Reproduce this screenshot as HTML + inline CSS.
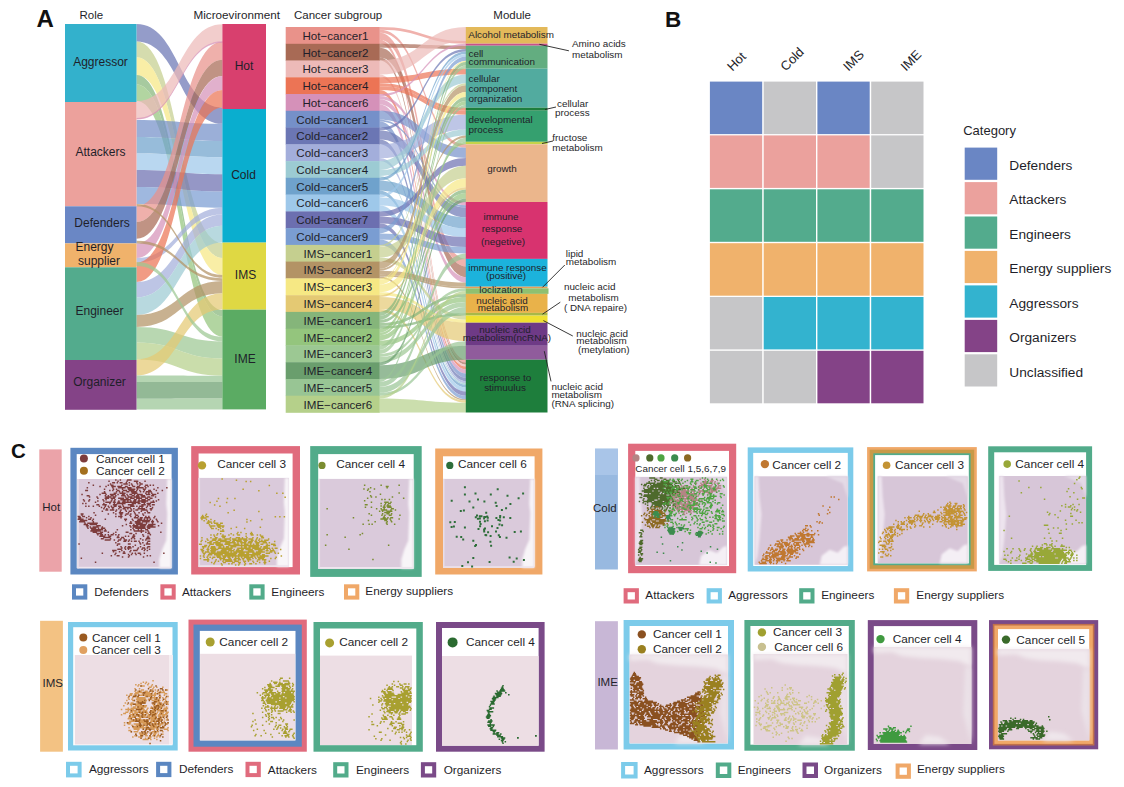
<!DOCTYPE html>
<html><head><meta charset="utf-8"><style>
html,body{margin:0;padding:0;background:#fff;}
svg{display:block;font-family:"Liberation Sans",sans-serif;}
</style></head><body>
<svg width="1124" height="787" viewBox="0 0 1124 787">
<defs><filter id="bl1" x="-50%" y="-50%" width="200%" height="200%"><feGaussianBlur stdDeviation="1"/></filter><filter id="bl2" x="-50%" y="-50%" width="200%" height="200%"><feGaussianBlur stdDeviation="2"/></filter></defs>
<rect width="1124" height="787" fill="#fff"/>
<text x="36.5" y="27.2" font-size="24" font-weight="bold" fill="#111">A</text>
<text x="79.5" y="18.9" font-size="11.5" fill="#1f1f2a">Role</text>
<text x="193.5" y="18.9" font-size="11.7" fill="#1f1f2a">Microevironment</text>
<text x="294" y="18.9" font-size="11.5" fill="#1f1f2a">Cancer subgroup</text>
<text x="493.3" y="18.9" font-size="11.5" fill="#1f1f2a">Module</text>
<path d="M136.5 24C179.5 24 179.5 107.6 222.5 107.6L222.5 123.8C179.5 123.8 179.5 41.4 136.5 41.4Z" fill="#6b76b4" fill-opacity="0.72"/>
<path d="M136.5 41.4C179.5 41.4 179.5 243 222.5 243L222.5 257.9C179.5 257.9 179.5 57.3 136.5 57.3Z" fill="#c5cf8f" fill-opacity="0.72"/>
<path d="M136.5 57.3C179.5 57.3 179.5 257.9 222.5 257.9L222.5 275C179.5 275 179.5 75.1 136.5 75.1Z" fill="#f6e884" fill-opacity="0.72"/>
<path d="M136.5 75.1C179.5 75.1 179.5 310 222.5 310L222.5 316.2C179.5 316.2 179.5 84.6 136.5 84.6Z" fill="#85b57a" fill-opacity="0.72"/>
<path d="M136.5 84.6C179.5 84.6 179.5 316.2 222.5 316.2L222.5 336.8C179.5 336.8 179.5 101.1 136.5 101.1Z" fill="#94c57d" fill-opacity="0.72"/>
<path d="M136.5 101.1C179.5 101.1 179.5 24.2 222.5 24.2L222.5 41.7C179.5 41.7 179.5 118.9 136.5 118.9Z" fill="#edbab8" fill-opacity="0.72"/>
<path d="M136.5 119.9C179.5 119.9 179.5 123.8 222.5 123.8L222.5 141C179.5 141 179.5 137 136.5 137Z" fill="#7590c9" fill-opacity="0.72"/>
<path d="M136.5 137C179.5 137 179.5 141 222.5 141L222.5 157.2C179.5 157.2 179.5 153.5 136.5 153.5Z" fill="#6fa2cc" fill-opacity="0.72"/>
<path d="M136.5 153.5C179.5 153.5 179.5 157.2 222.5 157.2L222.5 174.3C179.5 174.3 179.5 170 136.5 170Z" fill="#9ec8ea" fill-opacity="0.72"/>
<path d="M136.5 170C179.5 170 179.5 174.3 222.5 174.3L222.5 191.5C179.5 191.5 179.5 187 136.5 187Z" fill="#6c6fb0" fill-opacity="0.72"/>
<path d="M136.5 187C179.5 187 179.5 191.5 222.5 191.5L222.5 207.7C179.5 207.7 179.5 204 136.5 204Z" fill="#7a9dd2" fill-opacity="0.72"/>
<path d="M136.5 206C179.5 206 179.5 41.7 222.5 41.7L222.5 59.8C179.5 59.8 179.5 222 136.5 222Z" fill="#e9928a" fill-opacity="0.72"/>
<path d="M136.5 222C179.5 222 179.5 59.8 222.5 59.8L222.5 75.9C179.5 75.9 179.5 238.7 136.5 238.7Z" fill="#a86a55" fill-opacity="0.72"/>
<path d="M136.5 243.6C179.5 243.6 179.5 75.9 222.5 75.9L222.5 89.9C179.5 89.9 179.5 258 136.5 258Z" fill="#d591b9" fill-opacity="0.72"/>
<path d="M136.5 258C179.5 258 179.5 207.7 222.5 207.7L222.5 214.4C179.5 214.4 179.5 262.5 136.5 262.5Z" fill="#a3aedb" fill-opacity="0.72"/>
<path d="M136.5 262.5C179.5 262.5 179.5 89.9 222.5 89.9L222.5 107.4C179.5 107.4 179.5 282 136.5 282Z" fill="#ec7455" fill-opacity="0.72"/>
<path d="M136.5 282C179.5 282 179.5 214.4 222.5 214.4L222.5 225.8C179.5 225.8 179.5 297.4 136.5 297.4Z" fill="#a3aedb" fill-opacity="0.72"/>
<path d="M136.5 297.4C179.5 297.4 179.5 225.8 222.5 225.8L222.5 242.5C179.5 242.5 179.5 315 136.5 315Z" fill="#9ccbd3" fill-opacity="0.72"/>
<path d="M136.5 315C179.5 315 179.5 281 222.5 281L222.5 293.3C179.5 293.3 179.5 327 136.5 327Z" fill="#b39365" fill-opacity="0.72"/>
<path d="M136.5 327C179.5 327 179.5 341.4 222.5 341.4L222.5 358.5C179.5 358.5 179.5 342.6 136.5 342.6Z" fill="#9cc893" fill-opacity="0.72"/>
<path d="M136.5 342.6C179.5 342.6 179.5 358.5 222.5 358.5L222.5 375.7C179.5 375.7 179.5 359.4 136.5 359.4Z" fill="#b5d08a" fill-opacity="0.72"/>
<path d="M136.5 359.4C179.5 359.4 179.5 293.3 222.5 293.3L222.5 309.6C179.5 309.6 179.5 375.5 136.5 375.5Z" fill="#e4c973" fill-opacity="0.72"/>
<path d="M136.5 375.5C179.5 375.5 179.5 375.7 222.5 375.7L222.5 382C179.5 382 179.5 382 136.5 382Z" fill="#98c594" fill-opacity="0.72"/>
<path d="M136.5 382C179.5 382 179.5 382 222.5 382L222.5 398.5C179.5 398.5 179.5 398.7 136.5 398.7Z" fill="#6a9e6d" fill-opacity="0.72"/>
<path d="M136.5 398.7C179.5 398.7 179.5 398.5 222.5 398.5L222.5 409.5C179.5 409.5 179.5 409.5 136.5 409.5Z" fill="#98c594" fill-opacity="0.72"/>
<path d="M136.5 262C179.5 262 179.5 336.8 222.5 336.8L222.5 341.4C179.5 341.4 179.5 266 136.5 266Z" fill="#9cc893" fill-opacity="0.72"/>
<path d="M136.5 118C179.5 118 179.5 41.2 222.5 41.2L222.5 42.8C179.5 42.8 179.5 119.6 136.5 119.6Z" fill="#d591b9" fill-opacity="0.72"/>
<path d="M136.5 204C179.5 204 179.5 275 222.5 275L222.5 277.8C179.5 277.8 179.5 206.3 136.5 206.3Z" fill="#b39365" fill-opacity="0.72"/>
<path d="M136.5 240.8C179.5 240.8 179.5 278.2 222.5 278.2L222.5 281C179.5 281 179.5 243.4 136.5 243.4Z" fill="#b39365" fill-opacity="0.72"/>
<path d="M379.8 27C422.9 27 422.9 41 466 41L466 43.7C422.9 43.7 422.9 29.7 379.8 29.7Z" fill="#e9928a" fill-opacity="0.7"/>
<path d="M379.8 29.7C422.9 29.7 422.9 144.3 466 144.3L466 147.7C422.9 147.7 422.9 32.7 379.8 32.7Z" fill="#e9928a" fill-opacity="0.7"/>
<path d="M379.8 32.7C422.9 32.7 422.9 258.9 466 258.9L466 266.4C422.9 266.4 422.9 39.7 379.8 39.7Z" fill="#e9928a" fill-opacity="0.7"/>
<path d="M379.8 39.7C422.9 39.7 422.9 359.7 466 359.7L466 362.5C422.9 362.5 422.9 43.8 379.8 43.8Z" fill="#e9928a" fill-opacity="0.7"/>
<path d="M379.8 43.8C422.9 43.8 422.9 45.7 466 45.7L466 49C422.9 49 422.9 47.7 379.8 47.7Z" fill="#a86a55" fill-opacity="0.7"/>
<path d="M379.8 47.7C422.9 47.7 422.9 266.4 466 266.4L466 277.2C422.9 277.2 422.9 57.6 379.8 57.6Z" fill="#a86a55" fill-opacity="0.7"/>
<path d="M379.8 57.6C422.9 57.6 422.9 362.5 466 362.5L466 364.6C422.9 364.6 422.9 60.5 379.8 60.5Z" fill="#a86a55" fill-opacity="0.7"/>
<path d="M379.8 60.5C422.9 60.5 422.9 27 466 27L466 41C422.9 41 422.9 74.6 379.8 74.6Z" fill="#edbab8" fill-opacity="0.7"/>
<path d="M379.8 74.6C422.9 74.6 422.9 364.6 466 364.6L466 366.5C422.9 366.5 422.9 77.3 379.8 77.3Z" fill="#edbab8" fill-opacity="0.7"/>
<path d="M379.8 77.3C422.9 77.3 422.9 68.7 466 68.7L466 74.5C422.9 74.5 422.9 83.2 379.8 83.2Z" fill="#ec7455" fill-opacity="0.7"/>
<path d="M379.8 83.2C422.9 83.2 422.9 107.7 466 107.7L466 110.7C422.9 110.7 422.9 86.2 379.8 86.2Z" fill="#ec7455" fill-opacity="0.7"/>
<path d="M379.8 86.2C422.9 86.2 422.9 110.7 466 110.7L466 114.8C422.9 114.8 422.9 90.1 379.8 90.1Z" fill="#ec7455" fill-opacity="0.7"/>
<path d="M379.8 90.1C422.9 90.1 422.9 366.5 466 366.5L466 369.3C422.9 369.3 422.9 94 379.8 94Z" fill="#ec7455" fill-opacity="0.7"/>
<path d="M379.8 94C422.9 94 422.9 43.7 466 43.7L466 45.7C422.9 45.7 422.9 96.1 379.8 96.1Z" fill="#d591b9" fill-opacity="0.7"/>
<path d="M379.8 96.1C422.9 96.1 422.9 202 466 202L466 205.3C422.9 205.3 422.9 99.3 379.8 99.3Z" fill="#d591b9" fill-opacity="0.7"/>
<path d="M379.8 99.3C422.9 99.3 422.9 277.2 466 277.2L466 282.6C422.9 282.6 422.9 104.5 379.8 104.5Z" fill="#d591b9" fill-opacity="0.7"/>
<path d="M379.8 104.5C422.9 104.5 422.9 369.3 466 369.3L466 373.4C422.9 373.4 422.9 110.8 379.8 110.8Z" fill="#d591b9" fill-opacity="0.7"/>
<path d="M379.8 110.8C422.9 110.8 422.9 147.7 466 147.7L466 157.9C422.9 157.9 422.9 119.7 379.8 119.7Z" fill="#7590c9" fill-opacity="0.7"/>
<path d="M379.8 119.7C422.9 119.7 422.9 205.3 466 205.3L466 207.5C422.9 207.5 422.9 121.6 379.8 121.6Z" fill="#7590c9" fill-opacity="0.7"/>
<path d="M379.8 121.6C422.9 121.6 422.9 373.4 466 373.4L466 377.6C422.9 377.6 422.9 127.6 379.8 127.6Z" fill="#7590c9" fill-opacity="0.7"/>
<path d="M379.8 127.6C422.9 127.6 422.9 49 466 49L466 51.6C422.9 51.6 422.9 130.5 379.8 130.5Z" fill="#6b76b4" fill-opacity="0.7"/>
<path d="M379.8 130.5C422.9 130.5 422.9 207.5 466 207.5L466 217.3C422.9 217.3 422.9 139.4 379.8 139.4Z" fill="#6b76b4" fill-opacity="0.7"/>
<path d="M379.8 139.4C422.9 139.4 422.9 377.6 466 377.6L466 381.1C422.9 381.1 422.9 144.3 379.8 144.3Z" fill="#6b76b4" fill-opacity="0.7"/>
<path d="M379.8 144.3C422.9 144.3 422.9 114.8 466 114.8L466 129.4C422.9 129.4 422.9 158.1 379.8 158.1Z" fill="#a3aedb" fill-opacity="0.7"/>
<path d="M379.8 158.1C422.9 158.1 422.9 381.1 466 381.1L466 383.2C422.9 383.2 422.9 161.1 379.8 161.1Z" fill="#a3aedb" fill-opacity="0.7"/>
<path d="M379.8 161.1C422.9 161.1 422.9 74.5 466 74.5L466 83.3C422.9 83.3 422.9 170 379.8 170Z" fill="#9ccbd3" fill-opacity="0.7"/>
<path d="M379.8 170C422.9 170 422.9 129.4 466 129.4L466 135.6C422.9 135.6 422.9 175.9 379.8 175.9Z" fill="#9ccbd3" fill-opacity="0.7"/>
<path d="M379.8 175.9C422.9 175.9 422.9 383.2 466 383.2L466 384.6C422.9 384.6 422.9 177.8 379.8 177.8Z" fill="#9ccbd3" fill-opacity="0.7"/>
<path d="M379.8 177.8C422.9 177.8 422.9 51.6 466 51.6L466 54.1C422.9 54.1 422.9 180.8 379.8 180.8Z" fill="#6fa2cc" fill-opacity="0.7"/>
<path d="M379.8 180.8C422.9 180.8 422.9 217.3 466 217.3L466 228.3C422.9 228.3 422.9 190.7 379.8 190.7Z" fill="#6fa2cc" fill-opacity="0.7"/>
<path d="M379.8 190.7C422.9 190.7 422.9 384.6 466 384.6L466 387.4C422.9 387.4 422.9 194.6 379.8 194.6Z" fill="#6fa2cc" fill-opacity="0.7"/>
<path d="M379.8 194.6C422.9 194.6 422.9 54.1 466 54.1L466 56.6C422.9 56.6 422.9 197.6 379.8 197.6Z" fill="#9ec8ea" fill-opacity="0.7"/>
<path d="M379.8 197.6C422.9 197.6 422.9 228.3 466 228.3L466 237C422.9 237 422.9 205.4 379.8 205.4Z" fill="#9ec8ea" fill-opacity="0.7"/>
<path d="M379.8 205.4C422.9 205.4 422.9 387.4 466 387.4L466 391.6C422.9 391.6 422.9 211.4 379.8 211.4Z" fill="#9ec8ea" fill-opacity="0.7"/>
<path d="M379.8 211.4C422.9 211.4 422.9 157.9 466 157.9L466 165.8C422.9 165.8 422.9 216.7 379.8 216.7Z" fill="#6c6fb0" fill-opacity="0.7"/>
<path d="M379.8 216.7C422.9 216.7 422.9 237 466 237L466 246.9C422.9 246.9 422.9 223.5 379.8 223.5Z" fill="#6c6fb0" fill-opacity="0.7"/>
<path d="M379.8 223.5C422.9 223.5 422.9 391.6 466 391.6L466 395.8C422.9 395.8 422.9 228.1 379.8 228.1Z" fill="#6c6fb0" fill-opacity="0.7"/>
<path d="M379.8 228.1C422.9 228.1 422.9 56.6 466 56.6L466 60.8C422.9 60.8 422.9 233.4 379.8 233.4Z" fill="#7a9dd2" fill-opacity="0.7"/>
<path d="M379.8 233.4C422.9 233.4 422.9 246.9 466 246.9L466 253.4C422.9 253.4 422.9 239.6 379.8 239.6Z" fill="#7a9dd2" fill-opacity="0.7"/>
<path d="M379.8 239.6C422.9 239.6 422.9 395.8 466 395.8L466 399.2C422.9 399.2 422.9 244.9 379.8 244.9Z" fill="#7a9dd2" fill-opacity="0.7"/>
<path d="M379.8 244.9C422.9 244.9 422.9 83.3 466 83.3L466 85.3C422.9 85.3 422.9 246.8 379.8 246.8Z" fill="#c5cf8f" fill-opacity="0.7"/>
<path d="M379.8 246.8C422.9 246.8 422.9 165.8 466 165.8L466 178.2C422.9 178.2 422.9 257.6 379.8 257.6Z" fill="#c5cf8f" fill-opacity="0.7"/>
<path d="M379.8 257.6C422.9 257.6 422.9 315.6 466 315.6L466 319.7C422.9 319.7 422.9 261.6 379.8 261.6Z" fill="#c5cf8f" fill-opacity="0.7"/>
<path d="M379.8 261.6C422.9 261.6 422.9 85.3 466 85.3L466 92.1C422.9 92.1 422.9 268.8 379.8 268.8Z" fill="#b39365" fill-opacity="0.7"/>
<path d="M379.8 268.8C422.9 268.8 422.9 135.6 466 135.6L466 137.7C422.9 137.7 422.9 270.8 379.8 270.8Z" fill="#b39365" fill-opacity="0.7"/>
<path d="M379.8 270.8C422.9 270.8 422.9 282.6 466 282.6L466 286.7C422.9 286.7 422.9 274.7 379.8 274.7Z" fill="#b39365" fill-opacity="0.7"/>
<path d="M379.8 274.7C422.9 274.7 422.9 286.7 466 286.7L466 288.3C422.9 288.3 422.9 276.4 379.8 276.4Z" fill="#b39365" fill-opacity="0.7"/>
<path d="M379.8 276.4C422.9 276.4 422.9 399.2 466 399.2L466 400.6C422.9 400.6 422.9 278.4 379.8 278.4Z" fill="#b39365" fill-opacity="0.7"/>
<path d="M379.8 278.4C422.9 278.4 422.9 60.8 466 60.8L466 62C422.9 62 422.9 279.8 379.8 279.8Z" fill="#f6e884" fill-opacity="0.7"/>
<path d="M379.8 279.8C422.9 279.8 422.9 92.1 466 92.1L466 97C422.9 97 422.9 284.6 379.8 284.6Z" fill="#f6e884" fill-opacity="0.7"/>
<path d="M379.8 284.6C422.9 284.6 422.9 178.2 466 178.2L466 187.3C422.9 187.3 422.9 292.3 379.8 292.3Z" fill="#f6e884" fill-opacity="0.7"/>
<path d="M379.8 292.3C422.9 292.3 422.9 319.7 466 319.7L466 322.7C422.9 322.7 422.9 295.2 379.8 295.2Z" fill="#f6e884" fill-opacity="0.7"/>
<path d="M379.8 295.2C422.9 295.2 422.9 187.3 466 187.3L466 189.6C422.9 189.6 422.9 297.1 379.8 297.1Z" fill="#e4c973" fill-opacity="0.7"/>
<path d="M379.8 297.1C422.9 297.1 422.9 322.7 466 322.7L466 341.2C422.9 341.2 422.9 309 379.8 309Z" fill="#e4c973" fill-opacity="0.7"/>
<path d="M379.8 309C422.9 309 422.9 400.6 466 400.6L466 402.7C422.9 402.7 422.9 311.9 379.8 311.9Z" fill="#e4c973" fill-opacity="0.7"/>
<path d="M379.8 311.9C422.9 311.9 422.9 62 466 62L466 65.4C422.9 65.4 422.9 315.9 379.8 315.9Z" fill="#85b57a" fill-opacity="0.7"/>
<path d="M379.8 315.9C422.9 315.9 422.9 97 466 97L466 100.9C422.9 100.9 422.9 319.9 379.8 319.9Z" fill="#85b57a" fill-opacity="0.7"/>
<path d="M379.8 319.9C422.9 319.9 422.9 189.6 466 189.6L466 192.9C422.9 192.9 422.9 323 379.8 323Z" fill="#85b57a" fill-opacity="0.7"/>
<path d="M379.8 323C422.9 323 422.9 293.9 466 293.9L466 296.9C422.9 296.9 422.9 326 379.8 326Z" fill="#85b57a" fill-opacity="0.7"/>
<path d="M379.8 326C422.9 326 422.9 312.9 466 312.9L466 315.6C422.9 315.6 422.9 328.7 379.8 328.7Z" fill="#85b57a" fill-opacity="0.7"/>
<path d="M379.8 328.7C422.9 328.7 422.9 100.9 466 100.9L466 104.8C422.9 104.8 422.9 332.7 379.8 332.7Z" fill="#94c57d" fill-opacity="0.7"/>
<path d="M379.8 332.7C422.9 332.7 422.9 141.8 466 141.8L466 144.3C422.9 144.3 422.9 335.3 379.8 335.3Z" fill="#94c57d" fill-opacity="0.7"/>
<path d="M379.8 335.3C422.9 335.3 422.9 192.9 466 192.9L466 198.6C422.9 198.6 422.9 340.4 379.8 340.4Z" fill="#94c57d" fill-opacity="0.7"/>
<path d="M379.8 340.4C422.9 340.4 422.9 296.9 466 296.9L466 301.9C422.9 301.9 422.9 345.4 379.8 345.4Z" fill="#94c57d" fill-opacity="0.7"/>
<path d="M379.8 345.4C422.9 345.4 422.9 65.4 466 65.4L466 68.7C422.9 68.7 422.9 349.7 379.8 349.7Z" fill="#9cc893" fill-opacity="0.7"/>
<path d="M379.8 349.7C422.9 349.7 422.9 137.7 466 137.7L466 141.8C422.9 141.8 422.9 353.9 379.8 353.9Z" fill="#9cc893" fill-opacity="0.7"/>
<path d="M379.8 353.9C422.9 353.9 422.9 288.3 466 288.3L466 291.1C422.9 291.1 422.9 356.9 379.8 356.9Z" fill="#9cc893" fill-opacity="0.7"/>
<path d="M379.8 356.9C422.9 356.9 422.9 301.9 466 301.9L466 306.9C422.9 306.9 422.9 362.2 379.8 362.2Z" fill="#9cc893" fill-opacity="0.7"/>
<path d="M379.8 362.2C422.9 362.2 422.9 198.6 466 198.6L466 202C422.9 202 422.9 365.2 379.8 365.2Z" fill="#6a9e6d" fill-opacity="0.7"/>
<path d="M379.8 365.2C422.9 365.2 422.9 345.8 466 345.8L466 359.7C422.9 359.7 422.9 379 379.8 379Z" fill="#6a9e6d" fill-opacity="0.7"/>
<path d="M379.8 379C422.9 379 422.9 104.8 466 104.8L466 107.7C422.9 107.7 422.9 381.9 379.8 381.9Z" fill="#98c594" fill-opacity="0.7"/>
<path d="M379.8 381.9C422.9 381.9 422.9 253.4 466 253.4L466 258.9C422.9 258.9 422.9 386.8 379.8 386.8Z" fill="#98c594" fill-opacity="0.7"/>
<path d="M379.8 386.8C422.9 386.8 422.9 306.9 466 306.9L466 312.9C422.9 312.9 422.9 392.8 379.8 392.8Z" fill="#98c594" fill-opacity="0.7"/>
<path d="M379.8 392.8C422.9 392.8 422.9 341.2 466 341.2L466 345.8C422.9 345.8 422.9 395.7 379.8 395.7Z" fill="#98c594" fill-opacity="0.7"/>
<path d="M379.8 395.7C422.9 395.7 422.9 291.1 466 291.1L466 293.9C422.9 293.9 422.9 398.5 379.8 398.5Z" fill="#b5d08a" fill-opacity="0.7"/>
<path d="M379.8 398.5C422.9 398.5 422.9 402.7 466 402.7L466 412.5C422.9 412.5 422.9 412.5 379.8 412.5Z" fill="#b5d08a" fill-opacity="0.7"/>
<rect x="65" y="24" width="71.5" height="78" fill="#33b1cc"/>
<rect x="65" y="102" width="71.5" height="104.3" fill="#eca19c"/>
<rect x="65" y="206.3" width="71.5" height="37.1" fill="#6a87c5"/>
<rect x="65" y="243.4" width="71.5" height="23.9" fill="#f0b26b"/>
<rect x="65" y="267.3" width="71.5" height="92.7" fill="#53ab8d"/>
<rect x="65" y="360" width="71.5" height="49.8" fill="#844387"/>
<text x="100.5" y="65.5" font-size="12" text-anchor="middle" fill="#1f1f2a">Aggressor</text>
<text x="100.5" y="156" font-size="12" text-anchor="middle" fill="#1f1f2a">Attackers</text>
<text x="102" y="226.8" font-size="12" text-anchor="middle" fill="#1f1f2a">Defenders</text>
<text x="94.5" y="251" font-size="12" text-anchor="middle" fill="#1f1f2a">Energy</text>
<text x="99" y="265" font-size="12" text-anchor="middle" fill="#1f1f2a">supplier</text>
<text x="99.5" y="315" font-size="12" text-anchor="middle" fill="#1f1f2a">Engineer</text>
<text x="99.5" y="385.9" font-size="12" text-anchor="middle" fill="#1f1f2a">Organizer</text>
<rect x="222.4" y="24" width="43.6" height="85" fill="#d8406e"/>
<text x="244" y="69.5" font-size="12" text-anchor="middle" fill="#1f1f2a">Hot</text>
<rect x="222.4" y="109" width="43.6" height="133.6" fill="#0aaecf"/>
<text x="243.5" y="178.6" font-size="12" text-anchor="middle" fill="#1f1f2a">Cold</text>
<rect x="222.4" y="242.6" width="43.6" height="67.1" fill="#dfd843"/>
<text x="245.5" y="278.8" font-size="12" text-anchor="middle" fill="#1f1f2a">IMS</text>
<rect x="222.4" y="309.7" width="43.6" height="99.7" fill="#5bab63"/>
<text x="245" y="362.9" font-size="12" text-anchor="middle" fill="#1f1f2a">IME</text>
<rect x="285.7" y="27" width="94.1" height="17.1" fill="#e9928a"/>
<text x="302.4" y="39.8" font-size="11.6" fill="#1f1f2a">Hot−cancer1</text>
<rect x="285.7" y="43.8" width="94.1" height="17.1" fill="#a86a55"/>
<text x="302.4" y="56.6" font-size="11.6" fill="#1f1f2a">Hot−cancer2</text>
<rect x="285.7" y="60.5" width="94.1" height="17.1" fill="#edbab8"/>
<text x="302.4" y="73.3" font-size="11.6" fill="#1f1f2a">Hot−cancer3</text>
<rect x="285.7" y="77.3" width="94.1" height="17.1" fill="#ec7455"/>
<text x="302.4" y="90.1" font-size="11.6" fill="#1f1f2a">Hot−cancer4</text>
<rect x="285.7" y="94" width="94.1" height="17.1" fill="#d591b9"/>
<text x="302.4" y="106.8" font-size="11.6" fill="#1f1f2a">Hot−cancer6</text>
<rect x="285.7" y="110.8" width="94.1" height="17.1" fill="#7590c9"/>
<text x="296.3" y="123.6" font-size="11.6" fill="#1f1f2a">Cold−cancer1</text>
<rect x="285.7" y="127.6" width="94.1" height="17.1" fill="#6b76b4"/>
<text x="296.3" y="140.4" font-size="11.6" fill="#1f1f2a">Cold−cancer2</text>
<rect x="285.7" y="144.3" width="94.1" height="17.1" fill="#a3aedb"/>
<text x="296.3" y="157.1" font-size="11.6" fill="#1f1f2a">Cold−cancer3</text>
<rect x="285.7" y="161.1" width="94.1" height="17.1" fill="#9ccbd3"/>
<text x="296.3" y="173.9" font-size="11.6" fill="#1f1f2a">Cold−cancer4</text>
<rect x="285.7" y="177.8" width="94.1" height="17.1" fill="#6fa2cc"/>
<text x="296.3" y="190.6" font-size="11.6" fill="#1f1f2a">Cold−cancer5</text>
<rect x="285.7" y="194.6" width="94.1" height="17.1" fill="#9ec8ea"/>
<text x="296.3" y="207.4" font-size="11.6" fill="#1f1f2a">Cold−cancer6</text>
<rect x="285.7" y="211.4" width="94.1" height="17.1" fill="#6c6fb0"/>
<text x="296.3" y="224.2" font-size="11.6" fill="#1f1f2a">Cold−cancer7</text>
<rect x="285.7" y="228.1" width="94.1" height="17.1" fill="#7a9dd2"/>
<text x="296.3" y="240.9" font-size="11.6" fill="#1f1f2a">Cold−cancer9</text>
<rect x="285.7" y="244.9" width="94.1" height="17.1" fill="#c5cf8f"/>
<text x="303.5" y="257.7" font-size="11.6" fill="#1f1f2a">IMS−cancer1</text>
<rect x="285.7" y="261.6" width="94.1" height="17.1" fill="#b39365"/>
<text x="303.5" y="274.4" font-size="11.6" fill="#1f1f2a">IMS−cancer2</text>
<rect x="285.7" y="278.4" width="94.1" height="17.1" fill="#f6e884"/>
<text x="303.5" y="291.2" font-size="11.6" fill="#1f1f2a">IMS−cancer3</text>
<rect x="285.7" y="295.2" width="94.1" height="17.1" fill="#e4c973"/>
<text x="303.5" y="308" font-size="11.6" fill="#1f1f2a">IMS−cancer4</text>
<rect x="285.7" y="311.9" width="94.1" height="17.1" fill="#85b57a"/>
<text x="303.5" y="324.7" font-size="11.6" fill="#1f1f2a">IME−cancer1</text>
<rect x="285.7" y="328.7" width="94.1" height="17.1" fill="#94c57d"/>
<text x="303.5" y="341.5" font-size="11.6" fill="#1f1f2a">IME−cancer2</text>
<rect x="285.7" y="345.4" width="94.1" height="17.1" fill="#9cc893"/>
<text x="303.5" y="358.2" font-size="11.6" fill="#1f1f2a">IME−cancer3</text>
<rect x="285.7" y="362.2" width="94.1" height="17.1" fill="#6a9e6d"/>
<text x="303.5" y="375" font-size="11.6" fill="#1f1f2a">IME−cancer4</text>
<rect x="285.7" y="379" width="94.1" height="17.1" fill="#98c594"/>
<text x="303.5" y="391.8" font-size="11.6" fill="#1f1f2a">IME−cancer5</text>
<rect x="285.7" y="395.7" width="94.1" height="17.1" fill="#b5d08a"/>
<text x="303.5" y="408.5" font-size="11.6" fill="#1f1f2a">IME−cancer6</text>
<rect x="465.8" y="27" width="81.7" height="16.7" fill="#e3b95a"/>
<rect x="465.8" y="43.7" width="81.7" height="2" fill="#c8508c"/>
<rect x="465.8" y="45.7" width="81.7" height="23" fill="#63ad80"/>
<rect x="465.8" y="68.7" width="81.7" height="39" fill="#52ab9f"/>
<rect x="465.8" y="107.7" width="81.7" height="3" fill="#1e7d3c"/>
<rect x="465.8" y="110.7" width="81.7" height="31.1" fill="#35a06f"/>
<rect x="465.8" y="141.8" width="81.7" height="2.5" fill="#c4d44a"/>
<rect x="465.8" y="144.3" width="81.7" height="57.7" fill="#ebb68c"/>
<rect x="465.8" y="202" width="81.7" height="56.9" fill="#d8336f"/>
<rect x="465.8" y="258.9" width="81.7" height="27.8" fill="#1cb3dc"/>
<rect x="465.8" y="286.7" width="81.7" height="1.6" fill="#e8a058"/>
<rect x="465.8" y="288.3" width="82.7" height="5.6" fill="#8fc070"/>
<rect x="465.8" y="293.9" width="81.7" height="19" fill="#e9b24a"/>
<rect x="465.8" y="312.9" width="81.7" height="2.7" fill="#a8b848"/>
<rect x="465.8" y="315.6" width="81.7" height="7.1" fill="#f0e030"/>
<rect x="465.8" y="322.7" width="81.7" height="23.1" fill="#6e3a86"/>
<rect x="465.8" y="345.8" width="81.7" height="13.9" fill="#905c9c"/>
<rect x="465.8" y="359.7" width="81.7" height="52.8" fill="#1e7e3c"/>
<text x="468.3" y="37.6" font-size="9.9" fill="#1f1f2a">Alcohol metabolism</text>
<text x="468.5" y="57" font-size="9.9" fill="#1f1f2a">cell</text>
<text x="468.5" y="64.5" font-size="9.9" fill="#1f1f2a">communication</text>
<text x="468.5" y="81.5" font-size="9.9" fill="#1f1f2a">cellular</text>
<text x="468.5" y="91.5" font-size="9.9" fill="#1f1f2a">component</text>
<text x="468.5" y="101.5" font-size="9.9" fill="#1f1f2a">organization</text>
<text x="468.5" y="122.5" font-size="9.9" fill="#1f1f2a">developmental</text>
<text x="468.5" y="132.5" font-size="9.9" fill="#1f1f2a">process</text>
<text x="502" y="172" font-size="9.9" text-anchor="middle" fill="#1f1f2a">growth</text>
<text x="501" y="219.7" font-size="9.9" text-anchor="middle" fill="#1f1f2a">immune</text>
<text x="502" y="231.8" font-size="9.9" text-anchor="middle" fill="#1f1f2a">response</text>
<text x="503" y="244.6" font-size="9.9" text-anchor="middle" fill="#1f1f2a">(negetive)</text>
<text x="507.5" y="270.5" font-size="9.9" text-anchor="middle" fill="#1f1f2a">immune response</text>
<text x="506" y="278.8" font-size="9.9" text-anchor="middle" fill="#1f1f2a">(positive)</text>
<text x="501" y="293.2" font-size="9.9" text-anchor="middle" fill="#1f1f2a">loclization</text>
<text x="502" y="303.7" font-size="9.9" text-anchor="middle" fill="#1f1f2a">nucleic acid</text>
<text x="503" y="311.1" font-size="9.9" text-anchor="middle" fill="#1f1f2a">metabolism</text>
<text x="505" y="333.4" font-size="9.9" text-anchor="middle" fill="#1f1f2a">nucleic acid</text>
<text x="507" y="341" font-size="9.9" text-anchor="middle" fill="#1f1f2a">metabolism(ncRNA)</text>
<text x="505.5" y="380.5" font-size="9.9" text-anchor="middle" fill="#1f1f2a">response to</text>
<text x="505" y="391.2" font-size="9.9" text-anchor="middle" fill="#1f1f2a">stimuulus</text>
<text x="572" y="46.7" font-size="9.9" fill="#1f1f2a">Amino acids</text>
<text x="572" y="57.5" font-size="9.9" fill="#1f1f2a">metabolism</text>
<text x="557" y="106.7" font-size="9.9" fill="#1f1f2a">cellular</text>
<text x="555" y="116.4" font-size="9.9" fill="#1f1f2a">process</text>
<text x="552.2" y="140.8" font-size="9.9" fill="#1f1f2a">fructose</text>
<text x="552.2" y="151.4" font-size="9.9" fill="#1f1f2a">metabolism</text>
<text x="565.8" y="256.8" font-size="9.9" fill="#1f1f2a">lipid</text>
<text x="565.8" y="265.4" font-size="9.9" fill="#1f1f2a">metabolism</text>
<text x="563.9" y="289.8" font-size="9.9" fill="#1f1f2a">nucleic acid</text>
<text x="568.3" y="300.5" font-size="9.9" fill="#1f1f2a">metabolism</text>
<text x="563.9" y="310.6" font-size="9.9" fill="#1f1f2a">( DNA repaire)</text>
<text x="576.3" y="336.6" font-size="9.9" fill="#1f1f2a">nucleic acid</text>
<text x="576.3" y="344.4" font-size="9.9" fill="#1f1f2a">metabolism</text>
<text x="578" y="353.3" font-size="9.9" fill="#1f1f2a">(metylation)</text>
<text x="551.4" y="390.3" font-size="9.9" fill="#1f1f2a">nucleic acid</text>
<text x="551.4" y="398.3" font-size="9.9" fill="#1f1f2a">metabolism</text>
<text x="551.4" y="406.7" font-size="9.9" fill="#1f1f2a">(RNA splicing)</text>
<line x1="539.4" y1="44.3" x2="568.9" y2="50.8" stroke="#222" stroke-width="0.9"/>
<line x1="545" y1="109.5" x2="556" y2="107" stroke="#222" stroke-width="0.9"/>
<line x1="542" y1="143.5" x2="553" y2="141" stroke="#222" stroke-width="0.9"/>
<line x1="542.5" y1="287.3" x2="564.8" y2="265" stroke="#222" stroke-width="0.9"/>
<line x1="542.5" y1="314.2" x2="560.3" y2="302.2" stroke="#222" stroke-width="0.9"/>
<line x1="543.4" y1="320.6" x2="572.8" y2="336" stroke="#222" stroke-width="0.9"/>
<line x1="544.3" y1="351.2" x2="551" y2="381.4" stroke="#222" stroke-width="0.9"/>
<text x="665" y="26.5" font-size="22.5" font-weight="bold" fill="#111">B</text>
<rect x="709.9" y="81.6" width="52.3" height="52.5" fill="#6a86c4"/>
<rect x="763.7" y="81.6" width="52.3" height="52.5" fill="#c6c6c8"/>
<rect x="817.4" y="81.6" width="52.3" height="52.5" fill="#6a86c4"/>
<rect x="871.2" y="81.6" width="52.3" height="52.5" fill="#c6c6c8"/>
<rect x="709.9" y="135.4" width="52.3" height="52.5" fill="#eba19d"/>
<rect x="763.7" y="135.4" width="52.3" height="52.5" fill="#eba19d"/>
<rect x="817.4" y="135.4" width="52.3" height="52.5" fill="#eba19d"/>
<rect x="871.2" y="135.4" width="52.3" height="52.5" fill="#c6c6c8"/>
<rect x="709.9" y="189.3" width="52.3" height="52.5" fill="#53ab8d"/>
<rect x="763.7" y="189.3" width="52.3" height="52.5" fill="#53ab8d"/>
<rect x="817.4" y="189.3" width="52.3" height="52.5" fill="#53ab8d"/>
<rect x="871.2" y="189.3" width="52.3" height="52.5" fill="#53ab8d"/>
<rect x="709.9" y="243.2" width="52.3" height="52.5" fill="#f0b26c"/>
<rect x="763.7" y="243.2" width="52.3" height="52.5" fill="#f0b26c"/>
<rect x="817.4" y="243.2" width="52.3" height="52.5" fill="#f0b26c"/>
<rect x="871.2" y="243.2" width="52.3" height="52.5" fill="#f0b26c"/>
<rect x="709.9" y="297" width="52.3" height="52.4" fill="#c6c6c8"/>
<rect x="763.7" y="297" width="52.3" height="52.4" fill="#33b3cf"/>
<rect x="817.4" y="297" width="52.3" height="52.4" fill="#33b3cf"/>
<rect x="871.2" y="297" width="52.3" height="52.4" fill="#33b3cf"/>
<rect x="709.9" y="350.8" width="52.3" height="52.5" fill="#c6c6c8"/>
<rect x="763.7" y="350.8" width="52.3" height="52.5" fill="#c6c6c8"/>
<rect x="817.4" y="350.8" width="52.3" height="52.5" fill="#844387"/>
<rect x="871.2" y="350.8" width="52.3" height="52.5" fill="#844387"/>
<text x="732.4" y="71.7" font-size="13" fill="#1f1f2a" transform="rotate(-45 732.4 71.7)">Hot</text>
<text x="785.8" y="71.7" font-size="13" fill="#1f1f2a" transform="rotate(-45 785.8 71.7)">Cold</text>
<text x="848.5" y="71.7" font-size="13" fill="#1f1f2a" transform="rotate(-45 848.5 71.7)">IMS</text>
<text x="905.9" y="71.7" font-size="13" fill="#1f1f2a" transform="rotate(-45 905.9 71.7)">IME</text>
<text x="963.2" y="135" font-size="13" fill="#1f1f2a">Category</text>
<rect x="964.7" y="147.6" width="32.5" height="32.2" fill="#6a86c4"/>
<text x="1009.3" y="169.8" font-size="13.7" fill="#1f1f2a">Defenders</text>
<rect x="964.7" y="182.1" width="32.5" height="32.2" fill="#eba19d"/>
<text x="1009.3" y="204.2" font-size="13.7" fill="#1f1f2a">Attackers</text>
<rect x="964.7" y="216.5" width="32.5" height="32.2" fill="#53ab8d"/>
<text x="1009.3" y="238.7" font-size="13.7" fill="#1f1f2a">Engineers</text>
<rect x="964.7" y="250.9" width="32.5" height="32.2" fill="#f0b26c"/>
<text x="1009.3" y="273.1" font-size="13.7" fill="#1f1f2a">Energy suppliers</text>
<rect x="964.7" y="285.4" width="32.5" height="32.2" fill="#33b3cf"/>
<text x="1009.3" y="307.6" font-size="13.7" fill="#1f1f2a">Aggressors</text>
<rect x="964.7" y="319.9" width="32.5" height="32.2" fill="#844387"/>
<text x="1009.3" y="342.1" font-size="13.7" fill="#1f1f2a">Organizers</text>
<rect x="964.7" y="354.3" width="32.5" height="32.2" fill="#c6c6c8"/>
<text x="1009.3" y="376.5" font-size="13.7" fill="#1f1f2a">Unclassified</text>
<text x="11" y="457.5" font-size="20.5" font-weight="bold" fill="#111">C</text>
<rect x="39.3" y="449.4" width="22.4" height="122.3" fill="#eba3a9"/>
<text x="42.3" y="511.2" font-size="11.5" fill="#1f1f2a">Hot</text>
<rect x="70.4" y="447.8" width="107.5" height="126.7" fill="#5b87c1"/>
<rect x="76.7" y="454.1" width="94.9" height="114.1" fill="#fff"/>
<rect x="77.3" y="479" width="94" height="89.3" fill="#dacadb"/>
<polygon points="167.3,479 171.3,479 171.3,568.3 159.3,568.3 159.3,559.3 162.3,549.3 166.3,540.3 167.3,513.3 166.3,504" fill="#f8f5f8" filter="url(#bl1)"/>
<rect x="77.3" y="566.8" width="94" height="1.5" fill="#eee6ee"/>
<rect x="77.3" y="479" width="1.5" height="89.3" fill="#e8dee8"/>
<path d="M115.1 479.3h1.5v1.5h-1.5zM119.6 479.3h1.5v1.5h-1.5zM127.1 479.3h1.5v1.5h-1.5zM128.6 479.3h1.5v1.5h-1.5zM130.1 479.3h1.5v1.5h-1.5zM108.3 480.6h1.5v1.5h-1.5zM117.3 480.6h1.5v1.5h-1.5zM126.3 480.6h1.5v1.5h-1.5zM133.8 480.6h1.5v1.5h-1.5zM135.3 480.6h1.5v1.5h-1.5zM136.8 480.6h1.5v1.5h-1.5zM144.3 480.6h1.5v1.5h-1.5zM88.1 481.9h1.5v1.5h-1.5zM112.1 481.9h1.5v1.5h-1.5zM113.6 481.9h1.5v1.5h-1.5zM116.6 481.9h1.5v1.5h-1.5zM119.6 481.9h1.5v1.5h-1.5zM121.1 481.9h1.5v1.5h-1.5zM125.6 481.9h1.5v1.5h-1.5zM128.6 481.9h1.5v1.5h-1.5zM136.1 481.9h1.5v1.5h-1.5zM139.1 481.9h1.5v1.5h-1.5zM109.8 483.2h1.5v1.5h-1.5zM123.3 483.2h1.5v1.5h-1.5zM124.8 483.2h1.5v1.5h-1.5zM126.3 483.2h1.5v1.5h-1.5zM130.8 483.2h1.5v1.5h-1.5zM136.8 483.2h1.5v1.5h-1.5zM139.8 483.2h1.5v1.5h-1.5zM141.3 483.2h1.5v1.5h-1.5zM92.6 484.5h1.5v1.5h-1.5zM107.6 484.5h1.5v1.5h-1.5zM110.6 484.5h1.5v1.5h-1.5zM112.1 484.5h1.5v1.5h-1.5zM121.1 484.5h1.5v1.5h-1.5zM128.6 484.5h1.5v1.5h-1.5zM131.6 484.5h1.5v1.5h-1.5zM139.1 484.5h1.5v1.5h-1.5zM145.1 484.5h1.5v1.5h-1.5zM146.6 484.5h1.5v1.5h-1.5zM149.6 484.5h1.5v1.5h-1.5zM152.6 484.5h1.5v1.5h-1.5zM99.3 485.8h1.5v1.5h-1.5zM105.3 485.8h1.5v1.5h-1.5zM111.3 485.8h1.5v1.5h-1.5zM112.8 485.8h1.5v1.5h-1.5zM114.3 485.8h1.5v1.5h-1.5zM117.3 485.8h1.5v1.5h-1.5zM118.8 485.8h1.5v1.5h-1.5zM120.3 485.8h1.5v1.5h-1.5zM124.8 485.8h1.5v1.5h-1.5zM126.3 485.8h1.5v1.5h-1.5zM132.3 485.8h1.5v1.5h-1.5zM133.8 485.8h1.5v1.5h-1.5zM136.8 485.8h1.5v1.5h-1.5zM138.3 485.8h1.5v1.5h-1.5zM144.3 485.8h1.5v1.5h-1.5zM147.3 485.8h1.5v1.5h-1.5zM86.6 487.1h1.5v1.5h-1.5zM112.1 487.1h1.5v1.5h-1.5zM118.1 487.1h1.5v1.5h-1.5zM119.6 487.1h1.5v1.5h-1.5zM121.1 487.1h1.5v1.5h-1.5zM122.6 487.1h1.5v1.5h-1.5zM124.1 487.1h1.5v1.5h-1.5zM127.1 487.1h1.5v1.5h-1.5zM128.6 487.1h1.5v1.5h-1.5zM130.1 487.1h1.5v1.5h-1.5zM136.1 487.1h1.5v1.5h-1.5zM137.6 487.1h1.5v1.5h-1.5zM139.1 487.1h1.5v1.5h-1.5zM140.6 487.1h1.5v1.5h-1.5zM142.1 487.1h1.5v1.5h-1.5zM145.1 487.1h1.5v1.5h-1.5zM157.1 487.1h1.5v1.5h-1.5zM166.1 487.1h1.5v1.5h-1.5zM103.8 488.4h1.5v1.5h-1.5zM112.8 488.4h1.5v1.5h-1.5zM115.8 488.4h1.5v1.5h-1.5zM121.8 488.4h1.5v1.5h-1.5zM127.8 488.4h1.5v1.5h-1.5zM129.3 488.4h1.5v1.5h-1.5zM130.8 488.4h1.5v1.5h-1.5zM132.3 488.4h1.5v1.5h-1.5zM133.8 488.4h1.5v1.5h-1.5zM136.8 488.4h1.5v1.5h-1.5zM142.8 488.4h1.5v1.5h-1.5zM144.3 488.4h1.5v1.5h-1.5zM153.3 488.4h1.5v1.5h-1.5zM85.1 489.7h1.5v1.5h-1.5zM86.6 489.7h1.5v1.5h-1.5zM109.1 489.7h1.5v1.5h-1.5zM112.1 489.7h1.5v1.5h-1.5zM116.6 489.7h1.5v1.5h-1.5zM118.1 489.7h1.5v1.5h-1.5zM122.6 489.7h1.5v1.5h-1.5zM124.1 489.7h1.5v1.5h-1.5zM125.6 489.7h1.5v1.5h-1.5zM128.6 489.7h1.5v1.5h-1.5zM130.1 489.7h1.5v1.5h-1.5zM131.6 489.7h1.5v1.5h-1.5zM133.1 489.7h1.5v1.5h-1.5zM136.1 489.7h1.5v1.5h-1.5zM139.1 489.7h1.5v1.5h-1.5zM143.6 489.7h1.5v1.5h-1.5zM148.1 489.7h1.5v1.5h-1.5zM149.6 489.7h1.5v1.5h-1.5zM155.6 489.7h1.5v1.5h-1.5zM161.6 489.7h1.5v1.5h-1.5zM103.8 491h1.5v1.5h-1.5zM115.8 491h1.5v1.5h-1.5zM118.8 491h1.5v1.5h-1.5zM121.8 491h1.5v1.5h-1.5zM126.3 491h1.5v1.5h-1.5zM127.8 491h1.5v1.5h-1.5zM130.8 491h1.5v1.5h-1.5zM132.3 491h1.5v1.5h-1.5zM133.8 491h1.5v1.5h-1.5zM135.3 491h1.5v1.5h-1.5zM139.8 491h1.5v1.5h-1.5zM142.8 491h1.5v1.5h-1.5zM145.8 491h1.5v1.5h-1.5zM147.3 491h1.5v1.5h-1.5zM148.8 491h1.5v1.5h-1.5zM150.3 491h1.5v1.5h-1.5zM101.6 492.4h1.5v1.5h-1.5zM103.1 492.4h1.5v1.5h-1.5zM104.6 492.4h1.5v1.5h-1.5zM113.6 492.4h1.5v1.5h-1.5zM115.1 492.4h1.5v1.5h-1.5zM119.6 492.4h1.5v1.5h-1.5zM121.1 492.4h1.5v1.5h-1.5zM122.6 492.4h1.5v1.5h-1.5zM124.1 492.4h1.5v1.5h-1.5zM131.6 492.4h1.5v1.5h-1.5zM133.1 492.4h1.5v1.5h-1.5zM134.6 492.4h1.5v1.5h-1.5zM136.1 492.4h1.5v1.5h-1.5zM145.1 492.4h1.5v1.5h-1.5zM148.1 492.4h1.5v1.5h-1.5zM151.1 492.4h1.5v1.5h-1.5zM157.1 492.4h1.5v1.5h-1.5zM81.3 493.7h1.5v1.5h-1.5zM99.3 493.7h1.5v1.5h-1.5zM105.3 493.7h1.5v1.5h-1.5zM109.8 493.7h1.5v1.5h-1.5zM111.3 493.7h1.5v1.5h-1.5zM112.8 493.7h1.5v1.5h-1.5zM114.3 493.7h1.5v1.5h-1.5zM117.3 493.7h1.5v1.5h-1.5zM121.8 493.7h1.5v1.5h-1.5zM123.3 493.7h1.5v1.5h-1.5zM126.3 493.7h1.5v1.5h-1.5zM129.3 493.7h1.5v1.5h-1.5zM130.8 493.7h1.5v1.5h-1.5zM133.8 493.7h1.5v1.5h-1.5zM136.8 493.7h1.5v1.5h-1.5zM138.3 493.7h1.5v1.5h-1.5zM139.8 493.7h1.5v1.5h-1.5zM141.3 493.7h1.5v1.5h-1.5zM145.8 493.7h1.5v1.5h-1.5zM147.3 493.7h1.5v1.5h-1.5zM148.8 493.7h1.5v1.5h-1.5zM151.8 493.7h1.5v1.5h-1.5zM153.3 493.7h1.5v1.5h-1.5zM154.8 493.7h1.5v1.5h-1.5zM86.6 495h1.5v1.5h-1.5zM88.1 495h1.5v1.5h-1.5zM104.6 495h1.5v1.5h-1.5zM107.6 495h1.5v1.5h-1.5zM110.6 495h1.5v1.5h-1.5zM112.1 495h1.5v1.5h-1.5zM115.1 495h1.5v1.5h-1.5zM121.1 495h1.5v1.5h-1.5zM122.6 495h1.5v1.5h-1.5zM124.1 495h1.5v1.5h-1.5zM127.1 495h1.5v1.5h-1.5zM131.6 495h1.5v1.5h-1.5zM133.1 495h1.5v1.5h-1.5zM136.1 495h1.5v1.5h-1.5zM137.6 495h1.5v1.5h-1.5zM140.6 495h1.5v1.5h-1.5zM142.1 495h1.5v1.5h-1.5zM143.6 495h1.5v1.5h-1.5zM151.1 495h1.5v1.5h-1.5zM152.6 495h1.5v1.5h-1.5zM88.8 496.3h1.5v1.5h-1.5zM96.3 496.3h1.5v1.5h-1.5zM105.3 496.3h1.5v1.5h-1.5zM106.8 496.3h1.5v1.5h-1.5zM108.3 496.3h1.5v1.5h-1.5zM109.8 496.3h1.5v1.5h-1.5zM112.8 496.3h1.5v1.5h-1.5zM114.3 496.3h1.5v1.5h-1.5zM124.8 496.3h1.5v1.5h-1.5zM127.8 496.3h1.5v1.5h-1.5zM129.3 496.3h1.5v1.5h-1.5zM130.8 496.3h1.5v1.5h-1.5zM133.8 496.3h1.5v1.5h-1.5zM135.3 496.3h1.5v1.5h-1.5zM136.8 496.3h1.5v1.5h-1.5zM138.3 496.3h1.5v1.5h-1.5zM141.3 496.3h1.5v1.5h-1.5zM142.8 496.3h1.5v1.5h-1.5zM144.3 496.3h1.5v1.5h-1.5zM147.3 496.3h1.5v1.5h-1.5zM148.8 496.3h1.5v1.5h-1.5zM154.8 496.3h1.5v1.5h-1.5zM97.1 497.6h1.5v1.5h-1.5zM104.6 497.6h1.5v1.5h-1.5zM106.1 497.6h1.5v1.5h-1.5zM107.6 497.6h1.5v1.5h-1.5zM110.6 497.6h1.5v1.5h-1.5zM112.1 497.6h1.5v1.5h-1.5zM113.6 497.6h1.5v1.5h-1.5zM118.1 497.6h1.5v1.5h-1.5zM119.6 497.6h1.5v1.5h-1.5zM121.1 497.6h1.5v1.5h-1.5zM122.6 497.6h1.5v1.5h-1.5zM125.6 497.6h1.5v1.5h-1.5zM127.1 497.6h1.5v1.5h-1.5zM130.1 497.6h1.5v1.5h-1.5zM131.6 497.6h1.5v1.5h-1.5zM133.1 497.6h1.5v1.5h-1.5zM136.1 497.6h1.5v1.5h-1.5zM137.6 497.6h1.5v1.5h-1.5zM139.1 497.6h1.5v1.5h-1.5zM140.6 497.6h1.5v1.5h-1.5zM145.1 497.6h1.5v1.5h-1.5zM146.6 497.6h1.5v1.5h-1.5zM149.6 497.6h1.5v1.5h-1.5zM151.1 497.6h1.5v1.5h-1.5zM82.8 498.9h1.5v1.5h-1.5zM88.8 498.9h1.5v1.5h-1.5zM102.3 498.9h1.5v1.5h-1.5zM105.3 498.9h1.5v1.5h-1.5zM111.3 498.9h1.5v1.5h-1.5zM114.3 498.9h1.5v1.5h-1.5zM120.3 498.9h1.5v1.5h-1.5zM121.8 498.9h1.5v1.5h-1.5zM123.3 498.9h1.5v1.5h-1.5zM124.8 498.9h1.5v1.5h-1.5zM126.3 498.9h1.5v1.5h-1.5zM127.8 498.9h1.5v1.5h-1.5zM129.3 498.9h1.5v1.5h-1.5zM133.8 498.9h1.5v1.5h-1.5zM135.3 498.9h1.5v1.5h-1.5zM138.3 498.9h1.5v1.5h-1.5zM141.3 498.9h1.5v1.5h-1.5zM142.8 498.9h1.5v1.5h-1.5zM144.3 498.9h1.5v1.5h-1.5zM147.3 498.9h1.5v1.5h-1.5zM148.8 498.9h1.5v1.5h-1.5zM157.8 498.9h1.5v1.5h-1.5zM83.6 500.2h1.5v1.5h-1.5zM88.1 500.2h1.5v1.5h-1.5zM97.1 500.2h1.5v1.5h-1.5zM103.1 500.2h1.5v1.5h-1.5zM110.6 500.2h1.5v1.5h-1.5zM113.6 500.2h1.5v1.5h-1.5zM118.1 500.2h1.5v1.5h-1.5zM122.6 500.2h1.5v1.5h-1.5zM124.1 500.2h1.5v1.5h-1.5zM127.1 500.2h1.5v1.5h-1.5zM130.1 500.2h1.5v1.5h-1.5zM133.1 500.2h1.5v1.5h-1.5zM134.6 500.2h1.5v1.5h-1.5zM137.6 500.2h1.5v1.5h-1.5zM139.1 500.2h1.5v1.5h-1.5zM140.6 500.2h1.5v1.5h-1.5zM142.1 500.2h1.5v1.5h-1.5zM143.6 500.2h1.5v1.5h-1.5zM145.1 500.2h1.5v1.5h-1.5zM146.6 500.2h1.5v1.5h-1.5zM152.6 500.2h1.5v1.5h-1.5zM155.6 500.2h1.5v1.5h-1.5zM94.8 501.5h1.5v1.5h-1.5zM105.3 501.5h1.5v1.5h-1.5zM106.8 501.5h1.5v1.5h-1.5zM108.3 501.5h1.5v1.5h-1.5zM109.8 501.5h1.5v1.5h-1.5zM112.8 501.5h1.5v1.5h-1.5zM114.3 501.5h1.5v1.5h-1.5zM117.3 501.5h1.5v1.5h-1.5zM118.8 501.5h1.5v1.5h-1.5zM121.8 501.5h1.5v1.5h-1.5zM123.3 501.5h1.5v1.5h-1.5zM124.8 501.5h1.5v1.5h-1.5zM126.3 501.5h1.5v1.5h-1.5zM127.8 501.5h1.5v1.5h-1.5zM129.3 501.5h1.5v1.5h-1.5zM130.8 501.5h1.5v1.5h-1.5zM132.3 501.5h1.5v1.5h-1.5zM133.8 501.5h1.5v1.5h-1.5zM135.3 501.5h1.5v1.5h-1.5zM136.8 501.5h1.5v1.5h-1.5zM138.3 501.5h1.5v1.5h-1.5zM141.3 501.5h1.5v1.5h-1.5zM142.8 501.5h1.5v1.5h-1.5zM144.3 501.5h1.5v1.5h-1.5zM150.3 501.5h1.5v1.5h-1.5zM151.8 501.5h1.5v1.5h-1.5zM153.3 501.5h1.5v1.5h-1.5zM82.1 502.8h1.5v1.5h-1.5zM85.1 502.8h1.5v1.5h-1.5zM103.1 502.8h1.5v1.5h-1.5zM109.1 502.8h1.5v1.5h-1.5zM113.6 502.8h1.5v1.5h-1.5zM116.6 502.8h1.5v1.5h-1.5zM118.1 502.8h1.5v1.5h-1.5zM119.6 502.8h1.5v1.5h-1.5zM121.1 502.8h1.5v1.5h-1.5zM122.6 502.8h1.5v1.5h-1.5zM124.1 502.8h1.5v1.5h-1.5zM131.6 502.8h1.5v1.5h-1.5zM133.1 502.8h1.5v1.5h-1.5zM134.6 502.8h1.5v1.5h-1.5zM137.6 502.8h1.5v1.5h-1.5zM139.1 502.8h1.5v1.5h-1.5zM143.6 502.8h1.5v1.5h-1.5zM146.6 502.8h1.5v1.5h-1.5zM148.1 502.8h1.5v1.5h-1.5zM149.6 502.8h1.5v1.5h-1.5zM96.3 504.1h1.5v1.5h-1.5zM97.8 504.1h1.5v1.5h-1.5zM102.3 504.1h1.5v1.5h-1.5zM103.8 504.1h1.5v1.5h-1.5zM105.3 504.1h1.5v1.5h-1.5zM112.8 504.1h1.5v1.5h-1.5zM114.3 504.1h1.5v1.5h-1.5zM115.8 504.1h1.5v1.5h-1.5zM121.8 504.1h1.5v1.5h-1.5zM127.8 504.1h1.5v1.5h-1.5zM129.3 504.1h1.5v1.5h-1.5zM130.8 504.1h1.5v1.5h-1.5zM132.3 504.1h1.5v1.5h-1.5zM141.3 504.1h1.5v1.5h-1.5zM142.8 504.1h1.5v1.5h-1.5zM144.3 504.1h1.5v1.5h-1.5zM147.3 504.1h1.5v1.5h-1.5zM148.8 504.1h1.5v1.5h-1.5zM151.8 504.1h1.5v1.5h-1.5zM153.3 504.1h1.5v1.5h-1.5zM85.1 505.4h1.5v1.5h-1.5zM88.1 505.4h1.5v1.5h-1.5zM92.6 505.4h1.5v1.5h-1.5zM98.6 505.4h1.5v1.5h-1.5zM104.6 505.4h1.5v1.5h-1.5zM107.6 505.4h1.5v1.5h-1.5zM110.6 505.4h1.5v1.5h-1.5zM113.6 505.4h1.5v1.5h-1.5zM115.1 505.4h1.5v1.5h-1.5zM118.1 505.4h1.5v1.5h-1.5zM119.6 505.4h1.5v1.5h-1.5zM122.6 505.4h1.5v1.5h-1.5zM130.1 505.4h1.5v1.5h-1.5zM131.6 505.4h1.5v1.5h-1.5zM133.1 505.4h1.5v1.5h-1.5zM136.1 505.4h1.5v1.5h-1.5zM139.1 505.4h1.5v1.5h-1.5zM140.6 505.4h1.5v1.5h-1.5zM142.1 505.4h1.5v1.5h-1.5zM146.6 505.4h1.5v1.5h-1.5zM149.6 505.4h1.5v1.5h-1.5zM100.8 506.7h1.5v1.5h-1.5zM103.8 506.7h1.5v1.5h-1.5zM108.3 506.7h1.5v1.5h-1.5zM111.3 506.7h1.5v1.5h-1.5zM112.8 506.7h1.5v1.5h-1.5zM118.8 506.7h1.5v1.5h-1.5zM120.3 506.7h1.5v1.5h-1.5zM123.3 506.7h1.5v1.5h-1.5zM124.8 506.7h1.5v1.5h-1.5zM126.3 506.7h1.5v1.5h-1.5zM127.8 506.7h1.5v1.5h-1.5zM129.3 506.7h1.5v1.5h-1.5zM138.3 506.7h1.5v1.5h-1.5zM141.3 506.7h1.5v1.5h-1.5zM145.8 506.7h1.5v1.5h-1.5zM151.8 506.7h1.5v1.5h-1.5zM103.1 508h1.5v1.5h-1.5zM106.1 508h1.5v1.5h-1.5zM112.1 508h1.5v1.5h-1.5zM118.1 508h1.5v1.5h-1.5zM122.6 508h1.5v1.5h-1.5zM124.1 508h1.5v1.5h-1.5zM127.1 508h1.5v1.5h-1.5zM130.1 508h1.5v1.5h-1.5zM133.1 508h1.5v1.5h-1.5zM137.6 508h1.5v1.5h-1.5zM139.1 508h1.5v1.5h-1.5zM140.6 508h1.5v1.5h-1.5zM142.1 508h1.5v1.5h-1.5zM143.6 508h1.5v1.5h-1.5zM149.6 508h1.5v1.5h-1.5zM151.1 508h1.5v1.5h-1.5zM105.3 509.3h1.5v1.5h-1.5zM106.8 509.3h1.5v1.5h-1.5zM109.8 509.3h1.5v1.5h-1.5zM111.3 509.3h1.5v1.5h-1.5zM112.8 509.3h1.5v1.5h-1.5zM115.8 509.3h1.5v1.5h-1.5zM120.3 509.3h1.5v1.5h-1.5zM124.8 509.3h1.5v1.5h-1.5zM130.8 509.3h1.5v1.5h-1.5zM135.3 509.3h1.5v1.5h-1.5zM136.8 509.3h1.5v1.5h-1.5zM141.3 509.3h1.5v1.5h-1.5zM142.8 509.3h1.5v1.5h-1.5zM144.3 509.3h1.5v1.5h-1.5zM145.8 509.3h1.5v1.5h-1.5zM150.3 509.3h1.5v1.5h-1.5zM101.6 510.6h1.5v1.5h-1.5zM115.1 510.6h1.5v1.5h-1.5zM119.6 510.6h1.5v1.5h-1.5zM125.6 510.6h1.5v1.5h-1.5zM128.6 510.6h1.5v1.5h-1.5zM130.1 510.6h1.5v1.5h-1.5zM133.1 510.6h1.5v1.5h-1.5zM140.6 510.6h1.5v1.5h-1.5zM146.6 510.6h1.5v1.5h-1.5zM93.3 511.9h1.5v1.5h-1.5zM112.8 511.9h1.5v1.5h-1.5zM118.8 511.9h1.5v1.5h-1.5zM120.3 511.9h1.5v1.5h-1.5zM121.8 511.9h1.5v1.5h-1.5zM127.8 511.9h1.5v1.5h-1.5zM133.8 511.9h1.5v1.5h-1.5zM138.3 511.9h1.5v1.5h-1.5zM144.3 511.9h1.5v1.5h-1.5zM147.3 511.9h1.5v1.5h-1.5zM148.8 511.9h1.5v1.5h-1.5zM80.6 513.2h1.5v1.5h-1.5zM82.1 513.2h1.5v1.5h-1.5zM107.6 513.2h1.5v1.5h-1.5zM115.1 513.2h1.5v1.5h-1.5zM119.6 513.2h1.5v1.5h-1.5zM121.1 513.2h1.5v1.5h-1.5zM125.6 513.2h1.5v1.5h-1.5zM127.1 513.2h1.5v1.5h-1.5zM130.1 513.2h1.5v1.5h-1.5zM134.6 513.2h1.5v1.5h-1.5zM142.1 513.2h1.5v1.5h-1.5zM81.3 514.5h1.5v1.5h-1.5zM94.8 514.5h1.5v1.5h-1.5zM120.3 514.5h1.5v1.5h-1.5zM124.8 514.5h1.5v1.5h-1.5zM129.3 514.5h1.5v1.5h-1.5zM135.3 514.5h1.5v1.5h-1.5zM136.8 514.5h1.5v1.5h-1.5zM142.8 514.5h1.5v1.5h-1.5zM77.6 515.8h1.5v1.5h-1.5zM79.1 515.8h1.5v1.5h-1.5zM82.1 515.8h1.5v1.5h-1.5zM83.6 515.8h1.5v1.5h-1.5zM88.1 515.8h1.5v1.5h-1.5zM115.1 515.8h1.5v1.5h-1.5zM118.1 515.8h1.5v1.5h-1.5zM119.6 515.8h1.5v1.5h-1.5zM121.1 515.8h1.5v1.5h-1.5zM130.1 515.8h1.5v1.5h-1.5zM134.6 515.8h1.5v1.5h-1.5zM137.6 515.8h1.5v1.5h-1.5zM145.1 515.8h1.5v1.5h-1.5zM148.1 515.8h1.5v1.5h-1.5zM154.1 515.8h1.5v1.5h-1.5zM78.3 517.1h1.5v1.5h-1.5zM79.8 517.1h1.5v1.5h-1.5zM85.8 517.1h1.5v1.5h-1.5zM90.3 517.1h1.5v1.5h-1.5zM120.3 517.1h1.5v1.5h-1.5zM133.8 517.1h1.5v1.5h-1.5zM135.3 517.1h1.5v1.5h-1.5zM136.8 517.1h1.5v1.5h-1.5zM139.8 517.1h1.5v1.5h-1.5zM141.3 517.1h1.5v1.5h-1.5zM144.3 517.1h1.5v1.5h-1.5zM145.8 517.1h1.5v1.5h-1.5zM147.3 517.1h1.5v1.5h-1.5zM148.8 517.1h1.5v1.5h-1.5zM153.3 517.1h1.5v1.5h-1.5zM77.6 518.4h1.5v1.5h-1.5zM79.1 518.4h1.5v1.5h-1.5zM80.6 518.4h1.5v1.5h-1.5zM82.1 518.4h1.5v1.5h-1.5zM88.1 518.4h1.5v1.5h-1.5zM89.6 518.4h1.5v1.5h-1.5zM92.6 518.4h1.5v1.5h-1.5zM104.6 518.4h1.5v1.5h-1.5zM124.1 518.4h1.5v1.5h-1.5zM125.6 518.4h1.5v1.5h-1.5zM131.6 518.4h1.5v1.5h-1.5zM137.6 518.4h1.5v1.5h-1.5zM139.1 518.4h1.5v1.5h-1.5zM140.6 518.4h1.5v1.5h-1.5zM143.6 518.4h1.5v1.5h-1.5zM146.6 518.4h1.5v1.5h-1.5zM149.6 518.4h1.5v1.5h-1.5zM155.6 518.4h1.5v1.5h-1.5zM79.8 519.8h1.5v1.5h-1.5zM81.3 519.8h1.5v1.5h-1.5zM82.8 519.8h1.5v1.5h-1.5zM84.3 519.8h1.5v1.5h-1.5zM85.8 519.8h1.5v1.5h-1.5zM91.8 519.8h1.5v1.5h-1.5zM124.8 519.8h1.5v1.5h-1.5zM132.3 519.8h1.5v1.5h-1.5zM136.8 519.8h1.5v1.5h-1.5zM138.3 519.8h1.5v1.5h-1.5zM139.8 519.8h1.5v1.5h-1.5zM141.3 519.8h1.5v1.5h-1.5zM142.8 519.8h1.5v1.5h-1.5zM144.3 519.8h1.5v1.5h-1.5zM145.8 519.8h1.5v1.5h-1.5zM147.3 519.8h1.5v1.5h-1.5zM148.8 519.8h1.5v1.5h-1.5zM151.8 519.8h1.5v1.5h-1.5zM156.3 519.8h1.5v1.5h-1.5zM79.1 521.1h1.5v1.5h-1.5zM80.6 521.1h1.5v1.5h-1.5zM82.1 521.1h1.5v1.5h-1.5zM83.6 521.1h1.5v1.5h-1.5zM92.6 521.1h1.5v1.5h-1.5zM130.1 521.1h1.5v1.5h-1.5zM134.6 521.1h1.5v1.5h-1.5zM136.1 521.1h1.5v1.5h-1.5zM137.6 521.1h1.5v1.5h-1.5zM139.1 521.1h1.5v1.5h-1.5zM142.1 521.1h1.5v1.5h-1.5zM143.6 521.1h1.5v1.5h-1.5zM145.1 521.1h1.5v1.5h-1.5zM146.6 521.1h1.5v1.5h-1.5zM148.1 521.1h1.5v1.5h-1.5zM151.1 521.1h1.5v1.5h-1.5zM152.6 521.1h1.5v1.5h-1.5zM157.1 521.1h1.5v1.5h-1.5zM84.3 522.4h1.5v1.5h-1.5zM87.3 522.4h1.5v1.5h-1.5zM88.8 522.4h1.5v1.5h-1.5zM90.3 522.4h1.5v1.5h-1.5zM91.8 522.4h1.5v1.5h-1.5zM93.3 522.4h1.5v1.5h-1.5zM94.8 522.4h1.5v1.5h-1.5zM96.3 522.4h1.5v1.5h-1.5zM129.3 522.4h1.5v1.5h-1.5zM130.8 522.4h1.5v1.5h-1.5zM135.3 522.4h1.5v1.5h-1.5zM136.8 522.4h1.5v1.5h-1.5zM138.3 522.4h1.5v1.5h-1.5zM139.8 522.4h1.5v1.5h-1.5zM141.3 522.4h1.5v1.5h-1.5zM145.8 522.4h1.5v1.5h-1.5zM151.8 522.4h1.5v1.5h-1.5zM160.8 522.4h1.5v1.5h-1.5zM83.6 523.7h1.5v1.5h-1.5zM85.1 523.7h1.5v1.5h-1.5zM86.6 523.7h1.5v1.5h-1.5zM89.6 523.7h1.5v1.5h-1.5zM91.1 523.7h1.5v1.5h-1.5zM92.6 523.7h1.5v1.5h-1.5zM94.1 523.7h1.5v1.5h-1.5zM95.6 523.7h1.5v1.5h-1.5zM125.6 523.7h1.5v1.5h-1.5zM133.1 523.7h1.5v1.5h-1.5zM136.1 523.7h1.5v1.5h-1.5zM137.6 523.7h1.5v1.5h-1.5zM139.1 523.7h1.5v1.5h-1.5zM140.6 523.7h1.5v1.5h-1.5zM142.1 523.7h1.5v1.5h-1.5zM143.6 523.7h1.5v1.5h-1.5zM145.1 523.7h1.5v1.5h-1.5zM148.1 523.7h1.5v1.5h-1.5zM149.6 523.7h1.5v1.5h-1.5zM151.1 523.7h1.5v1.5h-1.5zM152.6 523.7h1.5v1.5h-1.5zM154.1 523.7h1.5v1.5h-1.5zM85.8 525h1.5v1.5h-1.5zM87.3 525h1.5v1.5h-1.5zM96.3 525h1.5v1.5h-1.5zM97.8 525h1.5v1.5h-1.5zM99.3 525h1.5v1.5h-1.5zM121.8 525h1.5v1.5h-1.5zM129.3 525h1.5v1.5h-1.5zM132.3 525h1.5v1.5h-1.5zM133.8 525h1.5v1.5h-1.5zM135.3 525h1.5v1.5h-1.5zM136.8 525h1.5v1.5h-1.5zM139.8 525h1.5v1.5h-1.5zM141.3 525h1.5v1.5h-1.5zM142.8 525h1.5v1.5h-1.5zM144.3 525h1.5v1.5h-1.5zM147.3 525h1.5v1.5h-1.5zM148.8 525h1.5v1.5h-1.5zM150.3 525h1.5v1.5h-1.5zM151.8 525h1.5v1.5h-1.5zM157.8 525h1.5v1.5h-1.5zM86.6 526.3h1.5v1.5h-1.5zM89.6 526.3h1.5v1.5h-1.5zM92.6 526.3h1.5v1.5h-1.5zM94.1 526.3h1.5v1.5h-1.5zM95.6 526.3h1.5v1.5h-1.5zM97.1 526.3h1.5v1.5h-1.5zM101.6 526.3h1.5v1.5h-1.5zM130.1 526.3h1.5v1.5h-1.5zM133.1 526.3h1.5v1.5h-1.5zM134.6 526.3h1.5v1.5h-1.5zM136.1 526.3h1.5v1.5h-1.5zM137.6 526.3h1.5v1.5h-1.5zM139.1 526.3h1.5v1.5h-1.5zM140.6 526.3h1.5v1.5h-1.5zM142.1 526.3h1.5v1.5h-1.5zM143.6 526.3h1.5v1.5h-1.5zM146.6 526.3h1.5v1.5h-1.5zM148.1 526.3h1.5v1.5h-1.5zM149.6 526.3h1.5v1.5h-1.5zM151.1 526.3h1.5v1.5h-1.5zM152.6 526.3h1.5v1.5h-1.5zM154.1 526.3h1.5v1.5h-1.5zM87.3 527.6h1.5v1.5h-1.5zM90.3 527.6h1.5v1.5h-1.5zM91.8 527.6h1.5v1.5h-1.5zM93.3 527.6h1.5v1.5h-1.5zM94.8 527.6h1.5v1.5h-1.5zM97.8 527.6h1.5v1.5h-1.5zM100.8 527.6h1.5v1.5h-1.5zM102.3 527.6h1.5v1.5h-1.5zM103.8 527.6h1.5v1.5h-1.5zM132.3 527.6h1.5v1.5h-1.5zM135.3 527.6h1.5v1.5h-1.5zM136.8 527.6h1.5v1.5h-1.5zM138.3 527.6h1.5v1.5h-1.5zM139.8 527.6h1.5v1.5h-1.5zM141.3 527.6h1.5v1.5h-1.5zM142.8 527.6h1.5v1.5h-1.5zM144.3 527.6h1.5v1.5h-1.5zM147.3 527.6h1.5v1.5h-1.5zM148.8 527.6h1.5v1.5h-1.5zM91.1 528.9h1.5v1.5h-1.5zM92.6 528.9h1.5v1.5h-1.5zM94.1 528.9h1.5v1.5h-1.5zM95.6 528.9h1.5v1.5h-1.5zM97.1 528.9h1.5v1.5h-1.5zM98.6 528.9h1.5v1.5h-1.5zM100.1 528.9h1.5v1.5h-1.5zM101.6 528.9h1.5v1.5h-1.5zM104.6 528.9h1.5v1.5h-1.5zM116.6 528.9h1.5v1.5h-1.5zM130.1 528.9h1.5v1.5h-1.5zM133.1 528.9h1.5v1.5h-1.5zM137.6 528.9h1.5v1.5h-1.5zM140.6 528.9h1.5v1.5h-1.5zM145.1 528.9h1.5v1.5h-1.5zM146.6 528.9h1.5v1.5h-1.5zM90.3 530.2h1.5v1.5h-1.5zM91.8 530.2h1.5v1.5h-1.5zM93.3 530.2h1.5v1.5h-1.5zM94.8 530.2h1.5v1.5h-1.5zM96.3 530.2h1.5v1.5h-1.5zM97.8 530.2h1.5v1.5h-1.5zM99.3 530.2h1.5v1.5h-1.5zM103.8 530.2h1.5v1.5h-1.5zM105.3 530.2h1.5v1.5h-1.5zM133.8 530.2h1.5v1.5h-1.5zM135.3 530.2h1.5v1.5h-1.5zM136.8 530.2h1.5v1.5h-1.5zM138.3 530.2h1.5v1.5h-1.5zM139.8 530.2h1.5v1.5h-1.5zM141.3 530.2h1.5v1.5h-1.5zM142.8 530.2h1.5v1.5h-1.5zM147.3 530.2h1.5v1.5h-1.5zM92.6 531.5h1.5v1.5h-1.5zM94.1 531.5h1.5v1.5h-1.5zM95.6 531.5h1.5v1.5h-1.5zM100.1 531.5h1.5v1.5h-1.5zM101.6 531.5h1.5v1.5h-1.5zM107.6 531.5h1.5v1.5h-1.5zM115.1 531.5h1.5v1.5h-1.5zM125.6 531.5h1.5v1.5h-1.5zM127.1 531.5h1.5v1.5h-1.5zM140.6 531.5h1.5v1.5h-1.5zM145.1 531.5h1.5v1.5h-1.5zM148.1 531.5h1.5v1.5h-1.5zM160.1 531.5h1.5v1.5h-1.5zM96.3 532.8h1.5v1.5h-1.5zM97.8 532.8h1.5v1.5h-1.5zM99.3 532.8h1.5v1.5h-1.5zM100.8 532.8h1.5v1.5h-1.5zM112.8 532.8h1.5v1.5h-1.5zM129.3 532.8h1.5v1.5h-1.5zM130.8 532.8h1.5v1.5h-1.5zM135.3 532.8h1.5v1.5h-1.5zM147.3 532.8h1.5v1.5h-1.5zM148.8 532.8h1.5v1.5h-1.5zM97.1 534.1h1.5v1.5h-1.5zM100.1 534.1h1.5v1.5h-1.5zM101.6 534.1h1.5v1.5h-1.5zM104.6 534.1h1.5v1.5h-1.5zM107.6 534.1h1.5v1.5h-1.5zM110.6 534.1h1.5v1.5h-1.5zM112.1 534.1h1.5v1.5h-1.5zM115.1 534.1h1.5v1.5h-1.5zM118.1 534.1h1.5v1.5h-1.5zM133.1 534.1h1.5v1.5h-1.5zM142.1 534.1h1.5v1.5h-1.5zM149.6 534.1h1.5v1.5h-1.5zM99.3 535.4h1.5v1.5h-1.5zM100.8 535.4h1.5v1.5h-1.5zM102.3 535.4h1.5v1.5h-1.5zM103.8 535.4h1.5v1.5h-1.5zM108.3 535.4h1.5v1.5h-1.5zM109.8 535.4h1.5v1.5h-1.5zM117.3 535.4h1.5v1.5h-1.5zM124.8 535.4h1.5v1.5h-1.5zM127.8 535.4h1.5v1.5h-1.5zM132.3 535.4h1.5v1.5h-1.5zM133.8 535.4h1.5v1.5h-1.5zM142.8 535.4h1.5v1.5h-1.5zM147.3 535.4h1.5v1.5h-1.5zM103.1 536.7h1.5v1.5h-1.5zM104.6 536.7h1.5v1.5h-1.5zM106.1 536.7h1.5v1.5h-1.5zM107.6 536.7h1.5v1.5h-1.5zM109.1 536.7h1.5v1.5h-1.5zM116.6 536.7h1.5v1.5h-1.5zM118.1 536.7h1.5v1.5h-1.5zM121.1 536.7h1.5v1.5h-1.5zM122.6 536.7h1.5v1.5h-1.5zM131.6 536.7h1.5v1.5h-1.5zM133.1 536.7h1.5v1.5h-1.5zM146.6 536.7h1.5v1.5h-1.5zM148.1 536.7h1.5v1.5h-1.5zM100.8 538h1.5v1.5h-1.5zM102.3 538h1.5v1.5h-1.5zM109.8 538h1.5v1.5h-1.5zM120.3 538h1.5v1.5h-1.5zM123.3 538h1.5v1.5h-1.5zM130.8 538h1.5v1.5h-1.5zM133.8 538h1.5v1.5h-1.5zM139.8 538h1.5v1.5h-1.5zM145.8 538h1.5v1.5h-1.5zM147.3 538h1.5v1.5h-1.5zM148.8 538h1.5v1.5h-1.5zM104.6 539.3h1.5v1.5h-1.5zM106.1 539.3h1.5v1.5h-1.5zM107.6 539.3h1.5v1.5h-1.5zM109.1 539.3h1.5v1.5h-1.5zM113.6 539.3h1.5v1.5h-1.5zM118.1 539.3h1.5v1.5h-1.5zM119.6 539.3h1.5v1.5h-1.5zM124.1 539.3h1.5v1.5h-1.5zM125.6 539.3h1.5v1.5h-1.5zM128.6 539.3h1.5v1.5h-1.5zM142.1 539.3h1.5v1.5h-1.5zM145.1 539.3h1.5v1.5h-1.5zM117.3 540.6h1.5v1.5h-1.5zM123.3 540.6h1.5v1.5h-1.5zM124.8 540.6h1.5v1.5h-1.5zM127.8 540.6h1.5v1.5h-1.5zM130.8 540.6h1.5v1.5h-1.5zM133.8 540.6h1.5v1.5h-1.5zM135.3 540.6h1.5v1.5h-1.5zM138.3 540.6h1.5v1.5h-1.5zM147.3 540.6h1.5v1.5h-1.5zM148.8 540.6h1.5v1.5h-1.5zM115.1 541.9h1.5v1.5h-1.5zM139.1 541.9h1.5v1.5h-1.5zM142.1 541.9h1.5v1.5h-1.5zM146.6 541.9h1.5v1.5h-1.5zM78.3 543.2h1.5v1.5h-1.5zM117.3 543.2h1.5v1.5h-1.5zM118.8 543.2h1.5v1.5h-1.5zM127.8 543.2h1.5v1.5h-1.5zM129.3 543.2h1.5v1.5h-1.5zM139.8 543.2h1.5v1.5h-1.5zM145.8 543.2h1.5v1.5h-1.5zM147.3 543.2h1.5v1.5h-1.5zM148.8 543.2h1.5v1.5h-1.5zM116.6 544.5h1.5v1.5h-1.5zM134.6 544.5h1.5v1.5h-1.5zM143.6 544.5h1.5v1.5h-1.5zM120.3 545.9h1.5v1.5h-1.5zM124.8 545.9h1.5v1.5h-1.5zM127.8 545.9h1.5v1.5h-1.5zM129.3 545.9h1.5v1.5h-1.5zM132.3 545.9h1.5v1.5h-1.5zM139.8 545.9h1.5v1.5h-1.5zM147.3 545.9h1.5v1.5h-1.5zM148.8 545.9h1.5v1.5h-1.5zM121.1 547.2h1.5v1.5h-1.5zM124.1 547.2h1.5v1.5h-1.5zM127.1 547.2h1.5v1.5h-1.5zM128.6 547.2h1.5v1.5h-1.5zM130.1 547.2h1.5v1.5h-1.5zM137.6 547.2h1.5v1.5h-1.5zM142.1 547.2h1.5v1.5h-1.5zM143.6 547.2h1.5v1.5h-1.5zM146.6 547.2h1.5v1.5h-1.5zM117.3 548.5h1.5v1.5h-1.5zM118.8 548.5h1.5v1.5h-1.5zM120.3 548.5h1.5v1.5h-1.5zM124.8 548.5h1.5v1.5h-1.5zM127.8 548.5h1.5v1.5h-1.5zM136.8 548.5h1.5v1.5h-1.5zM141.3 548.5h1.5v1.5h-1.5zM144.3 548.5h1.5v1.5h-1.5zM148.8 548.5h1.5v1.5h-1.5zM112.1 549.8h1.5v1.5h-1.5zM113.6 549.8h1.5v1.5h-1.5zM115.1 549.8h1.5v1.5h-1.5zM121.1 549.8h1.5v1.5h-1.5zM130.1 549.8h1.5v1.5h-1.5zM133.1 549.8h1.5v1.5h-1.5zM134.6 549.8h1.5v1.5h-1.5zM136.1 549.8h1.5v1.5h-1.5zM143.6 549.8h1.5v1.5h-1.5zM146.6 549.8h1.5v1.5h-1.5zM112.8 551.1h1.5v1.5h-1.5zM118.8 551.1h1.5v1.5h-1.5zM123.3 551.1h1.5v1.5h-1.5zM129.3 551.1h1.5v1.5h-1.5zM101.6 552.4h1.5v1.5h-1.5zM115.1 552.4h1.5v1.5h-1.5zM122.6 552.4h1.5v1.5h-1.5zM124.1 552.4h1.5v1.5h-1.5zM131.6 552.4h1.5v1.5h-1.5zM134.6 552.4h1.5v1.5h-1.5zM137.6 552.4h1.5v1.5h-1.5zM139.1 552.4h1.5v1.5h-1.5zM143.6 552.4h1.5v1.5h-1.5zM163.1 552.4h1.5v1.5h-1.5zM114.3 553.7h1.5v1.5h-1.5zM127.8 553.7h1.5v1.5h-1.5zM130.8 553.7h1.5v1.5h-1.5zM135.3 553.7h1.5v1.5h-1.5zM139.8 553.7h1.5v1.5h-1.5zM110.6 555h1.5v1.5h-1.5zM116.6 555h1.5v1.5h-1.5zM118.1 555h1.5v1.5h-1.5zM128.6 555h1.5v1.5h-1.5zM146.6 555h1.5v1.5h-1.5zM149.6 555h1.5v1.5h-1.5zM121.8 556.3h1.5v1.5h-1.5zM127.8 556.3h1.5v1.5h-1.5zM142.8 556.3h1.5v1.5h-1.5zM80.6 557.6h1.5v1.5h-1.5zM94.8 561.5h1.5v1.5h-1.5zM153.3 561.5h1.5v1.5h-1.5z" fill="#7d3c3c"/>
<circle cx="83.9" cy="458.6" r="4" fill="#7d3c3c"/>
<circle cx="83.9" cy="470.7" r="4" fill="#a3701f"/>
<text x="96" y="462.5" font-size="11.8" fill="#1f1f2a">Cancer cell 1</text>
<text x="96" y="474.6" font-size="11.8" fill="#1f1f2a">Cancer cell 2</text>
<rect x="191.2" y="446.1" width="108.8" height="128.4" fill="#e06b7d"/>
<rect x="198.6" y="453.5" width="94" height="113.6" fill="#fff"/>
<rect x="198.6" y="477.9" width="90.3" height="88.9" fill="#dacadb"/>
<polygon points="284.9,477.9 288.9,477.9 288.9,566.8 276.9,566.8 276.9,557.8 279.9,547.8 283.9,538.8 284.9,511.8 283.9,502.9" fill="#f8f5f8" filter="url(#bl1)"/>
<rect x="198.6" y="565.3" width="90.3" height="1.5" fill="#eee6ee"/>
<rect x="198.6" y="477.9" width="1.5" height="88.9" fill="#e8dee8"/>
<path d="M221.4 478.2h1.5v1.5h-1.5zM235.7 479.5h1.5v1.5h-1.5zM245.4 480.8h1.5v1.5h-1.5zM249.9 480.8h1.5v1.5h-1.5zM268.6 484.7h1.5v1.5h-1.5zM242.4 488.6h1.5v1.5h-1.5zM258.1 489.9h1.5v1.5h-1.5zM276.1 492.6h1.5v1.5h-1.5zM282.1 492.6h1.5v1.5h-1.5zM284.4 496.5h1.5v1.5h-1.5zM217.7 497.8h1.5v1.5h-1.5zM226.7 497.8h1.5v1.5h-1.5zM234.2 497.8h1.5v1.5h-1.5zM216.2 500.4h1.5v1.5h-1.5zM209.4 501.7h1.5v1.5h-1.5zM225.9 501.7h1.5v1.5h-1.5zM213.9 504.3h1.5v1.5h-1.5zM219.2 505.6h1.5v1.5h-1.5zM233.4 509.5h1.5v1.5h-1.5zM258.1 510.8h1.5v1.5h-1.5zM227.4 512.1h1.5v1.5h-1.5zM205.7 513.4h1.5v1.5h-1.5zM201.9 514.7h1.5v1.5h-1.5zM204.9 514.7h1.5v1.5h-1.5zM201.2 516h1.5v1.5h-1.5zM202.7 516h1.5v1.5h-1.5zM205.7 516h1.5v1.5h-1.5zM207.2 516h1.5v1.5h-1.5zM274.6 516h1.5v1.5h-1.5zM279.1 516h1.5v1.5h-1.5zM283.6 516h1.5v1.5h-1.5zM200.4 517.3h1.5v1.5h-1.5zM201.9 517.3h1.5v1.5h-1.5zM203.4 517.3h1.5v1.5h-1.5zM204.9 517.3h1.5v1.5h-1.5zM201.2 518.7h1.5v1.5h-1.5zM205.7 518.7h1.5v1.5h-1.5zM210.2 518.7h1.5v1.5h-1.5zM246.2 518.7h1.5v1.5h-1.5zM261.1 518.7h1.5v1.5h-1.5zM203.4 520h1.5v1.5h-1.5zM207.9 520h1.5v1.5h-1.5zM213.9 520h1.5v1.5h-1.5zM249.9 520h1.5v1.5h-1.5zM207.2 521.3h1.5v1.5h-1.5zM208.7 521.3h1.5v1.5h-1.5zM210.2 521.3h1.5v1.5h-1.5zM213.2 521.3h1.5v1.5h-1.5zM246.2 521.3h1.5v1.5h-1.5zM206.4 522.6h1.5v1.5h-1.5zM207.9 522.6h1.5v1.5h-1.5zM210.9 522.6h1.5v1.5h-1.5zM213.9 522.6h1.5v1.5h-1.5zM215.4 522.6h1.5v1.5h-1.5zM216.9 522.6h1.5v1.5h-1.5zM219.9 522.6h1.5v1.5h-1.5zM221.4 522.6h1.5v1.5h-1.5zM208.7 523.9h1.5v1.5h-1.5zM216.2 523.9h1.5v1.5h-1.5zM217.7 523.9h1.5v1.5h-1.5zM219.2 523.9h1.5v1.5h-1.5zM209.4 525.2h1.5v1.5h-1.5zM210.9 525.2h1.5v1.5h-1.5zM212.4 525.2h1.5v1.5h-1.5zM213.9 525.2h1.5v1.5h-1.5zM216.9 525.2h1.5v1.5h-1.5zM218.4 525.2h1.5v1.5h-1.5zM219.9 525.2h1.5v1.5h-1.5zM221.4 525.2h1.5v1.5h-1.5zM222.9 525.2h1.5v1.5h-1.5zM210.2 526.5h1.5v1.5h-1.5zM217.7 526.5h1.5v1.5h-1.5zM219.2 526.5h1.5v1.5h-1.5zM222.2 526.5h1.5v1.5h-1.5zM235.7 526.5h1.5v1.5h-1.5zM259.6 526.5h1.5v1.5h-1.5zM210.9 527.8h1.5v1.5h-1.5zM212.4 527.8h1.5v1.5h-1.5zM215.4 527.8h1.5v1.5h-1.5zM219.9 527.8h1.5v1.5h-1.5zM230.4 527.8h1.5v1.5h-1.5zM243.9 527.8h1.5v1.5h-1.5zM217.7 529.1h1.5v1.5h-1.5zM222.2 529.1h1.5v1.5h-1.5zM219.9 530.4h1.5v1.5h-1.5zM221.4 530.4h1.5v1.5h-1.5zM222.9 530.4h1.5v1.5h-1.5zM237.2 531.7h1.5v1.5h-1.5zM240.2 531.7h1.5v1.5h-1.5zM250.7 531.7h1.5v1.5h-1.5zM216.9 533h1.5v1.5h-1.5zM219.9 533h1.5v1.5h-1.5zM230.4 533h1.5v1.5h-1.5zM236.4 533h1.5v1.5h-1.5zM245.4 533h1.5v1.5h-1.5zM249.9 533h1.5v1.5h-1.5zM251.4 533h1.5v1.5h-1.5zM210.2 534.3h1.5v1.5h-1.5zM213.2 534.3h1.5v1.5h-1.5zM216.2 534.3h1.5v1.5h-1.5zM222.2 534.3h1.5v1.5h-1.5zM228.2 534.3h1.5v1.5h-1.5zM232.7 534.3h1.5v1.5h-1.5zM237.2 534.3h1.5v1.5h-1.5zM238.7 534.3h1.5v1.5h-1.5zM250.7 534.3h1.5v1.5h-1.5zM252.2 534.3h1.5v1.5h-1.5zM256.6 534.3h1.5v1.5h-1.5zM259.6 534.3h1.5v1.5h-1.5zM213.9 535.6h1.5v1.5h-1.5zM221.4 535.6h1.5v1.5h-1.5zM222.9 535.6h1.5v1.5h-1.5zM224.4 535.6h1.5v1.5h-1.5zM245.4 535.6h1.5v1.5h-1.5zM260.4 535.6h1.5v1.5h-1.5zM261.9 535.6h1.5v1.5h-1.5zM201.2 536.9h1.5v1.5h-1.5zM210.2 536.9h1.5v1.5h-1.5zM214.7 536.9h1.5v1.5h-1.5zM216.2 536.9h1.5v1.5h-1.5zM222.2 536.9h1.5v1.5h-1.5zM223.7 536.9h1.5v1.5h-1.5zM229.7 536.9h1.5v1.5h-1.5zM235.7 536.9h1.5v1.5h-1.5zM237.2 536.9h1.5v1.5h-1.5zM238.7 536.9h1.5v1.5h-1.5zM241.7 536.9h1.5v1.5h-1.5zM246.2 536.9h1.5v1.5h-1.5zM252.2 536.9h1.5v1.5h-1.5zM256.6 536.9h1.5v1.5h-1.5zM261.1 536.9h1.5v1.5h-1.5zM262.6 536.9h1.5v1.5h-1.5zM206.4 538.2h1.5v1.5h-1.5zM212.4 538.2h1.5v1.5h-1.5zM213.9 538.2h1.5v1.5h-1.5zM215.4 538.2h1.5v1.5h-1.5zM218.4 538.2h1.5v1.5h-1.5zM219.9 538.2h1.5v1.5h-1.5zM224.4 538.2h1.5v1.5h-1.5zM225.9 538.2h1.5v1.5h-1.5zM227.4 538.2h1.5v1.5h-1.5zM228.9 538.2h1.5v1.5h-1.5zM231.9 538.2h1.5v1.5h-1.5zM233.4 538.2h1.5v1.5h-1.5zM234.9 538.2h1.5v1.5h-1.5zM237.9 538.2h1.5v1.5h-1.5zM239.4 538.2h1.5v1.5h-1.5zM240.9 538.2h1.5v1.5h-1.5zM242.4 538.2h1.5v1.5h-1.5zM243.9 538.2h1.5v1.5h-1.5zM245.4 538.2h1.5v1.5h-1.5zM248.4 538.2h1.5v1.5h-1.5zM249.9 538.2h1.5v1.5h-1.5zM251.4 538.2h1.5v1.5h-1.5zM255.9 538.2h1.5v1.5h-1.5zM258.9 538.2h1.5v1.5h-1.5zM267.9 538.2h1.5v1.5h-1.5zM201.2 539.5h1.5v1.5h-1.5zM207.2 539.5h1.5v1.5h-1.5zM211.7 539.5h1.5v1.5h-1.5zM213.2 539.5h1.5v1.5h-1.5zM214.7 539.5h1.5v1.5h-1.5zM217.7 539.5h1.5v1.5h-1.5zM219.2 539.5h1.5v1.5h-1.5zM220.7 539.5h1.5v1.5h-1.5zM222.2 539.5h1.5v1.5h-1.5zM223.7 539.5h1.5v1.5h-1.5zM225.2 539.5h1.5v1.5h-1.5zM229.7 539.5h1.5v1.5h-1.5zM232.7 539.5h1.5v1.5h-1.5zM234.2 539.5h1.5v1.5h-1.5zM235.7 539.5h1.5v1.5h-1.5zM237.2 539.5h1.5v1.5h-1.5zM238.7 539.5h1.5v1.5h-1.5zM240.2 539.5h1.5v1.5h-1.5zM243.2 539.5h1.5v1.5h-1.5zM244.7 539.5h1.5v1.5h-1.5zM246.2 539.5h1.5v1.5h-1.5zM250.7 539.5h1.5v1.5h-1.5zM252.2 539.5h1.5v1.5h-1.5zM255.2 539.5h1.5v1.5h-1.5zM258.1 539.5h1.5v1.5h-1.5zM261.1 539.5h1.5v1.5h-1.5zM264.1 539.5h1.5v1.5h-1.5zM265.6 539.5h1.5v1.5h-1.5zM267.1 539.5h1.5v1.5h-1.5zM200.4 540.8h1.5v1.5h-1.5zM204.9 540.8h1.5v1.5h-1.5zM209.4 540.8h1.5v1.5h-1.5zM210.9 540.8h1.5v1.5h-1.5zM215.4 540.8h1.5v1.5h-1.5zM216.9 540.8h1.5v1.5h-1.5zM219.9 540.8h1.5v1.5h-1.5zM221.4 540.8h1.5v1.5h-1.5zM222.9 540.8h1.5v1.5h-1.5zM224.4 540.8h1.5v1.5h-1.5zM225.9 540.8h1.5v1.5h-1.5zM227.4 540.8h1.5v1.5h-1.5zM228.9 540.8h1.5v1.5h-1.5zM231.9 540.8h1.5v1.5h-1.5zM233.4 540.8h1.5v1.5h-1.5zM236.4 540.8h1.5v1.5h-1.5zM237.9 540.8h1.5v1.5h-1.5zM239.4 540.8h1.5v1.5h-1.5zM240.9 540.8h1.5v1.5h-1.5zM243.9 540.8h1.5v1.5h-1.5zM245.4 540.8h1.5v1.5h-1.5zM248.4 540.8h1.5v1.5h-1.5zM249.9 540.8h1.5v1.5h-1.5zM251.4 540.8h1.5v1.5h-1.5zM254.4 540.8h1.5v1.5h-1.5zM255.9 540.8h1.5v1.5h-1.5zM258.9 540.8h1.5v1.5h-1.5zM260.4 540.8h1.5v1.5h-1.5zM261.9 540.8h1.5v1.5h-1.5zM263.4 540.8h1.5v1.5h-1.5zM264.9 540.8h1.5v1.5h-1.5zM273.9 540.8h1.5v1.5h-1.5zM207.2 542.1h1.5v1.5h-1.5zM208.7 542.1h1.5v1.5h-1.5zM210.2 542.1h1.5v1.5h-1.5zM213.2 542.1h1.5v1.5h-1.5zM214.7 542.1h1.5v1.5h-1.5zM216.2 542.1h1.5v1.5h-1.5zM217.7 542.1h1.5v1.5h-1.5zM219.2 542.1h1.5v1.5h-1.5zM225.2 542.1h1.5v1.5h-1.5zM226.7 542.1h1.5v1.5h-1.5zM228.2 542.1h1.5v1.5h-1.5zM229.7 542.1h1.5v1.5h-1.5zM231.2 542.1h1.5v1.5h-1.5zM232.7 542.1h1.5v1.5h-1.5zM234.2 542.1h1.5v1.5h-1.5zM237.2 542.1h1.5v1.5h-1.5zM240.2 542.1h1.5v1.5h-1.5zM241.7 542.1h1.5v1.5h-1.5zM243.2 542.1h1.5v1.5h-1.5zM244.7 542.1h1.5v1.5h-1.5zM247.7 542.1h1.5v1.5h-1.5zM249.2 542.1h1.5v1.5h-1.5zM250.7 542.1h1.5v1.5h-1.5zM255.2 542.1h1.5v1.5h-1.5zM256.6 542.1h1.5v1.5h-1.5zM258.1 542.1h1.5v1.5h-1.5zM262.6 542.1h1.5v1.5h-1.5zM264.1 542.1h1.5v1.5h-1.5zM265.6 542.1h1.5v1.5h-1.5zM268.6 542.1h1.5v1.5h-1.5zM198.9 543.4h1.5v1.5h-1.5zM200.4 543.4h1.5v1.5h-1.5zM209.4 543.4h1.5v1.5h-1.5zM210.9 543.4h1.5v1.5h-1.5zM212.4 543.4h1.5v1.5h-1.5zM215.4 543.4h1.5v1.5h-1.5zM216.9 543.4h1.5v1.5h-1.5zM218.4 543.4h1.5v1.5h-1.5zM219.9 543.4h1.5v1.5h-1.5zM221.4 543.4h1.5v1.5h-1.5zM224.4 543.4h1.5v1.5h-1.5zM225.9 543.4h1.5v1.5h-1.5zM227.4 543.4h1.5v1.5h-1.5zM228.9 543.4h1.5v1.5h-1.5zM233.4 543.4h1.5v1.5h-1.5zM234.9 543.4h1.5v1.5h-1.5zM236.4 543.4h1.5v1.5h-1.5zM237.9 543.4h1.5v1.5h-1.5zM240.9 543.4h1.5v1.5h-1.5zM243.9 543.4h1.5v1.5h-1.5zM245.4 543.4h1.5v1.5h-1.5zM246.9 543.4h1.5v1.5h-1.5zM249.9 543.4h1.5v1.5h-1.5zM252.9 543.4h1.5v1.5h-1.5zM255.9 543.4h1.5v1.5h-1.5zM257.4 543.4h1.5v1.5h-1.5zM260.4 543.4h1.5v1.5h-1.5zM261.9 543.4h1.5v1.5h-1.5zM266.4 543.4h1.5v1.5h-1.5zM270.9 543.4h1.5v1.5h-1.5zM272.4 543.4h1.5v1.5h-1.5zM273.9 543.4h1.5v1.5h-1.5zM204.2 544.8h1.5v1.5h-1.5zM205.7 544.8h1.5v1.5h-1.5zM208.7 544.8h1.5v1.5h-1.5zM216.2 544.8h1.5v1.5h-1.5zM217.7 544.8h1.5v1.5h-1.5zM219.2 544.8h1.5v1.5h-1.5zM220.7 544.8h1.5v1.5h-1.5zM222.2 544.8h1.5v1.5h-1.5zM228.2 544.8h1.5v1.5h-1.5zM229.7 544.8h1.5v1.5h-1.5zM231.2 544.8h1.5v1.5h-1.5zM232.7 544.8h1.5v1.5h-1.5zM234.2 544.8h1.5v1.5h-1.5zM235.7 544.8h1.5v1.5h-1.5zM237.2 544.8h1.5v1.5h-1.5zM238.7 544.8h1.5v1.5h-1.5zM240.2 544.8h1.5v1.5h-1.5zM241.7 544.8h1.5v1.5h-1.5zM243.2 544.8h1.5v1.5h-1.5zM244.7 544.8h1.5v1.5h-1.5zM246.2 544.8h1.5v1.5h-1.5zM247.7 544.8h1.5v1.5h-1.5zM249.2 544.8h1.5v1.5h-1.5zM250.7 544.8h1.5v1.5h-1.5zM252.2 544.8h1.5v1.5h-1.5zM253.7 544.8h1.5v1.5h-1.5zM255.2 544.8h1.5v1.5h-1.5zM256.6 544.8h1.5v1.5h-1.5zM258.1 544.8h1.5v1.5h-1.5zM265.6 544.8h1.5v1.5h-1.5zM267.1 544.8h1.5v1.5h-1.5zM268.6 544.8h1.5v1.5h-1.5zM273.1 544.8h1.5v1.5h-1.5zM274.6 544.8h1.5v1.5h-1.5zM201.9 546.1h1.5v1.5h-1.5zM203.4 546.1h1.5v1.5h-1.5zM204.9 546.1h1.5v1.5h-1.5zM207.9 546.1h1.5v1.5h-1.5zM210.9 546.1h1.5v1.5h-1.5zM212.4 546.1h1.5v1.5h-1.5zM213.9 546.1h1.5v1.5h-1.5zM218.4 546.1h1.5v1.5h-1.5zM219.9 546.1h1.5v1.5h-1.5zM222.9 546.1h1.5v1.5h-1.5zM225.9 546.1h1.5v1.5h-1.5zM227.4 546.1h1.5v1.5h-1.5zM230.4 546.1h1.5v1.5h-1.5zM231.9 546.1h1.5v1.5h-1.5zM233.4 546.1h1.5v1.5h-1.5zM234.9 546.1h1.5v1.5h-1.5zM240.9 546.1h1.5v1.5h-1.5zM243.9 546.1h1.5v1.5h-1.5zM245.4 546.1h1.5v1.5h-1.5zM248.4 546.1h1.5v1.5h-1.5zM249.9 546.1h1.5v1.5h-1.5zM251.4 546.1h1.5v1.5h-1.5zM252.9 546.1h1.5v1.5h-1.5zM254.4 546.1h1.5v1.5h-1.5zM255.9 546.1h1.5v1.5h-1.5zM257.4 546.1h1.5v1.5h-1.5zM260.4 546.1h1.5v1.5h-1.5zM263.4 546.1h1.5v1.5h-1.5zM264.9 546.1h1.5v1.5h-1.5zM266.4 546.1h1.5v1.5h-1.5zM202.7 547.4h1.5v1.5h-1.5zM207.2 547.4h1.5v1.5h-1.5zM210.2 547.4h1.5v1.5h-1.5zM211.7 547.4h1.5v1.5h-1.5zM213.2 547.4h1.5v1.5h-1.5zM214.7 547.4h1.5v1.5h-1.5zM217.7 547.4h1.5v1.5h-1.5zM219.2 547.4h1.5v1.5h-1.5zM220.7 547.4h1.5v1.5h-1.5zM222.2 547.4h1.5v1.5h-1.5zM223.7 547.4h1.5v1.5h-1.5zM225.2 547.4h1.5v1.5h-1.5zM226.7 547.4h1.5v1.5h-1.5zM228.2 547.4h1.5v1.5h-1.5zM229.7 547.4h1.5v1.5h-1.5zM231.2 547.4h1.5v1.5h-1.5zM237.2 547.4h1.5v1.5h-1.5zM238.7 547.4h1.5v1.5h-1.5zM240.2 547.4h1.5v1.5h-1.5zM241.7 547.4h1.5v1.5h-1.5zM243.2 547.4h1.5v1.5h-1.5zM244.7 547.4h1.5v1.5h-1.5zM246.2 547.4h1.5v1.5h-1.5zM247.7 547.4h1.5v1.5h-1.5zM249.2 547.4h1.5v1.5h-1.5zM252.2 547.4h1.5v1.5h-1.5zM253.7 547.4h1.5v1.5h-1.5zM255.2 547.4h1.5v1.5h-1.5zM256.6 547.4h1.5v1.5h-1.5zM258.1 547.4h1.5v1.5h-1.5zM259.6 547.4h1.5v1.5h-1.5zM262.6 547.4h1.5v1.5h-1.5zM264.1 547.4h1.5v1.5h-1.5zM265.6 547.4h1.5v1.5h-1.5zM267.1 547.4h1.5v1.5h-1.5zM268.6 547.4h1.5v1.5h-1.5zM271.6 547.4h1.5v1.5h-1.5zM274.6 547.4h1.5v1.5h-1.5zM276.1 547.4h1.5v1.5h-1.5zM200.4 548.7h1.5v1.5h-1.5zM201.9 548.7h1.5v1.5h-1.5zM206.4 548.7h1.5v1.5h-1.5zM207.9 548.7h1.5v1.5h-1.5zM210.9 548.7h1.5v1.5h-1.5zM212.4 548.7h1.5v1.5h-1.5zM213.9 548.7h1.5v1.5h-1.5zM215.4 548.7h1.5v1.5h-1.5zM216.9 548.7h1.5v1.5h-1.5zM221.4 548.7h1.5v1.5h-1.5zM222.9 548.7h1.5v1.5h-1.5zM224.4 548.7h1.5v1.5h-1.5zM225.9 548.7h1.5v1.5h-1.5zM227.4 548.7h1.5v1.5h-1.5zM228.9 548.7h1.5v1.5h-1.5zM230.4 548.7h1.5v1.5h-1.5zM233.4 548.7h1.5v1.5h-1.5zM236.4 548.7h1.5v1.5h-1.5zM237.9 548.7h1.5v1.5h-1.5zM240.9 548.7h1.5v1.5h-1.5zM242.4 548.7h1.5v1.5h-1.5zM245.4 548.7h1.5v1.5h-1.5zM246.9 548.7h1.5v1.5h-1.5zM248.4 548.7h1.5v1.5h-1.5zM249.9 548.7h1.5v1.5h-1.5zM251.4 548.7h1.5v1.5h-1.5zM254.4 548.7h1.5v1.5h-1.5zM255.9 548.7h1.5v1.5h-1.5zM257.4 548.7h1.5v1.5h-1.5zM258.9 548.7h1.5v1.5h-1.5zM260.4 548.7h1.5v1.5h-1.5zM261.9 548.7h1.5v1.5h-1.5zM263.4 548.7h1.5v1.5h-1.5zM266.4 548.7h1.5v1.5h-1.5zM269.4 548.7h1.5v1.5h-1.5zM272.4 548.7h1.5v1.5h-1.5zM279.9 548.7h1.5v1.5h-1.5zM201.2 550h1.5v1.5h-1.5zM202.7 550h1.5v1.5h-1.5zM207.2 550h1.5v1.5h-1.5zM210.2 550h1.5v1.5h-1.5zM211.7 550h1.5v1.5h-1.5zM213.2 550h1.5v1.5h-1.5zM214.7 550h1.5v1.5h-1.5zM220.7 550h1.5v1.5h-1.5zM222.2 550h1.5v1.5h-1.5zM223.7 550h1.5v1.5h-1.5zM225.2 550h1.5v1.5h-1.5zM228.2 550h1.5v1.5h-1.5zM229.7 550h1.5v1.5h-1.5zM231.2 550h1.5v1.5h-1.5zM232.7 550h1.5v1.5h-1.5zM235.7 550h1.5v1.5h-1.5zM237.2 550h1.5v1.5h-1.5zM238.7 550h1.5v1.5h-1.5zM240.2 550h1.5v1.5h-1.5zM241.7 550h1.5v1.5h-1.5zM247.7 550h1.5v1.5h-1.5zM249.2 550h1.5v1.5h-1.5zM250.7 550h1.5v1.5h-1.5zM252.2 550h1.5v1.5h-1.5zM258.1 550h1.5v1.5h-1.5zM259.6 550h1.5v1.5h-1.5zM261.1 550h1.5v1.5h-1.5zM265.6 550h1.5v1.5h-1.5zM267.1 550h1.5v1.5h-1.5zM270.1 550h1.5v1.5h-1.5zM271.6 550h1.5v1.5h-1.5zM273.1 550h1.5v1.5h-1.5zM201.9 551.3h1.5v1.5h-1.5zM204.9 551.3h1.5v1.5h-1.5zM206.4 551.3h1.5v1.5h-1.5zM207.9 551.3h1.5v1.5h-1.5zM210.9 551.3h1.5v1.5h-1.5zM212.4 551.3h1.5v1.5h-1.5zM213.9 551.3h1.5v1.5h-1.5zM216.9 551.3h1.5v1.5h-1.5zM218.4 551.3h1.5v1.5h-1.5zM219.9 551.3h1.5v1.5h-1.5zM221.4 551.3h1.5v1.5h-1.5zM222.9 551.3h1.5v1.5h-1.5zM224.4 551.3h1.5v1.5h-1.5zM225.9 551.3h1.5v1.5h-1.5zM227.4 551.3h1.5v1.5h-1.5zM230.4 551.3h1.5v1.5h-1.5zM233.4 551.3h1.5v1.5h-1.5zM234.9 551.3h1.5v1.5h-1.5zM236.4 551.3h1.5v1.5h-1.5zM237.9 551.3h1.5v1.5h-1.5zM239.4 551.3h1.5v1.5h-1.5zM240.9 551.3h1.5v1.5h-1.5zM242.4 551.3h1.5v1.5h-1.5zM243.9 551.3h1.5v1.5h-1.5zM245.4 551.3h1.5v1.5h-1.5zM246.9 551.3h1.5v1.5h-1.5zM248.4 551.3h1.5v1.5h-1.5zM249.9 551.3h1.5v1.5h-1.5zM251.4 551.3h1.5v1.5h-1.5zM252.9 551.3h1.5v1.5h-1.5zM255.9 551.3h1.5v1.5h-1.5zM257.4 551.3h1.5v1.5h-1.5zM258.9 551.3h1.5v1.5h-1.5zM260.4 551.3h1.5v1.5h-1.5zM261.9 551.3h1.5v1.5h-1.5zM263.4 551.3h1.5v1.5h-1.5zM269.4 551.3h1.5v1.5h-1.5zM270.9 551.3h1.5v1.5h-1.5zM273.9 551.3h1.5v1.5h-1.5zM202.7 552.6h1.5v1.5h-1.5zM204.2 552.6h1.5v1.5h-1.5zM208.7 552.6h1.5v1.5h-1.5zM210.2 552.6h1.5v1.5h-1.5zM211.7 552.6h1.5v1.5h-1.5zM213.2 552.6h1.5v1.5h-1.5zM214.7 552.6h1.5v1.5h-1.5zM216.2 552.6h1.5v1.5h-1.5zM217.7 552.6h1.5v1.5h-1.5zM219.2 552.6h1.5v1.5h-1.5zM220.7 552.6h1.5v1.5h-1.5zM222.2 552.6h1.5v1.5h-1.5zM223.7 552.6h1.5v1.5h-1.5zM225.2 552.6h1.5v1.5h-1.5zM226.7 552.6h1.5v1.5h-1.5zM228.2 552.6h1.5v1.5h-1.5zM229.7 552.6h1.5v1.5h-1.5zM231.2 552.6h1.5v1.5h-1.5zM232.7 552.6h1.5v1.5h-1.5zM234.2 552.6h1.5v1.5h-1.5zM235.7 552.6h1.5v1.5h-1.5zM238.7 552.6h1.5v1.5h-1.5zM240.2 552.6h1.5v1.5h-1.5zM241.7 552.6h1.5v1.5h-1.5zM243.2 552.6h1.5v1.5h-1.5zM246.2 552.6h1.5v1.5h-1.5zM247.7 552.6h1.5v1.5h-1.5zM252.2 552.6h1.5v1.5h-1.5zM253.7 552.6h1.5v1.5h-1.5zM255.2 552.6h1.5v1.5h-1.5zM256.6 552.6h1.5v1.5h-1.5zM258.1 552.6h1.5v1.5h-1.5zM259.6 552.6h1.5v1.5h-1.5zM265.6 552.6h1.5v1.5h-1.5zM267.1 552.6h1.5v1.5h-1.5zM268.6 552.6h1.5v1.5h-1.5zM274.6 552.6h1.5v1.5h-1.5zM277.6 552.6h1.5v1.5h-1.5zM203.4 553.9h1.5v1.5h-1.5zM207.9 553.9h1.5v1.5h-1.5zM209.4 553.9h1.5v1.5h-1.5zM210.9 553.9h1.5v1.5h-1.5zM213.9 553.9h1.5v1.5h-1.5zM215.4 553.9h1.5v1.5h-1.5zM216.9 553.9h1.5v1.5h-1.5zM218.4 553.9h1.5v1.5h-1.5zM219.9 553.9h1.5v1.5h-1.5zM221.4 553.9h1.5v1.5h-1.5zM224.4 553.9h1.5v1.5h-1.5zM225.9 553.9h1.5v1.5h-1.5zM227.4 553.9h1.5v1.5h-1.5zM228.9 553.9h1.5v1.5h-1.5zM230.4 553.9h1.5v1.5h-1.5zM231.9 553.9h1.5v1.5h-1.5zM233.4 553.9h1.5v1.5h-1.5zM234.9 553.9h1.5v1.5h-1.5zM237.9 553.9h1.5v1.5h-1.5zM239.4 553.9h1.5v1.5h-1.5zM240.9 553.9h1.5v1.5h-1.5zM242.4 553.9h1.5v1.5h-1.5zM243.9 553.9h1.5v1.5h-1.5zM245.4 553.9h1.5v1.5h-1.5zM246.9 553.9h1.5v1.5h-1.5zM248.4 553.9h1.5v1.5h-1.5zM249.9 553.9h1.5v1.5h-1.5zM251.4 553.9h1.5v1.5h-1.5zM252.9 553.9h1.5v1.5h-1.5zM254.4 553.9h1.5v1.5h-1.5zM255.9 553.9h1.5v1.5h-1.5zM257.4 553.9h1.5v1.5h-1.5zM258.9 553.9h1.5v1.5h-1.5zM261.9 553.9h1.5v1.5h-1.5zM263.4 553.9h1.5v1.5h-1.5zM199.7 555.2h1.5v1.5h-1.5zM202.7 555.2h1.5v1.5h-1.5zM207.2 555.2h1.5v1.5h-1.5zM216.2 555.2h1.5v1.5h-1.5zM217.7 555.2h1.5v1.5h-1.5zM219.2 555.2h1.5v1.5h-1.5zM222.2 555.2h1.5v1.5h-1.5zM223.7 555.2h1.5v1.5h-1.5zM225.2 555.2h1.5v1.5h-1.5zM226.7 555.2h1.5v1.5h-1.5zM228.2 555.2h1.5v1.5h-1.5zM229.7 555.2h1.5v1.5h-1.5zM231.2 555.2h1.5v1.5h-1.5zM232.7 555.2h1.5v1.5h-1.5zM234.2 555.2h1.5v1.5h-1.5zM235.7 555.2h1.5v1.5h-1.5zM237.2 555.2h1.5v1.5h-1.5zM238.7 555.2h1.5v1.5h-1.5zM240.2 555.2h1.5v1.5h-1.5zM241.7 555.2h1.5v1.5h-1.5zM243.2 555.2h1.5v1.5h-1.5zM244.7 555.2h1.5v1.5h-1.5zM246.2 555.2h1.5v1.5h-1.5zM247.7 555.2h1.5v1.5h-1.5zM250.7 555.2h1.5v1.5h-1.5zM252.2 555.2h1.5v1.5h-1.5zM253.7 555.2h1.5v1.5h-1.5zM256.6 555.2h1.5v1.5h-1.5zM259.6 555.2h1.5v1.5h-1.5zM261.1 555.2h1.5v1.5h-1.5zM262.6 555.2h1.5v1.5h-1.5zM264.1 555.2h1.5v1.5h-1.5zM265.6 555.2h1.5v1.5h-1.5zM267.1 555.2h1.5v1.5h-1.5zM280.6 555.2h1.5v1.5h-1.5zM203.4 556.5h1.5v1.5h-1.5zM206.4 556.5h1.5v1.5h-1.5zM209.4 556.5h1.5v1.5h-1.5zM212.4 556.5h1.5v1.5h-1.5zM213.9 556.5h1.5v1.5h-1.5zM216.9 556.5h1.5v1.5h-1.5zM218.4 556.5h1.5v1.5h-1.5zM219.9 556.5h1.5v1.5h-1.5zM222.9 556.5h1.5v1.5h-1.5zM224.4 556.5h1.5v1.5h-1.5zM227.4 556.5h1.5v1.5h-1.5zM228.9 556.5h1.5v1.5h-1.5zM231.9 556.5h1.5v1.5h-1.5zM234.9 556.5h1.5v1.5h-1.5zM237.9 556.5h1.5v1.5h-1.5zM240.9 556.5h1.5v1.5h-1.5zM243.9 556.5h1.5v1.5h-1.5zM245.4 556.5h1.5v1.5h-1.5zM246.9 556.5h1.5v1.5h-1.5zM248.4 556.5h1.5v1.5h-1.5zM249.9 556.5h1.5v1.5h-1.5zM251.4 556.5h1.5v1.5h-1.5zM254.4 556.5h1.5v1.5h-1.5zM257.4 556.5h1.5v1.5h-1.5zM258.9 556.5h1.5v1.5h-1.5zM260.4 556.5h1.5v1.5h-1.5zM261.9 556.5h1.5v1.5h-1.5zM263.4 556.5h1.5v1.5h-1.5zM275.4 556.5h1.5v1.5h-1.5zM199.7 557.8h1.5v1.5h-1.5zM207.2 557.8h1.5v1.5h-1.5zM211.7 557.8h1.5v1.5h-1.5zM219.2 557.8h1.5v1.5h-1.5zM220.7 557.8h1.5v1.5h-1.5zM222.2 557.8h1.5v1.5h-1.5zM223.7 557.8h1.5v1.5h-1.5zM228.2 557.8h1.5v1.5h-1.5zM229.7 557.8h1.5v1.5h-1.5zM234.2 557.8h1.5v1.5h-1.5zM235.7 557.8h1.5v1.5h-1.5zM237.2 557.8h1.5v1.5h-1.5zM238.7 557.8h1.5v1.5h-1.5zM241.7 557.8h1.5v1.5h-1.5zM243.2 557.8h1.5v1.5h-1.5zM246.2 557.8h1.5v1.5h-1.5zM247.7 557.8h1.5v1.5h-1.5zM249.2 557.8h1.5v1.5h-1.5zM252.2 557.8h1.5v1.5h-1.5zM255.2 557.8h1.5v1.5h-1.5zM258.1 557.8h1.5v1.5h-1.5zM259.6 557.8h1.5v1.5h-1.5zM261.1 557.8h1.5v1.5h-1.5zM262.6 557.8h1.5v1.5h-1.5zM270.1 557.8h1.5v1.5h-1.5zM274.6 557.8h1.5v1.5h-1.5zM203.4 559.1h1.5v1.5h-1.5zM204.9 559.1h1.5v1.5h-1.5zM206.4 559.1h1.5v1.5h-1.5zM207.9 559.1h1.5v1.5h-1.5zM215.4 559.1h1.5v1.5h-1.5zM219.9 559.1h1.5v1.5h-1.5zM222.9 559.1h1.5v1.5h-1.5zM224.4 559.1h1.5v1.5h-1.5zM225.9 559.1h1.5v1.5h-1.5zM227.4 559.1h1.5v1.5h-1.5zM228.9 559.1h1.5v1.5h-1.5zM230.4 559.1h1.5v1.5h-1.5zM233.4 559.1h1.5v1.5h-1.5zM234.9 559.1h1.5v1.5h-1.5zM237.9 559.1h1.5v1.5h-1.5zM239.4 559.1h1.5v1.5h-1.5zM242.4 559.1h1.5v1.5h-1.5zM246.9 559.1h1.5v1.5h-1.5zM248.4 559.1h1.5v1.5h-1.5zM249.9 559.1h1.5v1.5h-1.5zM257.4 559.1h1.5v1.5h-1.5zM258.9 559.1h1.5v1.5h-1.5zM261.9 559.1h1.5v1.5h-1.5zM263.4 559.1h1.5v1.5h-1.5zM264.9 559.1h1.5v1.5h-1.5zM207.2 560.4h1.5v1.5h-1.5zM214.7 560.4h1.5v1.5h-1.5zM217.7 560.4h1.5v1.5h-1.5zM222.2 560.4h1.5v1.5h-1.5zM225.2 560.4h1.5v1.5h-1.5zM226.7 560.4h1.5v1.5h-1.5zM228.2 560.4h1.5v1.5h-1.5zM229.7 560.4h1.5v1.5h-1.5zM231.2 560.4h1.5v1.5h-1.5zM234.2 560.4h1.5v1.5h-1.5zM235.7 560.4h1.5v1.5h-1.5zM237.2 560.4h1.5v1.5h-1.5zM243.2 560.4h1.5v1.5h-1.5zM244.7 560.4h1.5v1.5h-1.5zM247.7 560.4h1.5v1.5h-1.5zM252.2 560.4h1.5v1.5h-1.5zM256.6 560.4h1.5v1.5h-1.5zM264.1 560.4h1.5v1.5h-1.5zM268.6 560.4h1.5v1.5h-1.5zM210.9 561.7h1.5v1.5h-1.5zM213.9 561.7h1.5v1.5h-1.5zM222.9 561.7h1.5v1.5h-1.5zM224.4 561.7h1.5v1.5h-1.5zM231.9 561.7h1.5v1.5h-1.5zM233.4 561.7h1.5v1.5h-1.5zM237.9 561.7h1.5v1.5h-1.5zM239.4 561.7h1.5v1.5h-1.5zM243.9 561.7h1.5v1.5h-1.5zM252.9 561.7h1.5v1.5h-1.5zM258.9 561.7h1.5v1.5h-1.5zM263.4 561.7h1.5v1.5h-1.5zM264.9 561.7h1.5v1.5h-1.5zM213.2 563h1.5v1.5h-1.5zM220.7 563h1.5v1.5h-1.5zM228.2 563h1.5v1.5h-1.5zM231.2 563h1.5v1.5h-1.5zM238.7 563h1.5v1.5h-1.5zM244.7 563h1.5v1.5h-1.5zM249.2 563h1.5v1.5h-1.5zM250.7 563h1.5v1.5h-1.5zM255.2 563h1.5v1.5h-1.5zM264.1 563h1.5v1.5h-1.5zM221.4 564.3h1.5v1.5h-1.5zM234.9 564.3h1.5v1.5h-1.5zM237.9 564.3h1.5v1.5h-1.5zM243.9 564.3h1.5v1.5h-1.5z" fill="#b8a030"/>
<circle cx="202" cy="465.4" r="4.2" fill="#b8a030"/>
<text x="217.2" y="467.7" font-size="11.8" fill="#1f1f2a">Cancer cell 3</text>
<rect x="310.2" y="446.1" width="111.5" height="130.8" fill="#52ab8a"/>
<rect x="318.2" y="454.1" width="95.5" height="114.8" fill="#fff"/>
<rect x="318.6" y="478.9" width="94.7" height="89.6" fill="#dacadb"/>
<polygon points="409.3,478.9 413.3,478.9 413.3,568.5 401.3,568.5 401.3,559.5 404.3,549.5 408.3,540.5 409.3,513.5 408.3,503.9" fill="#f8f5f8" filter="url(#bl1)"/>
<rect x="318.6" y="567" width="94.7" height="1.5" fill="#eee6ee"/>
<rect x="318.6" y="478.9" width="1.5" height="89.6" fill="#e8dee8"/>
<path d="M363.9 484.4h1.5v1.5h-1.5zM380.4 484.4h1.5v1.5h-1.5zM398.4 484.4h1.5v1.5h-1.5zM385.7 485.7h1.5v1.5h-1.5zM387.2 485.7h1.5v1.5h-1.5zM369.9 487h1.5v1.5h-1.5zM386.4 487h1.5v1.5h-1.5zM363.2 488.3h1.5v1.5h-1.5zM367.7 488.3h1.5v1.5h-1.5zM373.7 488.3h1.5v1.5h-1.5zM366.9 489.6h1.5v1.5h-1.5zM369.2 490.9h1.5v1.5h-1.5zM398.4 492.3h1.5v1.5h-1.5zM379.7 493.6h1.5v1.5h-1.5zM369.9 494.9h1.5v1.5h-1.5zM370.7 496.2h1.5v1.5h-1.5zM375.2 496.2h1.5v1.5h-1.5zM391.7 496.2h1.5v1.5h-1.5zM366.9 497.5h1.5v1.5h-1.5zM402.9 497.5h1.5v1.5h-1.5zM381.2 498.8h1.5v1.5h-1.5zM384.2 498.8h1.5v1.5h-1.5zM388.7 498.8h1.5v1.5h-1.5zM363.9 500.1h1.5v1.5h-1.5zM370.7 501.4h1.5v1.5h-1.5zM384.2 501.4h1.5v1.5h-1.5zM385.7 501.4h1.5v1.5h-1.5zM387.2 501.4h1.5v1.5h-1.5zM390.2 501.4h1.5v1.5h-1.5zM380.4 502.7h1.5v1.5h-1.5zM384.9 502.7h1.5v1.5h-1.5zM387.9 502.7h1.5v1.5h-1.5zM389.4 502.7h1.5v1.5h-1.5zM364.7 504h1.5v1.5h-1.5zM366.2 504h1.5v1.5h-1.5zM384.2 504h1.5v1.5h-1.5zM387.2 504h1.5v1.5h-1.5zM380.4 505.3h1.5v1.5h-1.5zM383.4 505.3h1.5v1.5h-1.5zM386.4 505.3h1.5v1.5h-1.5zM387.9 505.3h1.5v1.5h-1.5zM389.4 505.3h1.5v1.5h-1.5zM364.7 506.6h1.5v1.5h-1.5zM370.7 506.6h1.5v1.5h-1.5zM382.7 506.6h1.5v1.5h-1.5zM384.2 506.6h1.5v1.5h-1.5zM387.2 506.6h1.5v1.5h-1.5zM388.7 506.6h1.5v1.5h-1.5zM390.2 506.6h1.5v1.5h-1.5zM326.4 507.9h1.5v1.5h-1.5zM375.9 507.9h1.5v1.5h-1.5zM380.4 507.9h1.5v1.5h-1.5zM383.4 507.9h1.5v1.5h-1.5zM390.9 507.9h1.5v1.5h-1.5zM392.4 507.9h1.5v1.5h-1.5zM381.2 509.2h1.5v1.5h-1.5zM382.7 509.2h1.5v1.5h-1.5zM384.2 509.2h1.5v1.5h-1.5zM385.7 509.2h1.5v1.5h-1.5zM390.2 509.2h1.5v1.5h-1.5zM394.7 509.2h1.5v1.5h-1.5zM378.9 510.5h1.5v1.5h-1.5zM381.9 510.5h1.5v1.5h-1.5zM386.4 510.5h1.5v1.5h-1.5zM387.9 510.5h1.5v1.5h-1.5zM389.4 510.5h1.5v1.5h-1.5zM390.9 510.5h1.5v1.5h-1.5zM384.2 511.8h1.5v1.5h-1.5zM385.7 511.8h1.5v1.5h-1.5zM387.2 511.8h1.5v1.5h-1.5zM388.7 511.8h1.5v1.5h-1.5zM368.4 513.1h1.5v1.5h-1.5zM381.9 513.1h1.5v1.5h-1.5zM386.4 513.1h1.5v1.5h-1.5zM387.9 513.1h1.5v1.5h-1.5zM390.9 513.1h1.5v1.5h-1.5zM370.7 514.4h1.5v1.5h-1.5zM381.2 514.4h1.5v1.5h-1.5zM384.2 514.4h1.5v1.5h-1.5zM388.7 514.4h1.5v1.5h-1.5zM390.2 514.4h1.5v1.5h-1.5zM399.2 514.4h1.5v1.5h-1.5zM383.4 515.7h1.5v1.5h-1.5zM352.7 517h1.5v1.5h-1.5zM382.7 517h1.5v1.5h-1.5zM384.2 517h1.5v1.5h-1.5zM387.2 517h1.5v1.5h-1.5zM390.2 517h1.5v1.5h-1.5zM391.7 517h1.5v1.5h-1.5zM380.4 518.3h1.5v1.5h-1.5zM381.9 518.3h1.5v1.5h-1.5zM383.4 518.3h1.5v1.5h-1.5zM384.9 518.3h1.5v1.5h-1.5zM386.4 518.3h1.5v1.5h-1.5zM389.4 518.3h1.5v1.5h-1.5zM398.4 518.3h1.5v1.5h-1.5zM367.7 519.7h1.5v1.5h-1.5zM384.2 519.7h1.5v1.5h-1.5zM385.7 519.7h1.5v1.5h-1.5zM390.2 519.7h1.5v1.5h-1.5zM374.4 521h1.5v1.5h-1.5zM386.4 521h1.5v1.5h-1.5zM390.9 521h1.5v1.5h-1.5zM385.7 522.3h1.5v1.5h-1.5zM362.4 523.6h1.5v1.5h-1.5zM368.4 523.6h1.5v1.5h-1.5zM371.4 523.6h1.5v1.5h-1.5zM386.4 523.6h1.5v1.5h-1.5zM393.9 523.6h1.5v1.5h-1.5zM361.7 532.7h1.5v1.5h-1.5zM326.4 534h1.5v1.5h-1.5zM359.4 534h1.5v1.5h-1.5zM344.4 536.6h1.5v1.5h-1.5zM324.9 544.4h1.5v1.5h-1.5zM387.9 544.4h1.5v1.5h-1.5zM348.2 548.4h1.5v1.5h-1.5zM372.2 558.8h1.5v1.5h-1.5z" fill="#7a8c30"/>
<circle cx="322" cy="465.4" r="3.6" fill="#7a8c30"/>
<text x="336.2" y="467.7" font-size="11.8" fill="#1f1f2a">Cancer cell 4</text>
<rect x="435.2" y="448.5" width="107.2" height="126" fill="#f0a868"/>
<rect x="443" y="456.3" width="91.6" height="110.4" fill="#fff"/>
<rect x="443" y="478.9" width="91.3" height="88.9" fill="#dacadb"/>
<polygon points="530.3,478.9 534.3,478.9 534.3,567.8 522.3,567.8 522.3,558.8 525.3,548.8 529.3,539.8 530.3,512.8 529.3,503.9" fill="#f8f5f8" filter="url(#bl1)"/>
<rect x="443" y="566.3" width="91.3" height="1.5" fill="#eee6ee"/>
<rect x="443" y="478.9" width="1.5" height="88.9" fill="#e8dee8"/>
<path d="M467 561.3h2v2h-2zM483.2 530.4h2v2h-2zM497.8 534.3h2v2h-2zM515.7 557.6h2v2h-2zM472.3 557h2v2h-2zM472.3 539.8h2v2h-2zM460.2 535.9h2v2h-2zM471.1 565.5h2v2h-2zM499.2 515.1h2v2h-2zM522.1 492.6h2v2h-2zM505.5 536.8h2v2h-2zM449.3 521.2h2v2h-2zM455.7 535.7h2v2h-2zM489.8 493.4h2v2h-2zM519.9 530.6h2v2h-2zM495.6 504.9h2v2h-2zM459.8 510h2v2h-2zM450.7 499.7h2v2h-2zM486.2 515.4h2v2h-2zM506.5 494.8h2v2h-2zM463.9 526.4h2v2h-2zM500.9 509.1h2v2h-2zM463.9 493.4h2v2h-2zM476 514.5h2v2h-2zM509.4 502.9h2v2h-2zM474.2 544.9h2v2h-2zM463.9 486.2h2v2h-2zM522.9 558.9h2v2h-2zM472.3 506.5h2v2h-2zM483.4 500.5h2v2h-2zM508.6 556.5h2v2h-2zM502.8 516.2h2v2h-2zM512.7 560.7h2v2h-2zM462.2 538.5h2v2h-2zM461.3 564.9h2v2h-2zM509.3 517h2v2h-2zM505.1 507.3h2v2h-2zM452.9 525.6h2v2h-2zM453.8 520.9h2v2h-2zM513.7 530.9h2v2h-2zM468.5 500.6h2v2h-2zM491 525.3h2v2h-2zM517.6 497.2h2v2h-2zM483.9 520.2h2v2h-2zM477 498.5h2v2h-2zM477.5 528.1h2v2h-2zM462.9 509.6h2v2h-2zM488.6 561h2v2h-2zM485.2 511.7h2v2h-2zM450.6 526h2v2h-2zM474.5 492.6h2v2h-2zM484.5 534.1h2v2h-2zM475 544h2v2h-2zM496.7 488.2h2v2h-2zM496.5 527h2v2h-2zM476.9 517.7h2v2h-2zM487.1 531.3h2v2h-2zM484.2 516.1h2v2h-2zM479.6 523h2v2h-2zM478.9 517.4h2v2h-2zM501.1 524.2h2v2h-2zM494.7 501.7h2v2h-2zM499.1 519.6h2v2h-2zM479.1 525.3h2v2h-2zM483.3 516h2v2h-2zM484 527.6h2v2h-2zM474.8 516.2h2v2h-2zM486.6 519.4h2v2h-2zM489.6 534.9h2v2h-2zM498.9 536.1h2v2h-2zM497.4 519h2v2h-2zM485.2 534.3h2v2h-2zM486.8 516.7h2v2h-2zM478.8 515.2h2v2h-2zM499.1 516.5h2v2h-2zM480.5 515.2h2v2h-2zM495.4 517.1h2v2h-2zM483.1 517.6h2v2h-2zM495 530.4h2v2h-2zM490.1 544.8h2v2h-2zM489.4 540.7h2v2h-2zM483.1 528.5h2v2h-2zM479 520.7h2v2h-2zM498.5 523.6h2v2h-2z" fill="#2e6e3a"/>
<circle cx="449.8" cy="465.4" r="3.6" fill="#2e6e3a"/>
<text x="457.9" y="467.7" font-size="11.8" fill="#1f1f2a">Cancer cell 6</text>
<rect x="72" y="584.3" width="15.3" height="15.3" fill="#5b87c1"/>
<rect x="76" y="588.3" width="7.3" height="7.3" fill="#fff"/>
<text x="94.2" y="595.8" font-size="11.8" fill="#1f1f2a">Defenders</text>
<rect x="160.4" y="584.3" width="15.3" height="15.3" fill="#e06b7d"/>
<rect x="164.4" y="588.3" width="7.3" height="7.3" fill="#fff"/>
<text x="181.9" y="595.8" font-size="11.8" fill="#1f1f2a">Attackers</text>
<rect x="249.3" y="584.3" width="15.3" height="15.3" fill="#52ab8a"/>
<rect x="253.3" y="588.3" width="7.3" height="7.3" fill="#fff"/>
<text x="271.3" y="595.8" font-size="11.8" fill="#1f1f2a">Engineers</text>
<rect x="344" y="584.3" width="15.3" height="15.3" fill="#f0a868"/>
<rect x="348" y="588.3" width="7.3" height="7.3" fill="#fff"/>
<text x="365.3" y="594.5" font-size="11.8" fill="#1f1f2a">Energy suppliers</text>
<rect x="40.1" y="620.8" width="22.8" height="130.9" fill="#f3c283"/>
<text x="42.5" y="686.9" font-size="11.5" fill="#1f1f2a">IMS</text>
<rect x="68" y="622" width="109.7" height="128.5" fill="#7ccbea"/>
<rect x="73.2" y="627.2" width="99.3" height="118.1" fill="#fff"/>
<rect x="74.8" y="655" width="94.7" height="89.5" fill="#eddee4"/>
<rect x="169.5" y="655" width="3.4" height="89.5" fill="#f6eef2"/>
<path d="M152.3 680.1h1.5v1.5h-1.5zM142.6 681.4h1.5v1.5h-1.5zM145.6 681.4h1.5v1.5h-1.5zM140.3 682.7h1.5v1.5h-1.5zM144.8 682.7h1.5v1.5h-1.5zM147.8 682.7h1.5v1.5h-1.5zM135.1 684h1.5v1.5h-1.5zM138.1 684h1.5v1.5h-1.5zM147.1 684h1.5v1.5h-1.5zM151.6 684h1.5v1.5h-1.5zM137.3 685.3h1.5v1.5h-1.5zM140.3 685.3h1.5v1.5h-1.5zM141.8 685.3h1.5v1.5h-1.5zM143.3 685.3h1.5v1.5h-1.5zM150.8 685.3h1.5v1.5h-1.5zM148.6 686.6h1.5v1.5h-1.5zM150.1 686.6h1.5v1.5h-1.5zM153.1 686.6h1.5v1.5h-1.5zM156.1 686.6h1.5v1.5h-1.5zM162.1 686.6h1.5v1.5h-1.5zM134.3 687.9h1.5v1.5h-1.5zM138.8 687.9h1.5v1.5h-1.5zM152.3 687.9h1.5v1.5h-1.5zM141.1 689.2h1.5v1.5h-1.5zM142.6 689.2h1.5v1.5h-1.5zM151.6 689.2h1.5v1.5h-1.5zM154.6 689.2h1.5v1.5h-1.5zM165.1 689.2h1.5v1.5h-1.5zM166.6 689.2h1.5v1.5h-1.5zM134.3 690.5h1.5v1.5h-1.5zM137.3 690.5h1.5v1.5h-1.5zM138.8 690.5h1.5v1.5h-1.5zM140.3 690.5h1.5v1.5h-1.5zM144.8 690.5h1.5v1.5h-1.5zM146.3 690.5h1.5v1.5h-1.5zM150.8 690.5h1.5v1.5h-1.5zM156.8 690.5h1.5v1.5h-1.5zM159.8 690.5h1.5v1.5h-1.5zM162.8 690.5h1.5v1.5h-1.5zM135.1 691.8h1.5v1.5h-1.5zM136.6 691.8h1.5v1.5h-1.5zM138.1 691.8h1.5v1.5h-1.5zM139.6 691.8h1.5v1.5h-1.5zM141.1 691.8h1.5v1.5h-1.5zM144.1 691.8h1.5v1.5h-1.5zM145.6 691.8h1.5v1.5h-1.5zM147.1 691.8h1.5v1.5h-1.5zM148.6 691.8h1.5v1.5h-1.5zM151.6 691.8h1.5v1.5h-1.5zM154.6 691.8h1.5v1.5h-1.5zM157.6 691.8h1.5v1.5h-1.5zM159.1 691.8h1.5v1.5h-1.5zM160.6 691.8h1.5v1.5h-1.5zM162.1 691.8h1.5v1.5h-1.5zM163.6 691.8h1.5v1.5h-1.5zM129.8 693.1h1.5v1.5h-1.5zM131.3 693.1h1.5v1.5h-1.5zM134.3 693.1h1.5v1.5h-1.5zM135.8 693.1h1.5v1.5h-1.5zM137.3 693.1h1.5v1.5h-1.5zM141.8 693.1h1.5v1.5h-1.5zM144.8 693.1h1.5v1.5h-1.5zM146.3 693.1h1.5v1.5h-1.5zM147.8 693.1h1.5v1.5h-1.5zM149.3 693.1h1.5v1.5h-1.5zM150.8 693.1h1.5v1.5h-1.5zM153.8 693.1h1.5v1.5h-1.5zM155.3 693.1h1.5v1.5h-1.5zM158.3 693.1h1.5v1.5h-1.5zM164.3 693.1h1.5v1.5h-1.5zM165.8 693.1h1.5v1.5h-1.5zM126.1 694.4h1.5v1.5h-1.5zM129.1 694.4h1.5v1.5h-1.5zM130.6 694.4h1.5v1.5h-1.5zM133.6 694.4h1.5v1.5h-1.5zM138.1 694.4h1.5v1.5h-1.5zM139.6 694.4h1.5v1.5h-1.5zM141.1 694.4h1.5v1.5h-1.5zM144.1 694.4h1.5v1.5h-1.5zM145.6 694.4h1.5v1.5h-1.5zM147.1 694.4h1.5v1.5h-1.5zM148.6 694.4h1.5v1.5h-1.5zM150.1 694.4h1.5v1.5h-1.5zM151.6 694.4h1.5v1.5h-1.5zM153.1 694.4h1.5v1.5h-1.5zM154.6 694.4h1.5v1.5h-1.5zM163.6 694.4h1.5v1.5h-1.5zM132.8 695.8h1.5v1.5h-1.5zM134.3 695.8h1.5v1.5h-1.5zM135.8 695.8h1.5v1.5h-1.5zM137.3 695.8h1.5v1.5h-1.5zM144.8 695.8h1.5v1.5h-1.5zM146.3 695.8h1.5v1.5h-1.5zM147.8 695.8h1.5v1.5h-1.5zM149.3 695.8h1.5v1.5h-1.5zM153.8 695.8h1.5v1.5h-1.5zM158.3 695.8h1.5v1.5h-1.5zM159.8 695.8h1.5v1.5h-1.5zM167.3 695.8h1.5v1.5h-1.5zM127.6 697.1h1.5v1.5h-1.5zM132.1 697.1h1.5v1.5h-1.5zM136.6 697.1h1.5v1.5h-1.5zM138.1 697.1h1.5v1.5h-1.5zM139.6 697.1h1.5v1.5h-1.5zM141.1 697.1h1.5v1.5h-1.5zM142.6 697.1h1.5v1.5h-1.5zM144.1 697.1h1.5v1.5h-1.5zM150.1 697.1h1.5v1.5h-1.5zM151.6 697.1h1.5v1.5h-1.5zM153.1 697.1h1.5v1.5h-1.5zM154.6 697.1h1.5v1.5h-1.5zM156.1 697.1h1.5v1.5h-1.5zM159.1 697.1h1.5v1.5h-1.5zM162.1 697.1h1.5v1.5h-1.5zM165.1 697.1h1.5v1.5h-1.5zM128.3 698.4h1.5v1.5h-1.5zM131.3 698.4h1.5v1.5h-1.5zM135.8 698.4h1.5v1.5h-1.5zM137.3 698.4h1.5v1.5h-1.5zM138.8 698.4h1.5v1.5h-1.5zM140.3 698.4h1.5v1.5h-1.5zM141.8 698.4h1.5v1.5h-1.5zM143.3 698.4h1.5v1.5h-1.5zM144.8 698.4h1.5v1.5h-1.5zM147.8 698.4h1.5v1.5h-1.5zM150.8 698.4h1.5v1.5h-1.5zM153.8 698.4h1.5v1.5h-1.5zM156.8 698.4h1.5v1.5h-1.5zM158.3 698.4h1.5v1.5h-1.5zM164.3 698.4h1.5v1.5h-1.5zM126.1 699.7h1.5v1.5h-1.5zM132.1 699.7h1.5v1.5h-1.5zM133.6 699.7h1.5v1.5h-1.5zM136.6 699.7h1.5v1.5h-1.5zM138.1 699.7h1.5v1.5h-1.5zM139.6 699.7h1.5v1.5h-1.5zM141.1 699.7h1.5v1.5h-1.5zM142.6 699.7h1.5v1.5h-1.5zM145.6 699.7h1.5v1.5h-1.5zM151.6 699.7h1.5v1.5h-1.5zM153.1 699.7h1.5v1.5h-1.5zM154.6 699.7h1.5v1.5h-1.5zM156.1 699.7h1.5v1.5h-1.5zM159.1 699.7h1.5v1.5h-1.5zM162.1 699.7h1.5v1.5h-1.5zM165.1 699.7h1.5v1.5h-1.5zM135.8 701h1.5v1.5h-1.5zM138.8 701h1.5v1.5h-1.5zM140.3 701h1.5v1.5h-1.5zM141.8 701h1.5v1.5h-1.5zM143.3 701h1.5v1.5h-1.5zM144.8 701h1.5v1.5h-1.5zM153.8 701h1.5v1.5h-1.5zM155.3 701h1.5v1.5h-1.5zM156.8 701h1.5v1.5h-1.5zM158.3 701h1.5v1.5h-1.5zM164.3 701h1.5v1.5h-1.5zM167.3 701h1.5v1.5h-1.5zM124.6 702.3h1.5v1.5h-1.5zM130.6 702.3h1.5v1.5h-1.5zM132.1 702.3h1.5v1.5h-1.5zM136.6 702.3h1.5v1.5h-1.5zM139.6 702.3h1.5v1.5h-1.5zM141.1 702.3h1.5v1.5h-1.5zM142.6 702.3h1.5v1.5h-1.5zM144.1 702.3h1.5v1.5h-1.5zM153.1 702.3h1.5v1.5h-1.5zM154.6 702.3h1.5v1.5h-1.5zM157.6 702.3h1.5v1.5h-1.5zM160.6 702.3h1.5v1.5h-1.5zM163.6 702.3h1.5v1.5h-1.5zM165.1 702.3h1.5v1.5h-1.5zM166.6 702.3h1.5v1.5h-1.5zM126.8 703.6h1.5v1.5h-1.5zM129.8 703.6h1.5v1.5h-1.5zM131.3 703.6h1.5v1.5h-1.5zM134.3 703.6h1.5v1.5h-1.5zM135.8 703.6h1.5v1.5h-1.5zM137.3 703.6h1.5v1.5h-1.5zM138.8 703.6h1.5v1.5h-1.5zM140.3 703.6h1.5v1.5h-1.5zM152.3 703.6h1.5v1.5h-1.5zM156.8 703.6h1.5v1.5h-1.5zM158.3 703.6h1.5v1.5h-1.5zM159.8 703.6h1.5v1.5h-1.5zM161.3 703.6h1.5v1.5h-1.5zM167.3 703.6h1.5v1.5h-1.5zM123.1 704.9h1.5v1.5h-1.5zM130.6 704.9h1.5v1.5h-1.5zM135.1 704.9h1.5v1.5h-1.5zM136.6 704.9h1.5v1.5h-1.5zM138.1 704.9h1.5v1.5h-1.5zM139.6 704.9h1.5v1.5h-1.5zM141.1 704.9h1.5v1.5h-1.5zM142.6 704.9h1.5v1.5h-1.5zM144.1 704.9h1.5v1.5h-1.5zM145.6 704.9h1.5v1.5h-1.5zM153.1 704.9h1.5v1.5h-1.5zM154.6 704.9h1.5v1.5h-1.5zM156.1 704.9h1.5v1.5h-1.5zM157.6 704.9h1.5v1.5h-1.5zM159.1 704.9h1.5v1.5h-1.5zM160.6 704.9h1.5v1.5h-1.5zM163.6 704.9h1.5v1.5h-1.5zM132.8 706.2h1.5v1.5h-1.5zM134.3 706.2h1.5v1.5h-1.5zM137.3 706.2h1.5v1.5h-1.5zM138.8 706.2h1.5v1.5h-1.5zM140.3 706.2h1.5v1.5h-1.5zM141.8 706.2h1.5v1.5h-1.5zM143.3 706.2h1.5v1.5h-1.5zM144.8 706.2h1.5v1.5h-1.5zM150.8 706.2h1.5v1.5h-1.5zM153.8 706.2h1.5v1.5h-1.5zM156.8 706.2h1.5v1.5h-1.5zM159.8 706.2h1.5v1.5h-1.5zM161.3 706.2h1.5v1.5h-1.5zM165.8 706.2h1.5v1.5h-1.5zM127.6 707.5h1.5v1.5h-1.5zM130.6 707.5h1.5v1.5h-1.5zM132.1 707.5h1.5v1.5h-1.5zM133.6 707.5h1.5v1.5h-1.5zM135.1 707.5h1.5v1.5h-1.5zM136.6 707.5h1.5v1.5h-1.5zM138.1 707.5h1.5v1.5h-1.5zM139.6 707.5h1.5v1.5h-1.5zM141.1 707.5h1.5v1.5h-1.5zM142.6 707.5h1.5v1.5h-1.5zM147.1 707.5h1.5v1.5h-1.5zM150.1 707.5h1.5v1.5h-1.5zM151.6 707.5h1.5v1.5h-1.5zM153.1 707.5h1.5v1.5h-1.5zM154.6 707.5h1.5v1.5h-1.5zM156.1 707.5h1.5v1.5h-1.5zM157.6 707.5h1.5v1.5h-1.5zM160.6 707.5h1.5v1.5h-1.5zM163.6 707.5h1.5v1.5h-1.5zM165.1 707.5h1.5v1.5h-1.5zM166.6 707.5h1.5v1.5h-1.5zM120.8 708.8h1.5v1.5h-1.5zM125.3 708.8h1.5v1.5h-1.5zM126.8 708.8h1.5v1.5h-1.5zM128.3 708.8h1.5v1.5h-1.5zM129.8 708.8h1.5v1.5h-1.5zM131.3 708.8h1.5v1.5h-1.5zM132.8 708.8h1.5v1.5h-1.5zM135.8 708.8h1.5v1.5h-1.5zM137.3 708.8h1.5v1.5h-1.5zM138.8 708.8h1.5v1.5h-1.5zM140.3 708.8h1.5v1.5h-1.5zM141.8 708.8h1.5v1.5h-1.5zM143.3 708.8h1.5v1.5h-1.5zM146.3 708.8h1.5v1.5h-1.5zM152.3 708.8h1.5v1.5h-1.5zM153.8 708.8h1.5v1.5h-1.5zM155.3 708.8h1.5v1.5h-1.5zM156.8 708.8h1.5v1.5h-1.5zM158.3 708.8h1.5v1.5h-1.5zM159.8 708.8h1.5v1.5h-1.5zM162.8 708.8h1.5v1.5h-1.5zM164.3 708.8h1.5v1.5h-1.5zM165.8 708.8h1.5v1.5h-1.5zM127.6 710.1h1.5v1.5h-1.5zM130.6 710.1h1.5v1.5h-1.5zM132.1 710.1h1.5v1.5h-1.5zM133.6 710.1h1.5v1.5h-1.5zM135.1 710.1h1.5v1.5h-1.5zM138.1 710.1h1.5v1.5h-1.5zM139.6 710.1h1.5v1.5h-1.5zM142.6 710.1h1.5v1.5h-1.5zM144.1 710.1h1.5v1.5h-1.5zM145.6 710.1h1.5v1.5h-1.5zM150.1 710.1h1.5v1.5h-1.5zM151.6 710.1h1.5v1.5h-1.5zM153.1 710.1h1.5v1.5h-1.5zM154.6 710.1h1.5v1.5h-1.5zM157.6 710.1h1.5v1.5h-1.5zM159.1 710.1h1.5v1.5h-1.5zM160.6 710.1h1.5v1.5h-1.5zM162.1 710.1h1.5v1.5h-1.5zM163.6 710.1h1.5v1.5h-1.5zM165.1 710.1h1.5v1.5h-1.5zM125.3 711.4h1.5v1.5h-1.5zM126.8 711.4h1.5v1.5h-1.5zM129.8 711.4h1.5v1.5h-1.5zM131.3 711.4h1.5v1.5h-1.5zM134.3 711.4h1.5v1.5h-1.5zM135.8 711.4h1.5v1.5h-1.5zM137.3 711.4h1.5v1.5h-1.5zM138.8 711.4h1.5v1.5h-1.5zM140.3 711.4h1.5v1.5h-1.5zM141.8 711.4h1.5v1.5h-1.5zM143.3 711.4h1.5v1.5h-1.5zM144.8 711.4h1.5v1.5h-1.5zM146.3 711.4h1.5v1.5h-1.5zM149.3 711.4h1.5v1.5h-1.5zM150.8 711.4h1.5v1.5h-1.5zM152.3 711.4h1.5v1.5h-1.5zM153.8 711.4h1.5v1.5h-1.5zM156.8 711.4h1.5v1.5h-1.5zM159.8 711.4h1.5v1.5h-1.5zM161.3 711.4h1.5v1.5h-1.5zM162.8 711.4h1.5v1.5h-1.5zM165.8 711.4h1.5v1.5h-1.5zM167.3 711.4h1.5v1.5h-1.5zM123.1 712.7h1.5v1.5h-1.5zM124.6 712.7h1.5v1.5h-1.5zM129.1 712.7h1.5v1.5h-1.5zM132.1 712.7h1.5v1.5h-1.5zM133.6 712.7h1.5v1.5h-1.5zM135.1 712.7h1.5v1.5h-1.5zM136.6 712.7h1.5v1.5h-1.5zM139.6 712.7h1.5v1.5h-1.5zM141.1 712.7h1.5v1.5h-1.5zM142.6 712.7h1.5v1.5h-1.5zM145.6 712.7h1.5v1.5h-1.5zM147.1 712.7h1.5v1.5h-1.5zM151.6 712.7h1.5v1.5h-1.5zM153.1 712.7h1.5v1.5h-1.5zM154.6 712.7h1.5v1.5h-1.5zM156.1 712.7h1.5v1.5h-1.5zM159.1 712.7h1.5v1.5h-1.5zM162.1 712.7h1.5v1.5h-1.5zM165.1 712.7h1.5v1.5h-1.5zM166.6 712.7h1.5v1.5h-1.5zM120.8 714h1.5v1.5h-1.5zM129.8 714h1.5v1.5h-1.5zM131.3 714h1.5v1.5h-1.5zM132.8 714h1.5v1.5h-1.5zM137.3 714h1.5v1.5h-1.5zM138.8 714h1.5v1.5h-1.5zM141.8 714h1.5v1.5h-1.5zM143.3 714h1.5v1.5h-1.5zM144.8 714h1.5v1.5h-1.5zM147.8 714h1.5v1.5h-1.5zM149.3 714h1.5v1.5h-1.5zM150.8 714h1.5v1.5h-1.5zM152.3 714h1.5v1.5h-1.5zM153.8 714h1.5v1.5h-1.5zM155.3 714h1.5v1.5h-1.5zM158.3 714h1.5v1.5h-1.5zM159.8 714h1.5v1.5h-1.5zM161.3 714h1.5v1.5h-1.5zM162.8 714h1.5v1.5h-1.5zM164.3 714h1.5v1.5h-1.5zM165.8 714h1.5v1.5h-1.5zM129.1 715.3h1.5v1.5h-1.5zM132.1 715.3h1.5v1.5h-1.5zM133.6 715.3h1.5v1.5h-1.5zM135.1 715.3h1.5v1.5h-1.5zM136.6 715.3h1.5v1.5h-1.5zM138.1 715.3h1.5v1.5h-1.5zM139.6 715.3h1.5v1.5h-1.5zM142.6 715.3h1.5v1.5h-1.5zM144.1 715.3h1.5v1.5h-1.5zM147.1 715.3h1.5v1.5h-1.5zM148.6 715.3h1.5v1.5h-1.5zM151.6 715.3h1.5v1.5h-1.5zM153.1 715.3h1.5v1.5h-1.5zM154.6 715.3h1.5v1.5h-1.5zM157.6 715.3h1.5v1.5h-1.5zM159.1 715.3h1.5v1.5h-1.5zM162.1 715.3h1.5v1.5h-1.5zM163.6 715.3h1.5v1.5h-1.5zM128.3 716.6h1.5v1.5h-1.5zM129.8 716.6h1.5v1.5h-1.5zM131.3 716.6h1.5v1.5h-1.5zM132.8 716.6h1.5v1.5h-1.5zM134.3 716.6h1.5v1.5h-1.5zM138.8 716.6h1.5v1.5h-1.5zM140.3 716.6h1.5v1.5h-1.5zM141.8 716.6h1.5v1.5h-1.5zM143.3 716.6h1.5v1.5h-1.5zM144.8 716.6h1.5v1.5h-1.5zM147.8 716.6h1.5v1.5h-1.5zM149.3 716.6h1.5v1.5h-1.5zM150.8 716.6h1.5v1.5h-1.5zM152.3 716.6h1.5v1.5h-1.5zM153.8 716.6h1.5v1.5h-1.5zM155.3 716.6h1.5v1.5h-1.5zM158.3 716.6h1.5v1.5h-1.5zM159.8 716.6h1.5v1.5h-1.5zM161.3 716.6h1.5v1.5h-1.5zM165.8 716.6h1.5v1.5h-1.5zM127.6 717.9h1.5v1.5h-1.5zM129.1 717.9h1.5v1.5h-1.5zM130.6 717.9h1.5v1.5h-1.5zM135.1 717.9h1.5v1.5h-1.5zM136.6 717.9h1.5v1.5h-1.5zM138.1 717.9h1.5v1.5h-1.5zM139.6 717.9h1.5v1.5h-1.5zM150.1 717.9h1.5v1.5h-1.5zM151.6 717.9h1.5v1.5h-1.5zM153.1 717.9h1.5v1.5h-1.5zM154.6 717.9h1.5v1.5h-1.5zM156.1 717.9h1.5v1.5h-1.5zM160.6 717.9h1.5v1.5h-1.5zM163.6 717.9h1.5v1.5h-1.5zM166.6 717.9h1.5v1.5h-1.5zM131.3 719.2h1.5v1.5h-1.5zM132.8 719.2h1.5v1.5h-1.5zM134.3 719.2h1.5v1.5h-1.5zM137.3 719.2h1.5v1.5h-1.5zM138.8 719.2h1.5v1.5h-1.5zM140.3 719.2h1.5v1.5h-1.5zM141.8 719.2h1.5v1.5h-1.5zM143.3 719.2h1.5v1.5h-1.5zM144.8 719.2h1.5v1.5h-1.5zM146.3 719.2h1.5v1.5h-1.5zM147.8 719.2h1.5v1.5h-1.5zM150.8 719.2h1.5v1.5h-1.5zM152.3 719.2h1.5v1.5h-1.5zM153.8 719.2h1.5v1.5h-1.5zM156.8 719.2h1.5v1.5h-1.5zM158.3 719.2h1.5v1.5h-1.5zM159.8 719.2h1.5v1.5h-1.5zM161.3 719.2h1.5v1.5h-1.5zM165.8 719.2h1.5v1.5h-1.5zM129.1 720.5h1.5v1.5h-1.5zM130.6 720.5h1.5v1.5h-1.5zM132.1 720.5h1.5v1.5h-1.5zM133.6 720.5h1.5v1.5h-1.5zM135.1 720.5h1.5v1.5h-1.5zM136.6 720.5h1.5v1.5h-1.5zM138.1 720.5h1.5v1.5h-1.5zM139.6 720.5h1.5v1.5h-1.5zM141.1 720.5h1.5v1.5h-1.5zM142.6 720.5h1.5v1.5h-1.5zM144.1 720.5h1.5v1.5h-1.5zM147.1 720.5h1.5v1.5h-1.5zM150.1 720.5h1.5v1.5h-1.5zM151.6 720.5h1.5v1.5h-1.5zM153.1 720.5h1.5v1.5h-1.5zM154.6 720.5h1.5v1.5h-1.5zM156.1 720.5h1.5v1.5h-1.5zM157.6 720.5h1.5v1.5h-1.5zM159.1 720.5h1.5v1.5h-1.5zM163.6 720.5h1.5v1.5h-1.5zM123.8 721.9h1.5v1.5h-1.5zM126.8 721.9h1.5v1.5h-1.5zM128.3 721.9h1.5v1.5h-1.5zM129.8 721.9h1.5v1.5h-1.5zM138.8 721.9h1.5v1.5h-1.5zM140.3 721.9h1.5v1.5h-1.5zM141.8 721.9h1.5v1.5h-1.5zM143.3 721.9h1.5v1.5h-1.5zM144.8 721.9h1.5v1.5h-1.5zM146.3 721.9h1.5v1.5h-1.5zM147.8 721.9h1.5v1.5h-1.5zM149.3 721.9h1.5v1.5h-1.5zM150.8 721.9h1.5v1.5h-1.5zM153.8 721.9h1.5v1.5h-1.5zM155.3 721.9h1.5v1.5h-1.5zM158.3 721.9h1.5v1.5h-1.5zM161.3 721.9h1.5v1.5h-1.5zM162.8 721.9h1.5v1.5h-1.5zM167.3 721.9h1.5v1.5h-1.5zM127.6 723.2h1.5v1.5h-1.5zM129.1 723.2h1.5v1.5h-1.5zM133.6 723.2h1.5v1.5h-1.5zM135.1 723.2h1.5v1.5h-1.5zM136.6 723.2h1.5v1.5h-1.5zM138.1 723.2h1.5v1.5h-1.5zM139.6 723.2h1.5v1.5h-1.5zM142.6 723.2h1.5v1.5h-1.5zM144.1 723.2h1.5v1.5h-1.5zM145.6 723.2h1.5v1.5h-1.5zM147.1 723.2h1.5v1.5h-1.5zM148.6 723.2h1.5v1.5h-1.5zM151.6 723.2h1.5v1.5h-1.5zM153.1 723.2h1.5v1.5h-1.5zM154.6 723.2h1.5v1.5h-1.5zM156.1 723.2h1.5v1.5h-1.5zM157.6 723.2h1.5v1.5h-1.5zM159.1 723.2h1.5v1.5h-1.5zM160.6 723.2h1.5v1.5h-1.5zM162.1 723.2h1.5v1.5h-1.5zM165.1 723.2h1.5v1.5h-1.5zM166.6 723.2h1.5v1.5h-1.5zM123.8 724.5h1.5v1.5h-1.5zM131.3 724.5h1.5v1.5h-1.5zM135.8 724.5h1.5v1.5h-1.5zM137.3 724.5h1.5v1.5h-1.5zM138.8 724.5h1.5v1.5h-1.5zM140.3 724.5h1.5v1.5h-1.5zM141.8 724.5h1.5v1.5h-1.5zM144.8 724.5h1.5v1.5h-1.5zM149.3 724.5h1.5v1.5h-1.5zM150.8 724.5h1.5v1.5h-1.5zM152.3 724.5h1.5v1.5h-1.5zM153.8 724.5h1.5v1.5h-1.5zM155.3 724.5h1.5v1.5h-1.5zM158.3 724.5h1.5v1.5h-1.5zM159.8 724.5h1.5v1.5h-1.5zM132.1 725.8h1.5v1.5h-1.5zM133.6 725.8h1.5v1.5h-1.5zM135.1 725.8h1.5v1.5h-1.5zM138.1 725.8h1.5v1.5h-1.5zM139.6 725.8h1.5v1.5h-1.5zM141.1 725.8h1.5v1.5h-1.5zM142.6 725.8h1.5v1.5h-1.5zM145.6 725.8h1.5v1.5h-1.5zM147.1 725.8h1.5v1.5h-1.5zM150.1 725.8h1.5v1.5h-1.5zM151.6 725.8h1.5v1.5h-1.5zM153.1 725.8h1.5v1.5h-1.5zM154.6 725.8h1.5v1.5h-1.5zM156.1 725.8h1.5v1.5h-1.5zM157.6 725.8h1.5v1.5h-1.5zM159.1 725.8h1.5v1.5h-1.5zM162.1 725.8h1.5v1.5h-1.5zM163.6 725.8h1.5v1.5h-1.5zM128.3 727.1h1.5v1.5h-1.5zM132.8 727.1h1.5v1.5h-1.5zM134.3 727.1h1.5v1.5h-1.5zM135.8 727.1h1.5v1.5h-1.5zM137.3 727.1h1.5v1.5h-1.5zM138.8 727.1h1.5v1.5h-1.5zM140.3 727.1h1.5v1.5h-1.5zM141.8 727.1h1.5v1.5h-1.5zM143.3 727.1h1.5v1.5h-1.5zM144.8 727.1h1.5v1.5h-1.5zM146.3 727.1h1.5v1.5h-1.5zM149.3 727.1h1.5v1.5h-1.5zM150.8 727.1h1.5v1.5h-1.5zM152.3 727.1h1.5v1.5h-1.5zM153.8 727.1h1.5v1.5h-1.5zM155.3 727.1h1.5v1.5h-1.5zM156.8 727.1h1.5v1.5h-1.5zM159.8 727.1h1.5v1.5h-1.5zM161.3 727.1h1.5v1.5h-1.5zM167.3 727.1h1.5v1.5h-1.5zM133.6 728.4h1.5v1.5h-1.5zM135.1 728.4h1.5v1.5h-1.5zM136.6 728.4h1.5v1.5h-1.5zM138.1 728.4h1.5v1.5h-1.5zM142.6 728.4h1.5v1.5h-1.5zM145.6 728.4h1.5v1.5h-1.5zM147.1 728.4h1.5v1.5h-1.5zM148.6 728.4h1.5v1.5h-1.5zM151.6 728.4h1.5v1.5h-1.5zM153.1 728.4h1.5v1.5h-1.5zM156.1 728.4h1.5v1.5h-1.5zM157.6 728.4h1.5v1.5h-1.5zM163.6 728.4h1.5v1.5h-1.5zM165.1 728.4h1.5v1.5h-1.5zM166.6 728.4h1.5v1.5h-1.5zM128.3 729.7h1.5v1.5h-1.5zM129.8 729.7h1.5v1.5h-1.5zM137.3 729.7h1.5v1.5h-1.5zM144.8 729.7h1.5v1.5h-1.5zM153.8 729.7h1.5v1.5h-1.5zM159.8 729.7h1.5v1.5h-1.5zM167.3 729.7h1.5v1.5h-1.5zM130.6 731h1.5v1.5h-1.5zM133.6 731h1.5v1.5h-1.5zM135.1 731h1.5v1.5h-1.5zM136.6 731h1.5v1.5h-1.5zM142.6 731h1.5v1.5h-1.5zM144.1 731h1.5v1.5h-1.5zM151.6 731h1.5v1.5h-1.5zM153.1 731h1.5v1.5h-1.5zM154.6 731h1.5v1.5h-1.5zM156.1 731h1.5v1.5h-1.5zM157.6 731h1.5v1.5h-1.5zM162.1 731h1.5v1.5h-1.5zM138.8 732.3h1.5v1.5h-1.5zM140.3 732.3h1.5v1.5h-1.5zM143.3 732.3h1.5v1.5h-1.5zM146.3 732.3h1.5v1.5h-1.5zM149.3 732.3h1.5v1.5h-1.5zM150.8 732.3h1.5v1.5h-1.5zM153.8 732.3h1.5v1.5h-1.5zM155.3 732.3h1.5v1.5h-1.5zM135.1 733.6h1.5v1.5h-1.5zM139.6 733.6h1.5v1.5h-1.5zM141.1 733.6h1.5v1.5h-1.5zM142.6 733.6h1.5v1.5h-1.5zM145.6 733.6h1.5v1.5h-1.5zM153.1 733.6h1.5v1.5h-1.5zM154.6 733.6h1.5v1.5h-1.5zM157.6 733.6h1.5v1.5h-1.5zM162.1 733.6h1.5v1.5h-1.5zM134.3 734.9h1.5v1.5h-1.5zM140.3 734.9h1.5v1.5h-1.5zM144.8 734.9h1.5v1.5h-1.5zM146.3 734.9h1.5v1.5h-1.5zM149.3 734.9h1.5v1.5h-1.5zM152.3 734.9h1.5v1.5h-1.5zM153.8 734.9h1.5v1.5h-1.5zM156.8 734.9h1.5v1.5h-1.5zM158.3 734.9h1.5v1.5h-1.5zM132.1 736.2h1.5v1.5h-1.5zM138.1 736.2h1.5v1.5h-1.5zM139.6 736.2h1.5v1.5h-1.5zM141.1 736.2h1.5v1.5h-1.5zM148.6 736.2h1.5v1.5h-1.5zM150.1 736.2h1.5v1.5h-1.5zM156.1 736.2h1.5v1.5h-1.5zM159.1 736.2h1.5v1.5h-1.5zM144.8 737.5h1.5v1.5h-1.5zM147.8 737.5h1.5v1.5h-1.5zM149.3 737.5h1.5v1.5h-1.5zM153.8 737.5h1.5v1.5h-1.5zM142.6 738.8h1.5v1.5h-1.5zM144.1 738.8h1.5v1.5h-1.5zM145.6 738.8h1.5v1.5h-1.5zM147.1 738.8h1.5v1.5h-1.5zM150.1 738.8h1.5v1.5h-1.5zM156.1 738.8h1.5v1.5h-1.5z" fill="#d69a58"/>
<path d="M140.3 685.3h1.5v1.5h-1.5zM155.3 685.3h1.5v1.5h-1.5zM147.8 687.9h1.5v1.5h-1.5zM159.8 687.9h1.5v1.5h-1.5zM161.3 687.9h1.5v1.5h-1.5zM135.1 689.2h1.5v1.5h-1.5zM150.1 689.2h1.5v1.5h-1.5zM157.6 689.2h1.5v1.5h-1.5zM162.1 689.2h1.5v1.5h-1.5zM165.1 689.2h1.5v1.5h-1.5zM138.8 690.5h1.5v1.5h-1.5zM149.3 690.5h1.5v1.5h-1.5zM152.3 690.5h1.5v1.5h-1.5zM142.6 691.8h1.5v1.5h-1.5zM144.1 691.8h1.5v1.5h-1.5zM159.1 691.8h1.5v1.5h-1.5zM143.3 693.1h1.5v1.5h-1.5zM150.8 693.1h1.5v1.5h-1.5zM156.8 693.1h1.5v1.5h-1.5zM135.1 694.4h1.5v1.5h-1.5zM138.1 694.4h1.5v1.5h-1.5zM142.6 694.4h1.5v1.5h-1.5zM159.1 694.4h1.5v1.5h-1.5zM128.3 695.8h1.5v1.5h-1.5zM132.8 695.8h1.5v1.5h-1.5zM134.3 695.8h1.5v1.5h-1.5zM137.3 695.8h1.5v1.5h-1.5zM146.3 695.8h1.5v1.5h-1.5zM150.8 695.8h1.5v1.5h-1.5zM165.8 695.8h1.5v1.5h-1.5zM150.1 697.1h1.5v1.5h-1.5zM156.1 697.1h1.5v1.5h-1.5zM159.1 697.1h1.5v1.5h-1.5zM149.3 698.4h1.5v1.5h-1.5zM155.3 698.4h1.5v1.5h-1.5zM162.8 698.4h1.5v1.5h-1.5zM133.6 699.7h1.5v1.5h-1.5zM144.1 699.7h1.5v1.5h-1.5zM148.6 699.7h1.5v1.5h-1.5zM157.6 699.7h1.5v1.5h-1.5zM137.3 701h1.5v1.5h-1.5zM141.8 701h1.5v1.5h-1.5zM153.8 701h1.5v1.5h-1.5zM155.3 701h1.5v1.5h-1.5zM165.8 701h1.5v1.5h-1.5zM127.6 702.3h1.5v1.5h-1.5zM138.1 702.3h1.5v1.5h-1.5zM139.6 702.3h1.5v1.5h-1.5zM141.1 702.3h1.5v1.5h-1.5zM142.6 702.3h1.5v1.5h-1.5zM144.1 702.3h1.5v1.5h-1.5zM151.6 702.3h1.5v1.5h-1.5zM153.1 702.3h1.5v1.5h-1.5zM159.1 702.3h1.5v1.5h-1.5zM132.8 703.6h1.5v1.5h-1.5zM134.3 703.6h1.5v1.5h-1.5zM140.3 703.6h1.5v1.5h-1.5zM153.8 703.6h1.5v1.5h-1.5zM159.8 703.6h1.5v1.5h-1.5zM162.8 703.6h1.5v1.5h-1.5zM165.8 703.6h1.5v1.5h-1.5zM142.6 704.9h1.5v1.5h-1.5zM156.1 704.9h1.5v1.5h-1.5zM157.6 704.9h1.5v1.5h-1.5zM162.1 704.9h1.5v1.5h-1.5zM137.3 706.2h1.5v1.5h-1.5zM153.8 706.2h1.5v1.5h-1.5zM155.3 706.2h1.5v1.5h-1.5zM158.3 706.2h1.5v1.5h-1.5zM141.1 707.5h1.5v1.5h-1.5zM151.6 707.5h1.5v1.5h-1.5zM154.6 707.5h1.5v1.5h-1.5zM157.6 707.5h1.5v1.5h-1.5zM160.6 707.5h1.5v1.5h-1.5zM135.8 708.8h1.5v1.5h-1.5zM137.3 708.8h1.5v1.5h-1.5zM138.8 708.8h1.5v1.5h-1.5zM140.3 708.8h1.5v1.5h-1.5zM153.8 708.8h1.5v1.5h-1.5zM156.8 708.8h1.5v1.5h-1.5zM130.6 710.1h1.5v1.5h-1.5zM150.1 710.1h1.5v1.5h-1.5zM154.6 710.1h1.5v1.5h-1.5zM160.6 710.1h1.5v1.5h-1.5zM162.1 710.1h1.5v1.5h-1.5zM165.1 710.1h1.5v1.5h-1.5zM138.8 711.4h1.5v1.5h-1.5zM141.8 711.4h1.5v1.5h-1.5zM144.8 711.4h1.5v1.5h-1.5zM149.3 711.4h1.5v1.5h-1.5zM152.3 711.4h1.5v1.5h-1.5zM141.1 712.7h1.5v1.5h-1.5zM150.1 712.7h1.5v1.5h-1.5zM154.6 712.7h1.5v1.5h-1.5zM160.6 712.7h1.5v1.5h-1.5zM132.8 714h1.5v1.5h-1.5zM135.8 714h1.5v1.5h-1.5zM137.3 714h1.5v1.5h-1.5zM141.8 714h1.5v1.5h-1.5zM144.8 714h1.5v1.5h-1.5zM149.3 714h1.5v1.5h-1.5zM152.3 714h1.5v1.5h-1.5zM153.8 714h1.5v1.5h-1.5zM129.1 715.3h1.5v1.5h-1.5zM138.1 715.3h1.5v1.5h-1.5zM141.1 715.3h1.5v1.5h-1.5zM151.6 715.3h1.5v1.5h-1.5zM166.6 715.3h1.5v1.5h-1.5zM134.3 716.6h1.5v1.5h-1.5zM141.8 716.6h1.5v1.5h-1.5zM146.3 716.6h1.5v1.5h-1.5zM155.3 716.6h1.5v1.5h-1.5zM159.8 716.6h1.5v1.5h-1.5zM162.8 716.6h1.5v1.5h-1.5zM165.8 716.6h1.5v1.5h-1.5zM130.6 717.9h1.5v1.5h-1.5zM135.1 717.9h1.5v1.5h-1.5zM148.6 717.9h1.5v1.5h-1.5zM154.6 717.9h1.5v1.5h-1.5zM157.6 717.9h1.5v1.5h-1.5zM159.1 717.9h1.5v1.5h-1.5zM132.8 719.2h1.5v1.5h-1.5zM135.8 719.2h1.5v1.5h-1.5zM138.8 719.2h1.5v1.5h-1.5zM143.3 719.2h1.5v1.5h-1.5zM146.3 719.2h1.5v1.5h-1.5zM158.3 719.2h1.5v1.5h-1.5zM161.3 719.2h1.5v1.5h-1.5zM167.3 719.2h1.5v1.5h-1.5zM135.1 720.5h1.5v1.5h-1.5zM136.6 720.5h1.5v1.5h-1.5zM138.1 720.5h1.5v1.5h-1.5zM144.1 720.5h1.5v1.5h-1.5zM145.6 720.5h1.5v1.5h-1.5zM147.1 720.5h1.5v1.5h-1.5zM153.1 720.5h1.5v1.5h-1.5zM156.1 720.5h1.5v1.5h-1.5zM157.6 720.5h1.5v1.5h-1.5zM160.6 720.5h1.5v1.5h-1.5zM126.8 721.9h1.5v1.5h-1.5zM138.8 721.9h1.5v1.5h-1.5zM146.3 721.9h1.5v1.5h-1.5zM149.3 721.9h1.5v1.5h-1.5zM158.3 721.9h1.5v1.5h-1.5zM161.3 721.9h1.5v1.5h-1.5zM164.3 721.9h1.5v1.5h-1.5zM167.3 721.9h1.5v1.5h-1.5zM139.6 723.2h1.5v1.5h-1.5zM147.1 723.2h1.5v1.5h-1.5zM148.6 723.2h1.5v1.5h-1.5zM151.6 723.2h1.5v1.5h-1.5zM154.6 723.2h1.5v1.5h-1.5zM157.6 723.2h1.5v1.5h-1.5zM165.1 723.2h1.5v1.5h-1.5zM138.8 724.5h1.5v1.5h-1.5zM140.3 724.5h1.5v1.5h-1.5zM143.3 724.5h1.5v1.5h-1.5zM146.3 724.5h1.5v1.5h-1.5zM149.3 724.5h1.5v1.5h-1.5zM152.3 724.5h1.5v1.5h-1.5zM164.3 724.5h1.5v1.5h-1.5zM132.1 725.8h1.5v1.5h-1.5zM136.6 725.8h1.5v1.5h-1.5zM139.6 725.8h1.5v1.5h-1.5zM153.1 725.8h1.5v1.5h-1.5zM157.6 725.8h1.5v1.5h-1.5zM162.1 725.8h1.5v1.5h-1.5zM146.3 727.1h1.5v1.5h-1.5zM147.8 727.1h1.5v1.5h-1.5zM156.8 727.1h1.5v1.5h-1.5zM159.8 727.1h1.5v1.5h-1.5zM161.3 727.1h1.5v1.5h-1.5zM162.8 727.1h1.5v1.5h-1.5zM142.6 728.4h1.5v1.5h-1.5zM145.6 728.4h1.5v1.5h-1.5zM148.6 728.4h1.5v1.5h-1.5zM150.1 728.4h1.5v1.5h-1.5zM144.8 729.7h1.5v1.5h-1.5zM149.3 729.7h1.5v1.5h-1.5zM156.8 729.7h1.5v1.5h-1.5zM159.8 729.7h1.5v1.5h-1.5zM161.3 729.7h1.5v1.5h-1.5zM130.6 731h1.5v1.5h-1.5zM141.1 731h1.5v1.5h-1.5zM144.1 731h1.5v1.5h-1.5zM147.1 731h1.5v1.5h-1.5zM154.6 731h1.5v1.5h-1.5zM141.8 732.3h1.5v1.5h-1.5zM144.8 732.3h1.5v1.5h-1.5zM150.8 732.3h1.5v1.5h-1.5zM135.1 733.6h1.5v1.5h-1.5zM144.1 733.6h1.5v1.5h-1.5zM150.1 733.6h1.5v1.5h-1.5zM160.6 733.6h1.5v1.5h-1.5zM135.8 734.9h1.5v1.5h-1.5zM140.3 734.9h1.5v1.5h-1.5zM141.8 734.9h1.5v1.5h-1.5zM149.3 734.9h1.5v1.5h-1.5zM153.8 734.9h1.5v1.5h-1.5zM159.8 734.9h1.5v1.5h-1.5zM162.1 736.2h1.5v1.5h-1.5zM140.3 737.5h1.5v1.5h-1.5zM147.8 737.5h1.5v1.5h-1.5zM159.8 740.1h1.5v1.5h-1.5zM149.3 742.7h1.5v1.5h-1.5z" fill="#9a5a20"/>
<circle cx="83.3" cy="637.6" r="4" fill="#9a5a20"/>
<circle cx="83.3" cy="650.1" r="4" fill="#e0a060"/>
<text x="92" y="642" font-size="11.8" fill="#1f1f2a">Cancer cell 1</text>
<text x="92" y="654" font-size="11.8" fill="#1f1f2a">Cancer cell 3</text>
<rect x="188.5" y="619.6" width="118.3" height="132.1" fill="#e06b7d"/>
<rect x="193.5" y="624.6" width="108.3" height="122.1" fill="#5b87c1"/>
<rect x="199.8" y="630.9" width="95.7" height="109.5" fill="#fff"/>
<rect x="200.1" y="653.8" width="95.1" height="86.6" fill="#eddee4"/>
<path d="M279.9 677.6h1.5v1.5h-1.5zM281.4 677.6h1.5v1.5h-1.5zM288.9 677.6h1.5v1.5h-1.5zM279.1 678.9h1.5v1.5h-1.5zM270.9 680.2h1.5v1.5h-1.5zM282.9 680.2h1.5v1.5h-1.5zM284.4 680.2h1.5v1.5h-1.5zM285.9 680.2h1.5v1.5h-1.5zM287.4 680.2h1.5v1.5h-1.5zM273.1 681.5h1.5v1.5h-1.5zM274.6 681.5h1.5v1.5h-1.5zM276.1 681.5h1.5v1.5h-1.5zM279.1 681.5h1.5v1.5h-1.5zM288.1 681.5h1.5v1.5h-1.5zM269.4 682.8h1.5v1.5h-1.5zM273.9 682.8h1.5v1.5h-1.5zM275.4 682.8h1.5v1.5h-1.5zM278.4 682.8h1.5v1.5h-1.5zM279.9 682.8h1.5v1.5h-1.5zM281.4 682.8h1.5v1.5h-1.5zM284.4 682.8h1.5v1.5h-1.5zM285.9 682.8h1.5v1.5h-1.5zM287.4 682.8h1.5v1.5h-1.5zM288.9 682.8h1.5v1.5h-1.5zM291.9 682.8h1.5v1.5h-1.5zM267.1 684.1h1.5v1.5h-1.5zM268.6 684.1h1.5v1.5h-1.5zM270.1 684.1h1.5v1.5h-1.5zM277.6 684.1h1.5v1.5h-1.5zM279.1 684.1h1.5v1.5h-1.5zM280.6 684.1h1.5v1.5h-1.5zM282.1 684.1h1.5v1.5h-1.5zM283.6 684.1h1.5v1.5h-1.5zM285.1 684.1h1.5v1.5h-1.5zM286.6 684.1h1.5v1.5h-1.5zM288.1 684.1h1.5v1.5h-1.5zM292.6 684.1h1.5v1.5h-1.5zM267.9 685.4h1.5v1.5h-1.5zM269.4 685.4h1.5v1.5h-1.5zM270.9 685.4h1.5v1.5h-1.5zM275.4 685.4h1.5v1.5h-1.5zM276.9 685.4h1.5v1.5h-1.5zM278.4 685.4h1.5v1.5h-1.5zM281.4 685.4h1.5v1.5h-1.5zM282.9 685.4h1.5v1.5h-1.5zM284.4 685.4h1.5v1.5h-1.5zM288.9 685.4h1.5v1.5h-1.5zM291.9 685.4h1.5v1.5h-1.5zM264.1 686.7h1.5v1.5h-1.5zM268.6 686.7h1.5v1.5h-1.5zM270.1 686.7h1.5v1.5h-1.5zM271.6 686.7h1.5v1.5h-1.5zM273.1 686.7h1.5v1.5h-1.5zM282.1 686.7h1.5v1.5h-1.5zM283.6 686.7h1.5v1.5h-1.5zM285.1 686.7h1.5v1.5h-1.5zM286.6 686.7h1.5v1.5h-1.5zM289.6 686.7h1.5v1.5h-1.5zM261.9 688h1.5v1.5h-1.5zM267.9 688h1.5v1.5h-1.5zM269.4 688h1.5v1.5h-1.5zM275.4 688h1.5v1.5h-1.5zM281.4 688h1.5v1.5h-1.5zM282.9 688h1.5v1.5h-1.5zM284.4 688h1.5v1.5h-1.5zM285.9 688h1.5v1.5h-1.5zM287.4 688h1.5v1.5h-1.5zM288.9 688h1.5v1.5h-1.5zM291.9 688h1.5v1.5h-1.5zM264.1 689.3h1.5v1.5h-1.5zM265.6 689.3h1.5v1.5h-1.5zM267.1 689.3h1.5v1.5h-1.5zM268.6 689.3h1.5v1.5h-1.5zM270.1 689.3h1.5v1.5h-1.5zM271.6 689.3h1.5v1.5h-1.5zM282.1 689.3h1.5v1.5h-1.5zM283.6 689.3h1.5v1.5h-1.5zM286.6 689.3h1.5v1.5h-1.5zM288.1 689.3h1.5v1.5h-1.5zM291.1 689.3h1.5v1.5h-1.5zM264.9 690.6h1.5v1.5h-1.5zM266.4 690.6h1.5v1.5h-1.5zM269.4 690.6h1.5v1.5h-1.5zM270.9 690.6h1.5v1.5h-1.5zM276.9 690.6h1.5v1.5h-1.5zM281.4 690.6h1.5v1.5h-1.5zM282.9 690.6h1.5v1.5h-1.5zM284.4 690.6h1.5v1.5h-1.5zM285.9 690.6h1.5v1.5h-1.5zM287.4 690.6h1.5v1.5h-1.5zM288.9 690.6h1.5v1.5h-1.5zM290.4 690.6h1.5v1.5h-1.5zM291.9 690.6h1.5v1.5h-1.5zM293.4 690.6h1.5v1.5h-1.5zM256.6 691.9h1.5v1.5h-1.5zM262.6 691.9h1.5v1.5h-1.5zM264.1 691.9h1.5v1.5h-1.5zM265.6 691.9h1.5v1.5h-1.5zM268.6 691.9h1.5v1.5h-1.5zM270.1 691.9h1.5v1.5h-1.5zM271.6 691.9h1.5v1.5h-1.5zM273.1 691.9h1.5v1.5h-1.5zM274.6 691.9h1.5v1.5h-1.5zM277.6 691.9h1.5v1.5h-1.5zM279.1 691.9h1.5v1.5h-1.5zM282.1 691.9h1.5v1.5h-1.5zM285.1 691.9h1.5v1.5h-1.5zM286.6 691.9h1.5v1.5h-1.5zM288.1 691.9h1.5v1.5h-1.5zM289.6 691.9h1.5v1.5h-1.5zM292.6 691.9h1.5v1.5h-1.5zM261.9 693.2h1.5v1.5h-1.5zM266.4 693.2h1.5v1.5h-1.5zM267.9 693.2h1.5v1.5h-1.5zM270.9 693.2h1.5v1.5h-1.5zM272.4 693.2h1.5v1.5h-1.5zM275.4 693.2h1.5v1.5h-1.5zM276.9 693.2h1.5v1.5h-1.5zM278.4 693.2h1.5v1.5h-1.5zM281.4 693.2h1.5v1.5h-1.5zM282.9 693.2h1.5v1.5h-1.5zM284.4 693.2h1.5v1.5h-1.5zM285.9 693.2h1.5v1.5h-1.5zM287.4 693.2h1.5v1.5h-1.5zM288.9 693.2h1.5v1.5h-1.5zM290.4 693.2h1.5v1.5h-1.5zM291.9 693.2h1.5v1.5h-1.5zM259.6 694.6h1.5v1.5h-1.5zM264.1 694.6h1.5v1.5h-1.5zM265.6 694.6h1.5v1.5h-1.5zM267.1 694.6h1.5v1.5h-1.5zM268.6 694.6h1.5v1.5h-1.5zM271.6 694.6h1.5v1.5h-1.5zM273.1 694.6h1.5v1.5h-1.5zM274.6 694.6h1.5v1.5h-1.5zM276.1 694.6h1.5v1.5h-1.5zM277.6 694.6h1.5v1.5h-1.5zM279.1 694.6h1.5v1.5h-1.5zM280.6 694.6h1.5v1.5h-1.5zM282.1 694.6h1.5v1.5h-1.5zM283.6 694.6h1.5v1.5h-1.5zM285.1 694.6h1.5v1.5h-1.5zM286.6 694.6h1.5v1.5h-1.5zM288.1 694.6h1.5v1.5h-1.5zM289.6 694.6h1.5v1.5h-1.5zM291.1 694.6h1.5v1.5h-1.5zM292.6 694.6h1.5v1.5h-1.5zM261.9 695.9h1.5v1.5h-1.5zM264.9 695.9h1.5v1.5h-1.5zM267.9 695.9h1.5v1.5h-1.5zM270.9 695.9h1.5v1.5h-1.5zM272.4 695.9h1.5v1.5h-1.5zM273.9 695.9h1.5v1.5h-1.5zM275.4 695.9h1.5v1.5h-1.5zM276.9 695.9h1.5v1.5h-1.5zM278.4 695.9h1.5v1.5h-1.5zM279.9 695.9h1.5v1.5h-1.5zM281.4 695.9h1.5v1.5h-1.5zM284.4 695.9h1.5v1.5h-1.5zM285.9 695.9h1.5v1.5h-1.5zM287.4 695.9h1.5v1.5h-1.5zM288.9 695.9h1.5v1.5h-1.5zM290.4 695.9h1.5v1.5h-1.5zM291.9 695.9h1.5v1.5h-1.5zM293.4 695.9h1.5v1.5h-1.5zM261.1 697.2h1.5v1.5h-1.5zM262.6 697.2h1.5v1.5h-1.5zM264.1 697.2h1.5v1.5h-1.5zM267.1 697.2h1.5v1.5h-1.5zM268.6 697.2h1.5v1.5h-1.5zM270.1 697.2h1.5v1.5h-1.5zM273.1 697.2h1.5v1.5h-1.5zM274.6 697.2h1.5v1.5h-1.5zM276.1 697.2h1.5v1.5h-1.5zM277.6 697.2h1.5v1.5h-1.5zM280.6 697.2h1.5v1.5h-1.5zM282.1 697.2h1.5v1.5h-1.5zM283.6 697.2h1.5v1.5h-1.5zM286.6 697.2h1.5v1.5h-1.5zM288.1 697.2h1.5v1.5h-1.5zM289.6 697.2h1.5v1.5h-1.5zM291.1 697.2h1.5v1.5h-1.5zM292.6 697.2h1.5v1.5h-1.5zM261.9 698.5h1.5v1.5h-1.5zM266.4 698.5h1.5v1.5h-1.5zM267.9 698.5h1.5v1.5h-1.5zM269.4 698.5h1.5v1.5h-1.5zM270.9 698.5h1.5v1.5h-1.5zM272.4 698.5h1.5v1.5h-1.5zM273.9 698.5h1.5v1.5h-1.5zM275.4 698.5h1.5v1.5h-1.5zM276.9 698.5h1.5v1.5h-1.5zM278.4 698.5h1.5v1.5h-1.5zM279.9 698.5h1.5v1.5h-1.5zM281.4 698.5h1.5v1.5h-1.5zM282.9 698.5h1.5v1.5h-1.5zM284.4 698.5h1.5v1.5h-1.5zM285.9 698.5h1.5v1.5h-1.5zM287.4 698.5h1.5v1.5h-1.5zM288.9 698.5h1.5v1.5h-1.5zM290.4 698.5h1.5v1.5h-1.5zM291.9 698.5h1.5v1.5h-1.5zM293.4 698.5h1.5v1.5h-1.5zM261.1 699.8h1.5v1.5h-1.5zM262.6 699.8h1.5v1.5h-1.5zM265.6 699.8h1.5v1.5h-1.5zM267.1 699.8h1.5v1.5h-1.5zM268.6 699.8h1.5v1.5h-1.5zM270.1 699.8h1.5v1.5h-1.5zM271.6 699.8h1.5v1.5h-1.5zM273.1 699.8h1.5v1.5h-1.5zM274.6 699.8h1.5v1.5h-1.5zM276.1 699.8h1.5v1.5h-1.5zM277.6 699.8h1.5v1.5h-1.5zM280.6 699.8h1.5v1.5h-1.5zM282.1 699.8h1.5v1.5h-1.5zM283.6 699.8h1.5v1.5h-1.5zM285.1 699.8h1.5v1.5h-1.5zM286.6 699.8h1.5v1.5h-1.5zM288.1 699.8h1.5v1.5h-1.5zM289.6 699.8h1.5v1.5h-1.5zM291.1 699.8h1.5v1.5h-1.5zM292.6 699.8h1.5v1.5h-1.5zM263.4 701.1h1.5v1.5h-1.5zM266.4 701.1h1.5v1.5h-1.5zM267.9 701.1h1.5v1.5h-1.5zM269.4 701.1h1.5v1.5h-1.5zM270.9 701.1h1.5v1.5h-1.5zM272.4 701.1h1.5v1.5h-1.5zM273.9 701.1h1.5v1.5h-1.5zM276.9 701.1h1.5v1.5h-1.5zM278.4 701.1h1.5v1.5h-1.5zM279.9 701.1h1.5v1.5h-1.5zM281.4 701.1h1.5v1.5h-1.5zM282.9 701.1h1.5v1.5h-1.5zM284.4 701.1h1.5v1.5h-1.5zM285.9 701.1h1.5v1.5h-1.5zM287.4 701.1h1.5v1.5h-1.5zM288.9 701.1h1.5v1.5h-1.5zM290.4 701.1h1.5v1.5h-1.5zM293.4 701.1h1.5v1.5h-1.5zM262.6 702.4h1.5v1.5h-1.5zM264.1 702.4h1.5v1.5h-1.5zM267.1 702.4h1.5v1.5h-1.5zM268.6 702.4h1.5v1.5h-1.5zM270.1 702.4h1.5v1.5h-1.5zM271.6 702.4h1.5v1.5h-1.5zM273.1 702.4h1.5v1.5h-1.5zM274.6 702.4h1.5v1.5h-1.5zM276.1 702.4h1.5v1.5h-1.5zM277.6 702.4h1.5v1.5h-1.5zM279.1 702.4h1.5v1.5h-1.5zM280.6 702.4h1.5v1.5h-1.5zM282.1 702.4h1.5v1.5h-1.5zM283.6 702.4h1.5v1.5h-1.5zM286.6 702.4h1.5v1.5h-1.5zM288.1 702.4h1.5v1.5h-1.5zM289.6 702.4h1.5v1.5h-1.5zM264.9 703.7h1.5v1.5h-1.5zM270.9 703.7h1.5v1.5h-1.5zM272.4 703.7h1.5v1.5h-1.5zM273.9 703.7h1.5v1.5h-1.5zM275.4 703.7h1.5v1.5h-1.5zM276.9 703.7h1.5v1.5h-1.5zM278.4 703.7h1.5v1.5h-1.5zM279.9 703.7h1.5v1.5h-1.5zM281.4 703.7h1.5v1.5h-1.5zM282.9 703.7h1.5v1.5h-1.5zM284.4 703.7h1.5v1.5h-1.5zM285.9 703.7h1.5v1.5h-1.5zM287.4 703.7h1.5v1.5h-1.5zM288.9 703.7h1.5v1.5h-1.5zM291.9 703.7h1.5v1.5h-1.5zM262.6 705h1.5v1.5h-1.5zM267.1 705h1.5v1.5h-1.5zM274.6 705h1.5v1.5h-1.5zM279.1 705h1.5v1.5h-1.5zM280.6 705h1.5v1.5h-1.5zM282.1 705h1.5v1.5h-1.5zM283.6 705h1.5v1.5h-1.5zM285.1 705h1.5v1.5h-1.5zM286.6 705h1.5v1.5h-1.5zM288.1 705h1.5v1.5h-1.5zM291.1 705h1.5v1.5h-1.5zM264.9 706.3h1.5v1.5h-1.5zM266.4 706.3h1.5v1.5h-1.5zM267.9 706.3h1.5v1.5h-1.5zM270.9 706.3h1.5v1.5h-1.5zM273.9 706.3h1.5v1.5h-1.5zM276.9 706.3h1.5v1.5h-1.5zM279.9 706.3h1.5v1.5h-1.5zM281.4 706.3h1.5v1.5h-1.5zM282.9 706.3h1.5v1.5h-1.5zM284.4 706.3h1.5v1.5h-1.5zM287.4 706.3h1.5v1.5h-1.5zM288.9 706.3h1.5v1.5h-1.5zM290.4 706.3h1.5v1.5h-1.5zM291.9 706.3h1.5v1.5h-1.5zM261.1 707.6h1.5v1.5h-1.5zM264.1 707.6h1.5v1.5h-1.5zM270.1 707.6h1.5v1.5h-1.5zM271.6 707.6h1.5v1.5h-1.5zM273.1 707.6h1.5v1.5h-1.5zM274.6 707.6h1.5v1.5h-1.5zM276.1 707.6h1.5v1.5h-1.5zM279.1 707.6h1.5v1.5h-1.5zM280.6 707.6h1.5v1.5h-1.5zM282.1 707.6h1.5v1.5h-1.5zM283.6 707.6h1.5v1.5h-1.5zM286.6 707.6h1.5v1.5h-1.5zM289.6 707.6h1.5v1.5h-1.5zM264.9 708.9h1.5v1.5h-1.5zM267.9 708.9h1.5v1.5h-1.5zM270.9 708.9h1.5v1.5h-1.5zM273.9 708.9h1.5v1.5h-1.5zM282.9 708.9h1.5v1.5h-1.5zM284.4 708.9h1.5v1.5h-1.5zM285.9 708.9h1.5v1.5h-1.5zM288.9 708.9h1.5v1.5h-1.5zM290.4 708.9h1.5v1.5h-1.5zM265.6 710.2h1.5v1.5h-1.5zM271.6 710.2h1.5v1.5h-1.5zM274.6 710.2h1.5v1.5h-1.5zM277.6 710.2h1.5v1.5h-1.5zM279.1 710.2h1.5v1.5h-1.5zM280.6 710.2h1.5v1.5h-1.5zM282.1 710.2h1.5v1.5h-1.5zM288.1 710.2h1.5v1.5h-1.5zM289.6 710.2h1.5v1.5h-1.5zM292.6 710.2h1.5v1.5h-1.5zM261.9 711.5h1.5v1.5h-1.5zM270.9 711.5h1.5v1.5h-1.5zM285.9 711.5h1.5v1.5h-1.5zM290.4 711.5h1.5v1.5h-1.5zM293.4 711.5h1.5v1.5h-1.5zM252.2 712.8h1.5v1.5h-1.5zM267.1 712.8h1.5v1.5h-1.5zM268.6 712.8h1.5v1.5h-1.5zM277.6 712.8h1.5v1.5h-1.5zM279.1 712.8h1.5v1.5h-1.5zM264.9 714.1h1.5v1.5h-1.5zM267.9 714.1h1.5v1.5h-1.5zM270.9 714.1h1.5v1.5h-1.5zM265.6 715.4h1.5v1.5h-1.5zM268.6 715.4h1.5v1.5h-1.5zM261.9 716.7h1.5v1.5h-1.5zM267.9 716.7h1.5v1.5h-1.5zM270.9 716.7h1.5v1.5h-1.5zM272.4 716.7h1.5v1.5h-1.5zM275.4 716.7h1.5v1.5h-1.5zM279.9 716.7h1.5v1.5h-1.5zM268.6 718h1.5v1.5h-1.5zM273.1 718h1.5v1.5h-1.5zM280.6 718h1.5v1.5h-1.5zM254.4 719.3h1.5v1.5h-1.5zM267.9 719.3h1.5v1.5h-1.5zM278.4 719.3h1.5v1.5h-1.5zM282.9 719.3h1.5v1.5h-1.5zM293.4 719.3h1.5v1.5h-1.5zM252.2 720.7h1.5v1.5h-1.5zM265.6 720.7h1.5v1.5h-1.5zM270.1 720.7h1.5v1.5h-1.5zM271.6 720.7h1.5v1.5h-1.5zM282.1 720.7h1.5v1.5h-1.5zM275.4 722h1.5v1.5h-1.5zM255.2 723.3h1.5v1.5h-1.5zM268.6 723.3h1.5v1.5h-1.5zM285.1 723.3h1.5v1.5h-1.5zM286.6 723.3h1.5v1.5h-1.5zM251.4 724.6h1.5v1.5h-1.5zM261.9 724.6h1.5v1.5h-1.5zM275.4 724.6h1.5v1.5h-1.5zM278.4 724.6h1.5v1.5h-1.5zM279.9 724.6h1.5v1.5h-1.5zM285.9 724.6h1.5v1.5h-1.5zM250.7 725.9h1.5v1.5h-1.5zM274.6 725.9h1.5v1.5h-1.5zM277.6 725.9h1.5v1.5h-1.5zM283.6 725.9h1.5v1.5h-1.5zM286.6 725.9h1.5v1.5h-1.5zM276.9 727.2h1.5v1.5h-1.5zM279.9 727.2h1.5v1.5h-1.5zM284.4 727.2h1.5v1.5h-1.5zM285.9 727.2h1.5v1.5h-1.5zM256.6 728.5h1.5v1.5h-1.5zM273.1 728.5h1.5v1.5h-1.5zM276.1 728.5h1.5v1.5h-1.5zM282.1 728.5h1.5v1.5h-1.5zM285.1 728.5h1.5v1.5h-1.5zM286.6 728.5h1.5v1.5h-1.5zM289.6 728.5h1.5v1.5h-1.5zM291.1 728.5h1.5v1.5h-1.5zM252.9 729.8h1.5v1.5h-1.5zM263.4 729.8h1.5v1.5h-1.5zM281.4 729.8h1.5v1.5h-1.5zM284.4 729.8h1.5v1.5h-1.5zM288.9 729.8h1.5v1.5h-1.5zM283.6 731.1h1.5v1.5h-1.5zM285.1 731.1h1.5v1.5h-1.5zM288.1 731.1h1.5v1.5h-1.5zM264.9 732.4h1.5v1.5h-1.5zM278.4 732.4h1.5v1.5h-1.5zM282.9 732.4h1.5v1.5h-1.5zM284.4 732.4h1.5v1.5h-1.5zM285.9 732.4h1.5v1.5h-1.5zM293.4 732.4h1.5v1.5h-1.5zM255.2 733.7h1.5v1.5h-1.5zM270.1 733.7h1.5v1.5h-1.5zM286.6 733.7h1.5v1.5h-1.5zM288.1 733.7h1.5v1.5h-1.5zM292.6 733.7h1.5v1.5h-1.5zM254.4 735h1.5v1.5h-1.5zM260.4 735h1.5v1.5h-1.5zM281.4 735h1.5v1.5h-1.5zM284.4 735h1.5v1.5h-1.5zM285.9 735h1.5v1.5h-1.5zM287.4 735h1.5v1.5h-1.5zM291.9 735h1.5v1.5h-1.5zM271.6 736.3h1.5v1.5h-1.5zM285.1 736.3h1.5v1.5h-1.5zM288.1 736.3h1.5v1.5h-1.5zM292.6 736.3h1.5v1.5h-1.5zM293.4 737.6h1.5v1.5h-1.5z" fill="#a8a030"/>
<circle cx="210.2" cy="642" r="4.5" fill="#a8a030"/>
<text x="219.3" y="645.5" font-size="11.8" fill="#1f1f2a">Cancer cell 2</text>
<rect x="313.5" y="622" width="109.3" height="129.7" fill="#52ab8a"/>
<rect x="320" y="628.5" width="96.3" height="116.7" fill="#fff"/>
<rect x="320" y="655.6" width="92" height="89.4" fill="#eddee4"/>
<path d="M393.1 680.7h1.5v1.5h-1.5zM397.6 680.7h1.5v1.5h-1.5zM391.6 683.3h1.5v1.5h-1.5zM399.1 683.3h1.5v1.5h-1.5zM403.6 683.3h1.5v1.5h-1.5zM405.1 683.3h1.5v1.5h-1.5zM408.1 683.3h1.5v1.5h-1.5zM386.3 684.6h1.5v1.5h-1.5zM393.8 684.6h1.5v1.5h-1.5zM399.8 684.6h1.5v1.5h-1.5zM401.3 684.6h1.5v1.5h-1.5zM388.6 685.9h1.5v1.5h-1.5zM391.6 685.9h1.5v1.5h-1.5zM396.1 685.9h1.5v1.5h-1.5zM397.6 685.9h1.5v1.5h-1.5zM402.1 685.9h1.5v1.5h-1.5zM405.1 685.9h1.5v1.5h-1.5zM406.6 685.9h1.5v1.5h-1.5zM408.1 685.9h1.5v1.5h-1.5zM387.8 687.2h1.5v1.5h-1.5zM389.3 687.2h1.5v1.5h-1.5zM390.8 687.2h1.5v1.5h-1.5zM399.8 687.2h1.5v1.5h-1.5zM401.3 687.2h1.5v1.5h-1.5zM404.3 687.2h1.5v1.5h-1.5zM407.3 687.2h1.5v1.5h-1.5zM410.3 687.2h1.5v1.5h-1.5zM384.1 688.5h1.5v1.5h-1.5zM387.1 688.5h1.5v1.5h-1.5zM388.6 688.5h1.5v1.5h-1.5zM390.1 688.5h1.5v1.5h-1.5zM391.6 688.5h1.5v1.5h-1.5zM402.1 688.5h1.5v1.5h-1.5zM403.6 688.5h1.5v1.5h-1.5zM408.1 688.5h1.5v1.5h-1.5zM409.6 688.5h1.5v1.5h-1.5zM381.8 689.8h1.5v1.5h-1.5zM386.3 689.8h1.5v1.5h-1.5zM392.3 689.8h1.5v1.5h-1.5zM402.8 689.8h1.5v1.5h-1.5zM404.3 689.8h1.5v1.5h-1.5zM405.8 689.8h1.5v1.5h-1.5zM407.3 689.8h1.5v1.5h-1.5zM408.8 689.8h1.5v1.5h-1.5zM381.1 691.1h1.5v1.5h-1.5zM382.6 691.1h1.5v1.5h-1.5zM384.1 691.1h1.5v1.5h-1.5zM387.1 691.1h1.5v1.5h-1.5zM388.6 691.1h1.5v1.5h-1.5zM390.1 691.1h1.5v1.5h-1.5zM400.6 691.1h1.5v1.5h-1.5zM403.6 691.1h1.5v1.5h-1.5zM405.1 691.1h1.5v1.5h-1.5zM406.6 691.1h1.5v1.5h-1.5zM409.6 691.1h1.5v1.5h-1.5zM383.3 692.4h1.5v1.5h-1.5zM384.8 692.4h1.5v1.5h-1.5zM387.8 692.4h1.5v1.5h-1.5zM389.3 692.4h1.5v1.5h-1.5zM390.8 692.4h1.5v1.5h-1.5zM392.3 692.4h1.5v1.5h-1.5zM401.3 692.4h1.5v1.5h-1.5zM402.8 692.4h1.5v1.5h-1.5zM404.3 692.4h1.5v1.5h-1.5zM405.8 692.4h1.5v1.5h-1.5zM407.3 692.4h1.5v1.5h-1.5zM408.8 692.4h1.5v1.5h-1.5zM410.3 692.4h1.5v1.5h-1.5zM384.1 693.7h1.5v1.5h-1.5zM385.6 693.7h1.5v1.5h-1.5zM387.1 693.7h1.5v1.5h-1.5zM388.6 693.7h1.5v1.5h-1.5zM390.1 693.7h1.5v1.5h-1.5zM391.6 693.7h1.5v1.5h-1.5zM393.1 693.7h1.5v1.5h-1.5zM397.6 693.7h1.5v1.5h-1.5zM399.1 693.7h1.5v1.5h-1.5zM400.6 693.7h1.5v1.5h-1.5zM402.1 693.7h1.5v1.5h-1.5zM403.6 693.7h1.5v1.5h-1.5zM405.1 693.7h1.5v1.5h-1.5zM406.6 693.7h1.5v1.5h-1.5zM408.1 693.7h1.5v1.5h-1.5zM381.8 695h1.5v1.5h-1.5zM384.8 695h1.5v1.5h-1.5zM386.3 695h1.5v1.5h-1.5zM387.8 695h1.5v1.5h-1.5zM389.3 695h1.5v1.5h-1.5zM390.8 695h1.5v1.5h-1.5zM392.3 695h1.5v1.5h-1.5zM393.8 695h1.5v1.5h-1.5zM395.3 695h1.5v1.5h-1.5zM396.8 695h1.5v1.5h-1.5zM398.3 695h1.5v1.5h-1.5zM399.8 695h1.5v1.5h-1.5zM401.3 695h1.5v1.5h-1.5zM402.8 695h1.5v1.5h-1.5zM404.3 695h1.5v1.5h-1.5zM407.3 695h1.5v1.5h-1.5zM408.8 695h1.5v1.5h-1.5zM410.3 695h1.5v1.5h-1.5zM378.1 696.4h1.5v1.5h-1.5zM382.6 696.4h1.5v1.5h-1.5zM384.1 696.4h1.5v1.5h-1.5zM385.6 696.4h1.5v1.5h-1.5zM387.1 696.4h1.5v1.5h-1.5zM388.6 696.4h1.5v1.5h-1.5zM390.1 696.4h1.5v1.5h-1.5zM396.1 696.4h1.5v1.5h-1.5zM397.6 696.4h1.5v1.5h-1.5zM399.1 696.4h1.5v1.5h-1.5zM402.1 696.4h1.5v1.5h-1.5zM403.6 696.4h1.5v1.5h-1.5zM405.1 696.4h1.5v1.5h-1.5zM406.6 696.4h1.5v1.5h-1.5zM409.6 696.4h1.5v1.5h-1.5zM369.8 697.7h1.5v1.5h-1.5zM380.3 697.7h1.5v1.5h-1.5zM383.3 697.7h1.5v1.5h-1.5zM386.3 697.7h1.5v1.5h-1.5zM387.8 697.7h1.5v1.5h-1.5zM390.8 697.7h1.5v1.5h-1.5zM392.3 697.7h1.5v1.5h-1.5zM393.8 697.7h1.5v1.5h-1.5zM395.3 697.7h1.5v1.5h-1.5zM396.8 697.7h1.5v1.5h-1.5zM399.8 697.7h1.5v1.5h-1.5zM401.3 697.7h1.5v1.5h-1.5zM402.8 697.7h1.5v1.5h-1.5zM404.3 697.7h1.5v1.5h-1.5zM405.8 697.7h1.5v1.5h-1.5zM407.3 697.7h1.5v1.5h-1.5zM408.8 697.7h1.5v1.5h-1.5zM410.3 697.7h1.5v1.5h-1.5zM378.1 699h1.5v1.5h-1.5zM381.1 699h1.5v1.5h-1.5zM384.1 699h1.5v1.5h-1.5zM385.6 699h1.5v1.5h-1.5zM387.1 699h1.5v1.5h-1.5zM388.6 699h1.5v1.5h-1.5zM390.1 699h1.5v1.5h-1.5zM393.1 699h1.5v1.5h-1.5zM394.6 699h1.5v1.5h-1.5zM396.1 699h1.5v1.5h-1.5zM397.6 699h1.5v1.5h-1.5zM399.1 699h1.5v1.5h-1.5zM400.6 699h1.5v1.5h-1.5zM402.1 699h1.5v1.5h-1.5zM403.6 699h1.5v1.5h-1.5zM405.1 699h1.5v1.5h-1.5zM406.6 699h1.5v1.5h-1.5zM408.1 699h1.5v1.5h-1.5zM409.6 699h1.5v1.5h-1.5zM378.8 700.3h1.5v1.5h-1.5zM380.3 700.3h1.5v1.5h-1.5zM383.3 700.3h1.5v1.5h-1.5zM384.8 700.3h1.5v1.5h-1.5zM386.3 700.3h1.5v1.5h-1.5zM387.8 700.3h1.5v1.5h-1.5zM389.3 700.3h1.5v1.5h-1.5zM390.8 700.3h1.5v1.5h-1.5zM392.3 700.3h1.5v1.5h-1.5zM393.8 700.3h1.5v1.5h-1.5zM395.3 700.3h1.5v1.5h-1.5zM396.8 700.3h1.5v1.5h-1.5zM398.3 700.3h1.5v1.5h-1.5zM399.8 700.3h1.5v1.5h-1.5zM401.3 700.3h1.5v1.5h-1.5zM402.8 700.3h1.5v1.5h-1.5zM404.3 700.3h1.5v1.5h-1.5zM405.8 700.3h1.5v1.5h-1.5zM407.3 700.3h1.5v1.5h-1.5zM408.8 700.3h1.5v1.5h-1.5zM410.3 700.3h1.5v1.5h-1.5zM378.1 701.6h1.5v1.5h-1.5zM385.6 701.6h1.5v1.5h-1.5zM387.1 701.6h1.5v1.5h-1.5zM388.6 701.6h1.5v1.5h-1.5zM390.1 701.6h1.5v1.5h-1.5zM391.6 701.6h1.5v1.5h-1.5zM393.1 701.6h1.5v1.5h-1.5zM394.6 701.6h1.5v1.5h-1.5zM396.1 701.6h1.5v1.5h-1.5zM397.6 701.6h1.5v1.5h-1.5zM399.1 701.6h1.5v1.5h-1.5zM402.1 701.6h1.5v1.5h-1.5zM403.6 701.6h1.5v1.5h-1.5zM405.1 701.6h1.5v1.5h-1.5zM408.1 701.6h1.5v1.5h-1.5zM409.6 701.6h1.5v1.5h-1.5zM381.8 702.9h1.5v1.5h-1.5zM384.8 702.9h1.5v1.5h-1.5zM386.3 702.9h1.5v1.5h-1.5zM387.8 702.9h1.5v1.5h-1.5zM390.8 702.9h1.5v1.5h-1.5zM392.3 702.9h1.5v1.5h-1.5zM395.3 702.9h1.5v1.5h-1.5zM396.8 702.9h1.5v1.5h-1.5zM398.3 702.9h1.5v1.5h-1.5zM399.8 702.9h1.5v1.5h-1.5zM401.3 702.9h1.5v1.5h-1.5zM402.8 702.9h1.5v1.5h-1.5zM404.3 702.9h1.5v1.5h-1.5zM405.8 702.9h1.5v1.5h-1.5zM407.3 702.9h1.5v1.5h-1.5zM372.1 704.2h1.5v1.5h-1.5zM381.1 704.2h1.5v1.5h-1.5zM385.6 704.2h1.5v1.5h-1.5zM387.1 704.2h1.5v1.5h-1.5zM388.6 704.2h1.5v1.5h-1.5zM390.1 704.2h1.5v1.5h-1.5zM391.6 704.2h1.5v1.5h-1.5zM393.1 704.2h1.5v1.5h-1.5zM394.6 704.2h1.5v1.5h-1.5zM396.1 704.2h1.5v1.5h-1.5zM397.6 704.2h1.5v1.5h-1.5zM399.1 704.2h1.5v1.5h-1.5zM400.6 704.2h1.5v1.5h-1.5zM403.6 704.2h1.5v1.5h-1.5zM405.1 704.2h1.5v1.5h-1.5zM406.6 704.2h1.5v1.5h-1.5zM386.3 705.5h1.5v1.5h-1.5zM390.8 705.5h1.5v1.5h-1.5zM392.3 705.5h1.5v1.5h-1.5zM393.8 705.5h1.5v1.5h-1.5zM395.3 705.5h1.5v1.5h-1.5zM396.8 705.5h1.5v1.5h-1.5zM398.3 705.5h1.5v1.5h-1.5zM399.8 705.5h1.5v1.5h-1.5zM401.3 705.5h1.5v1.5h-1.5zM402.8 705.5h1.5v1.5h-1.5zM404.3 705.5h1.5v1.5h-1.5zM405.8 705.5h1.5v1.5h-1.5zM407.3 705.5h1.5v1.5h-1.5zM408.8 705.5h1.5v1.5h-1.5zM381.1 706.8h1.5v1.5h-1.5zM384.1 706.8h1.5v1.5h-1.5zM385.6 706.8h1.5v1.5h-1.5zM388.6 706.8h1.5v1.5h-1.5zM390.1 706.8h1.5v1.5h-1.5zM391.6 706.8h1.5v1.5h-1.5zM393.1 706.8h1.5v1.5h-1.5zM394.6 706.8h1.5v1.5h-1.5zM396.1 706.8h1.5v1.5h-1.5zM397.6 706.8h1.5v1.5h-1.5zM399.1 706.8h1.5v1.5h-1.5zM400.6 706.8h1.5v1.5h-1.5zM402.1 706.8h1.5v1.5h-1.5zM403.6 706.8h1.5v1.5h-1.5zM405.1 706.8h1.5v1.5h-1.5zM406.6 706.8h1.5v1.5h-1.5zM408.1 706.8h1.5v1.5h-1.5zM409.6 706.8h1.5v1.5h-1.5zM381.8 708.1h1.5v1.5h-1.5zM383.3 708.1h1.5v1.5h-1.5zM386.3 708.1h1.5v1.5h-1.5zM389.3 708.1h1.5v1.5h-1.5zM390.8 708.1h1.5v1.5h-1.5zM392.3 708.1h1.5v1.5h-1.5zM393.8 708.1h1.5v1.5h-1.5zM395.3 708.1h1.5v1.5h-1.5zM396.8 708.1h1.5v1.5h-1.5zM398.3 708.1h1.5v1.5h-1.5zM399.8 708.1h1.5v1.5h-1.5zM401.3 708.1h1.5v1.5h-1.5zM402.8 708.1h1.5v1.5h-1.5zM404.3 708.1h1.5v1.5h-1.5zM405.8 708.1h1.5v1.5h-1.5zM407.3 708.1h1.5v1.5h-1.5zM410.3 708.1h1.5v1.5h-1.5zM379.6 709.4h1.5v1.5h-1.5zM387.1 709.4h1.5v1.5h-1.5zM388.6 709.4h1.5v1.5h-1.5zM390.1 709.4h1.5v1.5h-1.5zM391.6 709.4h1.5v1.5h-1.5zM393.1 709.4h1.5v1.5h-1.5zM396.1 709.4h1.5v1.5h-1.5zM397.6 709.4h1.5v1.5h-1.5zM400.6 709.4h1.5v1.5h-1.5zM402.1 709.4h1.5v1.5h-1.5zM403.6 709.4h1.5v1.5h-1.5zM405.1 709.4h1.5v1.5h-1.5zM406.6 709.4h1.5v1.5h-1.5zM409.6 709.4h1.5v1.5h-1.5zM383.3 710.7h1.5v1.5h-1.5zM386.3 710.7h1.5v1.5h-1.5zM387.8 710.7h1.5v1.5h-1.5zM389.3 710.7h1.5v1.5h-1.5zM393.8 710.7h1.5v1.5h-1.5zM395.3 710.7h1.5v1.5h-1.5zM396.8 710.7h1.5v1.5h-1.5zM399.8 710.7h1.5v1.5h-1.5zM402.8 710.7h1.5v1.5h-1.5zM404.3 710.7h1.5v1.5h-1.5zM384.1 712h1.5v1.5h-1.5zM388.6 712h1.5v1.5h-1.5zM390.1 712h1.5v1.5h-1.5zM391.6 712h1.5v1.5h-1.5zM394.6 712h1.5v1.5h-1.5zM396.1 712h1.5v1.5h-1.5zM399.1 712h1.5v1.5h-1.5zM405.1 712h1.5v1.5h-1.5zM406.6 712h1.5v1.5h-1.5zM371.3 713.3h1.5v1.5h-1.5zM390.8 713.3h1.5v1.5h-1.5zM398.3 713.3h1.5v1.5h-1.5zM401.3 713.3h1.5v1.5h-1.5zM402.8 713.3h1.5v1.5h-1.5zM404.3 713.3h1.5v1.5h-1.5zM382.6 714.6h1.5v1.5h-1.5zM387.1 714.6h1.5v1.5h-1.5zM393.1 714.6h1.5v1.5h-1.5zM399.1 714.6h1.5v1.5h-1.5zM368.3 715.9h1.5v1.5h-1.5zM383.3 715.9h1.5v1.5h-1.5zM384.8 715.9h1.5v1.5h-1.5zM389.3 715.9h1.5v1.5h-1.5zM390.8 715.9h1.5v1.5h-1.5zM398.3 715.9h1.5v1.5h-1.5zM381.1 717.2h1.5v1.5h-1.5zM384.1 717.2h1.5v1.5h-1.5zM385.6 717.2h1.5v1.5h-1.5zM391.6 717.2h1.5v1.5h-1.5zM397.6 717.2h1.5v1.5h-1.5zM399.1 717.2h1.5v1.5h-1.5zM381.8 718.5h1.5v1.5h-1.5zM383.3 718.5h1.5v1.5h-1.5zM384.8 718.5h1.5v1.5h-1.5zM386.3 718.5h1.5v1.5h-1.5zM392.3 718.5h1.5v1.5h-1.5zM396.8 718.5h1.5v1.5h-1.5zM398.3 718.5h1.5v1.5h-1.5zM399.8 718.5h1.5v1.5h-1.5zM371.3 721.1h1.5v1.5h-1.5zM380.3 721.1h1.5v1.5h-1.5zM383.3 721.1h1.5v1.5h-1.5zM390.8 721.1h1.5v1.5h-1.5zM395.3 721.1h1.5v1.5h-1.5zM402.8 721.1h1.5v1.5h-1.5zM379.6 722.5h1.5v1.5h-1.5zM390.1 722.5h1.5v1.5h-1.5zM391.6 722.5h1.5v1.5h-1.5zM393.1 722.5h1.5v1.5h-1.5zM397.6 722.5h1.5v1.5h-1.5zM399.1 722.5h1.5v1.5h-1.5zM400.6 722.5h1.5v1.5h-1.5zM371.3 723.8h1.5v1.5h-1.5zM372.8 723.8h1.5v1.5h-1.5zM389.3 723.8h1.5v1.5h-1.5zM390.8 723.8h1.5v1.5h-1.5zM401.3 723.8h1.5v1.5h-1.5zM402.8 723.8h1.5v1.5h-1.5zM376.6 725.1h1.5v1.5h-1.5zM391.6 725.1h1.5v1.5h-1.5zM399.1 725.1h1.5v1.5h-1.5zM402.1 725.1h1.5v1.5h-1.5zM393.8 726.4h1.5v1.5h-1.5zM395.3 726.4h1.5v1.5h-1.5zM401.3 726.4h1.5v1.5h-1.5zM402.8 726.4h1.5v1.5h-1.5zM387.1 727.7h1.5v1.5h-1.5zM393.1 727.7h1.5v1.5h-1.5zM394.6 727.7h1.5v1.5h-1.5zM399.1 727.7h1.5v1.5h-1.5zM400.6 727.7h1.5v1.5h-1.5zM402.1 727.7h1.5v1.5h-1.5zM368.3 729h1.5v1.5h-1.5zM396.8 729h1.5v1.5h-1.5zM398.3 729h1.5v1.5h-1.5zM401.3 729h1.5v1.5h-1.5zM404.3 729h1.5v1.5h-1.5zM408.8 729h1.5v1.5h-1.5zM391.6 730.3h1.5v1.5h-1.5zM403.6 730.3h1.5v1.5h-1.5zM378.8 731.6h1.5v1.5h-1.5zM380.3 731.6h1.5v1.5h-1.5zM395.3 731.6h1.5v1.5h-1.5zM398.3 731.6h1.5v1.5h-1.5zM401.3 731.6h1.5v1.5h-1.5zM405.8 731.6h1.5v1.5h-1.5zM410.3 731.6h1.5v1.5h-1.5zM394.6 732.9h1.5v1.5h-1.5zM409.6 732.9h1.5v1.5h-1.5zM384.8 734.2h1.5v1.5h-1.5zM405.8 734.2h1.5v1.5h-1.5zM408.8 734.2h1.5v1.5h-1.5zM373.6 735.5h1.5v1.5h-1.5zM406.6 735.5h1.5v1.5h-1.5zM408.1 735.5h1.5v1.5h-1.5zM409.6 735.5h1.5v1.5h-1.5zM399.8 736.8h1.5v1.5h-1.5zM402.8 736.8h1.5v1.5h-1.5zM405.8 736.8h1.5v1.5h-1.5zM410.3 736.8h1.5v1.5h-1.5zM375.1 738.1h1.5v1.5h-1.5zM381.1 738.1h1.5v1.5h-1.5zM403.6 738.1h1.5v1.5h-1.5zM409.6 738.1h1.5v1.5h-1.5zM380.3 739.4h1.5v1.5h-1.5zM389.3 739.4h1.5v1.5h-1.5zM407.3 739.4h1.5v1.5h-1.5zM410.3 739.4h1.5v1.5h-1.5zM400.6 740.7h1.5v1.5h-1.5zM406.6 740.7h1.5v1.5h-1.5zM399.8 742h1.5v1.5h-1.5zM400.6 743.3h1.5v1.5h-1.5zM405.1 743.3h1.5v1.5h-1.5z" fill="#a8a030"/>
<circle cx="329.6" cy="642.9" r="4.5" fill="#a8a030"/>
<text x="339.2" y="646" font-size="11.8" fill="#1f1f2a">Cancer cell 2</text>
<rect x="436" y="622" width="108.6" height="129.7" fill="#7a4a88"/>
<rect x="442" y="628" width="96.6" height="117.7" fill="#fff"/>
<rect x="442" y="656" width="96.6" height="89.7" fill="#eddee4"/>
<path d="M502.3 685h1.5v1.5h-1.5zM501.6 686.3h1.5v1.5h-1.5zM500.8 687.6h1.5v1.5h-1.5zM502.3 687.6h1.5v1.5h-1.5zM500.1 688.9h1.5v1.5h-1.5zM501.6 688.9h1.5v1.5h-1.5zM503.1 688.9h1.5v1.5h-1.5zM496.3 690.2h1.5v1.5h-1.5zM499.3 690.2h1.5v1.5h-1.5zM500.8 690.2h1.5v1.5h-1.5zM502.3 690.2h1.5v1.5h-1.5zM503.8 690.2h1.5v1.5h-1.5zM497.1 691.5h1.5v1.5h-1.5zM498.6 691.5h1.5v1.5h-1.5zM500.1 691.5h1.5v1.5h-1.5zM494.8 692.8h1.5v1.5h-1.5zM496.3 692.8h1.5v1.5h-1.5zM497.8 692.8h1.5v1.5h-1.5zM499.3 692.8h1.5v1.5h-1.5zM500.8 692.8h1.5v1.5h-1.5zM495.6 694.1h1.5v1.5h-1.5zM497.1 694.1h1.5v1.5h-1.5zM498.6 694.1h1.5v1.5h-1.5zM500.1 694.1h1.5v1.5h-1.5zM493.3 695.4h1.5v1.5h-1.5zM496.3 695.4h1.5v1.5h-1.5zM497.8 695.4h1.5v1.5h-1.5zM499.3 695.4h1.5v1.5h-1.5zM492.6 696.8h1.5v1.5h-1.5zM494.1 696.8h1.5v1.5h-1.5zM495.6 696.8h1.5v1.5h-1.5zM497.1 696.8h1.5v1.5h-1.5zM491.8 698.1h1.5v1.5h-1.5zM493.3 698.1h1.5v1.5h-1.5zM494.8 698.1h1.5v1.5h-1.5zM492.6 699.4h1.5v1.5h-1.5zM494.1 699.4h1.5v1.5h-1.5zM490.3 700.7h1.5v1.5h-1.5zM491.8 700.7h1.5v1.5h-1.5zM493.3 700.7h1.5v1.5h-1.5zM491.1 702h1.5v1.5h-1.5zM492.6 702h1.5v1.5h-1.5zM490.3 703.3h1.5v1.5h-1.5zM491.8 703.3h1.5v1.5h-1.5zM493.3 703.3h1.5v1.5h-1.5zM489.6 704.6h1.5v1.5h-1.5zM488.8 705.9h1.5v1.5h-1.5zM489.6 707.2h1.5v1.5h-1.5zM491.1 707.2h1.5v1.5h-1.5zM492.6 707.2h1.5v1.5h-1.5zM488.8 708.5h1.5v1.5h-1.5zM490.3 708.5h1.5v1.5h-1.5zM486.6 709.8h1.5v1.5h-1.5zM488.1 709.8h1.5v1.5h-1.5zM487.3 711.1h1.5v1.5h-1.5zM488.8 711.1h1.5v1.5h-1.5zM490.3 711.1h1.5v1.5h-1.5zM491.8 711.1h1.5v1.5h-1.5zM488.1 712.4h1.5v1.5h-1.5zM487.3 713.7h1.5v1.5h-1.5zM488.8 713.7h1.5v1.5h-1.5zM486.6 715h1.5v1.5h-1.5zM488.1 715h1.5v1.5h-1.5zM489.6 715h1.5v1.5h-1.5zM485.8 716.3h1.5v1.5h-1.5zM487.3 716.3h1.5v1.5h-1.5zM488.8 716.3h1.5v1.5h-1.5zM486.6 717.6h1.5v1.5h-1.5zM488.1 717.6h1.5v1.5h-1.5zM490.3 718.9h1.5v1.5h-1.5zM488.1 720.2h1.5v1.5h-1.5zM489.6 720.2h1.5v1.5h-1.5zM491.1 720.2h1.5v1.5h-1.5zM487.3 721.5h1.5v1.5h-1.5zM488.8 721.5h1.5v1.5h-1.5zM490.3 721.5h1.5v1.5h-1.5zM489.6 722.9h1.5v1.5h-1.5zM487.3 724.2h1.5v1.5h-1.5zM488.8 724.2h1.5v1.5h-1.5zM490.3 724.2h1.5v1.5h-1.5zM491.8 724.2h1.5v1.5h-1.5zM493.3 724.2h1.5v1.5h-1.5zM488.1 725.5h1.5v1.5h-1.5zM489.6 725.5h1.5v1.5h-1.5zM492.6 725.5h1.5v1.5h-1.5zM490.3 726.8h1.5v1.5h-1.5zM491.8 726.8h1.5v1.5h-1.5zM489.6 728.1h1.5v1.5h-1.5zM491.1 728.1h1.5v1.5h-1.5zM490.3 729.4h1.5v1.5h-1.5zM491.8 729.4h1.5v1.5h-1.5zM493.3 729.4h1.5v1.5h-1.5zM494.8 729.4h1.5v1.5h-1.5zM492.6 730.7h1.5v1.5h-1.5zM494.1 730.7h1.5v1.5h-1.5zM493.3 732h1.5v1.5h-1.5zM496.3 732h1.5v1.5h-1.5zM497.8 732h1.5v1.5h-1.5zM492.6 733.3h1.5v1.5h-1.5zM494.1 733.3h1.5v1.5h-1.5zM495.6 733.3h1.5v1.5h-1.5zM497.1 733.3h1.5v1.5h-1.5zM500.1 733.3h1.5v1.5h-1.5zM496.3 734.6h1.5v1.5h-1.5zM497.8 734.6h1.5v1.5h-1.5zM499.3 734.6h1.5v1.5h-1.5zM497.1 735.9h1.5v1.5h-1.5zM498.6 735.9h1.5v1.5h-1.5zM500.1 735.9h1.5v1.5h-1.5zM501.6 735.9h1.5v1.5h-1.5zM500.8 737.2h1.5v1.5h-1.5zM502.3 737.2h1.5v1.5h-1.5zM503.8 737.2h1.5v1.5h-1.5zM498.6 738.5h1.5v1.5h-1.5zM501.6 738.5h1.5v1.5h-1.5zM503.1 738.5h1.5v1.5h-1.5zM500.8 739.8h1.5v1.5h-1.5zM502.3 739.8h1.5v1.5h-1.5zM501.6 741.1h1.5v1.5h-1.5zM504.6 741.1h1.5v1.5h-1.5zM502.3 742.4h1.5v1.5h-1.5z" fill="#2a6a30"/>
<path d="M517 737h1.8v1.8h-1.8zM535 735h1.8v1.8h-1.8z" fill="#2a6a30"/>
<path d="M505 692h1.6v1.6h-1.6zM508 694h1.6v1.6h-1.6z" fill="#2a6a30"/>
<circle cx="452.6" cy="642.4" r="5" fill="#2a6a30"/>
<text x="466" y="646" font-size="11.8" fill="#1f1f2a">Cancer cell 4</text>
<rect x="66" y="761.8" width="15.6" height="15.6" fill="#7ccbea"/>
<rect x="70" y="765.8" width="7.6" height="7.6" fill="#fff"/>
<text x="88.9" y="773.3" font-size="11.8" fill="#1f1f2a">Aggressors</text>
<rect x="156.1" y="761.8" width="15.3" height="15.3" fill="#5b87c1"/>
<rect x="160.1" y="765.8" width="7.3" height="7.3" fill="#fff"/>
<text x="179" y="773.3" font-size="11.8" fill="#1f1f2a">Defenders</text>
<rect x="245.5" y="761.8" width="15.3" height="15.3" fill="#e06b7d"/>
<rect x="249.5" y="765.8" width="7.3" height="7.3" fill="#fff"/>
<text x="267.8" y="774" font-size="11.8" fill="#1f1f2a">Attackers</text>
<rect x="333.2" y="762.2" width="15.3" height="15.3" fill="#52ab8a"/>
<rect x="337.2" y="766.2" width="7.3" height="7.3" fill="#fff"/>
<text x="356" y="773.8" font-size="11.8" fill="#1f1f2a">Engineers</text>
<rect x="420.9" y="762.2" width="15.3" height="15.3" fill="#7a4a88"/>
<rect x="424.9" y="766.2" width="7.3" height="7.3" fill="#fff"/>
<text x="443.7" y="773.8" font-size="11.8" fill="#1f1f2a">Organizers</text>
<rect x="595" y="448.7" width="22.9" height="120.8" fill="#98b9e0"/>
<rect x="595" y="448.7" width="22.9" height="26.3" fill="#a9c5e8"/>
<text x="593" y="512.2" font-size="11.5" fill="#1f1f2a">Cold</text>
<rect x="628.1" y="443.7" width="108.1" height="129.5" fill="#e06b7d"/>
<rect x="635.3" y="450.9" width="93.7" height="115.1" fill="#fff"/>
<rect x="635.4" y="476.9" width="91.6" height="88" fill="#d7c6d8"/>
<polygon points="635.4,476.9 639.4,476.9 640.4,496.9 642.4,514.9 640.4,539.9 638.4,556.9 635.4,564.9" fill="#ede4ee" filter="url(#bl1)"/>
<polygon points="699,564.9 701,555.9 709,549.9 717,552.9 723,546.9 727,545.9 727,564.9" fill="#f4eff5" filter="url(#bl1)"/>
<polygon points="705,476.9 727,476.9 727,498.9 722,483.9" fill="#e4dae6" filter="url(#bl1)"/>
<path d="M649.2 477.2h1.5v1.5h-1.5zM650.7 477.2h1.5v1.5h-1.5zM652.2 477.2h1.5v1.5h-1.5zM653.7 477.2h1.5v1.5h-1.5zM659.7 477.2h1.5v1.5h-1.5zM661.2 477.2h1.5v1.5h-1.5zM654.4 478.5h1.5v1.5h-1.5zM655.9 478.5h1.5v1.5h-1.5zM663.4 478.5h1.5v1.5h-1.5zM664.9 478.5h1.5v1.5h-1.5zM650.7 479.8h1.5v1.5h-1.5zM653.7 479.8h1.5v1.5h-1.5zM656.7 479.8h1.5v1.5h-1.5zM658.2 479.8h1.5v1.5h-1.5zM661.2 479.8h1.5v1.5h-1.5zM665.7 479.8h1.5v1.5h-1.5zM667.2 479.8h1.5v1.5h-1.5zM668.7 479.8h1.5v1.5h-1.5zM673.2 479.8h1.5v1.5h-1.5zM677.7 479.8h1.5v1.5h-1.5zM648.4 481.1h1.5v1.5h-1.5zM654.4 481.1h1.5v1.5h-1.5zM660.4 481.1h1.5v1.5h-1.5zM661.9 481.1h1.5v1.5h-1.5zM663.4 481.1h1.5v1.5h-1.5zM664.9 481.1h1.5v1.5h-1.5zM666.4 481.1h1.5v1.5h-1.5zM667.9 481.1h1.5v1.5h-1.5zM672.4 481.1h1.5v1.5h-1.5zM673.9 481.1h1.5v1.5h-1.5zM678.4 481.1h1.5v1.5h-1.5zM646.2 482.4h1.5v1.5h-1.5zM647.7 482.4h1.5v1.5h-1.5zM649.2 482.4h1.5v1.5h-1.5zM650.7 482.4h1.5v1.5h-1.5zM652.2 482.4h1.5v1.5h-1.5zM653.7 482.4h1.5v1.5h-1.5zM656.7 482.4h1.5v1.5h-1.5zM658.2 482.4h1.5v1.5h-1.5zM659.7 482.4h1.5v1.5h-1.5zM661.2 482.4h1.5v1.5h-1.5zM662.7 482.4h1.5v1.5h-1.5zM664.2 482.4h1.5v1.5h-1.5zM665.7 482.4h1.5v1.5h-1.5zM667.2 482.4h1.5v1.5h-1.5zM668.7 482.4h1.5v1.5h-1.5zM670.2 482.4h1.5v1.5h-1.5zM674.7 482.4h1.5v1.5h-1.5zM676.2 482.4h1.5v1.5h-1.5zM679.2 482.4h1.5v1.5h-1.5zM640.9 483.7h1.5v1.5h-1.5zM643.9 483.7h1.5v1.5h-1.5zM645.4 483.7h1.5v1.5h-1.5zM649.9 483.7h1.5v1.5h-1.5zM652.9 483.7h1.5v1.5h-1.5zM654.4 483.7h1.5v1.5h-1.5zM655.9 483.7h1.5v1.5h-1.5zM657.4 483.7h1.5v1.5h-1.5zM658.9 483.7h1.5v1.5h-1.5zM660.4 483.7h1.5v1.5h-1.5zM661.9 483.7h1.5v1.5h-1.5zM663.4 483.7h1.5v1.5h-1.5zM666.4 483.7h1.5v1.5h-1.5zM667.9 483.7h1.5v1.5h-1.5zM669.4 483.7h1.5v1.5h-1.5zM670.9 483.7h1.5v1.5h-1.5zM643.2 485h1.5v1.5h-1.5zM644.7 485h1.5v1.5h-1.5zM647.7 485h1.5v1.5h-1.5zM650.7 485h1.5v1.5h-1.5zM652.2 485h1.5v1.5h-1.5zM653.7 485h1.5v1.5h-1.5zM655.2 485h1.5v1.5h-1.5zM656.7 485h1.5v1.5h-1.5zM658.2 485h1.5v1.5h-1.5zM659.7 485h1.5v1.5h-1.5zM661.2 485h1.5v1.5h-1.5zM662.7 485h1.5v1.5h-1.5zM664.2 485h1.5v1.5h-1.5zM667.2 485h1.5v1.5h-1.5zM668.7 485h1.5v1.5h-1.5zM671.7 485h1.5v1.5h-1.5zM674.7 485h1.5v1.5h-1.5zM676.2 485h1.5v1.5h-1.5zM677.7 485h1.5v1.5h-1.5zM646.9 486.3h1.5v1.5h-1.5zM649.9 486.3h1.5v1.5h-1.5zM651.4 486.3h1.5v1.5h-1.5zM652.9 486.3h1.5v1.5h-1.5zM654.4 486.3h1.5v1.5h-1.5zM655.9 486.3h1.5v1.5h-1.5zM657.4 486.3h1.5v1.5h-1.5zM658.9 486.3h1.5v1.5h-1.5zM660.4 486.3h1.5v1.5h-1.5zM661.9 486.3h1.5v1.5h-1.5zM663.4 486.3h1.5v1.5h-1.5zM664.9 486.3h1.5v1.5h-1.5zM666.4 486.3h1.5v1.5h-1.5zM667.9 486.3h1.5v1.5h-1.5zM669.4 486.3h1.5v1.5h-1.5zM670.9 486.3h1.5v1.5h-1.5zM672.4 486.3h1.5v1.5h-1.5zM673.9 486.3h1.5v1.5h-1.5zM675.4 486.3h1.5v1.5h-1.5zM678.4 486.3h1.5v1.5h-1.5zM643.2 487.6h1.5v1.5h-1.5zM647.7 487.6h1.5v1.5h-1.5zM649.2 487.6h1.5v1.5h-1.5zM650.7 487.6h1.5v1.5h-1.5zM652.2 487.6h1.5v1.5h-1.5zM655.2 487.6h1.5v1.5h-1.5zM658.2 487.6h1.5v1.5h-1.5zM659.7 487.6h1.5v1.5h-1.5zM661.2 487.6h1.5v1.5h-1.5zM662.7 487.6h1.5v1.5h-1.5zM665.7 487.6h1.5v1.5h-1.5zM667.2 487.6h1.5v1.5h-1.5zM668.7 487.6h1.5v1.5h-1.5zM670.2 487.6h1.5v1.5h-1.5zM676.2 487.6h1.5v1.5h-1.5zM677.7 487.6h1.5v1.5h-1.5zM679.2 487.6h1.5v1.5h-1.5zM682.2 487.6h1.5v1.5h-1.5zM683.7 487.6h1.5v1.5h-1.5zM643.9 488.9h1.5v1.5h-1.5zM645.4 488.9h1.5v1.5h-1.5zM646.9 488.9h1.5v1.5h-1.5zM648.4 488.9h1.5v1.5h-1.5zM649.9 488.9h1.5v1.5h-1.5zM651.4 488.9h1.5v1.5h-1.5zM652.9 488.9h1.5v1.5h-1.5zM654.4 488.9h1.5v1.5h-1.5zM655.9 488.9h1.5v1.5h-1.5zM657.4 488.9h1.5v1.5h-1.5zM658.9 488.9h1.5v1.5h-1.5zM660.4 488.9h1.5v1.5h-1.5zM661.9 488.9h1.5v1.5h-1.5zM663.4 488.9h1.5v1.5h-1.5zM664.9 488.9h1.5v1.5h-1.5zM666.4 488.9h1.5v1.5h-1.5zM667.9 488.9h1.5v1.5h-1.5zM669.4 488.9h1.5v1.5h-1.5zM670.9 488.9h1.5v1.5h-1.5zM672.4 488.9h1.5v1.5h-1.5zM673.9 488.9h1.5v1.5h-1.5zM675.4 488.9h1.5v1.5h-1.5zM676.9 488.9h1.5v1.5h-1.5zM678.4 488.9h1.5v1.5h-1.5zM679.9 488.9h1.5v1.5h-1.5zM641.7 490.3h1.5v1.5h-1.5zM643.2 490.3h1.5v1.5h-1.5zM644.7 490.3h1.5v1.5h-1.5zM646.2 490.3h1.5v1.5h-1.5zM647.7 490.3h1.5v1.5h-1.5zM649.2 490.3h1.5v1.5h-1.5zM650.7 490.3h1.5v1.5h-1.5zM653.7 490.3h1.5v1.5h-1.5zM655.2 490.3h1.5v1.5h-1.5zM656.7 490.3h1.5v1.5h-1.5zM659.7 490.3h1.5v1.5h-1.5zM661.2 490.3h1.5v1.5h-1.5zM662.7 490.3h1.5v1.5h-1.5zM664.2 490.3h1.5v1.5h-1.5zM665.7 490.3h1.5v1.5h-1.5zM667.2 490.3h1.5v1.5h-1.5zM668.7 490.3h1.5v1.5h-1.5zM670.2 490.3h1.5v1.5h-1.5zM671.7 490.3h1.5v1.5h-1.5zM673.2 490.3h1.5v1.5h-1.5zM676.2 490.3h1.5v1.5h-1.5zM677.7 490.3h1.5v1.5h-1.5zM683.7 490.3h1.5v1.5h-1.5zM643.9 491.6h1.5v1.5h-1.5zM645.4 491.6h1.5v1.5h-1.5zM646.9 491.6h1.5v1.5h-1.5zM648.4 491.6h1.5v1.5h-1.5zM649.9 491.6h1.5v1.5h-1.5zM651.4 491.6h1.5v1.5h-1.5zM652.9 491.6h1.5v1.5h-1.5zM654.4 491.6h1.5v1.5h-1.5zM655.9 491.6h1.5v1.5h-1.5zM657.4 491.6h1.5v1.5h-1.5zM658.9 491.6h1.5v1.5h-1.5zM661.9 491.6h1.5v1.5h-1.5zM663.4 491.6h1.5v1.5h-1.5zM664.9 491.6h1.5v1.5h-1.5zM666.4 491.6h1.5v1.5h-1.5zM667.9 491.6h1.5v1.5h-1.5zM669.4 491.6h1.5v1.5h-1.5zM670.9 491.6h1.5v1.5h-1.5zM672.4 491.6h1.5v1.5h-1.5zM673.9 491.6h1.5v1.5h-1.5zM675.4 491.6h1.5v1.5h-1.5zM676.9 491.6h1.5v1.5h-1.5zM678.4 491.6h1.5v1.5h-1.5zM638.7 492.9h1.5v1.5h-1.5zM640.2 492.9h1.5v1.5h-1.5zM647.7 492.9h1.5v1.5h-1.5zM650.7 492.9h1.5v1.5h-1.5zM652.2 492.9h1.5v1.5h-1.5zM653.7 492.9h1.5v1.5h-1.5zM655.2 492.9h1.5v1.5h-1.5zM656.7 492.9h1.5v1.5h-1.5zM658.2 492.9h1.5v1.5h-1.5zM661.2 492.9h1.5v1.5h-1.5zM664.2 492.9h1.5v1.5h-1.5zM665.7 492.9h1.5v1.5h-1.5zM667.2 492.9h1.5v1.5h-1.5zM668.7 492.9h1.5v1.5h-1.5zM670.2 492.9h1.5v1.5h-1.5zM671.7 492.9h1.5v1.5h-1.5zM673.2 492.9h1.5v1.5h-1.5zM674.7 492.9h1.5v1.5h-1.5zM676.2 492.9h1.5v1.5h-1.5zM677.7 492.9h1.5v1.5h-1.5zM679.2 492.9h1.5v1.5h-1.5zM682.2 492.9h1.5v1.5h-1.5zM683.7 492.9h1.5v1.5h-1.5zM640.9 494.2h1.5v1.5h-1.5zM643.9 494.2h1.5v1.5h-1.5zM645.4 494.2h1.5v1.5h-1.5zM646.9 494.2h1.5v1.5h-1.5zM648.4 494.2h1.5v1.5h-1.5zM649.9 494.2h1.5v1.5h-1.5zM651.4 494.2h1.5v1.5h-1.5zM652.9 494.2h1.5v1.5h-1.5zM654.4 494.2h1.5v1.5h-1.5zM655.9 494.2h1.5v1.5h-1.5zM657.4 494.2h1.5v1.5h-1.5zM658.9 494.2h1.5v1.5h-1.5zM660.4 494.2h1.5v1.5h-1.5zM661.9 494.2h1.5v1.5h-1.5zM663.4 494.2h1.5v1.5h-1.5zM664.9 494.2h1.5v1.5h-1.5zM669.4 494.2h1.5v1.5h-1.5zM672.4 494.2h1.5v1.5h-1.5zM673.9 494.2h1.5v1.5h-1.5zM675.4 494.2h1.5v1.5h-1.5zM678.4 494.2h1.5v1.5h-1.5zM681.4 494.2h1.5v1.5h-1.5zM643.2 495.5h1.5v1.5h-1.5zM644.7 495.5h1.5v1.5h-1.5zM646.2 495.5h1.5v1.5h-1.5zM647.7 495.5h1.5v1.5h-1.5zM649.2 495.5h1.5v1.5h-1.5zM650.7 495.5h1.5v1.5h-1.5zM652.2 495.5h1.5v1.5h-1.5zM653.7 495.5h1.5v1.5h-1.5zM655.2 495.5h1.5v1.5h-1.5zM656.7 495.5h1.5v1.5h-1.5zM659.7 495.5h1.5v1.5h-1.5zM661.2 495.5h1.5v1.5h-1.5zM662.7 495.5h1.5v1.5h-1.5zM664.2 495.5h1.5v1.5h-1.5zM665.7 495.5h1.5v1.5h-1.5zM667.2 495.5h1.5v1.5h-1.5zM668.7 495.5h1.5v1.5h-1.5zM670.2 495.5h1.5v1.5h-1.5zM671.7 495.5h1.5v1.5h-1.5zM674.7 495.5h1.5v1.5h-1.5zM676.2 495.5h1.5v1.5h-1.5zM680.7 495.5h1.5v1.5h-1.5zM639.4 496.8h1.5v1.5h-1.5zM640.9 496.8h1.5v1.5h-1.5zM646.9 496.8h1.5v1.5h-1.5zM648.4 496.8h1.5v1.5h-1.5zM649.9 496.8h1.5v1.5h-1.5zM651.4 496.8h1.5v1.5h-1.5zM652.9 496.8h1.5v1.5h-1.5zM654.4 496.8h1.5v1.5h-1.5zM655.9 496.8h1.5v1.5h-1.5zM657.4 496.8h1.5v1.5h-1.5zM658.9 496.8h1.5v1.5h-1.5zM660.4 496.8h1.5v1.5h-1.5zM661.9 496.8h1.5v1.5h-1.5zM663.4 496.8h1.5v1.5h-1.5zM664.9 496.8h1.5v1.5h-1.5zM666.4 496.8h1.5v1.5h-1.5zM667.9 496.8h1.5v1.5h-1.5zM669.4 496.8h1.5v1.5h-1.5zM670.9 496.8h1.5v1.5h-1.5zM672.4 496.8h1.5v1.5h-1.5zM673.9 496.8h1.5v1.5h-1.5zM678.4 496.8h1.5v1.5h-1.5zM643.2 498.1h1.5v1.5h-1.5zM647.7 498.1h1.5v1.5h-1.5zM649.2 498.1h1.5v1.5h-1.5zM650.7 498.1h1.5v1.5h-1.5zM652.2 498.1h1.5v1.5h-1.5zM653.7 498.1h1.5v1.5h-1.5zM655.2 498.1h1.5v1.5h-1.5zM656.7 498.1h1.5v1.5h-1.5zM659.7 498.1h1.5v1.5h-1.5zM661.2 498.1h1.5v1.5h-1.5zM662.7 498.1h1.5v1.5h-1.5zM664.2 498.1h1.5v1.5h-1.5zM665.7 498.1h1.5v1.5h-1.5zM667.2 498.1h1.5v1.5h-1.5zM668.7 498.1h1.5v1.5h-1.5zM670.2 498.1h1.5v1.5h-1.5zM671.7 498.1h1.5v1.5h-1.5zM680.7 498.1h1.5v1.5h-1.5zM642.4 499.4h1.5v1.5h-1.5zM646.9 499.4h1.5v1.5h-1.5zM648.4 499.4h1.5v1.5h-1.5zM649.9 499.4h1.5v1.5h-1.5zM651.4 499.4h1.5v1.5h-1.5zM652.9 499.4h1.5v1.5h-1.5zM657.4 499.4h1.5v1.5h-1.5zM658.9 499.4h1.5v1.5h-1.5zM660.4 499.4h1.5v1.5h-1.5zM661.9 499.4h1.5v1.5h-1.5zM663.4 499.4h1.5v1.5h-1.5zM664.9 499.4h1.5v1.5h-1.5zM666.4 499.4h1.5v1.5h-1.5zM667.9 499.4h1.5v1.5h-1.5zM669.4 499.4h1.5v1.5h-1.5zM670.9 499.4h1.5v1.5h-1.5zM672.4 499.4h1.5v1.5h-1.5zM673.9 499.4h1.5v1.5h-1.5zM676.9 499.4h1.5v1.5h-1.5zM679.9 499.4h1.5v1.5h-1.5zM638.7 500.7h1.5v1.5h-1.5zM643.2 500.7h1.5v1.5h-1.5zM644.7 500.7h1.5v1.5h-1.5zM646.2 500.7h1.5v1.5h-1.5zM647.7 500.7h1.5v1.5h-1.5zM649.2 500.7h1.5v1.5h-1.5zM650.7 500.7h1.5v1.5h-1.5zM653.7 500.7h1.5v1.5h-1.5zM655.2 500.7h1.5v1.5h-1.5zM656.7 500.7h1.5v1.5h-1.5zM658.2 500.7h1.5v1.5h-1.5zM659.7 500.7h1.5v1.5h-1.5zM661.2 500.7h1.5v1.5h-1.5zM664.2 500.7h1.5v1.5h-1.5zM665.7 500.7h1.5v1.5h-1.5zM667.2 500.7h1.5v1.5h-1.5zM668.7 500.7h1.5v1.5h-1.5zM671.7 500.7h1.5v1.5h-1.5zM673.2 500.7h1.5v1.5h-1.5zM676.2 500.7h1.5v1.5h-1.5zM642.4 502h1.5v1.5h-1.5zM646.9 502h1.5v1.5h-1.5zM651.4 502h1.5v1.5h-1.5zM652.9 502h1.5v1.5h-1.5zM654.4 502h1.5v1.5h-1.5zM655.9 502h1.5v1.5h-1.5zM657.4 502h1.5v1.5h-1.5zM658.9 502h1.5v1.5h-1.5zM660.4 502h1.5v1.5h-1.5zM661.9 502h1.5v1.5h-1.5zM663.4 502h1.5v1.5h-1.5zM664.9 502h1.5v1.5h-1.5zM666.4 502h1.5v1.5h-1.5zM667.9 502h1.5v1.5h-1.5zM676.9 502h1.5v1.5h-1.5zM679.9 502h1.5v1.5h-1.5zM644.7 503.3h1.5v1.5h-1.5zM652.2 503.3h1.5v1.5h-1.5zM653.7 503.3h1.5v1.5h-1.5zM655.2 503.3h1.5v1.5h-1.5zM656.7 503.3h1.5v1.5h-1.5zM658.2 503.3h1.5v1.5h-1.5zM659.7 503.3h1.5v1.5h-1.5zM661.2 503.3h1.5v1.5h-1.5zM662.7 503.3h1.5v1.5h-1.5zM664.2 503.3h1.5v1.5h-1.5zM665.7 503.3h1.5v1.5h-1.5zM667.2 503.3h1.5v1.5h-1.5zM668.7 503.3h1.5v1.5h-1.5zM673.2 503.3h1.5v1.5h-1.5zM674.7 503.3h1.5v1.5h-1.5zM676.2 503.3h1.5v1.5h-1.5zM677.7 503.3h1.5v1.5h-1.5zM646.9 504.6h1.5v1.5h-1.5zM651.4 504.6h1.5v1.5h-1.5zM654.4 504.6h1.5v1.5h-1.5zM655.9 504.6h1.5v1.5h-1.5zM657.4 504.6h1.5v1.5h-1.5zM658.9 504.6h1.5v1.5h-1.5zM660.4 504.6h1.5v1.5h-1.5zM663.4 504.6h1.5v1.5h-1.5zM666.4 504.6h1.5v1.5h-1.5zM667.9 504.6h1.5v1.5h-1.5zM669.4 504.6h1.5v1.5h-1.5zM672.4 504.6h1.5v1.5h-1.5zM673.9 504.6h1.5v1.5h-1.5zM650.7 505.9h1.5v1.5h-1.5zM653.7 505.9h1.5v1.5h-1.5zM655.2 505.9h1.5v1.5h-1.5zM656.7 505.9h1.5v1.5h-1.5zM658.2 505.9h1.5v1.5h-1.5zM659.7 505.9h1.5v1.5h-1.5zM661.2 505.9h1.5v1.5h-1.5zM664.2 505.9h1.5v1.5h-1.5zM667.2 505.9h1.5v1.5h-1.5zM674.7 505.9h1.5v1.5h-1.5zM646.9 507.2h1.5v1.5h-1.5zM649.9 507.2h1.5v1.5h-1.5zM654.4 507.2h1.5v1.5h-1.5zM661.9 507.2h1.5v1.5h-1.5zM666.4 507.2h1.5v1.5h-1.5zM669.4 507.2h1.5v1.5h-1.5zM675.4 507.2h1.5v1.5h-1.5zM647.7 508.5h1.5v1.5h-1.5zM653.7 508.5h1.5v1.5h-1.5zM656.7 508.5h1.5v1.5h-1.5zM661.2 508.5h1.5v1.5h-1.5zM665.7 508.5h1.5v1.5h-1.5zM657.4 509.8h1.5v1.5h-1.5zM658.9 509.8h1.5v1.5h-1.5zM660.4 509.8h1.5v1.5h-1.5zM663.4 509.8h1.5v1.5h-1.5zM664.9 509.8h1.5v1.5h-1.5zM668.7 511.1h1.5v1.5h-1.5zM640.2 529.4h1.5v1.5h-1.5zM641.7 529.4h1.5v1.5h-1.5zM642.4 530.7h1.5v1.5h-1.5zM638.7 532h1.5v1.5h-1.5zM640.2 532h1.5v1.5h-1.5zM640.9 533.3h1.5v1.5h-1.5zM640.2 534.6h1.5v1.5h-1.5zM639.4 535.9h1.5v1.5h-1.5zM640.9 535.9h1.5v1.5h-1.5zM640.2 539.8h1.5v1.5h-1.5zM641.7 539.8h1.5v1.5h-1.5zM639.4 541.1h1.5v1.5h-1.5zM640.9 541.1h1.5v1.5h-1.5zM638.7 542.4h1.5v1.5h-1.5zM640.2 542.4h1.5v1.5h-1.5zM641.7 542.4h1.5v1.5h-1.5zM639.4 543.8h1.5v1.5h-1.5zM640.9 543.8h1.5v1.5h-1.5zM639.4 546.4h1.5v1.5h-1.5zM640.9 546.4h1.5v1.5h-1.5zM638.7 547.7h1.5v1.5h-1.5zM640.2 547.7h1.5v1.5h-1.5zM637.9 549h1.5v1.5h-1.5zM640.9 549h1.5v1.5h-1.5zM638.7 550.3h1.5v1.5h-1.5zM640.2 550.3h1.5v1.5h-1.5zM637.9 551.6h1.5v1.5h-1.5zM639.4 551.6h1.5v1.5h-1.5zM640.2 552.9h1.5v1.5h-1.5zM641.7 552.9h1.5v1.5h-1.5zM637.9 554.2h1.5v1.5h-1.5zM640.9 554.2h1.5v1.5h-1.5zM639.4 556.8h1.5v1.5h-1.5zM638.7 558.1h1.5v1.5h-1.5zM640.2 558.1h1.5v1.5h-1.5zM641.7 558.1h1.5v1.5h-1.5zM637.9 559.4h1.5v1.5h-1.5zM639.4 559.4h1.5v1.5h-1.5zM640.9 559.4h1.5v1.5h-1.5zM638.7 560.7h1.5v1.5h-1.5zM640.2 560.7h1.5v1.5h-1.5z" fill="#4e6a2c"/>
<path d="M699.4 478.5h1.5v1.5h-1.5zM703.9 478.5h1.5v1.5h-1.5zM711.4 478.5h1.5v1.5h-1.5zM704.7 479.8h1.5v1.5h-1.5zM710.7 479.8h1.5v1.5h-1.5zM712.2 479.8h1.5v1.5h-1.5zM716.7 479.8h1.5v1.5h-1.5zM702.4 481.1h1.5v1.5h-1.5zM703.9 481.1h1.5v1.5h-1.5zM705.4 481.1h1.5v1.5h-1.5zM709.9 481.1h1.5v1.5h-1.5zM711.4 481.1h1.5v1.5h-1.5zM714.4 481.1h1.5v1.5h-1.5zM694.2 482.4h1.5v1.5h-1.5zM695.7 482.4h1.5v1.5h-1.5zM700.2 482.4h1.5v1.5h-1.5zM703.2 482.4h1.5v1.5h-1.5zM704.7 482.4h1.5v1.5h-1.5zM706.2 482.4h1.5v1.5h-1.5zM707.7 482.4h1.5v1.5h-1.5zM710.7 482.4h1.5v1.5h-1.5zM713.7 482.4h1.5v1.5h-1.5zM716.7 482.4h1.5v1.5h-1.5zM700.9 483.7h1.5v1.5h-1.5zM702.4 483.7h1.5v1.5h-1.5zM703.9 483.7h1.5v1.5h-1.5zM705.4 483.7h1.5v1.5h-1.5zM711.4 483.7h1.5v1.5h-1.5zM717.4 483.7h1.5v1.5h-1.5zM680.7 485h1.5v1.5h-1.5zM683.7 485h1.5v1.5h-1.5zM692.7 485h1.5v1.5h-1.5zM698.7 485h1.5v1.5h-1.5zM700.2 485h1.5v1.5h-1.5zM701.7 485h1.5v1.5h-1.5zM704.7 485h1.5v1.5h-1.5zM706.2 485h1.5v1.5h-1.5zM707.7 485h1.5v1.5h-1.5zM709.2 485h1.5v1.5h-1.5zM710.7 485h1.5v1.5h-1.5zM715.2 485h1.5v1.5h-1.5zM718.2 485h1.5v1.5h-1.5zM719.7 485h1.5v1.5h-1.5zM676.9 486.3h1.5v1.5h-1.5zM681.4 486.3h1.5v1.5h-1.5zM685.9 486.3h1.5v1.5h-1.5zM687.4 486.3h1.5v1.5h-1.5zM688.9 486.3h1.5v1.5h-1.5zM693.4 486.3h1.5v1.5h-1.5zM697.9 486.3h1.5v1.5h-1.5zM700.9 486.3h1.5v1.5h-1.5zM703.9 486.3h1.5v1.5h-1.5zM709.9 486.3h1.5v1.5h-1.5zM712.9 486.3h1.5v1.5h-1.5zM717.4 486.3h1.5v1.5h-1.5zM677.7 487.6h1.5v1.5h-1.5zM686.7 487.6h1.5v1.5h-1.5zM691.2 487.6h1.5v1.5h-1.5zM694.2 487.6h1.5v1.5h-1.5zM698.7 487.6h1.5v1.5h-1.5zM700.2 487.6h1.5v1.5h-1.5zM703.2 487.6h1.5v1.5h-1.5zM706.2 487.6h1.5v1.5h-1.5zM710.7 487.6h1.5v1.5h-1.5zM713.7 487.6h1.5v1.5h-1.5zM715.2 487.6h1.5v1.5h-1.5zM716.7 487.6h1.5v1.5h-1.5zM718.2 487.6h1.5v1.5h-1.5zM719.7 487.6h1.5v1.5h-1.5zM682.9 488.9h1.5v1.5h-1.5zM684.4 488.9h1.5v1.5h-1.5zM687.4 488.9h1.5v1.5h-1.5zM690.4 488.9h1.5v1.5h-1.5zM697.9 488.9h1.5v1.5h-1.5zM702.4 488.9h1.5v1.5h-1.5zM708.4 488.9h1.5v1.5h-1.5zM709.9 488.9h1.5v1.5h-1.5zM711.4 488.9h1.5v1.5h-1.5zM712.9 488.9h1.5v1.5h-1.5zM714.4 488.9h1.5v1.5h-1.5zM715.9 488.9h1.5v1.5h-1.5zM674.7 490.3h1.5v1.5h-1.5zM677.7 490.3h1.5v1.5h-1.5zM680.7 490.3h1.5v1.5h-1.5zM682.2 490.3h1.5v1.5h-1.5zM683.7 490.3h1.5v1.5h-1.5zM685.2 490.3h1.5v1.5h-1.5zM686.7 490.3h1.5v1.5h-1.5zM688.2 490.3h1.5v1.5h-1.5zM691.2 490.3h1.5v1.5h-1.5zM692.7 490.3h1.5v1.5h-1.5zM698.7 490.3h1.5v1.5h-1.5zM700.2 490.3h1.5v1.5h-1.5zM701.7 490.3h1.5v1.5h-1.5zM703.2 490.3h1.5v1.5h-1.5zM706.2 490.3h1.5v1.5h-1.5zM710.7 490.3h1.5v1.5h-1.5zM712.2 490.3h1.5v1.5h-1.5zM713.7 490.3h1.5v1.5h-1.5zM715.2 490.3h1.5v1.5h-1.5zM675.4 491.6h1.5v1.5h-1.5zM679.9 491.6h1.5v1.5h-1.5zM681.4 491.6h1.5v1.5h-1.5zM682.9 491.6h1.5v1.5h-1.5zM684.4 491.6h1.5v1.5h-1.5zM685.9 491.6h1.5v1.5h-1.5zM687.4 491.6h1.5v1.5h-1.5zM690.4 491.6h1.5v1.5h-1.5zM693.4 491.6h1.5v1.5h-1.5zM697.9 491.6h1.5v1.5h-1.5zM699.4 491.6h1.5v1.5h-1.5zM702.4 491.6h1.5v1.5h-1.5zM705.4 491.6h1.5v1.5h-1.5zM706.9 491.6h1.5v1.5h-1.5zM708.4 491.6h1.5v1.5h-1.5zM709.9 491.6h1.5v1.5h-1.5zM711.4 491.6h1.5v1.5h-1.5zM715.9 491.6h1.5v1.5h-1.5zM670.2 492.9h1.5v1.5h-1.5zM673.2 492.9h1.5v1.5h-1.5zM676.2 492.9h1.5v1.5h-1.5zM677.7 492.9h1.5v1.5h-1.5zM680.7 492.9h1.5v1.5h-1.5zM682.2 492.9h1.5v1.5h-1.5zM683.7 492.9h1.5v1.5h-1.5zM685.2 492.9h1.5v1.5h-1.5zM686.7 492.9h1.5v1.5h-1.5zM688.2 492.9h1.5v1.5h-1.5zM689.7 492.9h1.5v1.5h-1.5zM691.2 492.9h1.5v1.5h-1.5zM692.7 492.9h1.5v1.5h-1.5zM694.2 492.9h1.5v1.5h-1.5zM695.7 492.9h1.5v1.5h-1.5zM707.7 492.9h1.5v1.5h-1.5zM709.2 492.9h1.5v1.5h-1.5zM673.9 494.2h1.5v1.5h-1.5zM675.4 494.2h1.5v1.5h-1.5zM676.9 494.2h1.5v1.5h-1.5zM679.9 494.2h1.5v1.5h-1.5zM681.4 494.2h1.5v1.5h-1.5zM682.9 494.2h1.5v1.5h-1.5zM684.4 494.2h1.5v1.5h-1.5zM685.9 494.2h1.5v1.5h-1.5zM688.9 494.2h1.5v1.5h-1.5zM690.4 494.2h1.5v1.5h-1.5zM693.4 494.2h1.5v1.5h-1.5zM694.9 494.2h1.5v1.5h-1.5zM697.9 494.2h1.5v1.5h-1.5zM702.4 494.2h1.5v1.5h-1.5zM671.7 495.5h1.5v1.5h-1.5zM674.7 495.5h1.5v1.5h-1.5zM676.2 495.5h1.5v1.5h-1.5zM677.7 495.5h1.5v1.5h-1.5zM679.2 495.5h1.5v1.5h-1.5zM680.7 495.5h1.5v1.5h-1.5zM683.7 495.5h1.5v1.5h-1.5zM685.2 495.5h1.5v1.5h-1.5zM686.7 495.5h1.5v1.5h-1.5zM688.2 495.5h1.5v1.5h-1.5zM689.7 495.5h1.5v1.5h-1.5zM691.2 495.5h1.5v1.5h-1.5zM692.7 495.5h1.5v1.5h-1.5zM697.2 495.5h1.5v1.5h-1.5zM670.9 496.8h1.5v1.5h-1.5zM672.4 496.8h1.5v1.5h-1.5zM673.9 496.8h1.5v1.5h-1.5zM675.4 496.8h1.5v1.5h-1.5zM676.9 496.8h1.5v1.5h-1.5zM678.4 496.8h1.5v1.5h-1.5zM679.9 496.8h1.5v1.5h-1.5zM681.4 496.8h1.5v1.5h-1.5zM682.9 496.8h1.5v1.5h-1.5zM685.9 496.8h1.5v1.5h-1.5zM687.4 496.8h1.5v1.5h-1.5zM688.9 496.8h1.5v1.5h-1.5zM690.4 496.8h1.5v1.5h-1.5zM691.9 496.8h1.5v1.5h-1.5zM693.4 496.8h1.5v1.5h-1.5zM694.9 496.8h1.5v1.5h-1.5zM670.2 498.1h1.5v1.5h-1.5zM673.2 498.1h1.5v1.5h-1.5zM682.2 498.1h1.5v1.5h-1.5zM683.7 498.1h1.5v1.5h-1.5zM685.2 498.1h1.5v1.5h-1.5zM686.7 498.1h1.5v1.5h-1.5zM688.2 498.1h1.5v1.5h-1.5zM689.7 498.1h1.5v1.5h-1.5zM691.2 498.1h1.5v1.5h-1.5zM692.7 498.1h1.5v1.5h-1.5zM695.7 498.1h1.5v1.5h-1.5zM669.4 499.4h1.5v1.5h-1.5zM670.9 499.4h1.5v1.5h-1.5zM673.9 499.4h1.5v1.5h-1.5zM675.4 499.4h1.5v1.5h-1.5zM676.9 499.4h1.5v1.5h-1.5zM678.4 499.4h1.5v1.5h-1.5zM679.9 499.4h1.5v1.5h-1.5zM681.4 499.4h1.5v1.5h-1.5zM684.4 499.4h1.5v1.5h-1.5zM687.4 499.4h1.5v1.5h-1.5zM690.4 499.4h1.5v1.5h-1.5zM691.9 499.4h1.5v1.5h-1.5zM693.4 499.4h1.5v1.5h-1.5zM694.9 499.4h1.5v1.5h-1.5zM696.4 499.4h1.5v1.5h-1.5zM697.9 499.4h1.5v1.5h-1.5zM700.9 499.4h1.5v1.5h-1.5zM674.7 500.7h1.5v1.5h-1.5zM676.2 500.7h1.5v1.5h-1.5zM677.7 500.7h1.5v1.5h-1.5zM679.2 500.7h1.5v1.5h-1.5zM680.7 500.7h1.5v1.5h-1.5zM682.2 500.7h1.5v1.5h-1.5zM683.7 500.7h1.5v1.5h-1.5zM685.2 500.7h1.5v1.5h-1.5zM686.7 500.7h1.5v1.5h-1.5zM688.2 500.7h1.5v1.5h-1.5zM691.2 500.7h1.5v1.5h-1.5zM692.7 500.7h1.5v1.5h-1.5zM694.2 500.7h1.5v1.5h-1.5zM698.7 500.7h1.5v1.5h-1.5zM700.2 500.7h1.5v1.5h-1.5zM669.4 502h1.5v1.5h-1.5zM670.9 502h1.5v1.5h-1.5zM672.4 502h1.5v1.5h-1.5zM675.4 502h1.5v1.5h-1.5zM676.9 502h1.5v1.5h-1.5zM678.4 502h1.5v1.5h-1.5zM679.9 502h1.5v1.5h-1.5zM684.4 502h1.5v1.5h-1.5zM687.4 502h1.5v1.5h-1.5zM688.9 502h1.5v1.5h-1.5zM690.4 502h1.5v1.5h-1.5zM693.4 502h1.5v1.5h-1.5zM694.9 502h1.5v1.5h-1.5zM696.4 502h1.5v1.5h-1.5zM668.7 503.3h1.5v1.5h-1.5zM676.2 503.3h1.5v1.5h-1.5zM677.7 503.3h1.5v1.5h-1.5zM679.2 503.3h1.5v1.5h-1.5zM680.7 503.3h1.5v1.5h-1.5zM682.2 503.3h1.5v1.5h-1.5zM683.7 503.3h1.5v1.5h-1.5zM685.2 503.3h1.5v1.5h-1.5zM686.7 503.3h1.5v1.5h-1.5zM688.2 503.3h1.5v1.5h-1.5zM689.7 503.3h1.5v1.5h-1.5zM692.7 503.3h1.5v1.5h-1.5zM694.2 503.3h1.5v1.5h-1.5zM695.7 503.3h1.5v1.5h-1.5zM697.2 503.3h1.5v1.5h-1.5zM673.9 504.6h1.5v1.5h-1.5zM675.4 504.6h1.5v1.5h-1.5zM676.9 504.6h1.5v1.5h-1.5zM678.4 504.6h1.5v1.5h-1.5zM681.4 504.6h1.5v1.5h-1.5zM682.9 504.6h1.5v1.5h-1.5zM684.4 504.6h1.5v1.5h-1.5zM685.9 504.6h1.5v1.5h-1.5zM687.4 504.6h1.5v1.5h-1.5zM688.9 504.6h1.5v1.5h-1.5zM690.4 504.6h1.5v1.5h-1.5zM694.9 504.6h1.5v1.5h-1.5zM696.4 504.6h1.5v1.5h-1.5zM671.7 505.9h1.5v1.5h-1.5zM673.2 505.9h1.5v1.5h-1.5zM676.2 505.9h1.5v1.5h-1.5zM677.7 505.9h1.5v1.5h-1.5zM679.2 505.9h1.5v1.5h-1.5zM680.7 505.9h1.5v1.5h-1.5zM682.2 505.9h1.5v1.5h-1.5zM683.7 505.9h1.5v1.5h-1.5zM685.2 505.9h1.5v1.5h-1.5zM686.7 505.9h1.5v1.5h-1.5zM688.2 505.9h1.5v1.5h-1.5zM689.7 505.9h1.5v1.5h-1.5zM691.2 505.9h1.5v1.5h-1.5zM692.7 505.9h1.5v1.5h-1.5zM669.4 507.2h1.5v1.5h-1.5zM675.4 507.2h1.5v1.5h-1.5zM678.4 507.2h1.5v1.5h-1.5zM681.4 507.2h1.5v1.5h-1.5zM682.9 507.2h1.5v1.5h-1.5zM684.4 507.2h1.5v1.5h-1.5zM685.9 507.2h1.5v1.5h-1.5zM687.4 507.2h1.5v1.5h-1.5zM688.9 507.2h1.5v1.5h-1.5zM690.4 507.2h1.5v1.5h-1.5zM691.9 507.2h1.5v1.5h-1.5zM696.4 507.2h1.5v1.5h-1.5zM671.7 508.5h1.5v1.5h-1.5zM676.2 508.5h1.5v1.5h-1.5zM677.7 508.5h1.5v1.5h-1.5zM679.2 508.5h1.5v1.5h-1.5zM680.7 508.5h1.5v1.5h-1.5zM682.2 508.5h1.5v1.5h-1.5zM683.7 508.5h1.5v1.5h-1.5zM685.2 508.5h1.5v1.5h-1.5zM686.7 508.5h1.5v1.5h-1.5zM688.2 508.5h1.5v1.5h-1.5zM692.7 508.5h1.5v1.5h-1.5zM694.2 508.5h1.5v1.5h-1.5zM697.2 508.5h1.5v1.5h-1.5zM670.9 509.8h1.5v1.5h-1.5zM672.4 509.8h1.5v1.5h-1.5zM676.9 509.8h1.5v1.5h-1.5zM678.4 509.8h1.5v1.5h-1.5zM681.4 509.8h1.5v1.5h-1.5zM684.4 509.8h1.5v1.5h-1.5zM685.9 509.8h1.5v1.5h-1.5zM687.4 509.8h1.5v1.5h-1.5zM688.9 509.8h1.5v1.5h-1.5zM690.4 509.8h1.5v1.5h-1.5zM680.7 511.1h1.5v1.5h-1.5zM683.7 511.1h1.5v1.5h-1.5zM688.2 511.1h1.5v1.5h-1.5zM689.7 511.1h1.5v1.5h-1.5zM692.7 511.1h1.5v1.5h-1.5zM678.4 512.4h1.5v1.5h-1.5zM682.9 512.4h1.5v1.5h-1.5zM685.9 512.4h1.5v1.5h-1.5zM690.4 512.4h1.5v1.5h-1.5zM683.7 513.7h1.5v1.5h-1.5z" fill="#b48484"/>
<path d="M701.7 477.2h1.5v1.5h-1.5zM704.7 477.2h1.5v1.5h-1.5zM669.4 478.5h1.5v1.5h-1.5zM672.4 478.5h1.5v1.5h-1.5zM676.9 478.5h1.5v1.5h-1.5zM678.4 478.5h1.5v1.5h-1.5zM681.4 478.5h1.5v1.5h-1.5zM690.4 478.5h1.5v1.5h-1.5zM691.9 478.5h1.5v1.5h-1.5zM706.9 478.5h1.5v1.5h-1.5zM711.4 478.5h1.5v1.5h-1.5zM715.9 478.5h1.5v1.5h-1.5zM721.9 478.5h1.5v1.5h-1.5zM662.7 479.8h1.5v1.5h-1.5zM668.7 479.8h1.5v1.5h-1.5zM671.7 479.8h1.5v1.5h-1.5zM673.2 479.8h1.5v1.5h-1.5zM680.7 479.8h1.5v1.5h-1.5zM686.7 479.8h1.5v1.5h-1.5zM691.2 479.8h1.5v1.5h-1.5zM695.7 479.8h1.5v1.5h-1.5zM697.2 479.8h1.5v1.5h-1.5zM707.7 479.8h1.5v1.5h-1.5zM719.7 479.8h1.5v1.5h-1.5zM722.7 479.8h1.5v1.5h-1.5zM663.4 481.1h1.5v1.5h-1.5zM664.9 481.1h1.5v1.5h-1.5zM666.4 481.1h1.5v1.5h-1.5zM675.4 481.1h1.5v1.5h-1.5zM684.4 481.1h1.5v1.5h-1.5zM690.4 481.1h1.5v1.5h-1.5zM691.9 481.1h1.5v1.5h-1.5zM694.9 481.1h1.5v1.5h-1.5zM702.4 481.1h1.5v1.5h-1.5zM706.9 481.1h1.5v1.5h-1.5zM670.2 482.4h1.5v1.5h-1.5zM671.7 482.4h1.5v1.5h-1.5zM677.7 482.4h1.5v1.5h-1.5zM682.2 482.4h1.5v1.5h-1.5zM689.7 482.4h1.5v1.5h-1.5zM694.2 482.4h1.5v1.5h-1.5zM706.2 482.4h1.5v1.5h-1.5zM709.2 482.4h1.5v1.5h-1.5zM710.7 482.4h1.5v1.5h-1.5zM718.2 482.4h1.5v1.5h-1.5zM663.4 483.7h1.5v1.5h-1.5zM664.9 483.7h1.5v1.5h-1.5zM673.9 483.7h1.5v1.5h-1.5zM679.9 483.7h1.5v1.5h-1.5zM690.4 483.7h1.5v1.5h-1.5zM694.9 483.7h1.5v1.5h-1.5zM703.9 483.7h1.5v1.5h-1.5zM714.4 483.7h1.5v1.5h-1.5zM665.7 485h1.5v1.5h-1.5zM668.7 485h1.5v1.5h-1.5zM670.2 485h1.5v1.5h-1.5zM676.2 485h1.5v1.5h-1.5zM685.2 485h1.5v1.5h-1.5zM686.7 485h1.5v1.5h-1.5zM703.2 485h1.5v1.5h-1.5zM704.7 485h1.5v1.5h-1.5zM706.2 485h1.5v1.5h-1.5zM715.2 485h1.5v1.5h-1.5zM722.7 485h1.5v1.5h-1.5zM672.4 486.3h1.5v1.5h-1.5zM673.9 486.3h1.5v1.5h-1.5zM682.9 486.3h1.5v1.5h-1.5zM688.9 486.3h1.5v1.5h-1.5zM693.4 486.3h1.5v1.5h-1.5zM694.9 486.3h1.5v1.5h-1.5zM697.9 486.3h1.5v1.5h-1.5zM700.9 486.3h1.5v1.5h-1.5zM703.9 486.3h1.5v1.5h-1.5zM705.4 486.3h1.5v1.5h-1.5zM708.4 486.3h1.5v1.5h-1.5zM714.4 486.3h1.5v1.5h-1.5zM723.4 486.3h1.5v1.5h-1.5zM662.7 487.6h1.5v1.5h-1.5zM671.7 487.6h1.5v1.5h-1.5zM673.2 487.6h1.5v1.5h-1.5zM676.2 487.6h1.5v1.5h-1.5zM677.7 487.6h1.5v1.5h-1.5zM680.7 487.6h1.5v1.5h-1.5zM685.2 487.6h1.5v1.5h-1.5zM686.7 487.6h1.5v1.5h-1.5zM688.2 487.6h1.5v1.5h-1.5zM694.2 487.6h1.5v1.5h-1.5zM695.7 487.6h1.5v1.5h-1.5zM700.2 487.6h1.5v1.5h-1.5zM706.2 487.6h1.5v1.5h-1.5zM709.2 487.6h1.5v1.5h-1.5zM712.2 487.6h1.5v1.5h-1.5zM713.7 487.6h1.5v1.5h-1.5zM664.9 488.9h1.5v1.5h-1.5zM667.9 488.9h1.5v1.5h-1.5zM670.9 488.9h1.5v1.5h-1.5zM675.4 488.9h1.5v1.5h-1.5zM676.9 488.9h1.5v1.5h-1.5zM681.4 488.9h1.5v1.5h-1.5zM687.4 488.9h1.5v1.5h-1.5zM690.4 488.9h1.5v1.5h-1.5zM691.9 488.9h1.5v1.5h-1.5zM693.4 488.9h1.5v1.5h-1.5zM697.9 488.9h1.5v1.5h-1.5zM702.4 488.9h1.5v1.5h-1.5zM706.9 488.9h1.5v1.5h-1.5zM708.4 488.9h1.5v1.5h-1.5zM712.9 488.9h1.5v1.5h-1.5zM714.4 488.9h1.5v1.5h-1.5zM694.2 490.3h1.5v1.5h-1.5zM703.2 490.3h1.5v1.5h-1.5zM704.7 490.3h1.5v1.5h-1.5zM706.2 490.3h1.5v1.5h-1.5zM718.2 490.3h1.5v1.5h-1.5zM663.4 491.6h1.5v1.5h-1.5zM666.4 491.6h1.5v1.5h-1.5zM669.4 491.6h1.5v1.5h-1.5zM670.9 491.6h1.5v1.5h-1.5zM673.9 491.6h1.5v1.5h-1.5zM675.4 491.6h1.5v1.5h-1.5zM685.9 491.6h1.5v1.5h-1.5zM687.4 491.6h1.5v1.5h-1.5zM690.4 491.6h1.5v1.5h-1.5zM696.4 491.6h1.5v1.5h-1.5zM703.9 491.6h1.5v1.5h-1.5zM708.4 491.6h1.5v1.5h-1.5zM715.9 491.6h1.5v1.5h-1.5zM667.2 492.9h1.5v1.5h-1.5zM670.2 492.9h1.5v1.5h-1.5zM679.2 492.9h1.5v1.5h-1.5zM686.7 492.9h1.5v1.5h-1.5zM688.2 492.9h1.5v1.5h-1.5zM694.2 492.9h1.5v1.5h-1.5zM695.7 492.9h1.5v1.5h-1.5zM698.7 492.9h1.5v1.5h-1.5zM701.7 492.9h1.5v1.5h-1.5zM703.2 492.9h1.5v1.5h-1.5zM709.2 492.9h1.5v1.5h-1.5zM710.7 492.9h1.5v1.5h-1.5zM719.7 492.9h1.5v1.5h-1.5zM721.2 492.9h1.5v1.5h-1.5zM672.4 494.2h1.5v1.5h-1.5zM673.9 494.2h1.5v1.5h-1.5zM676.9 494.2h1.5v1.5h-1.5zM690.4 494.2h1.5v1.5h-1.5zM691.9 494.2h1.5v1.5h-1.5zM702.4 494.2h1.5v1.5h-1.5zM706.9 494.2h1.5v1.5h-1.5zM709.9 494.2h1.5v1.5h-1.5zM712.9 494.2h1.5v1.5h-1.5zM723.4 494.2h1.5v1.5h-1.5zM677.7 495.5h1.5v1.5h-1.5zM679.2 495.5h1.5v1.5h-1.5zM682.2 495.5h1.5v1.5h-1.5zM688.2 495.5h1.5v1.5h-1.5zM692.7 495.5h1.5v1.5h-1.5zM695.7 495.5h1.5v1.5h-1.5zM709.2 495.5h1.5v1.5h-1.5zM710.7 495.5h1.5v1.5h-1.5zM712.2 495.5h1.5v1.5h-1.5zM713.7 495.5h1.5v1.5h-1.5zM715.2 495.5h1.5v1.5h-1.5zM719.7 495.5h1.5v1.5h-1.5zM666.4 496.8h1.5v1.5h-1.5zM667.9 496.8h1.5v1.5h-1.5zM669.4 496.8h1.5v1.5h-1.5zM670.9 496.8h1.5v1.5h-1.5zM675.4 496.8h1.5v1.5h-1.5zM687.4 496.8h1.5v1.5h-1.5zM694.9 496.8h1.5v1.5h-1.5zM703.9 496.8h1.5v1.5h-1.5zM706.9 496.8h1.5v1.5h-1.5zM708.4 496.8h1.5v1.5h-1.5zM709.9 496.8h1.5v1.5h-1.5zM712.9 496.8h1.5v1.5h-1.5zM720.4 496.8h1.5v1.5h-1.5zM667.2 498.1h1.5v1.5h-1.5zM670.2 498.1h1.5v1.5h-1.5zM679.2 498.1h1.5v1.5h-1.5zM682.2 498.1h1.5v1.5h-1.5zM686.7 498.1h1.5v1.5h-1.5zM688.2 498.1h1.5v1.5h-1.5zM694.2 498.1h1.5v1.5h-1.5zM698.7 498.1h1.5v1.5h-1.5zM700.2 498.1h1.5v1.5h-1.5zM701.7 498.1h1.5v1.5h-1.5zM703.2 498.1h1.5v1.5h-1.5zM706.2 498.1h1.5v1.5h-1.5zM707.7 498.1h1.5v1.5h-1.5zM709.2 498.1h1.5v1.5h-1.5zM710.7 498.1h1.5v1.5h-1.5zM712.2 498.1h1.5v1.5h-1.5zM672.4 499.4h1.5v1.5h-1.5zM679.9 499.4h1.5v1.5h-1.5zM681.4 499.4h1.5v1.5h-1.5zM690.4 499.4h1.5v1.5h-1.5zM697.9 499.4h1.5v1.5h-1.5zM703.9 499.4h1.5v1.5h-1.5zM705.4 499.4h1.5v1.5h-1.5zM708.4 499.4h1.5v1.5h-1.5zM714.4 499.4h1.5v1.5h-1.5zM668.7 500.7h1.5v1.5h-1.5zM674.7 500.7h1.5v1.5h-1.5zM679.2 500.7h1.5v1.5h-1.5zM682.2 500.7h1.5v1.5h-1.5zM688.2 500.7h1.5v1.5h-1.5zM692.7 500.7h1.5v1.5h-1.5zM694.2 500.7h1.5v1.5h-1.5zM698.7 500.7h1.5v1.5h-1.5zM700.2 500.7h1.5v1.5h-1.5zM701.7 500.7h1.5v1.5h-1.5zM706.2 500.7h1.5v1.5h-1.5zM707.7 500.7h1.5v1.5h-1.5zM712.2 500.7h1.5v1.5h-1.5zM664.9 502h1.5v1.5h-1.5zM667.9 502h1.5v1.5h-1.5zM670.9 502h1.5v1.5h-1.5zM676.9 502h1.5v1.5h-1.5zM678.4 502h1.5v1.5h-1.5zM684.4 502h1.5v1.5h-1.5zM688.9 502h1.5v1.5h-1.5zM693.4 502h1.5v1.5h-1.5zM696.4 502h1.5v1.5h-1.5zM702.4 502h1.5v1.5h-1.5zM703.9 502h1.5v1.5h-1.5zM706.9 502h1.5v1.5h-1.5zM708.4 502h1.5v1.5h-1.5zM709.9 502h1.5v1.5h-1.5zM714.4 502h1.5v1.5h-1.5zM717.4 502h1.5v1.5h-1.5zM718.9 502h1.5v1.5h-1.5zM662.7 503.3h1.5v1.5h-1.5zM664.2 503.3h1.5v1.5h-1.5zM667.2 503.3h1.5v1.5h-1.5zM677.7 503.3h1.5v1.5h-1.5zM692.7 503.3h1.5v1.5h-1.5zM694.2 503.3h1.5v1.5h-1.5zM695.7 503.3h1.5v1.5h-1.5zM698.7 503.3h1.5v1.5h-1.5zM701.7 503.3h1.5v1.5h-1.5zM704.7 503.3h1.5v1.5h-1.5zM710.7 503.3h1.5v1.5h-1.5zM716.7 503.3h1.5v1.5h-1.5zM669.4 504.6h1.5v1.5h-1.5zM673.9 504.6h1.5v1.5h-1.5zM682.9 504.6h1.5v1.5h-1.5zM687.4 504.6h1.5v1.5h-1.5zM688.9 504.6h1.5v1.5h-1.5zM690.4 504.6h1.5v1.5h-1.5zM691.9 504.6h1.5v1.5h-1.5zM693.4 504.6h1.5v1.5h-1.5zM697.9 504.6h1.5v1.5h-1.5zM703.9 504.6h1.5v1.5h-1.5zM709.9 504.6h1.5v1.5h-1.5zM711.4 504.6h1.5v1.5h-1.5zM721.9 504.6h1.5v1.5h-1.5zM679.2 505.9h1.5v1.5h-1.5zM686.7 505.9h1.5v1.5h-1.5zM689.7 505.9h1.5v1.5h-1.5zM698.7 505.9h1.5v1.5h-1.5zM703.2 505.9h1.5v1.5h-1.5zM709.2 505.9h1.5v1.5h-1.5zM710.7 505.9h1.5v1.5h-1.5zM669.4 507.2h1.5v1.5h-1.5zM672.4 507.2h1.5v1.5h-1.5zM676.9 507.2h1.5v1.5h-1.5zM681.4 507.2h1.5v1.5h-1.5zM682.9 507.2h1.5v1.5h-1.5zM688.9 507.2h1.5v1.5h-1.5zM690.4 507.2h1.5v1.5h-1.5zM693.4 507.2h1.5v1.5h-1.5zM694.9 507.2h1.5v1.5h-1.5zM696.4 507.2h1.5v1.5h-1.5zM705.4 507.2h1.5v1.5h-1.5zM706.9 507.2h1.5v1.5h-1.5zM709.9 507.2h1.5v1.5h-1.5zM720.4 507.2h1.5v1.5h-1.5zM664.2 508.5h1.5v1.5h-1.5zM671.7 508.5h1.5v1.5h-1.5zM673.2 508.5h1.5v1.5h-1.5zM683.7 508.5h1.5v1.5h-1.5zM685.2 508.5h1.5v1.5h-1.5zM689.7 508.5h1.5v1.5h-1.5zM692.7 508.5h1.5v1.5h-1.5zM694.2 508.5h1.5v1.5h-1.5zM695.7 508.5h1.5v1.5h-1.5zM697.2 508.5h1.5v1.5h-1.5zM698.7 508.5h1.5v1.5h-1.5zM700.2 508.5h1.5v1.5h-1.5zM703.2 508.5h1.5v1.5h-1.5zM716.7 508.5h1.5v1.5h-1.5zM667.9 509.8h1.5v1.5h-1.5zM669.4 509.8h1.5v1.5h-1.5zM673.9 509.8h1.5v1.5h-1.5zM678.4 509.8h1.5v1.5h-1.5zM693.4 509.8h1.5v1.5h-1.5zM696.4 509.8h1.5v1.5h-1.5zM699.4 509.8h1.5v1.5h-1.5zM702.4 509.8h1.5v1.5h-1.5zM705.4 509.8h1.5v1.5h-1.5zM706.9 509.8h1.5v1.5h-1.5zM708.4 509.8h1.5v1.5h-1.5zM715.9 509.8h1.5v1.5h-1.5zM717.4 509.8h1.5v1.5h-1.5zM718.9 509.8h1.5v1.5h-1.5zM721.9 509.8h1.5v1.5h-1.5zM664.2 511.1h1.5v1.5h-1.5zM670.2 511.1h1.5v1.5h-1.5zM671.7 511.1h1.5v1.5h-1.5zM677.7 511.1h1.5v1.5h-1.5zM680.7 511.1h1.5v1.5h-1.5zM682.2 511.1h1.5v1.5h-1.5zM688.2 511.1h1.5v1.5h-1.5zM694.2 511.1h1.5v1.5h-1.5zM695.7 511.1h1.5v1.5h-1.5zM698.7 511.1h1.5v1.5h-1.5zM701.7 511.1h1.5v1.5h-1.5zM704.7 511.1h1.5v1.5h-1.5zM710.7 511.1h1.5v1.5h-1.5zM715.2 511.1h1.5v1.5h-1.5zM716.7 511.1h1.5v1.5h-1.5zM718.2 511.1h1.5v1.5h-1.5zM721.2 511.1h1.5v1.5h-1.5zM722.7 511.1h1.5v1.5h-1.5zM669.4 512.4h1.5v1.5h-1.5zM670.9 512.4h1.5v1.5h-1.5zM675.4 512.4h1.5v1.5h-1.5zM696.4 512.4h1.5v1.5h-1.5zM699.4 512.4h1.5v1.5h-1.5zM700.9 512.4h1.5v1.5h-1.5zM702.4 512.4h1.5v1.5h-1.5zM703.9 512.4h1.5v1.5h-1.5zM706.9 512.4h1.5v1.5h-1.5zM711.4 512.4h1.5v1.5h-1.5zM718.9 512.4h1.5v1.5h-1.5zM670.2 513.7h1.5v1.5h-1.5zM673.2 513.7h1.5v1.5h-1.5zM674.7 513.7h1.5v1.5h-1.5zM682.2 513.7h1.5v1.5h-1.5zM689.7 513.7h1.5v1.5h-1.5zM701.7 513.7h1.5v1.5h-1.5zM704.7 513.7h1.5v1.5h-1.5zM706.2 513.7h1.5v1.5h-1.5zM715.2 513.7h1.5v1.5h-1.5zM721.2 513.7h1.5v1.5h-1.5zM722.7 513.7h1.5v1.5h-1.5zM670.9 515h1.5v1.5h-1.5zM673.9 515h1.5v1.5h-1.5zM679.9 515h1.5v1.5h-1.5zM693.4 515h1.5v1.5h-1.5zM694.9 515h1.5v1.5h-1.5zM697.9 515h1.5v1.5h-1.5zM700.9 515h1.5v1.5h-1.5zM714.4 515h1.5v1.5h-1.5zM715.9 515h1.5v1.5h-1.5zM717.4 515h1.5v1.5h-1.5zM718.9 515h1.5v1.5h-1.5zM723.4 515h1.5v1.5h-1.5zM667.2 516.4h1.5v1.5h-1.5zM685.2 516.4h1.5v1.5h-1.5zM691.2 516.4h1.5v1.5h-1.5zM695.7 516.4h1.5v1.5h-1.5zM704.7 516.4h1.5v1.5h-1.5zM709.2 516.4h1.5v1.5h-1.5zM712.2 516.4h1.5v1.5h-1.5zM715.2 516.4h1.5v1.5h-1.5zM718.2 516.4h1.5v1.5h-1.5zM719.7 516.4h1.5v1.5h-1.5zM676.9 517.7h1.5v1.5h-1.5zM681.4 517.7h1.5v1.5h-1.5zM691.9 517.7h1.5v1.5h-1.5zM696.4 517.7h1.5v1.5h-1.5zM699.4 517.7h1.5v1.5h-1.5zM705.4 517.7h1.5v1.5h-1.5zM714.4 517.7h1.5v1.5h-1.5zM715.9 517.7h1.5v1.5h-1.5zM718.9 517.7h1.5v1.5h-1.5zM721.9 517.7h1.5v1.5h-1.5zM671.7 519h1.5v1.5h-1.5zM679.2 519h1.5v1.5h-1.5zM680.7 519h1.5v1.5h-1.5zM682.2 519h1.5v1.5h-1.5zM683.7 519h1.5v1.5h-1.5zM685.2 519h1.5v1.5h-1.5zM691.2 519h1.5v1.5h-1.5zM697.2 519h1.5v1.5h-1.5zM700.2 519h1.5v1.5h-1.5zM701.7 519h1.5v1.5h-1.5zM716.7 519h1.5v1.5h-1.5zM718.2 519h1.5v1.5h-1.5zM719.7 519h1.5v1.5h-1.5zM663.4 520.3h1.5v1.5h-1.5zM666.4 520.3h1.5v1.5h-1.5zM667.9 520.3h1.5v1.5h-1.5zM696.4 520.3h1.5v1.5h-1.5zM705.4 520.3h1.5v1.5h-1.5zM706.9 520.3h1.5v1.5h-1.5zM712.9 520.3h1.5v1.5h-1.5zM717.4 520.3h1.5v1.5h-1.5zM721.9 520.3h1.5v1.5h-1.5zM723.4 520.3h1.5v1.5h-1.5zM662.7 521.6h1.5v1.5h-1.5zM670.2 521.6h1.5v1.5h-1.5zM671.7 521.6h1.5v1.5h-1.5zM674.7 521.6h1.5v1.5h-1.5zM688.2 521.6h1.5v1.5h-1.5zM694.2 521.6h1.5v1.5h-1.5zM701.7 521.6h1.5v1.5h-1.5zM703.2 521.6h1.5v1.5h-1.5zM709.2 521.6h1.5v1.5h-1.5zM710.7 521.6h1.5v1.5h-1.5zM672.4 522.9h1.5v1.5h-1.5zM675.4 522.9h1.5v1.5h-1.5zM678.4 522.9h1.5v1.5h-1.5zM693.4 522.9h1.5v1.5h-1.5zM696.4 522.9h1.5v1.5h-1.5zM699.4 522.9h1.5v1.5h-1.5zM714.4 522.9h1.5v1.5h-1.5zM715.9 522.9h1.5v1.5h-1.5zM662.7 524.2h1.5v1.5h-1.5zM664.2 524.2h1.5v1.5h-1.5zM667.2 524.2h1.5v1.5h-1.5zM676.2 524.2h1.5v1.5h-1.5zM680.7 524.2h1.5v1.5h-1.5zM683.7 524.2h1.5v1.5h-1.5zM689.7 524.2h1.5v1.5h-1.5zM698.7 524.2h1.5v1.5h-1.5zM703.2 524.2h1.5v1.5h-1.5zM707.7 524.2h1.5v1.5h-1.5zM709.2 524.2h1.5v1.5h-1.5zM712.2 524.2h1.5v1.5h-1.5zM666.4 525.5h1.5v1.5h-1.5zM672.4 525.5h1.5v1.5h-1.5zM682.9 525.5h1.5v1.5h-1.5zM706.9 525.5h1.5v1.5h-1.5zM709.9 525.5h1.5v1.5h-1.5zM712.9 525.5h1.5v1.5h-1.5zM723.4 525.5h1.5v1.5h-1.5zM664.2 526.8h1.5v1.5h-1.5zM668.7 526.8h1.5v1.5h-1.5zM671.7 526.8h1.5v1.5h-1.5zM676.2 526.8h1.5v1.5h-1.5zM697.2 526.8h1.5v1.5h-1.5zM701.7 526.8h1.5v1.5h-1.5zM704.7 526.8h1.5v1.5h-1.5zM712.2 526.8h1.5v1.5h-1.5zM716.7 526.8h1.5v1.5h-1.5zM718.2 526.8h1.5v1.5h-1.5zM722.7 526.8h1.5v1.5h-1.5zM679.9 528.1h1.5v1.5h-1.5zM684.4 528.1h1.5v1.5h-1.5zM685.9 528.1h1.5v1.5h-1.5zM687.4 528.1h1.5v1.5h-1.5zM699.4 528.1h1.5v1.5h-1.5zM700.9 528.1h1.5v1.5h-1.5zM703.9 528.1h1.5v1.5h-1.5zM712.9 528.1h1.5v1.5h-1.5zM720.4 528.1h1.5v1.5h-1.5zM668.7 529.4h1.5v1.5h-1.5zM686.7 529.4h1.5v1.5h-1.5zM689.7 529.4h1.5v1.5h-1.5zM707.7 529.4h1.5v1.5h-1.5zM712.2 529.4h1.5v1.5h-1.5zM716.7 529.4h1.5v1.5h-1.5zM667.9 530.7h1.5v1.5h-1.5zM669.4 530.7h1.5v1.5h-1.5zM676.9 530.7h1.5v1.5h-1.5zM684.4 530.7h1.5v1.5h-1.5zM699.4 530.7h1.5v1.5h-1.5zM700.9 530.7h1.5v1.5h-1.5zM709.9 530.7h1.5v1.5h-1.5zM721.9 530.7h1.5v1.5h-1.5zM673.2 532h1.5v1.5h-1.5zM688.2 532h1.5v1.5h-1.5zM689.7 532h1.5v1.5h-1.5zM697.2 532h1.5v1.5h-1.5zM701.7 532h1.5v1.5h-1.5zM707.7 532h1.5v1.5h-1.5zM672.4 533.3h1.5v1.5h-1.5zM688.9 533.3h1.5v1.5h-1.5zM694.9 533.3h1.5v1.5h-1.5zM699.4 533.3h1.5v1.5h-1.5zM705.4 533.3h1.5v1.5h-1.5zM711.4 533.3h1.5v1.5h-1.5zM718.9 533.3h1.5v1.5h-1.5zM721.9 533.3h1.5v1.5h-1.5z" fill="#4ea443"/>
<path d="M652.2 505.9h1.5v1.5h-1.5zM655.2 505.9h1.5v1.5h-1.5zM656.7 505.9h1.5v1.5h-1.5zM646.9 507.2h1.5v1.5h-1.5zM658.9 507.2h1.5v1.5h-1.5zM650.7 508.5h1.5v1.5h-1.5zM652.2 508.5h1.5v1.5h-1.5zM653.7 508.5h1.5v1.5h-1.5zM646.9 509.8h1.5v1.5h-1.5zM651.4 509.8h1.5v1.5h-1.5zM654.4 509.8h1.5v1.5h-1.5zM655.9 509.8h1.5v1.5h-1.5zM657.4 509.8h1.5v1.5h-1.5zM658.9 509.8h1.5v1.5h-1.5zM660.4 509.8h1.5v1.5h-1.5zM664.9 509.8h1.5v1.5h-1.5zM649.2 511.1h1.5v1.5h-1.5zM650.7 511.1h1.5v1.5h-1.5zM652.2 511.1h1.5v1.5h-1.5zM653.7 511.1h1.5v1.5h-1.5zM656.7 511.1h1.5v1.5h-1.5zM658.2 511.1h1.5v1.5h-1.5zM659.7 511.1h1.5v1.5h-1.5zM661.2 511.1h1.5v1.5h-1.5zM643.9 512.4h1.5v1.5h-1.5zM648.4 512.4h1.5v1.5h-1.5zM651.4 512.4h1.5v1.5h-1.5zM652.9 512.4h1.5v1.5h-1.5zM654.4 512.4h1.5v1.5h-1.5zM655.9 512.4h1.5v1.5h-1.5zM658.9 512.4h1.5v1.5h-1.5zM660.4 512.4h1.5v1.5h-1.5zM661.9 512.4h1.5v1.5h-1.5zM663.4 512.4h1.5v1.5h-1.5zM643.2 513.7h1.5v1.5h-1.5zM646.2 513.7h1.5v1.5h-1.5zM650.7 513.7h1.5v1.5h-1.5zM652.2 513.7h1.5v1.5h-1.5zM653.7 513.7h1.5v1.5h-1.5zM655.2 513.7h1.5v1.5h-1.5zM656.7 513.7h1.5v1.5h-1.5zM658.2 513.7h1.5v1.5h-1.5zM659.7 513.7h1.5v1.5h-1.5zM661.2 513.7h1.5v1.5h-1.5zM664.2 513.7h1.5v1.5h-1.5zM640.9 515h1.5v1.5h-1.5zM645.4 515h1.5v1.5h-1.5zM648.4 515h1.5v1.5h-1.5zM651.4 515h1.5v1.5h-1.5zM654.4 515h1.5v1.5h-1.5zM657.4 515h1.5v1.5h-1.5zM658.9 515h1.5v1.5h-1.5zM661.9 515h1.5v1.5h-1.5zM663.4 515h1.5v1.5h-1.5zM664.9 515h1.5v1.5h-1.5zM666.4 515h1.5v1.5h-1.5zM649.2 516.4h1.5v1.5h-1.5zM650.7 516.4h1.5v1.5h-1.5zM652.2 516.4h1.5v1.5h-1.5zM653.7 516.4h1.5v1.5h-1.5zM655.2 516.4h1.5v1.5h-1.5zM656.7 516.4h1.5v1.5h-1.5zM658.2 516.4h1.5v1.5h-1.5zM659.7 516.4h1.5v1.5h-1.5zM661.2 516.4h1.5v1.5h-1.5zM643.9 517.7h1.5v1.5h-1.5zM648.4 517.7h1.5v1.5h-1.5zM649.9 517.7h1.5v1.5h-1.5zM651.4 517.7h1.5v1.5h-1.5zM652.9 517.7h1.5v1.5h-1.5zM654.4 517.7h1.5v1.5h-1.5zM655.9 517.7h1.5v1.5h-1.5zM657.4 517.7h1.5v1.5h-1.5zM658.9 517.7h1.5v1.5h-1.5zM664.9 517.7h1.5v1.5h-1.5zM644.7 519h1.5v1.5h-1.5zM646.2 519h1.5v1.5h-1.5zM647.7 519h1.5v1.5h-1.5zM649.2 519h1.5v1.5h-1.5zM650.7 519h1.5v1.5h-1.5zM655.2 519h1.5v1.5h-1.5zM656.7 519h1.5v1.5h-1.5zM658.2 519h1.5v1.5h-1.5zM659.7 519h1.5v1.5h-1.5zM661.2 519h1.5v1.5h-1.5zM662.7 519h1.5v1.5h-1.5zM664.2 519h1.5v1.5h-1.5zM667.2 519h1.5v1.5h-1.5zM646.9 520.3h1.5v1.5h-1.5zM648.4 520.3h1.5v1.5h-1.5zM651.4 520.3h1.5v1.5h-1.5zM652.9 520.3h1.5v1.5h-1.5zM654.4 520.3h1.5v1.5h-1.5zM658.9 520.3h1.5v1.5h-1.5zM660.4 520.3h1.5v1.5h-1.5zM661.9 520.3h1.5v1.5h-1.5zM663.4 520.3h1.5v1.5h-1.5zM664.9 520.3h1.5v1.5h-1.5zM667.9 520.3h1.5v1.5h-1.5zM641.7 521.6h1.5v1.5h-1.5zM646.2 521.6h1.5v1.5h-1.5zM647.7 521.6h1.5v1.5h-1.5zM649.2 521.6h1.5v1.5h-1.5zM652.2 521.6h1.5v1.5h-1.5zM653.7 521.6h1.5v1.5h-1.5zM655.2 521.6h1.5v1.5h-1.5zM656.7 521.6h1.5v1.5h-1.5zM658.2 521.6h1.5v1.5h-1.5zM659.7 521.6h1.5v1.5h-1.5zM661.2 521.6h1.5v1.5h-1.5zM662.7 521.6h1.5v1.5h-1.5zM646.9 522.9h1.5v1.5h-1.5zM649.9 522.9h1.5v1.5h-1.5zM651.4 522.9h1.5v1.5h-1.5zM654.4 522.9h1.5v1.5h-1.5zM655.9 522.9h1.5v1.5h-1.5zM657.4 522.9h1.5v1.5h-1.5zM658.9 522.9h1.5v1.5h-1.5zM660.4 522.9h1.5v1.5h-1.5zM661.9 522.9h1.5v1.5h-1.5zM663.4 522.9h1.5v1.5h-1.5zM666.4 522.9h1.5v1.5h-1.5zM644.7 524.2h1.5v1.5h-1.5zM650.7 524.2h1.5v1.5h-1.5zM652.2 524.2h1.5v1.5h-1.5zM653.7 524.2h1.5v1.5h-1.5zM656.7 524.2h1.5v1.5h-1.5zM662.7 524.2h1.5v1.5h-1.5zM646.9 525.5h1.5v1.5h-1.5zM648.4 525.5h1.5v1.5h-1.5zM651.4 525.5h1.5v1.5h-1.5zM652.9 525.5h1.5v1.5h-1.5zM655.9 525.5h1.5v1.5h-1.5zM658.9 525.5h1.5v1.5h-1.5zM649.2 526.8h1.5v1.5h-1.5zM652.2 526.8h1.5v1.5h-1.5zM655.2 526.8h1.5v1.5h-1.5zM656.7 526.8h1.5v1.5h-1.5zM658.2 526.8h1.5v1.5h-1.5z" fill="#8c6a22"/>
<path d="M653.7 511.1h1.5v1.5h-1.5zM655.2 511.1h1.5v1.5h-1.5zM656.7 511.1h1.5v1.5h-1.5zM652.9 512.4h1.5v1.5h-1.5zM654.4 512.4h1.5v1.5h-1.5zM655.9 512.4h1.5v1.5h-1.5zM657.4 512.4h1.5v1.5h-1.5zM652.2 513.7h1.5v1.5h-1.5zM653.7 513.7h1.5v1.5h-1.5zM655.2 513.7h1.5v1.5h-1.5zM656.7 513.7h1.5v1.5h-1.5zM658.2 513.7h1.5v1.5h-1.5zM659.7 513.7h1.5v1.5h-1.5zM654.4 515h1.5v1.5h-1.5zM655.9 515h1.5v1.5h-1.5zM657.4 515h1.5v1.5h-1.5zM653.7 516.4h1.5v1.5h-1.5zM656.7 516.4h1.5v1.5h-1.5zM658.2 516.4h1.5v1.5h-1.5zM667.2 526.8h1.5v1.5h-1.5zM670.2 526.8h1.5v1.5h-1.5zM671.7 526.8h1.5v1.5h-1.5zM667.9 528.1h1.5v1.5h-1.5zM669.4 528.1h1.5v1.5h-1.5zM670.9 528.1h1.5v1.5h-1.5zM672.4 528.1h1.5v1.5h-1.5zM673.9 528.1h1.5v1.5h-1.5zM667.2 529.4h1.5v1.5h-1.5zM668.7 529.4h1.5v1.5h-1.5zM670.2 529.4h1.5v1.5h-1.5zM671.7 529.4h1.5v1.5h-1.5zM673.2 529.4h1.5v1.5h-1.5zM667.9 530.7h1.5v1.5h-1.5zM669.4 530.7h1.5v1.5h-1.5zM670.9 530.7h1.5v1.5h-1.5zM672.4 530.7h1.5v1.5h-1.5zM673.9 530.7h1.5v1.5h-1.5zM668.7 532h1.5v1.5h-1.5zM670.2 532h1.5v1.5h-1.5zM671.7 532h1.5v1.5h-1.5zM673.2 532h1.5v1.5h-1.5zM669.4 533.3h1.5v1.5h-1.5zM670.9 533.3h1.5v1.5h-1.5zM672.4 533.3h1.5v1.5h-1.5zM697.9 530.7h1.5v1.5h-1.5zM699.4 530.7h1.5v1.5h-1.5zM695.7 532h1.5v1.5h-1.5zM697.2 532h1.5v1.5h-1.5zM698.7 532h1.5v1.5h-1.5zM700.2 532h1.5v1.5h-1.5zM701.7 532h1.5v1.5h-1.5zM696.4 533.3h1.5v1.5h-1.5zM697.9 533.3h1.5v1.5h-1.5zM699.4 533.3h1.5v1.5h-1.5zM700.9 533.3h1.5v1.5h-1.5zM695.7 534.6h1.5v1.5h-1.5zM697.2 534.6h1.5v1.5h-1.5zM698.7 534.6h1.5v1.5h-1.5zM700.2 534.6h1.5v1.5h-1.5zM697.9 535.9h1.5v1.5h-1.5zM699.4 535.9h1.5v1.5h-1.5zM677.7 526.8h1.5v1.5h-1.5zM679.2 526.8h1.5v1.5h-1.5zM680.7 526.8h1.5v1.5h-1.5zM682.2 526.8h1.5v1.5h-1.5zM678.4 528.1h1.5v1.5h-1.5zM679.9 528.1h1.5v1.5h-1.5zM681.4 528.1h1.5v1.5h-1.5zM682.9 528.1h1.5v1.5h-1.5zM679.2 529.4h1.5v1.5h-1.5zM680.7 529.4h1.5v1.5h-1.5zM668.7 513.7h1.5v1.5h-1.5zM666.4 515h1.5v1.5h-1.5zM667.9 515h1.5v1.5h-1.5zM669.4 515h1.5v1.5h-1.5zM665.7 516.4h1.5v1.5h-1.5zM667.2 516.4h1.5v1.5h-1.5zM668.7 516.4h1.5v1.5h-1.5zM666.4 517.7h1.5v1.5h-1.5zM667.9 517.7h1.5v1.5h-1.5zM669.4 517.7h1.5v1.5h-1.5zM667.2 519h1.5v1.5h-1.5zM670.2 519h1.5v1.5h-1.5zM661.8 543.2h1.5v1.5h-1.5zM681.8 541.9h1.5v1.5h-1.5zM709.5 561.5h1.5v1.5h-1.5zM662.8 552.4h1.5v1.5h-1.5zM669.7 560h1.5v1.5h-1.5zM715.2 562.2h1.5v1.5h-1.5zM660.6 536.4h1.5v1.5h-1.5zM656.4 551.4h1.5v1.5h-1.5zM700.5 550.4h1.5v1.5h-1.5zM709.8 545.9h1.5v1.5h-1.5zM681.2 549.3h1.5v1.5h-1.5zM706.4 552.2h1.5v1.5h-1.5zM677 546.1h1.5v1.5h-1.5zM716.7 548.4h1.5v1.5h-1.5z" fill="#3c8c4e"/>
<circle cx="636" cy="457.9" r="3.6" fill="#b48484"/>
<circle cx="649.8" cy="457.9" r="3.6" fill="#4e6a2c"/>
<circle cx="661" cy="457.9" r="3.6" fill="#4ea443"/>
<circle cx="674.7" cy="457.9" r="3.6" fill="#3c8c4e"/>
<circle cx="687.6" cy="457.9" r="3.6" fill="#8c6a22"/>
<text x="635.3" y="472.4" font-size="9.9" fill="#1f1f2a">Cancer cell 1,5,6,7,9</text>
<rect x="747.7" y="447.4" width="105.6" height="124.1" fill="#7ccbea"/>
<rect x="753.2" y="452.9" width="94.6" height="113.1" fill="#fff"/>
<rect x="754.5" y="476.3" width="93.2" height="88.5" fill="#d7c6d8"/>
<polygon points="754.5,476.3 758.5,476.3 759.5,496.3 761.5,514.3 759.5,539.8 757.5,556.8 754.5,564.8" fill="#ede4ee" filter="url(#bl1)"/>
<polygon points="819.7,564.8 821.7,555.8 829.7,549.8 837.7,552.8 843.7,546.8 847.7,545.8 847.7,564.8" fill="#f4eff5" filter="url(#bl1)"/>
<polygon points="825.7,476.3 847.7,476.3 847.7,498.3 842.7,483.3" fill="#e4dae6" filter="url(#bl1)"/>
<path d="M830.5 496.2h1.5v1.5h-1.5zM833.5 496.2h1.5v1.5h-1.5zM838 498.8h1.5v1.5h-1.5zM822.3 505.3h1.5v1.5h-1.5zM829 506.6h1.5v1.5h-1.5zM827.5 509.2h1.5v1.5h-1.5zM829 511.8h1.5v1.5h-1.5zM817.8 513.1h1.5v1.5h-1.5zM826.8 513.1h1.5v1.5h-1.5zM818.5 514.4h1.5v1.5h-1.5zM816.3 521h1.5v1.5h-1.5zM819.3 521h1.5v1.5h-1.5zM818.5 522.3h1.5v1.5h-1.5zM821.5 522.3h1.5v1.5h-1.5zM805 524.9h1.5v1.5h-1.5zM806.5 524.9h1.5v1.5h-1.5zM809.5 524.9h1.5v1.5h-1.5zM810.3 526.2h1.5v1.5h-1.5zM805 527.5h1.5v1.5h-1.5zM802.8 528.8h1.5v1.5h-1.5zM804.3 528.8h1.5v1.5h-1.5zM807.3 528.8h1.5v1.5h-1.5zM802 530.1h1.5v1.5h-1.5zM805 530.1h1.5v1.5h-1.5zM806.5 530.1h1.5v1.5h-1.5zM811 530.1h1.5v1.5h-1.5zM817 530.1h1.5v1.5h-1.5zM799.8 531.4h1.5v1.5h-1.5zM802.8 531.4h1.5v1.5h-1.5zM794.5 532.7h1.5v1.5h-1.5zM797.5 532.7h1.5v1.5h-1.5zM799 532.7h1.5v1.5h-1.5zM800.5 532.7h1.5v1.5h-1.5zM802 532.7h1.5v1.5h-1.5zM806.5 532.7h1.5v1.5h-1.5zM808 532.7h1.5v1.5h-1.5zM814 532.7h1.5v1.5h-1.5zM795.3 534h1.5v1.5h-1.5zM799.8 534h1.5v1.5h-1.5zM801.3 534h1.5v1.5h-1.5zM802.8 534h1.5v1.5h-1.5zM804.3 534h1.5v1.5h-1.5zM805.8 534h1.5v1.5h-1.5zM807.3 534h1.5v1.5h-1.5zM808.8 534h1.5v1.5h-1.5zM810.3 534h1.5v1.5h-1.5zM811.8 534h1.5v1.5h-1.5zM813.3 534h1.5v1.5h-1.5zM817.8 534h1.5v1.5h-1.5zM790 535.3h1.5v1.5h-1.5zM791.5 535.3h1.5v1.5h-1.5zM793 535.3h1.5v1.5h-1.5zM796 535.3h1.5v1.5h-1.5zM797.5 535.3h1.5v1.5h-1.5zM799 535.3h1.5v1.5h-1.5zM800.5 535.3h1.5v1.5h-1.5zM802 535.3h1.5v1.5h-1.5zM803.5 535.3h1.5v1.5h-1.5zM806.5 535.3h1.5v1.5h-1.5zM808 535.3h1.5v1.5h-1.5zM811 535.3h1.5v1.5h-1.5zM787.8 536.6h1.5v1.5h-1.5zM789.3 536.6h1.5v1.5h-1.5zM790.8 536.6h1.5v1.5h-1.5zM796.8 536.6h1.5v1.5h-1.5zM798.3 536.6h1.5v1.5h-1.5zM801.3 536.6h1.5v1.5h-1.5zM802.8 536.6h1.5v1.5h-1.5zM804.3 536.6h1.5v1.5h-1.5zM810.3 536.6h1.5v1.5h-1.5zM811.8 536.6h1.5v1.5h-1.5zM788.5 537.9h1.5v1.5h-1.5zM790 537.9h1.5v1.5h-1.5zM791.5 537.9h1.5v1.5h-1.5zM794.5 537.9h1.5v1.5h-1.5zM796 537.9h1.5v1.5h-1.5zM797.5 537.9h1.5v1.5h-1.5zM800.5 537.9h1.5v1.5h-1.5zM802 537.9h1.5v1.5h-1.5zM803.5 537.9h1.5v1.5h-1.5zM805 537.9h1.5v1.5h-1.5zM806.5 537.9h1.5v1.5h-1.5zM808 537.9h1.5v1.5h-1.5zM809.5 537.9h1.5v1.5h-1.5zM812.5 537.9h1.5v1.5h-1.5zM780.3 539.2h1.5v1.5h-1.5zM781.8 539.2h1.5v1.5h-1.5zM786.3 539.2h1.5v1.5h-1.5zM789.3 539.2h1.5v1.5h-1.5zM792.3 539.2h1.5v1.5h-1.5zM793.8 539.2h1.5v1.5h-1.5zM795.3 539.2h1.5v1.5h-1.5zM796.8 539.2h1.5v1.5h-1.5zM798.3 539.2h1.5v1.5h-1.5zM799.8 539.2h1.5v1.5h-1.5zM801.3 539.2h1.5v1.5h-1.5zM802.8 539.2h1.5v1.5h-1.5zM805.8 539.2h1.5v1.5h-1.5zM807.3 539.2h1.5v1.5h-1.5zM808.8 539.2h1.5v1.5h-1.5zM811.8 539.2h1.5v1.5h-1.5zM813.3 539.2h1.5v1.5h-1.5zM776.5 540.5h1.5v1.5h-1.5zM778 540.5h1.5v1.5h-1.5zM781 540.5h1.5v1.5h-1.5zM791.5 540.5h1.5v1.5h-1.5zM793 540.5h1.5v1.5h-1.5zM802 540.5h1.5v1.5h-1.5zM803.5 540.5h1.5v1.5h-1.5zM806.5 540.5h1.5v1.5h-1.5zM808 540.5h1.5v1.5h-1.5zM809.5 540.5h1.5v1.5h-1.5zM811 540.5h1.5v1.5h-1.5zM812.5 540.5h1.5v1.5h-1.5zM778.8 541.8h1.5v1.5h-1.5zM781.8 541.8h1.5v1.5h-1.5zM783.3 541.8h1.5v1.5h-1.5zM784.8 541.8h1.5v1.5h-1.5zM786.3 541.8h1.5v1.5h-1.5zM789.3 541.8h1.5v1.5h-1.5zM793.8 541.8h1.5v1.5h-1.5zM795.3 541.8h1.5v1.5h-1.5zM796.8 541.8h1.5v1.5h-1.5zM798.3 541.8h1.5v1.5h-1.5zM799.8 541.8h1.5v1.5h-1.5zM802.8 541.8h1.5v1.5h-1.5zM805.8 541.8h1.5v1.5h-1.5zM807.3 541.8h1.5v1.5h-1.5zM808.8 541.8h1.5v1.5h-1.5zM810.3 541.8h1.5v1.5h-1.5zM811.8 541.8h1.5v1.5h-1.5zM813.3 541.8h1.5v1.5h-1.5zM775 543.2h1.5v1.5h-1.5zM776.5 543.2h1.5v1.5h-1.5zM778 543.2h1.5v1.5h-1.5zM779.5 543.2h1.5v1.5h-1.5zM781 543.2h1.5v1.5h-1.5zM784 543.2h1.5v1.5h-1.5zM785.5 543.2h1.5v1.5h-1.5zM787 543.2h1.5v1.5h-1.5zM788.5 543.2h1.5v1.5h-1.5zM793 543.2h1.5v1.5h-1.5zM796 543.2h1.5v1.5h-1.5zM797.5 543.2h1.5v1.5h-1.5zM803.5 543.2h1.5v1.5h-1.5zM805 543.2h1.5v1.5h-1.5zM806.5 543.2h1.5v1.5h-1.5zM808 543.2h1.5v1.5h-1.5zM769.8 544.5h1.5v1.5h-1.5zM774.3 544.5h1.5v1.5h-1.5zM777.3 544.5h1.5v1.5h-1.5zM780.3 544.5h1.5v1.5h-1.5zM781.8 544.5h1.5v1.5h-1.5zM784.8 544.5h1.5v1.5h-1.5zM786.3 544.5h1.5v1.5h-1.5zM787.8 544.5h1.5v1.5h-1.5zM790.8 544.5h1.5v1.5h-1.5zM793.8 544.5h1.5v1.5h-1.5zM795.3 544.5h1.5v1.5h-1.5zM796.8 544.5h1.5v1.5h-1.5zM798.3 544.5h1.5v1.5h-1.5zM801.3 544.5h1.5v1.5h-1.5zM804.3 544.5h1.5v1.5h-1.5zM808.8 544.5h1.5v1.5h-1.5zM776.5 545.8h1.5v1.5h-1.5zM778 545.8h1.5v1.5h-1.5zM779.5 545.8h1.5v1.5h-1.5zM781 545.8h1.5v1.5h-1.5zM782.5 545.8h1.5v1.5h-1.5zM785.5 545.8h1.5v1.5h-1.5zM788.5 545.8h1.5v1.5h-1.5zM790 545.8h1.5v1.5h-1.5zM791.5 545.8h1.5v1.5h-1.5zM794.5 545.8h1.5v1.5h-1.5zM799 545.8h1.5v1.5h-1.5zM805 545.8h1.5v1.5h-1.5zM808 545.8h1.5v1.5h-1.5zM811 545.8h1.5v1.5h-1.5zM768.3 547.1h1.5v1.5h-1.5zM771.3 547.1h1.5v1.5h-1.5zM778.8 547.1h1.5v1.5h-1.5zM780.3 547.1h1.5v1.5h-1.5zM781.8 547.1h1.5v1.5h-1.5zM787.8 547.1h1.5v1.5h-1.5zM790.8 547.1h1.5v1.5h-1.5zM793.8 547.1h1.5v1.5h-1.5zM796.8 547.1h1.5v1.5h-1.5zM798.3 547.1h1.5v1.5h-1.5zM767.5 548.4h1.5v1.5h-1.5zM770.5 548.4h1.5v1.5h-1.5zM772 548.4h1.5v1.5h-1.5zM775 548.4h1.5v1.5h-1.5zM776.5 548.4h1.5v1.5h-1.5zM779.5 548.4h1.5v1.5h-1.5zM782.5 548.4h1.5v1.5h-1.5zM784 548.4h1.5v1.5h-1.5zM787 548.4h1.5v1.5h-1.5zM788.5 548.4h1.5v1.5h-1.5zM790 548.4h1.5v1.5h-1.5zM791.5 548.4h1.5v1.5h-1.5zM794.5 548.4h1.5v1.5h-1.5zM796 548.4h1.5v1.5h-1.5zM799 548.4h1.5v1.5h-1.5zM802 548.4h1.5v1.5h-1.5zM769.8 549.7h1.5v1.5h-1.5zM772.8 549.7h1.5v1.5h-1.5zM774.3 549.7h1.5v1.5h-1.5zM775.8 549.7h1.5v1.5h-1.5zM778.8 549.7h1.5v1.5h-1.5zM781.8 549.7h1.5v1.5h-1.5zM783.3 549.7h1.5v1.5h-1.5zM786.3 549.7h1.5v1.5h-1.5zM787.8 549.7h1.5v1.5h-1.5zM789.3 549.7h1.5v1.5h-1.5zM790.8 549.7h1.5v1.5h-1.5zM792.3 549.7h1.5v1.5h-1.5zM793.8 549.7h1.5v1.5h-1.5zM795.3 549.7h1.5v1.5h-1.5zM796.8 549.7h1.5v1.5h-1.5zM802.8 549.7h1.5v1.5h-1.5zM766 551h1.5v1.5h-1.5zM772 551h1.5v1.5h-1.5zM773.5 551h1.5v1.5h-1.5zM778 551h1.5v1.5h-1.5zM779.5 551h1.5v1.5h-1.5zM781 551h1.5v1.5h-1.5zM782.5 551h1.5v1.5h-1.5zM784 551h1.5v1.5h-1.5zM787 551h1.5v1.5h-1.5zM788.5 551h1.5v1.5h-1.5zM790 551h1.5v1.5h-1.5zM791.5 551h1.5v1.5h-1.5zM793 551h1.5v1.5h-1.5zM794.5 551h1.5v1.5h-1.5zM765.3 552.3h1.5v1.5h-1.5zM766.8 552.3h1.5v1.5h-1.5zM768.3 552.3h1.5v1.5h-1.5zM769.8 552.3h1.5v1.5h-1.5zM771.3 552.3h1.5v1.5h-1.5zM774.3 552.3h1.5v1.5h-1.5zM775.8 552.3h1.5v1.5h-1.5zM777.3 552.3h1.5v1.5h-1.5zM780.3 552.3h1.5v1.5h-1.5zM781.8 552.3h1.5v1.5h-1.5zM783.3 552.3h1.5v1.5h-1.5zM784.8 552.3h1.5v1.5h-1.5zM787.8 552.3h1.5v1.5h-1.5zM789.3 552.3h1.5v1.5h-1.5zM790.8 552.3h1.5v1.5h-1.5zM792.3 552.3h1.5v1.5h-1.5zM795.3 552.3h1.5v1.5h-1.5zM796.8 552.3h1.5v1.5h-1.5zM763 553.6h1.5v1.5h-1.5zM769 553.6h1.5v1.5h-1.5zM772 553.6h1.5v1.5h-1.5zM773.5 553.6h1.5v1.5h-1.5zM775 553.6h1.5v1.5h-1.5zM776.5 553.6h1.5v1.5h-1.5zM778 553.6h1.5v1.5h-1.5zM779.5 553.6h1.5v1.5h-1.5zM781 553.6h1.5v1.5h-1.5zM782.5 553.6h1.5v1.5h-1.5zM784 553.6h1.5v1.5h-1.5zM787 553.6h1.5v1.5h-1.5zM790 553.6h1.5v1.5h-1.5zM791.5 553.6h1.5v1.5h-1.5zM799 553.6h1.5v1.5h-1.5zM762.3 554.9h1.5v1.5h-1.5zM765.3 554.9h1.5v1.5h-1.5zM766.8 554.9h1.5v1.5h-1.5zM768.3 554.9h1.5v1.5h-1.5zM771.3 554.9h1.5v1.5h-1.5zM772.8 554.9h1.5v1.5h-1.5zM774.3 554.9h1.5v1.5h-1.5zM775.8 554.9h1.5v1.5h-1.5zM777.3 554.9h1.5v1.5h-1.5zM781.8 554.9h1.5v1.5h-1.5zM783.3 554.9h1.5v1.5h-1.5zM784.8 554.9h1.5v1.5h-1.5zM786.3 554.9h1.5v1.5h-1.5zM789.3 554.9h1.5v1.5h-1.5zM793.8 554.9h1.5v1.5h-1.5zM764.5 556.2h1.5v1.5h-1.5zM766 556.2h1.5v1.5h-1.5zM769 556.2h1.5v1.5h-1.5zM770.5 556.2h1.5v1.5h-1.5zM772 556.2h1.5v1.5h-1.5zM773.5 556.2h1.5v1.5h-1.5zM775 556.2h1.5v1.5h-1.5zM781 556.2h1.5v1.5h-1.5zM782.5 556.2h1.5v1.5h-1.5zM784 556.2h1.5v1.5h-1.5zM788.5 556.2h1.5v1.5h-1.5zM790 556.2h1.5v1.5h-1.5zM791.5 556.2h1.5v1.5h-1.5zM796 556.2h1.5v1.5h-1.5zM797.5 556.2h1.5v1.5h-1.5zM762.3 557.5h1.5v1.5h-1.5zM765.3 557.5h1.5v1.5h-1.5zM766.8 557.5h1.5v1.5h-1.5zM769.8 557.5h1.5v1.5h-1.5zM772.8 557.5h1.5v1.5h-1.5zM775.8 557.5h1.5v1.5h-1.5zM777.3 557.5h1.5v1.5h-1.5zM778.8 557.5h1.5v1.5h-1.5zM780.3 557.5h1.5v1.5h-1.5zM781.8 557.5h1.5v1.5h-1.5zM783.3 557.5h1.5v1.5h-1.5zM786.3 557.5h1.5v1.5h-1.5zM787.8 557.5h1.5v1.5h-1.5zM795.3 557.5h1.5v1.5h-1.5zM761.5 558.8h1.5v1.5h-1.5zM763 558.8h1.5v1.5h-1.5zM764.5 558.8h1.5v1.5h-1.5zM766 558.8h1.5v1.5h-1.5zM769 558.8h1.5v1.5h-1.5zM770.5 558.8h1.5v1.5h-1.5zM773.5 558.8h1.5v1.5h-1.5zM776.5 558.8h1.5v1.5h-1.5zM778 558.8h1.5v1.5h-1.5zM779.5 558.8h1.5v1.5h-1.5zM781 558.8h1.5v1.5h-1.5zM782.5 558.8h1.5v1.5h-1.5zM784 558.8h1.5v1.5h-1.5zM787 558.8h1.5v1.5h-1.5zM760.8 560.1h1.5v1.5h-1.5zM765.3 560.1h1.5v1.5h-1.5zM766.8 560.1h1.5v1.5h-1.5zM768.3 560.1h1.5v1.5h-1.5zM769.8 560.1h1.5v1.5h-1.5zM772.8 560.1h1.5v1.5h-1.5zM775.8 560.1h1.5v1.5h-1.5zM777.3 560.1h1.5v1.5h-1.5zM778.8 560.1h1.5v1.5h-1.5zM783.3 560.1h1.5v1.5h-1.5zM786.3 560.1h1.5v1.5h-1.5zM787.8 560.1h1.5v1.5h-1.5zM789.3 560.1h1.5v1.5h-1.5zM758.5 561.4h1.5v1.5h-1.5zM761.5 561.4h1.5v1.5h-1.5zM763 561.4h1.5v1.5h-1.5zM764.5 561.4h1.5v1.5h-1.5zM769 561.4h1.5v1.5h-1.5zM770.5 561.4h1.5v1.5h-1.5zM776.5 561.4h1.5v1.5h-1.5zM781 561.4h1.5v1.5h-1.5zM759.3 562.7h1.5v1.5h-1.5zM760.8 562.7h1.5v1.5h-1.5zM762.3 562.7h1.5v1.5h-1.5zM763.8 562.7h1.5v1.5h-1.5zM765.3 562.7h1.5v1.5h-1.5zM769.8 562.7h1.5v1.5h-1.5zM772.8 562.7h1.5v1.5h-1.5zM775.8 562.7h1.5v1.5h-1.5zM784.8 562.7h1.5v1.5h-1.5z" fill="#c07830"/>
<circle cx="764.9" cy="464.1" r="4.2" fill="#c07830"/>
<text x="772.3" y="468.6" font-size="11.8" fill="#1f1f2a">Cancer cell 2</text>
<rect x="867.1" y="447.1" width="109.7" height="124.3" fill="#f0a868"/>
<rect x="869.7" y="449.7" width="104.5" height="119.1" fill="#c89a48"/>
<rect x="873.3" y="453.3" width="97.3" height="111.9" fill="#52ab8a"/>
<rect x="875.1" y="455.1" width="93.7" height="108.3" fill="#fff"/>
<rect x="877.7" y="476.3" width="90" height="86.9" fill="#d7c6d8"/>
<polygon points="877.7,476.3 881.7,476.3 882.7,496.3 884.7,514.3 882.7,538.2 880.7,555.2 877.7,563.2" fill="#ede4ee" filter="url(#bl1)"/>
<polygon points="939.7,563.2 941.7,554.2 949.7,548.2 957.7,551.2 963.7,545.2 967.7,544.2 967.7,563.2" fill="#f4eff5" filter="url(#bl1)"/>
<polygon points="945.7,476.3 967.7,476.3 967.7,498.3 962.7,483.3" fill="#e4dae6" filter="url(#bl1)"/>
<path d="M949.2 501.4h1.5v1.5h-1.5zM947 502.7h1.5v1.5h-1.5zM950 502.7h1.5v1.5h-1.5zM954.5 502.7h1.5v1.5h-1.5zM956 502.7h1.5v1.5h-1.5zM946.2 504h1.5v1.5h-1.5zM949.2 504h1.5v1.5h-1.5zM955.2 504h1.5v1.5h-1.5zM962.8 504h1.5v1.5h-1.5zM945.5 505.3h1.5v1.5h-1.5zM947 505.3h1.5v1.5h-1.5zM948.5 505.3h1.5v1.5h-1.5zM950 505.3h1.5v1.5h-1.5zM953 505.3h1.5v1.5h-1.5zM954.5 505.3h1.5v1.5h-1.5zM957.5 505.3h1.5v1.5h-1.5zM959 505.3h1.5v1.5h-1.5zM960.5 505.3h1.5v1.5h-1.5zM963.5 505.3h1.5v1.5h-1.5zM940.2 506.6h1.5v1.5h-1.5zM943.2 506.6h1.5v1.5h-1.5zM944.8 506.6h1.5v1.5h-1.5zM947.8 506.6h1.5v1.5h-1.5zM949.2 506.6h1.5v1.5h-1.5zM952.2 506.6h1.5v1.5h-1.5zM953.8 506.6h1.5v1.5h-1.5zM956.8 506.6h1.5v1.5h-1.5zM959.8 506.6h1.5v1.5h-1.5zM962.8 506.6h1.5v1.5h-1.5zM944 507.9h1.5v1.5h-1.5zM945.5 507.9h1.5v1.5h-1.5zM948.5 507.9h1.5v1.5h-1.5zM950 507.9h1.5v1.5h-1.5zM951.5 507.9h1.5v1.5h-1.5zM954.5 507.9h1.5v1.5h-1.5zM956 507.9h1.5v1.5h-1.5zM957.5 507.9h1.5v1.5h-1.5zM959 507.9h1.5v1.5h-1.5zM960.5 507.9h1.5v1.5h-1.5zM963.5 507.9h1.5v1.5h-1.5zM937.2 509.2h1.5v1.5h-1.5zM943.2 509.2h1.5v1.5h-1.5zM944.8 509.2h1.5v1.5h-1.5zM946.2 509.2h1.5v1.5h-1.5zM947.8 509.2h1.5v1.5h-1.5zM949.2 509.2h1.5v1.5h-1.5zM950.8 509.2h1.5v1.5h-1.5zM952.2 509.2h1.5v1.5h-1.5zM953.8 509.2h1.5v1.5h-1.5zM956.8 509.2h1.5v1.5h-1.5zM958.2 509.2h1.5v1.5h-1.5zM964.2 509.2h1.5v1.5h-1.5zM918.5 510.5h1.5v1.5h-1.5zM933.5 510.5h1.5v1.5h-1.5zM945.5 510.5h1.5v1.5h-1.5zM947 510.5h1.5v1.5h-1.5zM948.5 510.5h1.5v1.5h-1.5zM950 510.5h1.5v1.5h-1.5zM951.5 510.5h1.5v1.5h-1.5zM953 510.5h1.5v1.5h-1.5zM954.5 510.5h1.5v1.5h-1.5zM956 510.5h1.5v1.5h-1.5zM957.5 510.5h1.5v1.5h-1.5zM959 510.5h1.5v1.5h-1.5zM960.5 510.5h1.5v1.5h-1.5zM962 510.5h1.5v1.5h-1.5zM932.8 511.8h1.5v1.5h-1.5zM934.2 511.8h1.5v1.5h-1.5zM940.2 511.8h1.5v1.5h-1.5zM943.2 511.8h1.5v1.5h-1.5zM944.8 511.8h1.5v1.5h-1.5zM946.2 511.8h1.5v1.5h-1.5zM947.8 511.8h1.5v1.5h-1.5zM949.2 511.8h1.5v1.5h-1.5zM950.8 511.8h1.5v1.5h-1.5zM952.2 511.8h1.5v1.5h-1.5zM953.8 511.8h1.5v1.5h-1.5zM955.2 511.8h1.5v1.5h-1.5zM958.2 511.8h1.5v1.5h-1.5zM959.8 511.8h1.5v1.5h-1.5zM962.8 511.8h1.5v1.5h-1.5zM965.8 511.8h1.5v1.5h-1.5zM923 513.1h1.5v1.5h-1.5zM927.5 513.1h1.5v1.5h-1.5zM941 513.1h1.5v1.5h-1.5zM945.5 513.1h1.5v1.5h-1.5zM947 513.1h1.5v1.5h-1.5zM948.5 513.1h1.5v1.5h-1.5zM950 513.1h1.5v1.5h-1.5zM951.5 513.1h1.5v1.5h-1.5zM953 513.1h1.5v1.5h-1.5zM956 513.1h1.5v1.5h-1.5zM959 513.1h1.5v1.5h-1.5zM963.5 513.1h1.5v1.5h-1.5zM914.8 514.4h1.5v1.5h-1.5zM916.2 514.4h1.5v1.5h-1.5zM917.8 514.4h1.5v1.5h-1.5zM922.2 514.4h1.5v1.5h-1.5zM925.2 514.4h1.5v1.5h-1.5zM928.2 514.4h1.5v1.5h-1.5zM929.8 514.4h1.5v1.5h-1.5zM937.2 514.4h1.5v1.5h-1.5zM938.8 514.4h1.5v1.5h-1.5zM943.2 514.4h1.5v1.5h-1.5zM944.8 514.4h1.5v1.5h-1.5zM946.2 514.4h1.5v1.5h-1.5zM947.8 514.4h1.5v1.5h-1.5zM949.2 514.4h1.5v1.5h-1.5zM953.8 514.4h1.5v1.5h-1.5zM955.2 514.4h1.5v1.5h-1.5zM958.2 514.4h1.5v1.5h-1.5zM959.8 514.4h1.5v1.5h-1.5zM961.2 514.4h1.5v1.5h-1.5zM964.2 514.4h1.5v1.5h-1.5zM908 515.8h1.5v1.5h-1.5zM914 515.8h1.5v1.5h-1.5zM917 515.8h1.5v1.5h-1.5zM918.5 515.8h1.5v1.5h-1.5zM920 515.8h1.5v1.5h-1.5zM921.5 515.8h1.5v1.5h-1.5zM924.5 515.8h1.5v1.5h-1.5zM927.5 515.8h1.5v1.5h-1.5zM929 515.8h1.5v1.5h-1.5zM930.5 515.8h1.5v1.5h-1.5zM932 515.8h1.5v1.5h-1.5zM935 515.8h1.5v1.5h-1.5zM936.5 515.8h1.5v1.5h-1.5zM938 515.8h1.5v1.5h-1.5zM941 515.8h1.5v1.5h-1.5zM944 515.8h1.5v1.5h-1.5zM948.5 515.8h1.5v1.5h-1.5zM950 515.8h1.5v1.5h-1.5zM951.5 515.8h1.5v1.5h-1.5zM954.5 515.8h1.5v1.5h-1.5zM956 515.8h1.5v1.5h-1.5zM957.5 515.8h1.5v1.5h-1.5zM959 515.8h1.5v1.5h-1.5zM904.2 517.1h1.5v1.5h-1.5zM907.2 517.1h1.5v1.5h-1.5zM908.8 517.1h1.5v1.5h-1.5zM910.2 517.1h1.5v1.5h-1.5zM913.2 517.1h1.5v1.5h-1.5zM916.2 517.1h1.5v1.5h-1.5zM919.2 517.1h1.5v1.5h-1.5zM920.8 517.1h1.5v1.5h-1.5zM923.8 517.1h1.5v1.5h-1.5zM925.2 517.1h1.5v1.5h-1.5zM926.8 517.1h1.5v1.5h-1.5zM931.2 517.1h1.5v1.5h-1.5zM934.2 517.1h1.5v1.5h-1.5zM935.8 517.1h1.5v1.5h-1.5zM937.2 517.1h1.5v1.5h-1.5zM938.8 517.1h1.5v1.5h-1.5zM941.8 517.1h1.5v1.5h-1.5zM943.2 517.1h1.5v1.5h-1.5zM944.8 517.1h1.5v1.5h-1.5zM947.8 517.1h1.5v1.5h-1.5zM949.2 517.1h1.5v1.5h-1.5zM950.8 517.1h1.5v1.5h-1.5zM953.8 517.1h1.5v1.5h-1.5zM955.2 517.1h1.5v1.5h-1.5zM956.8 517.1h1.5v1.5h-1.5zM958.2 517.1h1.5v1.5h-1.5zM959.8 517.1h1.5v1.5h-1.5zM961.2 517.1h1.5v1.5h-1.5zM964.2 517.1h1.5v1.5h-1.5zM965.8 517.1h1.5v1.5h-1.5zM908 518.4h1.5v1.5h-1.5zM914 518.4h1.5v1.5h-1.5zM917 518.4h1.5v1.5h-1.5zM920 518.4h1.5v1.5h-1.5zM926 518.4h1.5v1.5h-1.5zM929 518.4h1.5v1.5h-1.5zM932 518.4h1.5v1.5h-1.5zM935 518.4h1.5v1.5h-1.5zM936.5 518.4h1.5v1.5h-1.5zM938 518.4h1.5v1.5h-1.5zM941 518.4h1.5v1.5h-1.5zM944 518.4h1.5v1.5h-1.5zM945.5 518.4h1.5v1.5h-1.5zM947 518.4h1.5v1.5h-1.5zM950 518.4h1.5v1.5h-1.5zM951.5 518.4h1.5v1.5h-1.5zM953 518.4h1.5v1.5h-1.5zM956 518.4h1.5v1.5h-1.5zM962 518.4h1.5v1.5h-1.5zM963.5 518.4h1.5v1.5h-1.5zM965 518.4h1.5v1.5h-1.5zM895.2 519.7h1.5v1.5h-1.5zM905.8 519.7h1.5v1.5h-1.5zM908.8 519.7h1.5v1.5h-1.5zM910.2 519.7h1.5v1.5h-1.5zM911.8 519.7h1.5v1.5h-1.5zM913.2 519.7h1.5v1.5h-1.5zM916.2 519.7h1.5v1.5h-1.5zM919.2 519.7h1.5v1.5h-1.5zM920.8 519.7h1.5v1.5h-1.5zM923.8 519.7h1.5v1.5h-1.5zM926.8 519.7h1.5v1.5h-1.5zM929.8 519.7h1.5v1.5h-1.5zM932.8 519.7h1.5v1.5h-1.5zM937.2 519.7h1.5v1.5h-1.5zM941.8 519.7h1.5v1.5h-1.5zM943.2 519.7h1.5v1.5h-1.5zM944.8 519.7h1.5v1.5h-1.5zM947.8 519.7h1.5v1.5h-1.5zM949.2 519.7h1.5v1.5h-1.5zM950.8 519.7h1.5v1.5h-1.5zM952.2 519.7h1.5v1.5h-1.5zM953.8 519.7h1.5v1.5h-1.5zM955.2 519.7h1.5v1.5h-1.5zM956.8 519.7h1.5v1.5h-1.5zM958.2 519.7h1.5v1.5h-1.5zM959.8 519.7h1.5v1.5h-1.5zM961.2 519.7h1.5v1.5h-1.5zM962.8 519.7h1.5v1.5h-1.5zM897.5 521h1.5v1.5h-1.5zM900.5 521h1.5v1.5h-1.5zM903.5 521h1.5v1.5h-1.5zM908 521h1.5v1.5h-1.5zM909.5 521h1.5v1.5h-1.5zM911 521h1.5v1.5h-1.5zM912.5 521h1.5v1.5h-1.5zM914 521h1.5v1.5h-1.5zM920 521h1.5v1.5h-1.5zM924.5 521h1.5v1.5h-1.5zM927.5 521h1.5v1.5h-1.5zM929 521h1.5v1.5h-1.5zM936.5 521h1.5v1.5h-1.5zM939.5 521h1.5v1.5h-1.5zM941 521h1.5v1.5h-1.5zM944 521h1.5v1.5h-1.5zM945.5 521h1.5v1.5h-1.5zM947 521h1.5v1.5h-1.5zM948.5 521h1.5v1.5h-1.5zM950 521h1.5v1.5h-1.5zM951.5 521h1.5v1.5h-1.5zM953 521h1.5v1.5h-1.5zM954.5 521h1.5v1.5h-1.5zM956 521h1.5v1.5h-1.5zM957.5 521h1.5v1.5h-1.5zM960.5 521h1.5v1.5h-1.5zM962 521h1.5v1.5h-1.5zM901.2 522.3h1.5v1.5h-1.5zM902.8 522.3h1.5v1.5h-1.5zM908.8 522.3h1.5v1.5h-1.5zM910.2 522.3h1.5v1.5h-1.5zM911.8 522.3h1.5v1.5h-1.5zM922.2 522.3h1.5v1.5h-1.5zM928.2 522.3h1.5v1.5h-1.5zM943.2 522.3h1.5v1.5h-1.5zM947.8 522.3h1.5v1.5h-1.5zM950.8 522.3h1.5v1.5h-1.5zM952.2 522.3h1.5v1.5h-1.5zM953.8 522.3h1.5v1.5h-1.5zM956.8 522.3h1.5v1.5h-1.5zM958.2 522.3h1.5v1.5h-1.5zM959.8 522.3h1.5v1.5h-1.5zM961.2 522.3h1.5v1.5h-1.5zM893 523.6h1.5v1.5h-1.5zM897.5 523.6h1.5v1.5h-1.5zM900.5 523.6h1.5v1.5h-1.5zM902 523.6h1.5v1.5h-1.5zM903.5 523.6h1.5v1.5h-1.5zM906.5 523.6h1.5v1.5h-1.5zM911 523.6h1.5v1.5h-1.5zM914 523.6h1.5v1.5h-1.5zM921.5 523.6h1.5v1.5h-1.5zM932 523.6h1.5v1.5h-1.5zM944 523.6h1.5v1.5h-1.5zM945.5 523.6h1.5v1.5h-1.5zM948.5 523.6h1.5v1.5h-1.5zM950 523.6h1.5v1.5h-1.5zM951.5 523.6h1.5v1.5h-1.5zM953 523.6h1.5v1.5h-1.5zM954.5 523.6h1.5v1.5h-1.5zM956 523.6h1.5v1.5h-1.5zM957.5 523.6h1.5v1.5h-1.5zM960.5 523.6h1.5v1.5h-1.5zM962 523.6h1.5v1.5h-1.5zM963.5 523.6h1.5v1.5h-1.5zM896.8 524.9h1.5v1.5h-1.5zM898.2 524.9h1.5v1.5h-1.5zM905.8 524.9h1.5v1.5h-1.5zM914.8 524.9h1.5v1.5h-1.5zM919.2 524.9h1.5v1.5h-1.5zM920.8 524.9h1.5v1.5h-1.5zM941.8 524.9h1.5v1.5h-1.5zM944.8 524.9h1.5v1.5h-1.5zM950.8 524.9h1.5v1.5h-1.5zM952.2 524.9h1.5v1.5h-1.5zM955.2 524.9h1.5v1.5h-1.5zM956.8 524.9h1.5v1.5h-1.5zM958.2 524.9h1.5v1.5h-1.5zM959.8 524.9h1.5v1.5h-1.5zM961.2 524.9h1.5v1.5h-1.5zM888.5 526.2h1.5v1.5h-1.5zM890 526.2h1.5v1.5h-1.5zM891.5 526.2h1.5v1.5h-1.5zM893 526.2h1.5v1.5h-1.5zM896 526.2h1.5v1.5h-1.5zM897.5 526.2h1.5v1.5h-1.5zM900.5 526.2h1.5v1.5h-1.5zM906.5 526.2h1.5v1.5h-1.5zM909.5 526.2h1.5v1.5h-1.5zM914 526.2h1.5v1.5h-1.5zM923 526.2h1.5v1.5h-1.5zM929 526.2h1.5v1.5h-1.5zM945.5 526.2h1.5v1.5h-1.5zM950 526.2h1.5v1.5h-1.5zM956 526.2h1.5v1.5h-1.5zM886.2 527.5h1.5v1.5h-1.5zM887.8 527.5h1.5v1.5h-1.5zM889.2 527.5h1.5v1.5h-1.5zM890.8 527.5h1.5v1.5h-1.5zM896.8 527.5h1.5v1.5h-1.5zM898.2 527.5h1.5v1.5h-1.5zM899.8 527.5h1.5v1.5h-1.5zM910.2 527.5h1.5v1.5h-1.5zM947.8 527.5h1.5v1.5h-1.5zM884 528.8h1.5v1.5h-1.5zM887 528.8h1.5v1.5h-1.5zM890 528.8h1.5v1.5h-1.5zM891.5 528.8h1.5v1.5h-1.5zM894.5 528.8h1.5v1.5h-1.5zM899 528.8h1.5v1.5h-1.5zM900.5 528.8h1.5v1.5h-1.5zM902 528.8h1.5v1.5h-1.5zM903.5 528.8h1.5v1.5h-1.5zM906.5 528.8h1.5v1.5h-1.5zM956 528.8h1.5v1.5h-1.5zM884.8 530.1h1.5v1.5h-1.5zM889.2 530.1h1.5v1.5h-1.5zM890.8 530.1h1.5v1.5h-1.5zM893.8 530.1h1.5v1.5h-1.5zM901.2 530.1h1.5v1.5h-1.5zM882.5 531.4h1.5v1.5h-1.5zM885.5 531.4h1.5v1.5h-1.5zM890 531.4h1.5v1.5h-1.5zM891.5 531.4h1.5v1.5h-1.5zM894.5 531.4h1.5v1.5h-1.5zM881.8 532.7h1.5v1.5h-1.5zM887.8 532.7h1.5v1.5h-1.5zM893.8 532.7h1.5v1.5h-1.5zM896.8 532.7h1.5v1.5h-1.5zM901.2 532.7h1.5v1.5h-1.5zM885.5 534h1.5v1.5h-1.5zM887 534h1.5v1.5h-1.5zM888.5 534h1.5v1.5h-1.5zM891.5 534h1.5v1.5h-1.5zM893 534h1.5v1.5h-1.5zM894.5 534h1.5v1.5h-1.5zM899 534h1.5v1.5h-1.5zM884.8 535.3h1.5v1.5h-1.5zM886.2 535.3h1.5v1.5h-1.5zM889.2 535.3h1.5v1.5h-1.5zM890.8 535.3h1.5v1.5h-1.5zM892.2 535.3h1.5v1.5h-1.5zM896.8 535.3h1.5v1.5h-1.5zM879.5 536.6h1.5v1.5h-1.5zM884 536.6h1.5v1.5h-1.5zM887 536.6h1.5v1.5h-1.5zM890 536.6h1.5v1.5h-1.5zM891.5 536.6h1.5v1.5h-1.5zM880.2 537.9h1.5v1.5h-1.5zM884.8 537.9h1.5v1.5h-1.5zM889.2 537.9h1.5v1.5h-1.5zM890.8 537.9h1.5v1.5h-1.5zM887 539.2h1.5v1.5h-1.5zM888.5 539.2h1.5v1.5h-1.5zM891.5 539.2h1.5v1.5h-1.5zM878.8 540.5h1.5v1.5h-1.5zM880.2 540.5h1.5v1.5h-1.5zM883.2 540.5h1.5v1.5h-1.5zM884.8 540.5h1.5v1.5h-1.5zM887.8 540.5h1.5v1.5h-1.5zM889.2 540.5h1.5v1.5h-1.5zM890.8 540.5h1.5v1.5h-1.5zM892.2 540.5h1.5v1.5h-1.5zM878 541.8h1.5v1.5h-1.5zM885.5 541.8h1.5v1.5h-1.5zM888.5 541.8h1.5v1.5h-1.5zM886.2 543.2h1.5v1.5h-1.5zM887.8 543.2h1.5v1.5h-1.5zM890.8 543.2h1.5v1.5h-1.5zM879.5 544.5h1.5v1.5h-1.5zM881 544.5h1.5v1.5h-1.5zM882.5 544.5h1.5v1.5h-1.5zM884 544.5h1.5v1.5h-1.5zM881.8 545.8h1.5v1.5h-1.5zM883.2 545.8h1.5v1.5h-1.5zM884.8 545.8h1.5v1.5h-1.5zM890.8 545.8h1.5v1.5h-1.5zM884 547.1h1.5v1.5h-1.5zM888.5 547.1h1.5v1.5h-1.5zM890 547.1h1.5v1.5h-1.5zM878.8 548.4h1.5v1.5h-1.5zM881.8 548.4h1.5v1.5h-1.5zM884.8 548.4h1.5v1.5h-1.5zM886.2 548.4h1.5v1.5h-1.5zM892.2 548.4h1.5v1.5h-1.5zM887 549.7h1.5v1.5h-1.5zM890 549.7h1.5v1.5h-1.5zM880.2 551h1.5v1.5h-1.5zM881.8 551h1.5v1.5h-1.5zM883.2 551h1.5v1.5h-1.5zM878 552.3h1.5v1.5h-1.5zM882.5 552.3h1.5v1.5h-1.5zM884.8 553.6h1.5v1.5h-1.5zM887.8 553.6h1.5v1.5h-1.5zM885.5 554.9h1.5v1.5h-1.5zM887 554.9h1.5v1.5h-1.5zM890 554.9h1.5v1.5h-1.5zM880.2 556.2h1.5v1.5h-1.5zM881.8 556.2h1.5v1.5h-1.5z" fill="#c39333"/>
<circle cx="886.6" cy="465.3" r="3.8" fill="#c39333"/>
<text x="895.1" y="469" font-size="11.8" fill="#1f1f2a">Cancer cell 3</text>
<rect x="988.2" y="446.3" width="103.9" height="124.6" fill="#52ab8a"/>
<rect x="994.2" y="452.3" width="91.9" height="112.6" fill="#fff"/>
<rect x="999.3" y="476" width="86.7" height="88" fill="#d7c6d8"/>
<polygon points="999.3,476 1003.3,476 1004.3,496 1006.3,514 1004.3,539 1002.3,556 999.3,564" fill="#ede4ee" filter="url(#bl1)"/>
<polygon points="1058,564 1060,555 1068,549 1076,552 1082,546 1086,545 1086,564" fill="#f4eff5" filter="url(#bl1)"/>
<polygon points="1064,476 1086,476 1086,498 1081,483" fill="#e4dae6" filter="url(#bl1)"/>
<path d="M1079.1 476.3h1.5v1.5h-1.5zM1078.3 477.6h1.5v1.5h-1.5zM1076.1 478.9h1.5v1.5h-1.5zM1018.3 480.2h1.5v1.5h-1.5zM1073.8 482.8h1.5v1.5h-1.5zM1028.1 486.7h1.5v1.5h-1.5zM1040.1 486.7h1.5v1.5h-1.5zM1080.6 486.7h1.5v1.5h-1.5zM1067.8 488h1.5v1.5h-1.5zM1081.3 488h1.5v1.5h-1.5zM1066.3 490.7h1.5v1.5h-1.5zM1020.6 492h1.5v1.5h-1.5zM1073.1 492h1.5v1.5h-1.5zM1069.3 495.9h1.5v1.5h-1.5zM1082.1 497.2h1.5v1.5h-1.5zM1083.6 497.2h1.5v1.5h-1.5zM1043.8 498.5h1.5v1.5h-1.5zM1076.8 498.5h1.5v1.5h-1.5zM1064.8 503.7h1.5v1.5h-1.5zM1072.3 503.7h1.5v1.5h-1.5zM1078.3 503.7h1.5v1.5h-1.5zM1061.1 505h1.5v1.5h-1.5zM1070.1 505h1.5v1.5h-1.5zM1064.8 506.3h1.5v1.5h-1.5zM1067.8 506.3h1.5v1.5h-1.5zM1069.3 506.3h1.5v1.5h-1.5zM1073.8 506.3h1.5v1.5h-1.5zM1071.6 507.6h1.5v1.5h-1.5zM1070.8 508.9h1.5v1.5h-1.5zM1073.8 508.9h1.5v1.5h-1.5zM1076.8 508.9h1.5v1.5h-1.5zM1059.6 510.2h1.5v1.5h-1.5zM1076.1 510.2h1.5v1.5h-1.5zM1046.8 511.5h1.5v1.5h-1.5zM1079.8 511.5h1.5v1.5h-1.5zM1049.1 512.8h1.5v1.5h-1.5zM1070.1 512.8h1.5v1.5h-1.5zM1048.3 514.1h1.5v1.5h-1.5zM1054.3 514.1h1.5v1.5h-1.5zM1008.6 515.5h1.5v1.5h-1.5zM1070.1 515.5h1.5v1.5h-1.5zM1071.6 515.5h1.5v1.5h-1.5zM1057.3 516.8h1.5v1.5h-1.5zM1064.8 519.4h1.5v1.5h-1.5zM1075.3 519.4h1.5v1.5h-1.5zM1078.3 522h1.5v1.5h-1.5zM1081.3 522h1.5v1.5h-1.5zM1065.6 523.3h1.5v1.5h-1.5zM1071.6 523.3h1.5v1.5h-1.5zM1043.8 524.6h1.5v1.5h-1.5zM1045.3 524.6h1.5v1.5h-1.5zM1046.8 524.6h1.5v1.5h-1.5zM1052.8 527.2h1.5v1.5h-1.5zM1057.3 527.2h1.5v1.5h-1.5zM1047.6 528.5h1.5v1.5h-1.5zM1065.6 528.5h1.5v1.5h-1.5zM1003.3 529.8h1.5v1.5h-1.5zM1060.3 529.8h1.5v1.5h-1.5zM1048.3 532.4h1.5v1.5h-1.5zM1058.8 532.4h1.5v1.5h-1.5zM1060.3 532.4h1.5v1.5h-1.5zM1010.8 537.6h1.5v1.5h-1.5zM1043.8 537.6h1.5v1.5h-1.5zM1049.8 537.6h1.5v1.5h-1.5zM1061.8 537.6h1.5v1.5h-1.5zM1051.3 540.2h1.5v1.5h-1.5zM1055.8 540.2h1.5v1.5h-1.5zM1043.8 542.9h1.5v1.5h-1.5zM1045.3 542.9h1.5v1.5h-1.5zM1051.3 542.9h1.5v1.5h-1.5zM1041.6 544.2h1.5v1.5h-1.5zM1046.1 544.2h1.5v1.5h-1.5zM1049.1 544.2h1.5v1.5h-1.5zM1050.6 544.2h1.5v1.5h-1.5zM1061.1 544.2h1.5v1.5h-1.5zM1031.8 545.5h1.5v1.5h-1.5zM1036.3 545.5h1.5v1.5h-1.5zM1051.3 545.5h1.5v1.5h-1.5zM1054.3 545.5h1.5v1.5h-1.5zM1060.3 545.5h1.5v1.5h-1.5zM1061.8 545.5h1.5v1.5h-1.5zM1063.3 545.5h1.5v1.5h-1.5zM1035.6 546.8h1.5v1.5h-1.5zM1040.1 546.8h1.5v1.5h-1.5zM1041.6 546.8h1.5v1.5h-1.5zM1046.1 546.8h1.5v1.5h-1.5zM1047.6 546.8h1.5v1.5h-1.5zM1049.1 546.8h1.5v1.5h-1.5zM1052.1 546.8h1.5v1.5h-1.5zM1065.6 546.8h1.5v1.5h-1.5zM1068.6 546.8h1.5v1.5h-1.5zM1006.3 548.1h1.5v1.5h-1.5zM1012.3 548.1h1.5v1.5h-1.5zM1018.3 548.1h1.5v1.5h-1.5zM1024.3 548.1h1.5v1.5h-1.5zM1030.3 548.1h1.5v1.5h-1.5zM1034.8 548.1h1.5v1.5h-1.5zM1036.3 548.1h1.5v1.5h-1.5zM1037.8 548.1h1.5v1.5h-1.5zM1039.3 548.1h1.5v1.5h-1.5zM1040.8 548.1h1.5v1.5h-1.5zM1043.8 548.1h1.5v1.5h-1.5zM1045.3 548.1h1.5v1.5h-1.5zM1046.8 548.1h1.5v1.5h-1.5zM1051.3 548.1h1.5v1.5h-1.5zM1052.8 548.1h1.5v1.5h-1.5zM1054.3 548.1h1.5v1.5h-1.5zM1055.8 548.1h1.5v1.5h-1.5zM1057.3 548.1h1.5v1.5h-1.5zM1058.8 548.1h1.5v1.5h-1.5zM1061.8 548.1h1.5v1.5h-1.5zM1019.1 549.4h1.5v1.5h-1.5zM1023.6 549.4h1.5v1.5h-1.5zM1029.6 549.4h1.5v1.5h-1.5zM1034.1 549.4h1.5v1.5h-1.5zM1037.1 549.4h1.5v1.5h-1.5zM1038.6 549.4h1.5v1.5h-1.5zM1040.1 549.4h1.5v1.5h-1.5zM1041.6 549.4h1.5v1.5h-1.5zM1043.1 549.4h1.5v1.5h-1.5zM1044.6 549.4h1.5v1.5h-1.5zM1046.1 549.4h1.5v1.5h-1.5zM1047.6 549.4h1.5v1.5h-1.5zM1049.1 549.4h1.5v1.5h-1.5zM1050.6 549.4h1.5v1.5h-1.5zM1053.6 549.4h1.5v1.5h-1.5zM1055.1 549.4h1.5v1.5h-1.5zM1056.6 549.4h1.5v1.5h-1.5zM1058.1 549.4h1.5v1.5h-1.5zM1059.6 549.4h1.5v1.5h-1.5zM1061.1 549.4h1.5v1.5h-1.5zM1062.6 549.4h1.5v1.5h-1.5zM1064.1 549.4h1.5v1.5h-1.5zM1065.6 549.4h1.5v1.5h-1.5zM1068.6 549.4h1.5v1.5h-1.5zM1070.1 549.4h1.5v1.5h-1.5zM1003.3 550.7h1.5v1.5h-1.5zM1010.8 550.7h1.5v1.5h-1.5zM1019.8 550.7h1.5v1.5h-1.5zM1030.3 550.7h1.5v1.5h-1.5zM1033.3 550.7h1.5v1.5h-1.5zM1034.8 550.7h1.5v1.5h-1.5zM1039.3 550.7h1.5v1.5h-1.5zM1040.8 550.7h1.5v1.5h-1.5zM1042.3 550.7h1.5v1.5h-1.5zM1043.8 550.7h1.5v1.5h-1.5zM1045.3 550.7h1.5v1.5h-1.5zM1046.8 550.7h1.5v1.5h-1.5zM1048.3 550.7h1.5v1.5h-1.5zM1049.8 550.7h1.5v1.5h-1.5zM1052.8 550.7h1.5v1.5h-1.5zM1054.3 550.7h1.5v1.5h-1.5zM1055.8 550.7h1.5v1.5h-1.5zM1057.3 550.7h1.5v1.5h-1.5zM1058.8 550.7h1.5v1.5h-1.5zM1060.3 550.7h1.5v1.5h-1.5zM1061.8 550.7h1.5v1.5h-1.5zM1067.8 550.7h1.5v1.5h-1.5zM1070.8 550.7h1.5v1.5h-1.5zM1073.8 550.7h1.5v1.5h-1.5zM1010.1 552h1.5v1.5h-1.5zM1031.1 552h1.5v1.5h-1.5zM1034.1 552h1.5v1.5h-1.5zM1035.6 552h1.5v1.5h-1.5zM1037.1 552h1.5v1.5h-1.5zM1038.6 552h1.5v1.5h-1.5zM1040.1 552h1.5v1.5h-1.5zM1041.6 552h1.5v1.5h-1.5zM1043.1 552h1.5v1.5h-1.5zM1044.6 552h1.5v1.5h-1.5zM1046.1 552h1.5v1.5h-1.5zM1047.6 552h1.5v1.5h-1.5zM1049.1 552h1.5v1.5h-1.5zM1050.6 552h1.5v1.5h-1.5zM1052.1 552h1.5v1.5h-1.5zM1053.6 552h1.5v1.5h-1.5zM1055.1 552h1.5v1.5h-1.5zM1056.6 552h1.5v1.5h-1.5zM1058.1 552h1.5v1.5h-1.5zM1059.6 552h1.5v1.5h-1.5zM1061.1 552h1.5v1.5h-1.5zM1062.6 552h1.5v1.5h-1.5zM1065.6 552h1.5v1.5h-1.5zM1067.1 552h1.5v1.5h-1.5zM1068.6 552h1.5v1.5h-1.5zM1071.6 552h1.5v1.5h-1.5zM1025.8 553.3h1.5v1.5h-1.5zM1030.3 553.3h1.5v1.5h-1.5zM1031.8 553.3h1.5v1.5h-1.5zM1034.8 553.3h1.5v1.5h-1.5zM1036.3 553.3h1.5v1.5h-1.5zM1037.8 553.3h1.5v1.5h-1.5zM1039.3 553.3h1.5v1.5h-1.5zM1040.8 553.3h1.5v1.5h-1.5zM1042.3 553.3h1.5v1.5h-1.5zM1043.8 553.3h1.5v1.5h-1.5zM1045.3 553.3h1.5v1.5h-1.5zM1046.8 553.3h1.5v1.5h-1.5zM1048.3 553.3h1.5v1.5h-1.5zM1049.8 553.3h1.5v1.5h-1.5zM1051.3 553.3h1.5v1.5h-1.5zM1052.8 553.3h1.5v1.5h-1.5zM1055.8 553.3h1.5v1.5h-1.5zM1057.3 553.3h1.5v1.5h-1.5zM1058.8 553.3h1.5v1.5h-1.5zM1060.3 553.3h1.5v1.5h-1.5zM1061.8 553.3h1.5v1.5h-1.5zM1063.3 553.3h1.5v1.5h-1.5zM1064.8 553.3h1.5v1.5h-1.5zM1067.8 553.3h1.5v1.5h-1.5zM1070.8 553.3h1.5v1.5h-1.5zM1072.3 553.3h1.5v1.5h-1.5zM1004.1 554.6h1.5v1.5h-1.5zM1007.1 554.6h1.5v1.5h-1.5zM1019.1 554.6h1.5v1.5h-1.5zM1028.1 554.6h1.5v1.5h-1.5zM1029.6 554.6h1.5v1.5h-1.5zM1031.1 554.6h1.5v1.5h-1.5zM1034.1 554.6h1.5v1.5h-1.5zM1035.6 554.6h1.5v1.5h-1.5zM1037.1 554.6h1.5v1.5h-1.5zM1038.6 554.6h1.5v1.5h-1.5zM1040.1 554.6h1.5v1.5h-1.5zM1041.6 554.6h1.5v1.5h-1.5zM1043.1 554.6h1.5v1.5h-1.5zM1044.6 554.6h1.5v1.5h-1.5zM1046.1 554.6h1.5v1.5h-1.5zM1047.6 554.6h1.5v1.5h-1.5zM1049.1 554.6h1.5v1.5h-1.5zM1050.6 554.6h1.5v1.5h-1.5zM1052.1 554.6h1.5v1.5h-1.5zM1053.6 554.6h1.5v1.5h-1.5zM1055.1 554.6h1.5v1.5h-1.5zM1056.6 554.6h1.5v1.5h-1.5zM1058.1 554.6h1.5v1.5h-1.5zM1059.6 554.6h1.5v1.5h-1.5zM1061.1 554.6h1.5v1.5h-1.5zM1062.6 554.6h1.5v1.5h-1.5zM1064.1 554.6h1.5v1.5h-1.5zM1065.6 554.6h1.5v1.5h-1.5zM1070.1 554.6h1.5v1.5h-1.5zM1071.6 554.6h1.5v1.5h-1.5zM1076.1 554.6h1.5v1.5h-1.5zM1018.3 555.9h1.5v1.5h-1.5zM1027.3 555.9h1.5v1.5h-1.5zM1028.8 555.9h1.5v1.5h-1.5zM1030.3 555.9h1.5v1.5h-1.5zM1031.8 555.9h1.5v1.5h-1.5zM1033.3 555.9h1.5v1.5h-1.5zM1034.8 555.9h1.5v1.5h-1.5zM1036.3 555.9h1.5v1.5h-1.5zM1037.8 555.9h1.5v1.5h-1.5zM1040.8 555.9h1.5v1.5h-1.5zM1043.8 555.9h1.5v1.5h-1.5zM1045.3 555.9h1.5v1.5h-1.5zM1046.8 555.9h1.5v1.5h-1.5zM1048.3 555.9h1.5v1.5h-1.5zM1049.8 555.9h1.5v1.5h-1.5zM1051.3 555.9h1.5v1.5h-1.5zM1052.8 555.9h1.5v1.5h-1.5zM1054.3 555.9h1.5v1.5h-1.5zM1055.8 555.9h1.5v1.5h-1.5zM1057.3 555.9h1.5v1.5h-1.5zM1058.8 555.9h1.5v1.5h-1.5zM1060.3 555.9h1.5v1.5h-1.5zM1061.8 555.9h1.5v1.5h-1.5zM1063.3 555.9h1.5v1.5h-1.5zM1064.8 555.9h1.5v1.5h-1.5zM1070.8 555.9h1.5v1.5h-1.5zM1011.6 557.2h1.5v1.5h-1.5zM1016.1 557.2h1.5v1.5h-1.5zM1025.1 557.2h1.5v1.5h-1.5zM1026.6 557.2h1.5v1.5h-1.5zM1031.1 557.2h1.5v1.5h-1.5zM1034.1 557.2h1.5v1.5h-1.5zM1035.6 557.2h1.5v1.5h-1.5zM1037.1 557.2h1.5v1.5h-1.5zM1038.6 557.2h1.5v1.5h-1.5zM1040.1 557.2h1.5v1.5h-1.5zM1041.6 557.2h1.5v1.5h-1.5zM1043.1 557.2h1.5v1.5h-1.5zM1044.6 557.2h1.5v1.5h-1.5zM1046.1 557.2h1.5v1.5h-1.5zM1047.6 557.2h1.5v1.5h-1.5zM1049.1 557.2h1.5v1.5h-1.5zM1050.6 557.2h1.5v1.5h-1.5zM1052.1 557.2h1.5v1.5h-1.5zM1053.6 557.2h1.5v1.5h-1.5zM1058.1 557.2h1.5v1.5h-1.5zM1059.6 557.2h1.5v1.5h-1.5zM1061.1 557.2h1.5v1.5h-1.5zM1062.6 557.2h1.5v1.5h-1.5zM1064.1 557.2h1.5v1.5h-1.5zM1065.6 557.2h1.5v1.5h-1.5zM1067.1 557.2h1.5v1.5h-1.5zM1070.1 557.2h1.5v1.5h-1.5zM1073.1 557.2h1.5v1.5h-1.5zM1076.1 557.2h1.5v1.5h-1.5zM1003.3 558.5h1.5v1.5h-1.5zM1004.8 558.5h1.5v1.5h-1.5zM1018.3 558.5h1.5v1.5h-1.5zM1025.8 558.5h1.5v1.5h-1.5zM1027.3 558.5h1.5v1.5h-1.5zM1028.8 558.5h1.5v1.5h-1.5zM1031.8 558.5h1.5v1.5h-1.5zM1033.3 558.5h1.5v1.5h-1.5zM1036.3 558.5h1.5v1.5h-1.5zM1037.8 558.5h1.5v1.5h-1.5zM1039.3 558.5h1.5v1.5h-1.5zM1040.8 558.5h1.5v1.5h-1.5zM1042.3 558.5h1.5v1.5h-1.5zM1043.8 558.5h1.5v1.5h-1.5zM1045.3 558.5h1.5v1.5h-1.5zM1046.8 558.5h1.5v1.5h-1.5zM1048.3 558.5h1.5v1.5h-1.5zM1049.8 558.5h1.5v1.5h-1.5zM1051.3 558.5h1.5v1.5h-1.5zM1052.8 558.5h1.5v1.5h-1.5zM1054.3 558.5h1.5v1.5h-1.5zM1055.8 558.5h1.5v1.5h-1.5zM1057.3 558.5h1.5v1.5h-1.5zM1058.8 558.5h1.5v1.5h-1.5zM1060.3 558.5h1.5v1.5h-1.5zM1063.3 558.5h1.5v1.5h-1.5zM1064.8 558.5h1.5v1.5h-1.5zM1067.8 558.5h1.5v1.5h-1.5zM1069.3 558.5h1.5v1.5h-1.5zM1005.6 559.8h1.5v1.5h-1.5zM1010.1 559.8h1.5v1.5h-1.5zM1014.6 559.8h1.5v1.5h-1.5zM1016.1 559.8h1.5v1.5h-1.5zM1020.6 559.8h1.5v1.5h-1.5zM1025.1 559.8h1.5v1.5h-1.5zM1029.6 559.8h1.5v1.5h-1.5zM1031.1 559.8h1.5v1.5h-1.5zM1034.1 559.8h1.5v1.5h-1.5zM1035.6 559.8h1.5v1.5h-1.5zM1037.1 559.8h1.5v1.5h-1.5zM1038.6 559.8h1.5v1.5h-1.5zM1040.1 559.8h1.5v1.5h-1.5zM1041.6 559.8h1.5v1.5h-1.5zM1043.1 559.8h1.5v1.5h-1.5zM1044.6 559.8h1.5v1.5h-1.5zM1046.1 559.8h1.5v1.5h-1.5zM1047.6 559.8h1.5v1.5h-1.5zM1049.1 559.8h1.5v1.5h-1.5zM1050.6 559.8h1.5v1.5h-1.5zM1052.1 559.8h1.5v1.5h-1.5zM1053.6 559.8h1.5v1.5h-1.5zM1055.1 559.8h1.5v1.5h-1.5zM1056.6 559.8h1.5v1.5h-1.5zM1058.1 559.8h1.5v1.5h-1.5zM1059.6 559.8h1.5v1.5h-1.5zM1062.6 559.8h1.5v1.5h-1.5zM1064.1 559.8h1.5v1.5h-1.5zM1065.6 559.8h1.5v1.5h-1.5zM1068.6 559.8h1.5v1.5h-1.5zM1073.1 559.8h1.5v1.5h-1.5zM1076.1 559.8h1.5v1.5h-1.5zM1007.8 561.1h1.5v1.5h-1.5zM1027.3 561.1h1.5v1.5h-1.5zM1028.8 561.1h1.5v1.5h-1.5zM1031.8 561.1h1.5v1.5h-1.5zM1036.3 561.1h1.5v1.5h-1.5zM1037.8 561.1h1.5v1.5h-1.5zM1039.3 561.1h1.5v1.5h-1.5zM1040.8 561.1h1.5v1.5h-1.5zM1042.3 561.1h1.5v1.5h-1.5zM1043.8 561.1h1.5v1.5h-1.5zM1045.3 561.1h1.5v1.5h-1.5zM1046.8 561.1h1.5v1.5h-1.5zM1048.3 561.1h1.5v1.5h-1.5zM1049.8 561.1h1.5v1.5h-1.5zM1051.3 561.1h1.5v1.5h-1.5zM1052.8 561.1h1.5v1.5h-1.5zM1054.3 561.1h1.5v1.5h-1.5zM1055.8 561.1h1.5v1.5h-1.5zM1057.3 561.1h1.5v1.5h-1.5zM1058.8 561.1h1.5v1.5h-1.5zM1061.8 561.1h1.5v1.5h-1.5zM1064.8 561.1h1.5v1.5h-1.5zM1066.3 561.1h1.5v1.5h-1.5zM1067.8 561.1h1.5v1.5h-1.5zM1069.3 561.1h1.5v1.5h-1.5zM1010.1 562.4h1.5v1.5h-1.5zM1022.1 562.4h1.5v1.5h-1.5zM1023.6 562.4h1.5v1.5h-1.5zM1025.1 562.4h1.5v1.5h-1.5zM1029.6 562.4h1.5v1.5h-1.5zM1031.1 562.4h1.5v1.5h-1.5zM1038.6 562.4h1.5v1.5h-1.5zM1040.1 562.4h1.5v1.5h-1.5zM1041.6 562.4h1.5v1.5h-1.5zM1043.1 562.4h1.5v1.5h-1.5zM1044.6 562.4h1.5v1.5h-1.5zM1046.1 562.4h1.5v1.5h-1.5zM1047.6 562.4h1.5v1.5h-1.5zM1049.1 562.4h1.5v1.5h-1.5zM1050.6 562.4h1.5v1.5h-1.5zM1052.1 562.4h1.5v1.5h-1.5zM1053.6 562.4h1.5v1.5h-1.5zM1055.1 562.4h1.5v1.5h-1.5zM1056.6 562.4h1.5v1.5h-1.5zM1058.1 562.4h1.5v1.5h-1.5zM1061.1 562.4h1.5v1.5h-1.5zM1064.1 562.4h1.5v1.5h-1.5zM1065.6 562.4h1.5v1.5h-1.5z" fill="#98a838"/>
<circle cx="1007.2" cy="464.1" r="3.8" fill="#98a838"/>
<text x="1015.3" y="467.8" font-size="11.8" fill="#1f1f2a">Cancer cell 4</text>
<rect x="623.6" y="588.2" width="15.3" height="15.3" fill="#e06b7d"/>
<rect x="627.6" y="592.2" width="7.3" height="7.3" fill="#fff"/>
<text x="645.3" y="598.9" font-size="11.8" fill="#1f1f2a">Attackers</text>
<rect x="706.6" y="588.2" width="15.3" height="15.3" fill="#7ccbea"/>
<rect x="710.6" y="592.2" width="7.3" height="7.3" fill="#fff"/>
<text x="728.2" y="598.9" font-size="11.8" fill="#1f1f2a">Aggressors</text>
<rect x="799.2" y="588.2" width="15.3" height="15.3" fill="#52ab8a"/>
<rect x="803.2" y="592.2" width="7.3" height="7.3" fill="#fff"/>
<text x="821.2" y="598.9" font-size="11.8" fill="#1f1f2a">Engineers</text>
<rect x="893.9" y="588.2" width="15.3" height="15.3" fill="#f0a868"/>
<rect x="897.9" y="592.2" width="7.3" height="7.3" fill="#fff"/>
<text x="916.3" y="598.7" font-size="11.8" fill="#1f1f2a">Energy suppliers</text>
<rect x="595" y="621.2" width="22.9" height="128.3" fill="#c8b7d6"/>
<text x="597.4" y="686" font-size="11.5" fill="#1f1f2a">IME</text>
<rect x="623.6" y="620" width="110.4" height="129.5" fill="#7ccbea"/>
<rect x="629.6" y="626" width="98.4" height="117.5" fill="#fff"/>
<rect x="629.6" y="654.5" width="98.2" height="88.8" fill="#e4d3dd"/>
<polygon points="629.6,654.5 727.8,654.5 727.8,674.5 715.8,668.5 697.8,666.5 677.8,665.5 657.6,663.5 647.6,659.5 629.6,660.5" fill="#f1eaee" filter="url(#bl2)"/>
<polygon points="674.6,743.3 681.6,734.3 695.6,736.3 705.6,743.3" fill="#efe7ec" filter="url(#bl2)"/>
<polygon points="721.8,674.5 727.8,674.5 727.8,743.3 719.8,713.3" fill="#ebe2e8" filter="url(#bl2)"/>
<path d="M633.6 671.8h1.5v1.5h-1.5zM632.9 673.1h1.5v1.5h-1.5zM634.4 673.1h1.5v1.5h-1.5zM632.1 674.4h1.5v1.5h-1.5zM633.6 674.4h1.5v1.5h-1.5zM635.1 674.4h1.5v1.5h-1.5zM631.4 675.7h1.5v1.5h-1.5zM634.4 675.7h1.5v1.5h-1.5zM635.9 675.7h1.5v1.5h-1.5zM637.4 675.7h1.5v1.5h-1.5zM630.6 677h1.5v1.5h-1.5zM632.1 677h1.5v1.5h-1.5zM633.6 677h1.5v1.5h-1.5zM635.1 677h1.5v1.5h-1.5zM636.6 677h1.5v1.5h-1.5zM638.1 677h1.5v1.5h-1.5zM639.6 677h1.5v1.5h-1.5zM629.9 678.3h1.5v1.5h-1.5zM631.4 678.3h1.5v1.5h-1.5zM632.9 678.3h1.5v1.5h-1.5zM634.4 678.3h1.5v1.5h-1.5zM635.9 678.3h1.5v1.5h-1.5zM637.4 678.3h1.5v1.5h-1.5zM638.9 678.3h1.5v1.5h-1.5zM630.6 679.6h1.5v1.5h-1.5zM632.1 679.6h1.5v1.5h-1.5zM635.1 679.6h1.5v1.5h-1.5zM636.6 679.6h1.5v1.5h-1.5zM638.1 679.6h1.5v1.5h-1.5zM629.9 680.9h1.5v1.5h-1.5zM631.4 680.9h1.5v1.5h-1.5zM632.9 680.9h1.5v1.5h-1.5zM634.4 680.9h1.5v1.5h-1.5zM638.9 680.9h1.5v1.5h-1.5zM640.4 680.9h1.5v1.5h-1.5zM633.6 682.2h1.5v1.5h-1.5zM636.6 682.2h1.5v1.5h-1.5zM638.1 682.2h1.5v1.5h-1.5zM639.6 682.2h1.5v1.5h-1.5zM641.1 682.2h1.5v1.5h-1.5zM629.9 683.5h1.5v1.5h-1.5zM631.4 683.5h1.5v1.5h-1.5zM632.9 683.5h1.5v1.5h-1.5zM635.9 683.5h1.5v1.5h-1.5zM637.4 683.5h1.5v1.5h-1.5zM638.9 683.5h1.5v1.5h-1.5zM640.4 683.5h1.5v1.5h-1.5zM641.9 683.5h1.5v1.5h-1.5zM630.6 684.8h1.5v1.5h-1.5zM632.1 684.8h1.5v1.5h-1.5zM633.6 684.8h1.5v1.5h-1.5zM635.1 684.8h1.5v1.5h-1.5zM636.6 684.8h1.5v1.5h-1.5zM638.1 684.8h1.5v1.5h-1.5zM639.6 684.8h1.5v1.5h-1.5zM641.1 684.8h1.5v1.5h-1.5zM632.9 686.1h1.5v1.5h-1.5zM634.4 686.1h1.5v1.5h-1.5zM635.9 686.1h1.5v1.5h-1.5zM638.9 686.1h1.5v1.5h-1.5zM640.4 686.1h1.5v1.5h-1.5zM630.6 687.4h1.5v1.5h-1.5zM633.6 687.4h1.5v1.5h-1.5zM635.1 687.4h1.5v1.5h-1.5zM636.6 687.4h1.5v1.5h-1.5zM638.1 687.4h1.5v1.5h-1.5zM639.6 687.4h1.5v1.5h-1.5zM641.1 687.4h1.5v1.5h-1.5zM632.9 688.7h1.5v1.5h-1.5zM634.4 688.7h1.5v1.5h-1.5zM635.9 688.7h1.5v1.5h-1.5zM637.4 688.7h1.5v1.5h-1.5zM640.4 688.7h1.5v1.5h-1.5zM641.9 688.7h1.5v1.5h-1.5zM630.6 690h1.5v1.5h-1.5zM633.6 690h1.5v1.5h-1.5zM636.6 690h1.5v1.5h-1.5zM638.1 690h1.5v1.5h-1.5zM642.6 690h1.5v1.5h-1.5zM629.9 691.3h1.5v1.5h-1.5zM631.4 691.3h1.5v1.5h-1.5zM632.9 691.3h1.5v1.5h-1.5zM634.4 691.3h1.5v1.5h-1.5zM635.9 691.3h1.5v1.5h-1.5zM638.9 691.3h1.5v1.5h-1.5zM640.4 691.3h1.5v1.5h-1.5zM641.9 691.3h1.5v1.5h-1.5zM697.4 691.3h1.5v1.5h-1.5zM698.9 691.3h1.5v1.5h-1.5zM630.6 692.6h1.5v1.5h-1.5zM636.6 692.6h1.5v1.5h-1.5zM638.1 692.6h1.5v1.5h-1.5zM639.6 692.6h1.5v1.5h-1.5zM641.1 692.6h1.5v1.5h-1.5zM642.6 692.6h1.5v1.5h-1.5zM695.1 692.6h1.5v1.5h-1.5zM696.6 692.6h1.5v1.5h-1.5zM698.1 692.6h1.5v1.5h-1.5zM629.9 693.9h1.5v1.5h-1.5zM631.4 693.9h1.5v1.5h-1.5zM632.9 693.9h1.5v1.5h-1.5zM635.9 693.9h1.5v1.5h-1.5zM638.9 693.9h1.5v1.5h-1.5zM640.4 693.9h1.5v1.5h-1.5zM641.9 693.9h1.5v1.5h-1.5zM694.4 693.9h1.5v1.5h-1.5zM695.9 693.9h1.5v1.5h-1.5zM697.4 693.9h1.5v1.5h-1.5zM698.9 693.9h1.5v1.5h-1.5zM630.6 695.3h1.5v1.5h-1.5zM632.1 695.3h1.5v1.5h-1.5zM635.1 695.3h1.5v1.5h-1.5zM638.1 695.3h1.5v1.5h-1.5zM639.6 695.3h1.5v1.5h-1.5zM642.6 695.3h1.5v1.5h-1.5zM690.6 695.3h1.5v1.5h-1.5zM692.1 695.3h1.5v1.5h-1.5zM693.6 695.3h1.5v1.5h-1.5zM695.1 695.3h1.5v1.5h-1.5zM632.9 696.6h1.5v1.5h-1.5zM635.9 696.6h1.5v1.5h-1.5zM637.4 696.6h1.5v1.5h-1.5zM638.9 696.6h1.5v1.5h-1.5zM640.4 696.6h1.5v1.5h-1.5zM644.9 696.6h1.5v1.5h-1.5zM686.9 696.6h1.5v1.5h-1.5zM688.4 696.6h1.5v1.5h-1.5zM689.9 696.6h1.5v1.5h-1.5zM691.4 696.6h1.5v1.5h-1.5zM692.9 696.6h1.5v1.5h-1.5zM694.4 696.6h1.5v1.5h-1.5zM695.9 696.6h1.5v1.5h-1.5zM697.4 696.6h1.5v1.5h-1.5zM700.4 696.6h1.5v1.5h-1.5zM632.1 697.9h1.5v1.5h-1.5zM635.1 697.9h1.5v1.5h-1.5zM636.6 697.9h1.5v1.5h-1.5zM639.6 697.9h1.5v1.5h-1.5zM642.6 697.9h1.5v1.5h-1.5zM644.1 697.9h1.5v1.5h-1.5zM645.6 697.9h1.5v1.5h-1.5zM684.6 697.9h1.5v1.5h-1.5zM689.1 697.9h1.5v1.5h-1.5zM690.6 697.9h1.5v1.5h-1.5zM692.1 697.9h1.5v1.5h-1.5zM693.6 697.9h1.5v1.5h-1.5zM695.1 697.9h1.5v1.5h-1.5zM696.6 697.9h1.5v1.5h-1.5zM698.1 697.9h1.5v1.5h-1.5zM699.6 697.9h1.5v1.5h-1.5zM701.1 697.9h1.5v1.5h-1.5zM629.9 699.2h1.5v1.5h-1.5zM631.4 699.2h1.5v1.5h-1.5zM632.9 699.2h1.5v1.5h-1.5zM644.9 699.2h1.5v1.5h-1.5zM646.4 699.2h1.5v1.5h-1.5zM680.9 699.2h1.5v1.5h-1.5zM682.4 699.2h1.5v1.5h-1.5zM683.9 699.2h1.5v1.5h-1.5zM686.9 699.2h1.5v1.5h-1.5zM688.4 699.2h1.5v1.5h-1.5zM691.4 699.2h1.5v1.5h-1.5zM692.9 699.2h1.5v1.5h-1.5zM694.4 699.2h1.5v1.5h-1.5zM695.9 699.2h1.5v1.5h-1.5zM697.4 699.2h1.5v1.5h-1.5zM698.9 699.2h1.5v1.5h-1.5zM700.4 699.2h1.5v1.5h-1.5zM633.6 700.5h1.5v1.5h-1.5zM635.1 700.5h1.5v1.5h-1.5zM638.1 700.5h1.5v1.5h-1.5zM639.6 700.5h1.5v1.5h-1.5zM641.1 700.5h1.5v1.5h-1.5zM644.1 700.5h1.5v1.5h-1.5zM645.6 700.5h1.5v1.5h-1.5zM647.1 700.5h1.5v1.5h-1.5zM648.6 700.5h1.5v1.5h-1.5zM650.1 700.5h1.5v1.5h-1.5zM651.6 700.5h1.5v1.5h-1.5zM677.1 700.5h1.5v1.5h-1.5zM678.6 700.5h1.5v1.5h-1.5zM681.6 700.5h1.5v1.5h-1.5zM684.6 700.5h1.5v1.5h-1.5zM686.1 700.5h1.5v1.5h-1.5zM690.6 700.5h1.5v1.5h-1.5zM692.1 700.5h1.5v1.5h-1.5zM693.6 700.5h1.5v1.5h-1.5zM695.1 700.5h1.5v1.5h-1.5zM696.6 700.5h1.5v1.5h-1.5zM699.6 700.5h1.5v1.5h-1.5zM701.1 700.5h1.5v1.5h-1.5zM629.9 701.8h1.5v1.5h-1.5zM631.4 701.8h1.5v1.5h-1.5zM632.9 701.8h1.5v1.5h-1.5zM634.4 701.8h1.5v1.5h-1.5zM635.9 701.8h1.5v1.5h-1.5zM637.4 701.8h1.5v1.5h-1.5zM640.4 701.8h1.5v1.5h-1.5zM641.9 701.8h1.5v1.5h-1.5zM643.4 701.8h1.5v1.5h-1.5zM644.9 701.8h1.5v1.5h-1.5zM646.4 701.8h1.5v1.5h-1.5zM647.9 701.8h1.5v1.5h-1.5zM649.4 701.8h1.5v1.5h-1.5zM650.9 701.8h1.5v1.5h-1.5zM652.4 701.8h1.5v1.5h-1.5zM653.9 701.8h1.5v1.5h-1.5zM655.4 701.8h1.5v1.5h-1.5zM673.4 701.8h1.5v1.5h-1.5zM674.9 701.8h1.5v1.5h-1.5zM676.4 701.8h1.5v1.5h-1.5zM677.9 701.8h1.5v1.5h-1.5zM679.4 701.8h1.5v1.5h-1.5zM680.9 701.8h1.5v1.5h-1.5zM682.4 701.8h1.5v1.5h-1.5zM683.9 701.8h1.5v1.5h-1.5zM688.4 701.8h1.5v1.5h-1.5zM689.9 701.8h1.5v1.5h-1.5zM691.4 701.8h1.5v1.5h-1.5zM694.4 701.8h1.5v1.5h-1.5zM697.4 701.8h1.5v1.5h-1.5zM698.9 701.8h1.5v1.5h-1.5zM700.4 701.8h1.5v1.5h-1.5zM701.9 701.8h1.5v1.5h-1.5zM630.6 703.1h1.5v1.5h-1.5zM632.1 703.1h1.5v1.5h-1.5zM633.6 703.1h1.5v1.5h-1.5zM635.1 703.1h1.5v1.5h-1.5zM636.6 703.1h1.5v1.5h-1.5zM639.6 703.1h1.5v1.5h-1.5zM641.1 703.1h1.5v1.5h-1.5zM642.6 703.1h1.5v1.5h-1.5zM645.6 703.1h1.5v1.5h-1.5zM647.1 703.1h1.5v1.5h-1.5zM648.6 703.1h1.5v1.5h-1.5zM650.1 703.1h1.5v1.5h-1.5zM653.1 703.1h1.5v1.5h-1.5zM654.6 703.1h1.5v1.5h-1.5zM657.6 703.1h1.5v1.5h-1.5zM669.6 703.1h1.5v1.5h-1.5zM672.6 703.1h1.5v1.5h-1.5zM674.1 703.1h1.5v1.5h-1.5zM675.6 703.1h1.5v1.5h-1.5zM678.6 703.1h1.5v1.5h-1.5zM680.1 703.1h1.5v1.5h-1.5zM681.6 703.1h1.5v1.5h-1.5zM683.1 703.1h1.5v1.5h-1.5zM684.6 703.1h1.5v1.5h-1.5zM686.1 703.1h1.5v1.5h-1.5zM687.6 703.1h1.5v1.5h-1.5zM692.1 703.1h1.5v1.5h-1.5zM696.6 703.1h1.5v1.5h-1.5zM698.1 703.1h1.5v1.5h-1.5zM699.6 703.1h1.5v1.5h-1.5zM701.1 703.1h1.5v1.5h-1.5zM629.9 704.4h1.5v1.5h-1.5zM631.4 704.4h1.5v1.5h-1.5zM634.4 704.4h1.5v1.5h-1.5zM635.9 704.4h1.5v1.5h-1.5zM637.4 704.4h1.5v1.5h-1.5zM638.9 704.4h1.5v1.5h-1.5zM640.4 704.4h1.5v1.5h-1.5zM641.9 704.4h1.5v1.5h-1.5zM643.4 704.4h1.5v1.5h-1.5zM644.9 704.4h1.5v1.5h-1.5zM647.9 704.4h1.5v1.5h-1.5zM649.4 704.4h1.5v1.5h-1.5zM650.9 704.4h1.5v1.5h-1.5zM653.9 704.4h1.5v1.5h-1.5zM655.4 704.4h1.5v1.5h-1.5zM656.9 704.4h1.5v1.5h-1.5zM659.9 704.4h1.5v1.5h-1.5zM665.9 704.4h1.5v1.5h-1.5zM667.4 704.4h1.5v1.5h-1.5zM668.9 704.4h1.5v1.5h-1.5zM670.4 704.4h1.5v1.5h-1.5zM673.4 704.4h1.5v1.5h-1.5zM674.9 704.4h1.5v1.5h-1.5zM677.9 704.4h1.5v1.5h-1.5zM679.4 704.4h1.5v1.5h-1.5zM680.9 704.4h1.5v1.5h-1.5zM682.4 704.4h1.5v1.5h-1.5zM683.9 704.4h1.5v1.5h-1.5zM685.4 704.4h1.5v1.5h-1.5zM688.4 704.4h1.5v1.5h-1.5zM689.9 704.4h1.5v1.5h-1.5zM691.4 704.4h1.5v1.5h-1.5zM692.9 704.4h1.5v1.5h-1.5zM694.4 704.4h1.5v1.5h-1.5zM700.4 704.4h1.5v1.5h-1.5zM701.9 704.4h1.5v1.5h-1.5zM630.6 705.7h1.5v1.5h-1.5zM632.1 705.7h1.5v1.5h-1.5zM635.1 705.7h1.5v1.5h-1.5zM638.1 705.7h1.5v1.5h-1.5zM639.6 705.7h1.5v1.5h-1.5zM641.1 705.7h1.5v1.5h-1.5zM642.6 705.7h1.5v1.5h-1.5zM644.1 705.7h1.5v1.5h-1.5zM645.6 705.7h1.5v1.5h-1.5zM647.1 705.7h1.5v1.5h-1.5zM650.1 705.7h1.5v1.5h-1.5zM654.6 705.7h1.5v1.5h-1.5zM659.1 705.7h1.5v1.5h-1.5zM660.6 705.7h1.5v1.5h-1.5zM662.1 705.7h1.5v1.5h-1.5zM665.1 705.7h1.5v1.5h-1.5zM666.6 705.7h1.5v1.5h-1.5zM669.6 705.7h1.5v1.5h-1.5zM672.6 705.7h1.5v1.5h-1.5zM674.1 705.7h1.5v1.5h-1.5zM678.6 705.7h1.5v1.5h-1.5zM680.1 705.7h1.5v1.5h-1.5zM681.6 705.7h1.5v1.5h-1.5zM683.1 705.7h1.5v1.5h-1.5zM684.6 705.7h1.5v1.5h-1.5zM686.1 705.7h1.5v1.5h-1.5zM689.1 705.7h1.5v1.5h-1.5zM690.6 705.7h1.5v1.5h-1.5zM692.1 705.7h1.5v1.5h-1.5zM695.1 705.7h1.5v1.5h-1.5zM696.6 705.7h1.5v1.5h-1.5zM698.1 705.7h1.5v1.5h-1.5zM699.6 705.7h1.5v1.5h-1.5zM701.1 705.7h1.5v1.5h-1.5zM631.4 707h1.5v1.5h-1.5zM632.9 707h1.5v1.5h-1.5zM635.9 707h1.5v1.5h-1.5zM637.4 707h1.5v1.5h-1.5zM638.9 707h1.5v1.5h-1.5zM641.9 707h1.5v1.5h-1.5zM643.4 707h1.5v1.5h-1.5zM644.9 707h1.5v1.5h-1.5zM647.9 707h1.5v1.5h-1.5zM649.4 707h1.5v1.5h-1.5zM652.4 707h1.5v1.5h-1.5zM653.9 707h1.5v1.5h-1.5zM656.9 707h1.5v1.5h-1.5zM659.9 707h1.5v1.5h-1.5zM662.9 707h1.5v1.5h-1.5zM667.4 707h1.5v1.5h-1.5zM668.9 707h1.5v1.5h-1.5zM671.9 707h1.5v1.5h-1.5zM673.4 707h1.5v1.5h-1.5zM674.9 707h1.5v1.5h-1.5zM676.4 707h1.5v1.5h-1.5zM677.9 707h1.5v1.5h-1.5zM679.4 707h1.5v1.5h-1.5zM680.9 707h1.5v1.5h-1.5zM682.4 707h1.5v1.5h-1.5zM685.4 707h1.5v1.5h-1.5zM686.9 707h1.5v1.5h-1.5zM688.4 707h1.5v1.5h-1.5zM689.9 707h1.5v1.5h-1.5zM691.4 707h1.5v1.5h-1.5zM692.9 707h1.5v1.5h-1.5zM694.4 707h1.5v1.5h-1.5zM695.9 707h1.5v1.5h-1.5zM697.4 707h1.5v1.5h-1.5zM698.9 707h1.5v1.5h-1.5zM701.9 707h1.5v1.5h-1.5zM630.6 708.3h1.5v1.5h-1.5zM632.1 708.3h1.5v1.5h-1.5zM633.6 708.3h1.5v1.5h-1.5zM635.1 708.3h1.5v1.5h-1.5zM636.6 708.3h1.5v1.5h-1.5zM638.1 708.3h1.5v1.5h-1.5zM639.6 708.3h1.5v1.5h-1.5zM641.1 708.3h1.5v1.5h-1.5zM644.1 708.3h1.5v1.5h-1.5zM645.6 708.3h1.5v1.5h-1.5zM647.1 708.3h1.5v1.5h-1.5zM648.6 708.3h1.5v1.5h-1.5zM650.1 708.3h1.5v1.5h-1.5zM651.6 708.3h1.5v1.5h-1.5zM653.1 708.3h1.5v1.5h-1.5zM656.1 708.3h1.5v1.5h-1.5zM659.1 708.3h1.5v1.5h-1.5zM660.6 708.3h1.5v1.5h-1.5zM663.6 708.3h1.5v1.5h-1.5zM665.1 708.3h1.5v1.5h-1.5zM668.1 708.3h1.5v1.5h-1.5zM669.6 708.3h1.5v1.5h-1.5zM671.1 708.3h1.5v1.5h-1.5zM672.6 708.3h1.5v1.5h-1.5zM675.6 708.3h1.5v1.5h-1.5zM678.6 708.3h1.5v1.5h-1.5zM681.6 708.3h1.5v1.5h-1.5zM683.1 708.3h1.5v1.5h-1.5zM684.6 708.3h1.5v1.5h-1.5zM686.1 708.3h1.5v1.5h-1.5zM687.6 708.3h1.5v1.5h-1.5zM692.1 708.3h1.5v1.5h-1.5zM693.6 708.3h1.5v1.5h-1.5zM696.6 708.3h1.5v1.5h-1.5zM698.1 708.3h1.5v1.5h-1.5zM699.6 708.3h1.5v1.5h-1.5zM701.1 708.3h1.5v1.5h-1.5zM702.6 708.3h1.5v1.5h-1.5zM629.9 709.6h1.5v1.5h-1.5zM631.4 709.6h1.5v1.5h-1.5zM632.9 709.6h1.5v1.5h-1.5zM634.4 709.6h1.5v1.5h-1.5zM635.9 709.6h1.5v1.5h-1.5zM638.9 709.6h1.5v1.5h-1.5zM640.4 709.6h1.5v1.5h-1.5zM643.4 709.6h1.5v1.5h-1.5zM644.9 709.6h1.5v1.5h-1.5zM646.4 709.6h1.5v1.5h-1.5zM647.9 709.6h1.5v1.5h-1.5zM649.4 709.6h1.5v1.5h-1.5zM650.9 709.6h1.5v1.5h-1.5zM652.4 709.6h1.5v1.5h-1.5zM653.9 709.6h1.5v1.5h-1.5zM655.4 709.6h1.5v1.5h-1.5zM656.9 709.6h1.5v1.5h-1.5zM658.4 709.6h1.5v1.5h-1.5zM659.9 709.6h1.5v1.5h-1.5zM661.4 709.6h1.5v1.5h-1.5zM664.4 709.6h1.5v1.5h-1.5zM665.9 709.6h1.5v1.5h-1.5zM667.4 709.6h1.5v1.5h-1.5zM670.4 709.6h1.5v1.5h-1.5zM671.9 709.6h1.5v1.5h-1.5zM674.9 709.6h1.5v1.5h-1.5zM676.4 709.6h1.5v1.5h-1.5zM679.4 709.6h1.5v1.5h-1.5zM680.9 709.6h1.5v1.5h-1.5zM682.4 709.6h1.5v1.5h-1.5zM685.4 709.6h1.5v1.5h-1.5zM686.9 709.6h1.5v1.5h-1.5zM688.4 709.6h1.5v1.5h-1.5zM689.9 709.6h1.5v1.5h-1.5zM691.4 709.6h1.5v1.5h-1.5zM692.9 709.6h1.5v1.5h-1.5zM694.4 709.6h1.5v1.5h-1.5zM698.9 709.6h1.5v1.5h-1.5zM700.4 709.6h1.5v1.5h-1.5zM701.9 709.6h1.5v1.5h-1.5zM630.6 710.9h1.5v1.5h-1.5zM632.1 710.9h1.5v1.5h-1.5zM633.6 710.9h1.5v1.5h-1.5zM635.1 710.9h1.5v1.5h-1.5zM636.6 710.9h1.5v1.5h-1.5zM638.1 710.9h1.5v1.5h-1.5zM641.1 710.9h1.5v1.5h-1.5zM642.6 710.9h1.5v1.5h-1.5zM644.1 710.9h1.5v1.5h-1.5zM645.6 710.9h1.5v1.5h-1.5zM647.1 710.9h1.5v1.5h-1.5zM650.1 710.9h1.5v1.5h-1.5zM651.6 710.9h1.5v1.5h-1.5zM653.1 710.9h1.5v1.5h-1.5zM656.1 710.9h1.5v1.5h-1.5zM659.1 710.9h1.5v1.5h-1.5zM660.6 710.9h1.5v1.5h-1.5zM662.1 710.9h1.5v1.5h-1.5zM663.6 710.9h1.5v1.5h-1.5zM665.1 710.9h1.5v1.5h-1.5zM666.6 710.9h1.5v1.5h-1.5zM669.6 710.9h1.5v1.5h-1.5zM672.6 710.9h1.5v1.5h-1.5zM674.1 710.9h1.5v1.5h-1.5zM675.6 710.9h1.5v1.5h-1.5zM677.1 710.9h1.5v1.5h-1.5zM678.6 710.9h1.5v1.5h-1.5zM680.1 710.9h1.5v1.5h-1.5zM681.6 710.9h1.5v1.5h-1.5zM683.1 710.9h1.5v1.5h-1.5zM686.1 710.9h1.5v1.5h-1.5zM689.1 710.9h1.5v1.5h-1.5zM690.6 710.9h1.5v1.5h-1.5zM692.1 710.9h1.5v1.5h-1.5zM693.6 710.9h1.5v1.5h-1.5zM695.1 710.9h1.5v1.5h-1.5zM696.6 710.9h1.5v1.5h-1.5zM698.1 710.9h1.5v1.5h-1.5zM699.6 710.9h1.5v1.5h-1.5zM701.1 710.9h1.5v1.5h-1.5zM702.6 710.9h1.5v1.5h-1.5zM629.9 712.2h1.5v1.5h-1.5zM634.4 712.2h1.5v1.5h-1.5zM635.9 712.2h1.5v1.5h-1.5zM637.4 712.2h1.5v1.5h-1.5zM638.9 712.2h1.5v1.5h-1.5zM640.4 712.2h1.5v1.5h-1.5zM641.9 712.2h1.5v1.5h-1.5zM643.4 712.2h1.5v1.5h-1.5zM646.4 712.2h1.5v1.5h-1.5zM647.9 712.2h1.5v1.5h-1.5zM650.9 712.2h1.5v1.5h-1.5zM652.4 712.2h1.5v1.5h-1.5zM653.9 712.2h1.5v1.5h-1.5zM655.4 712.2h1.5v1.5h-1.5zM656.9 712.2h1.5v1.5h-1.5zM659.9 712.2h1.5v1.5h-1.5zM661.4 712.2h1.5v1.5h-1.5zM664.4 712.2h1.5v1.5h-1.5zM665.9 712.2h1.5v1.5h-1.5zM667.4 712.2h1.5v1.5h-1.5zM668.9 712.2h1.5v1.5h-1.5zM671.9 712.2h1.5v1.5h-1.5zM673.4 712.2h1.5v1.5h-1.5zM677.9 712.2h1.5v1.5h-1.5zM680.9 712.2h1.5v1.5h-1.5zM682.4 712.2h1.5v1.5h-1.5zM688.4 712.2h1.5v1.5h-1.5zM689.9 712.2h1.5v1.5h-1.5zM691.4 712.2h1.5v1.5h-1.5zM692.9 712.2h1.5v1.5h-1.5zM694.4 712.2h1.5v1.5h-1.5zM695.9 712.2h1.5v1.5h-1.5zM698.9 712.2h1.5v1.5h-1.5zM700.4 712.2h1.5v1.5h-1.5zM701.9 712.2h1.5v1.5h-1.5zM630.6 713.5h1.5v1.5h-1.5zM633.6 713.5h1.5v1.5h-1.5zM636.6 713.5h1.5v1.5h-1.5zM638.1 713.5h1.5v1.5h-1.5zM639.6 713.5h1.5v1.5h-1.5zM641.1 713.5h1.5v1.5h-1.5zM642.6 713.5h1.5v1.5h-1.5zM645.6 713.5h1.5v1.5h-1.5zM647.1 713.5h1.5v1.5h-1.5zM648.6 713.5h1.5v1.5h-1.5zM651.6 713.5h1.5v1.5h-1.5zM653.1 713.5h1.5v1.5h-1.5zM654.6 713.5h1.5v1.5h-1.5zM656.1 713.5h1.5v1.5h-1.5zM657.6 713.5h1.5v1.5h-1.5zM659.1 713.5h1.5v1.5h-1.5zM660.6 713.5h1.5v1.5h-1.5zM662.1 713.5h1.5v1.5h-1.5zM663.6 713.5h1.5v1.5h-1.5zM665.1 713.5h1.5v1.5h-1.5zM668.1 713.5h1.5v1.5h-1.5zM669.6 713.5h1.5v1.5h-1.5zM672.6 713.5h1.5v1.5h-1.5zM674.1 713.5h1.5v1.5h-1.5zM675.6 713.5h1.5v1.5h-1.5zM680.1 713.5h1.5v1.5h-1.5zM681.6 713.5h1.5v1.5h-1.5zM683.1 713.5h1.5v1.5h-1.5zM684.6 713.5h1.5v1.5h-1.5zM686.1 713.5h1.5v1.5h-1.5zM687.6 713.5h1.5v1.5h-1.5zM689.1 713.5h1.5v1.5h-1.5zM690.6 713.5h1.5v1.5h-1.5zM692.1 713.5h1.5v1.5h-1.5zM693.6 713.5h1.5v1.5h-1.5zM695.1 713.5h1.5v1.5h-1.5zM698.1 713.5h1.5v1.5h-1.5zM699.6 713.5h1.5v1.5h-1.5zM701.1 713.5h1.5v1.5h-1.5zM702.6 713.5h1.5v1.5h-1.5zM629.9 714.8h1.5v1.5h-1.5zM631.4 714.8h1.5v1.5h-1.5zM632.9 714.8h1.5v1.5h-1.5zM634.4 714.8h1.5v1.5h-1.5zM635.9 714.8h1.5v1.5h-1.5zM637.4 714.8h1.5v1.5h-1.5zM640.4 714.8h1.5v1.5h-1.5zM641.9 714.8h1.5v1.5h-1.5zM644.9 714.8h1.5v1.5h-1.5zM647.9 714.8h1.5v1.5h-1.5zM649.4 714.8h1.5v1.5h-1.5zM652.4 714.8h1.5v1.5h-1.5zM653.9 714.8h1.5v1.5h-1.5zM655.4 714.8h1.5v1.5h-1.5zM656.9 714.8h1.5v1.5h-1.5zM658.4 714.8h1.5v1.5h-1.5zM659.9 714.8h1.5v1.5h-1.5zM662.9 714.8h1.5v1.5h-1.5zM664.4 714.8h1.5v1.5h-1.5zM667.4 714.8h1.5v1.5h-1.5zM670.4 714.8h1.5v1.5h-1.5zM671.9 714.8h1.5v1.5h-1.5zM673.4 714.8h1.5v1.5h-1.5zM674.9 714.8h1.5v1.5h-1.5zM676.4 714.8h1.5v1.5h-1.5zM677.9 714.8h1.5v1.5h-1.5zM680.9 714.8h1.5v1.5h-1.5zM683.9 714.8h1.5v1.5h-1.5zM688.4 714.8h1.5v1.5h-1.5zM691.4 714.8h1.5v1.5h-1.5zM692.9 714.8h1.5v1.5h-1.5zM694.4 714.8h1.5v1.5h-1.5zM695.9 714.8h1.5v1.5h-1.5zM697.4 714.8h1.5v1.5h-1.5zM698.9 714.8h1.5v1.5h-1.5zM700.4 714.8h1.5v1.5h-1.5zM701.9 714.8h1.5v1.5h-1.5zM703.4 714.8h1.5v1.5h-1.5zM630.6 716.1h1.5v1.5h-1.5zM632.1 716.1h1.5v1.5h-1.5zM633.6 716.1h1.5v1.5h-1.5zM636.6 716.1h1.5v1.5h-1.5zM638.1 716.1h1.5v1.5h-1.5zM639.6 716.1h1.5v1.5h-1.5zM641.1 716.1h1.5v1.5h-1.5zM642.6 716.1h1.5v1.5h-1.5zM647.1 716.1h1.5v1.5h-1.5zM648.6 716.1h1.5v1.5h-1.5zM650.1 716.1h1.5v1.5h-1.5zM651.6 716.1h1.5v1.5h-1.5zM653.1 716.1h1.5v1.5h-1.5zM654.6 716.1h1.5v1.5h-1.5zM656.1 716.1h1.5v1.5h-1.5zM657.6 716.1h1.5v1.5h-1.5zM659.1 716.1h1.5v1.5h-1.5zM662.1 716.1h1.5v1.5h-1.5zM663.6 716.1h1.5v1.5h-1.5zM665.1 716.1h1.5v1.5h-1.5zM666.6 716.1h1.5v1.5h-1.5zM668.1 716.1h1.5v1.5h-1.5zM669.6 716.1h1.5v1.5h-1.5zM671.1 716.1h1.5v1.5h-1.5zM672.6 716.1h1.5v1.5h-1.5zM674.1 716.1h1.5v1.5h-1.5zM675.6 716.1h1.5v1.5h-1.5zM677.1 716.1h1.5v1.5h-1.5zM678.6 716.1h1.5v1.5h-1.5zM680.1 716.1h1.5v1.5h-1.5zM681.6 716.1h1.5v1.5h-1.5zM683.1 716.1h1.5v1.5h-1.5zM684.6 716.1h1.5v1.5h-1.5zM686.1 716.1h1.5v1.5h-1.5zM687.6 716.1h1.5v1.5h-1.5zM689.1 716.1h1.5v1.5h-1.5zM692.1 716.1h1.5v1.5h-1.5zM693.6 716.1h1.5v1.5h-1.5zM695.1 716.1h1.5v1.5h-1.5zM696.6 716.1h1.5v1.5h-1.5zM698.1 716.1h1.5v1.5h-1.5zM699.6 716.1h1.5v1.5h-1.5zM701.1 716.1h1.5v1.5h-1.5zM702.6 716.1h1.5v1.5h-1.5zM629.9 717.4h1.5v1.5h-1.5zM631.4 717.4h1.5v1.5h-1.5zM632.9 717.4h1.5v1.5h-1.5zM637.4 717.4h1.5v1.5h-1.5zM638.9 717.4h1.5v1.5h-1.5zM640.4 717.4h1.5v1.5h-1.5zM641.9 717.4h1.5v1.5h-1.5zM643.4 717.4h1.5v1.5h-1.5zM650.9 717.4h1.5v1.5h-1.5zM652.4 717.4h1.5v1.5h-1.5zM653.9 717.4h1.5v1.5h-1.5zM655.4 717.4h1.5v1.5h-1.5zM656.9 717.4h1.5v1.5h-1.5zM658.4 717.4h1.5v1.5h-1.5zM661.4 717.4h1.5v1.5h-1.5zM662.9 717.4h1.5v1.5h-1.5zM665.9 717.4h1.5v1.5h-1.5zM667.4 717.4h1.5v1.5h-1.5zM668.9 717.4h1.5v1.5h-1.5zM671.9 717.4h1.5v1.5h-1.5zM673.4 717.4h1.5v1.5h-1.5zM674.9 717.4h1.5v1.5h-1.5zM677.9 717.4h1.5v1.5h-1.5zM679.4 717.4h1.5v1.5h-1.5zM680.9 717.4h1.5v1.5h-1.5zM685.4 717.4h1.5v1.5h-1.5zM686.9 717.4h1.5v1.5h-1.5zM688.4 717.4h1.5v1.5h-1.5zM689.9 717.4h1.5v1.5h-1.5zM692.9 717.4h1.5v1.5h-1.5zM697.4 717.4h1.5v1.5h-1.5zM698.9 717.4h1.5v1.5h-1.5zM630.6 718.7h1.5v1.5h-1.5zM632.1 718.7h1.5v1.5h-1.5zM635.1 718.7h1.5v1.5h-1.5zM636.6 718.7h1.5v1.5h-1.5zM639.6 718.7h1.5v1.5h-1.5zM641.1 718.7h1.5v1.5h-1.5zM642.6 718.7h1.5v1.5h-1.5zM647.1 718.7h1.5v1.5h-1.5zM648.6 718.7h1.5v1.5h-1.5zM650.1 718.7h1.5v1.5h-1.5zM651.6 718.7h1.5v1.5h-1.5zM657.6 718.7h1.5v1.5h-1.5zM659.1 718.7h1.5v1.5h-1.5zM660.6 718.7h1.5v1.5h-1.5zM663.6 718.7h1.5v1.5h-1.5zM666.6 718.7h1.5v1.5h-1.5zM668.1 718.7h1.5v1.5h-1.5zM669.6 718.7h1.5v1.5h-1.5zM672.6 718.7h1.5v1.5h-1.5zM674.1 718.7h1.5v1.5h-1.5zM675.6 718.7h1.5v1.5h-1.5zM677.1 718.7h1.5v1.5h-1.5zM678.6 718.7h1.5v1.5h-1.5zM680.1 718.7h1.5v1.5h-1.5zM683.1 718.7h1.5v1.5h-1.5zM684.6 718.7h1.5v1.5h-1.5zM686.1 718.7h1.5v1.5h-1.5zM689.1 718.7h1.5v1.5h-1.5zM692.1 718.7h1.5v1.5h-1.5zM695.1 718.7h1.5v1.5h-1.5zM699.6 718.7h1.5v1.5h-1.5zM701.1 718.7h1.5v1.5h-1.5zM702.6 718.7h1.5v1.5h-1.5zM629.9 720h1.5v1.5h-1.5zM634.4 720h1.5v1.5h-1.5zM635.9 720h1.5v1.5h-1.5zM637.4 720h1.5v1.5h-1.5zM638.9 720h1.5v1.5h-1.5zM641.9 720h1.5v1.5h-1.5zM643.4 720h1.5v1.5h-1.5zM644.9 720h1.5v1.5h-1.5zM649.4 720h1.5v1.5h-1.5zM650.9 720h1.5v1.5h-1.5zM652.4 720h1.5v1.5h-1.5zM653.9 720h1.5v1.5h-1.5zM655.4 720h1.5v1.5h-1.5zM659.9 720h1.5v1.5h-1.5zM661.4 720h1.5v1.5h-1.5zM664.4 720h1.5v1.5h-1.5zM665.9 720h1.5v1.5h-1.5zM667.4 720h1.5v1.5h-1.5zM668.9 720h1.5v1.5h-1.5zM671.9 720h1.5v1.5h-1.5zM674.9 720h1.5v1.5h-1.5zM676.4 720h1.5v1.5h-1.5zM677.9 720h1.5v1.5h-1.5zM680.9 720h1.5v1.5h-1.5zM682.4 720h1.5v1.5h-1.5zM683.9 720h1.5v1.5h-1.5zM685.4 720h1.5v1.5h-1.5zM686.9 720h1.5v1.5h-1.5zM688.4 720h1.5v1.5h-1.5zM691.4 720h1.5v1.5h-1.5zM692.9 720h1.5v1.5h-1.5zM694.4 720h1.5v1.5h-1.5zM697.4 720h1.5v1.5h-1.5zM698.9 720h1.5v1.5h-1.5zM700.4 720h1.5v1.5h-1.5zM701.9 720h1.5v1.5h-1.5zM630.6 721.4h1.5v1.5h-1.5zM633.6 721.4h1.5v1.5h-1.5zM635.1 721.4h1.5v1.5h-1.5zM638.1 721.4h1.5v1.5h-1.5zM639.6 721.4h1.5v1.5h-1.5zM641.1 721.4h1.5v1.5h-1.5zM642.6 721.4h1.5v1.5h-1.5zM644.1 721.4h1.5v1.5h-1.5zM645.6 721.4h1.5v1.5h-1.5zM647.1 721.4h1.5v1.5h-1.5zM648.6 721.4h1.5v1.5h-1.5zM650.1 721.4h1.5v1.5h-1.5zM651.6 721.4h1.5v1.5h-1.5zM653.1 721.4h1.5v1.5h-1.5zM654.6 721.4h1.5v1.5h-1.5zM656.1 721.4h1.5v1.5h-1.5zM657.6 721.4h1.5v1.5h-1.5zM659.1 721.4h1.5v1.5h-1.5zM660.6 721.4h1.5v1.5h-1.5zM662.1 721.4h1.5v1.5h-1.5zM665.1 721.4h1.5v1.5h-1.5zM666.6 721.4h1.5v1.5h-1.5zM672.6 721.4h1.5v1.5h-1.5zM674.1 721.4h1.5v1.5h-1.5zM677.1 721.4h1.5v1.5h-1.5zM678.6 721.4h1.5v1.5h-1.5zM680.1 721.4h1.5v1.5h-1.5zM684.6 721.4h1.5v1.5h-1.5zM686.1 721.4h1.5v1.5h-1.5zM689.1 721.4h1.5v1.5h-1.5zM690.6 721.4h1.5v1.5h-1.5zM692.1 721.4h1.5v1.5h-1.5zM695.1 721.4h1.5v1.5h-1.5zM696.6 721.4h1.5v1.5h-1.5zM698.1 721.4h1.5v1.5h-1.5zM699.6 721.4h1.5v1.5h-1.5zM701.1 721.4h1.5v1.5h-1.5zM629.9 722.7h1.5v1.5h-1.5zM631.4 722.7h1.5v1.5h-1.5zM632.9 722.7h1.5v1.5h-1.5zM635.9 722.7h1.5v1.5h-1.5zM638.9 722.7h1.5v1.5h-1.5zM641.9 722.7h1.5v1.5h-1.5zM643.4 722.7h1.5v1.5h-1.5zM644.9 722.7h1.5v1.5h-1.5zM646.4 722.7h1.5v1.5h-1.5zM647.9 722.7h1.5v1.5h-1.5zM649.4 722.7h1.5v1.5h-1.5zM650.9 722.7h1.5v1.5h-1.5zM652.4 722.7h1.5v1.5h-1.5zM653.9 722.7h1.5v1.5h-1.5zM656.9 722.7h1.5v1.5h-1.5zM659.9 722.7h1.5v1.5h-1.5zM661.4 722.7h1.5v1.5h-1.5zM664.4 722.7h1.5v1.5h-1.5zM665.9 722.7h1.5v1.5h-1.5zM670.4 722.7h1.5v1.5h-1.5zM671.9 722.7h1.5v1.5h-1.5zM673.4 722.7h1.5v1.5h-1.5zM674.9 722.7h1.5v1.5h-1.5zM677.9 722.7h1.5v1.5h-1.5zM679.4 722.7h1.5v1.5h-1.5zM682.4 722.7h1.5v1.5h-1.5zM683.9 722.7h1.5v1.5h-1.5zM685.4 722.7h1.5v1.5h-1.5zM686.9 722.7h1.5v1.5h-1.5zM689.9 722.7h1.5v1.5h-1.5zM691.4 722.7h1.5v1.5h-1.5zM694.4 722.7h1.5v1.5h-1.5zM695.9 722.7h1.5v1.5h-1.5zM697.4 722.7h1.5v1.5h-1.5zM635.1 724h1.5v1.5h-1.5zM636.6 724h1.5v1.5h-1.5zM639.6 724h1.5v1.5h-1.5zM641.1 724h1.5v1.5h-1.5zM642.6 724h1.5v1.5h-1.5zM644.1 724h1.5v1.5h-1.5zM645.6 724h1.5v1.5h-1.5zM647.1 724h1.5v1.5h-1.5zM648.6 724h1.5v1.5h-1.5zM650.1 724h1.5v1.5h-1.5zM651.6 724h1.5v1.5h-1.5zM653.1 724h1.5v1.5h-1.5zM654.6 724h1.5v1.5h-1.5zM660.6 724h1.5v1.5h-1.5zM663.6 724h1.5v1.5h-1.5zM665.1 724h1.5v1.5h-1.5zM666.6 724h1.5v1.5h-1.5zM669.6 724h1.5v1.5h-1.5zM671.1 724h1.5v1.5h-1.5zM672.6 724h1.5v1.5h-1.5zM674.1 724h1.5v1.5h-1.5zM675.6 724h1.5v1.5h-1.5zM677.1 724h1.5v1.5h-1.5zM681.6 724h1.5v1.5h-1.5zM683.1 724h1.5v1.5h-1.5zM684.6 724h1.5v1.5h-1.5zM689.1 724h1.5v1.5h-1.5zM692.1 724h1.5v1.5h-1.5zM695.1 724h1.5v1.5h-1.5zM696.6 724h1.5v1.5h-1.5zM698.1 724h1.5v1.5h-1.5zM699.6 724h1.5v1.5h-1.5zM643.4 725.3h1.5v1.5h-1.5zM644.9 725.3h1.5v1.5h-1.5zM646.4 725.3h1.5v1.5h-1.5zM647.9 725.3h1.5v1.5h-1.5zM649.4 725.3h1.5v1.5h-1.5zM652.4 725.3h1.5v1.5h-1.5zM653.9 725.3h1.5v1.5h-1.5zM655.4 725.3h1.5v1.5h-1.5zM656.9 725.3h1.5v1.5h-1.5zM659.9 725.3h1.5v1.5h-1.5zM661.4 725.3h1.5v1.5h-1.5zM662.9 725.3h1.5v1.5h-1.5zM667.4 725.3h1.5v1.5h-1.5zM668.9 725.3h1.5v1.5h-1.5zM670.4 725.3h1.5v1.5h-1.5zM673.4 725.3h1.5v1.5h-1.5zM676.4 725.3h1.5v1.5h-1.5zM679.4 725.3h1.5v1.5h-1.5zM680.9 725.3h1.5v1.5h-1.5zM682.4 725.3h1.5v1.5h-1.5zM683.9 725.3h1.5v1.5h-1.5zM685.4 725.3h1.5v1.5h-1.5zM686.9 725.3h1.5v1.5h-1.5zM688.4 725.3h1.5v1.5h-1.5zM689.9 725.3h1.5v1.5h-1.5zM691.4 725.3h1.5v1.5h-1.5zM692.9 725.3h1.5v1.5h-1.5zM694.4 725.3h1.5v1.5h-1.5zM695.9 725.3h1.5v1.5h-1.5zM697.4 725.3h1.5v1.5h-1.5zM698.9 725.3h1.5v1.5h-1.5zM651.6 726.6h1.5v1.5h-1.5zM653.1 726.6h1.5v1.5h-1.5zM654.6 726.6h1.5v1.5h-1.5zM656.1 726.6h1.5v1.5h-1.5zM657.6 726.6h1.5v1.5h-1.5zM659.1 726.6h1.5v1.5h-1.5zM662.1 726.6h1.5v1.5h-1.5zM663.6 726.6h1.5v1.5h-1.5zM668.1 726.6h1.5v1.5h-1.5zM669.6 726.6h1.5v1.5h-1.5zM671.1 726.6h1.5v1.5h-1.5zM672.6 726.6h1.5v1.5h-1.5zM674.1 726.6h1.5v1.5h-1.5zM675.6 726.6h1.5v1.5h-1.5zM677.1 726.6h1.5v1.5h-1.5zM678.6 726.6h1.5v1.5h-1.5zM680.1 726.6h1.5v1.5h-1.5zM681.6 726.6h1.5v1.5h-1.5zM684.6 726.6h1.5v1.5h-1.5zM686.1 726.6h1.5v1.5h-1.5zM687.6 726.6h1.5v1.5h-1.5zM689.1 726.6h1.5v1.5h-1.5zM692.1 726.6h1.5v1.5h-1.5zM693.6 726.6h1.5v1.5h-1.5zM696.6 726.6h1.5v1.5h-1.5zM698.1 726.6h1.5v1.5h-1.5zM699.6 726.6h1.5v1.5h-1.5zM659.9 727.9h1.5v1.5h-1.5zM662.9 727.9h1.5v1.5h-1.5zM664.4 727.9h1.5v1.5h-1.5zM668.9 727.9h1.5v1.5h-1.5zM670.4 727.9h1.5v1.5h-1.5zM671.9 727.9h1.5v1.5h-1.5zM673.4 727.9h1.5v1.5h-1.5zM674.9 727.9h1.5v1.5h-1.5zM677.9 727.9h1.5v1.5h-1.5zM679.4 727.9h1.5v1.5h-1.5zM680.9 727.9h1.5v1.5h-1.5zM682.4 727.9h1.5v1.5h-1.5zM683.9 727.9h1.5v1.5h-1.5zM685.4 727.9h1.5v1.5h-1.5zM686.9 727.9h1.5v1.5h-1.5zM688.4 727.9h1.5v1.5h-1.5zM689.9 727.9h1.5v1.5h-1.5zM692.9 727.9h1.5v1.5h-1.5zM694.4 727.9h1.5v1.5h-1.5zM695.9 727.9h1.5v1.5h-1.5zM697.4 727.9h1.5v1.5h-1.5zM665.1 729.2h1.5v1.5h-1.5zM666.6 729.2h1.5v1.5h-1.5zM669.6 729.2h1.5v1.5h-1.5zM674.1 729.2h1.5v1.5h-1.5zM677.1 729.2h1.5v1.5h-1.5zM678.6 729.2h1.5v1.5h-1.5zM680.1 729.2h1.5v1.5h-1.5zM681.6 729.2h1.5v1.5h-1.5zM684.6 729.2h1.5v1.5h-1.5zM687.6 729.2h1.5v1.5h-1.5zM689.1 729.2h1.5v1.5h-1.5zM693.6 729.2h1.5v1.5h-1.5zM695.1 729.2h1.5v1.5h-1.5zM698.1 729.2h1.5v1.5h-1.5zM699.6 729.2h1.5v1.5h-1.5zM668.9 730.5h1.5v1.5h-1.5zM670.4 730.5h1.5v1.5h-1.5zM673.4 730.5h1.5v1.5h-1.5zM677.9 730.5h1.5v1.5h-1.5zM680.9 730.5h1.5v1.5h-1.5zM682.4 730.5h1.5v1.5h-1.5zM683.9 730.5h1.5v1.5h-1.5zM685.4 730.5h1.5v1.5h-1.5zM686.9 730.5h1.5v1.5h-1.5zM695.9 730.5h1.5v1.5h-1.5zM697.4 730.5h1.5v1.5h-1.5zM698.9 730.5h1.5v1.5h-1.5zM674.1 731.8h1.5v1.5h-1.5zM675.6 731.8h1.5v1.5h-1.5zM677.1 731.8h1.5v1.5h-1.5zM678.6 731.8h1.5v1.5h-1.5zM680.1 731.8h1.5v1.5h-1.5zM681.6 731.8h1.5v1.5h-1.5zM683.1 731.8h1.5v1.5h-1.5zM684.6 731.8h1.5v1.5h-1.5zM686.1 731.8h1.5v1.5h-1.5zM687.6 731.8h1.5v1.5h-1.5zM689.1 731.8h1.5v1.5h-1.5zM690.6 731.8h1.5v1.5h-1.5zM692.1 731.8h1.5v1.5h-1.5zM693.6 731.8h1.5v1.5h-1.5zM696.6 731.8h1.5v1.5h-1.5zM698.1 731.8h1.5v1.5h-1.5zM699.6 731.8h1.5v1.5h-1.5zM679.4 733.1h1.5v1.5h-1.5zM680.9 733.1h1.5v1.5h-1.5zM682.4 733.1h1.5v1.5h-1.5zM685.4 733.1h1.5v1.5h-1.5zM686.9 733.1h1.5v1.5h-1.5zM688.4 733.1h1.5v1.5h-1.5zM689.9 733.1h1.5v1.5h-1.5zM691.4 733.1h1.5v1.5h-1.5zM692.9 733.1h1.5v1.5h-1.5zM695.9 733.1h1.5v1.5h-1.5zM697.4 733.1h1.5v1.5h-1.5zM683.1 734.4h1.5v1.5h-1.5zM684.6 734.4h1.5v1.5h-1.5zM686.1 734.4h1.5v1.5h-1.5zM689.1 734.4h1.5v1.5h-1.5zM690.6 734.4h1.5v1.5h-1.5zM692.1 734.4h1.5v1.5h-1.5zM693.6 734.4h1.5v1.5h-1.5zM696.6 734.4h1.5v1.5h-1.5zM698.1 734.4h1.5v1.5h-1.5zM686.9 735.7h1.5v1.5h-1.5zM688.4 735.7h1.5v1.5h-1.5zM689.9 735.7h1.5v1.5h-1.5zM691.4 735.7h1.5v1.5h-1.5zM692.9 735.7h1.5v1.5h-1.5zM694.4 735.7h1.5v1.5h-1.5zM695.9 735.7h1.5v1.5h-1.5zM697.4 735.7h1.5v1.5h-1.5zM689.1 737h1.5v1.5h-1.5zM690.6 737h1.5v1.5h-1.5zM692.1 737h1.5v1.5h-1.5zM693.6 737h1.5v1.5h-1.5zM695.1 737h1.5v1.5h-1.5zM696.6 737h1.5v1.5h-1.5zM691.4 738.3h1.5v1.5h-1.5zM694.4 738.3h1.5v1.5h-1.5zM695.9 738.3h1.5v1.5h-1.5zM697.4 738.3h1.5v1.5h-1.5zM693.6 739.6h1.5v1.5h-1.5zM695.1 739.6h1.5v1.5h-1.5zM696.6 739.6h1.5v1.5h-1.5zM698.1 739.6h1.5v1.5h-1.5zM697.4 740.9h1.5v1.5h-1.5z" fill="#8a5020"/>
<path d="M714.6 674.4h1.5v1.5h-1.5zM717.6 674.4h1.5v1.5h-1.5zM719.1 674.4h1.5v1.5h-1.5zM709.4 675.7h1.5v1.5h-1.5zM715.4 675.7h1.5v1.5h-1.5zM716.9 675.7h1.5v1.5h-1.5zM708.6 677h1.5v1.5h-1.5zM711.6 677h1.5v1.5h-1.5zM714.6 677h1.5v1.5h-1.5zM717.6 677h1.5v1.5h-1.5zM706.4 678.3h1.5v1.5h-1.5zM707.9 678.3h1.5v1.5h-1.5zM709.4 678.3h1.5v1.5h-1.5zM712.4 678.3h1.5v1.5h-1.5zM713.9 678.3h1.5v1.5h-1.5zM715.4 678.3h1.5v1.5h-1.5zM716.9 678.3h1.5v1.5h-1.5zM718.4 678.3h1.5v1.5h-1.5zM705.6 679.6h1.5v1.5h-1.5zM707.1 679.6h1.5v1.5h-1.5zM708.6 679.6h1.5v1.5h-1.5zM713.1 679.6h1.5v1.5h-1.5zM714.6 679.6h1.5v1.5h-1.5zM716.1 679.6h1.5v1.5h-1.5zM719.1 679.6h1.5v1.5h-1.5zM720.6 679.6h1.5v1.5h-1.5zM703.4 680.9h1.5v1.5h-1.5zM707.9 680.9h1.5v1.5h-1.5zM709.4 680.9h1.5v1.5h-1.5zM710.9 680.9h1.5v1.5h-1.5zM712.4 680.9h1.5v1.5h-1.5zM713.9 680.9h1.5v1.5h-1.5zM716.9 680.9h1.5v1.5h-1.5zM718.4 680.9h1.5v1.5h-1.5zM719.9 680.9h1.5v1.5h-1.5zM704.1 682.2h1.5v1.5h-1.5zM705.6 682.2h1.5v1.5h-1.5zM707.1 682.2h1.5v1.5h-1.5zM708.6 682.2h1.5v1.5h-1.5zM710.1 682.2h1.5v1.5h-1.5zM711.6 682.2h1.5v1.5h-1.5zM713.1 682.2h1.5v1.5h-1.5zM714.6 682.2h1.5v1.5h-1.5zM716.1 682.2h1.5v1.5h-1.5zM717.6 682.2h1.5v1.5h-1.5zM719.1 682.2h1.5v1.5h-1.5zM722.1 682.2h1.5v1.5h-1.5zM704.9 683.5h1.5v1.5h-1.5zM707.9 683.5h1.5v1.5h-1.5zM709.4 683.5h1.5v1.5h-1.5zM710.9 683.5h1.5v1.5h-1.5zM712.4 683.5h1.5v1.5h-1.5zM713.9 683.5h1.5v1.5h-1.5zM715.4 683.5h1.5v1.5h-1.5zM716.9 683.5h1.5v1.5h-1.5zM718.4 683.5h1.5v1.5h-1.5zM719.9 683.5h1.5v1.5h-1.5zM721.4 683.5h1.5v1.5h-1.5zM704.1 684.8h1.5v1.5h-1.5zM710.1 684.8h1.5v1.5h-1.5zM711.6 684.8h1.5v1.5h-1.5zM713.1 684.8h1.5v1.5h-1.5zM714.6 684.8h1.5v1.5h-1.5zM716.1 684.8h1.5v1.5h-1.5zM717.6 684.8h1.5v1.5h-1.5zM719.1 684.8h1.5v1.5h-1.5zM720.6 684.8h1.5v1.5h-1.5zM703.4 686.1h1.5v1.5h-1.5zM704.9 686.1h1.5v1.5h-1.5zM706.4 686.1h1.5v1.5h-1.5zM707.9 686.1h1.5v1.5h-1.5zM709.4 686.1h1.5v1.5h-1.5zM710.9 686.1h1.5v1.5h-1.5zM712.4 686.1h1.5v1.5h-1.5zM713.9 686.1h1.5v1.5h-1.5zM715.4 686.1h1.5v1.5h-1.5zM716.9 686.1h1.5v1.5h-1.5zM718.4 686.1h1.5v1.5h-1.5zM719.9 686.1h1.5v1.5h-1.5zM721.4 686.1h1.5v1.5h-1.5zM704.1 687.4h1.5v1.5h-1.5zM705.6 687.4h1.5v1.5h-1.5zM707.1 687.4h1.5v1.5h-1.5zM708.6 687.4h1.5v1.5h-1.5zM710.1 687.4h1.5v1.5h-1.5zM711.6 687.4h1.5v1.5h-1.5zM716.1 687.4h1.5v1.5h-1.5zM717.6 687.4h1.5v1.5h-1.5zM701.9 688.7h1.5v1.5h-1.5zM703.4 688.7h1.5v1.5h-1.5zM706.4 688.7h1.5v1.5h-1.5zM707.9 688.7h1.5v1.5h-1.5zM709.4 688.7h1.5v1.5h-1.5zM712.4 688.7h1.5v1.5h-1.5zM713.9 688.7h1.5v1.5h-1.5zM715.4 688.7h1.5v1.5h-1.5zM716.9 688.7h1.5v1.5h-1.5zM718.4 688.7h1.5v1.5h-1.5zM719.9 688.7h1.5v1.5h-1.5zM722.9 688.7h1.5v1.5h-1.5zM702.6 690h1.5v1.5h-1.5zM704.1 690h1.5v1.5h-1.5zM707.1 690h1.5v1.5h-1.5zM708.6 690h1.5v1.5h-1.5zM710.1 690h1.5v1.5h-1.5zM711.6 690h1.5v1.5h-1.5zM714.6 690h1.5v1.5h-1.5zM701.9 691.3h1.5v1.5h-1.5zM704.9 691.3h1.5v1.5h-1.5zM706.4 691.3h1.5v1.5h-1.5zM707.9 691.3h1.5v1.5h-1.5zM709.4 691.3h1.5v1.5h-1.5zM710.9 691.3h1.5v1.5h-1.5zM712.4 691.3h1.5v1.5h-1.5zM713.9 691.3h1.5v1.5h-1.5zM715.4 691.3h1.5v1.5h-1.5zM716.9 691.3h1.5v1.5h-1.5zM718.4 691.3h1.5v1.5h-1.5zM699.6 692.6h1.5v1.5h-1.5zM704.1 692.6h1.5v1.5h-1.5zM708.6 692.6h1.5v1.5h-1.5zM710.1 692.6h1.5v1.5h-1.5zM711.6 692.6h1.5v1.5h-1.5zM713.1 692.6h1.5v1.5h-1.5zM714.6 692.6h1.5v1.5h-1.5zM716.1 692.6h1.5v1.5h-1.5zM717.6 692.6h1.5v1.5h-1.5zM720.6 692.6h1.5v1.5h-1.5zM706.4 693.9h1.5v1.5h-1.5zM707.9 693.9h1.5v1.5h-1.5zM709.4 693.9h1.5v1.5h-1.5zM710.9 693.9h1.5v1.5h-1.5zM712.4 693.9h1.5v1.5h-1.5zM713.9 693.9h1.5v1.5h-1.5zM715.4 693.9h1.5v1.5h-1.5zM718.4 693.9h1.5v1.5h-1.5zM721.4 693.9h1.5v1.5h-1.5zM701.1 695.3h1.5v1.5h-1.5zM704.1 695.3h1.5v1.5h-1.5zM705.6 695.3h1.5v1.5h-1.5zM708.6 695.3h1.5v1.5h-1.5zM711.6 695.3h1.5v1.5h-1.5zM713.1 695.3h1.5v1.5h-1.5zM714.6 695.3h1.5v1.5h-1.5zM717.6 695.3h1.5v1.5h-1.5zM719.1 695.3h1.5v1.5h-1.5zM703.4 696.6h1.5v1.5h-1.5zM704.9 696.6h1.5v1.5h-1.5zM707.9 696.6h1.5v1.5h-1.5zM709.4 696.6h1.5v1.5h-1.5zM710.9 696.6h1.5v1.5h-1.5zM712.4 696.6h1.5v1.5h-1.5zM713.9 696.6h1.5v1.5h-1.5zM716.9 696.6h1.5v1.5h-1.5zM718.4 696.6h1.5v1.5h-1.5zM701.1 697.9h1.5v1.5h-1.5zM702.6 697.9h1.5v1.5h-1.5zM704.1 697.9h1.5v1.5h-1.5zM705.6 697.9h1.5v1.5h-1.5zM707.1 697.9h1.5v1.5h-1.5zM708.6 697.9h1.5v1.5h-1.5zM710.1 697.9h1.5v1.5h-1.5zM711.6 697.9h1.5v1.5h-1.5zM713.1 697.9h1.5v1.5h-1.5zM717.6 697.9h1.5v1.5h-1.5zM719.1 697.9h1.5v1.5h-1.5zM700.4 699.2h1.5v1.5h-1.5zM703.4 699.2h1.5v1.5h-1.5zM704.9 699.2h1.5v1.5h-1.5zM706.4 699.2h1.5v1.5h-1.5zM707.9 699.2h1.5v1.5h-1.5zM709.4 699.2h1.5v1.5h-1.5zM710.9 699.2h1.5v1.5h-1.5zM712.4 699.2h1.5v1.5h-1.5zM716.9 699.2h1.5v1.5h-1.5zM701.1 700.5h1.5v1.5h-1.5zM702.6 700.5h1.5v1.5h-1.5zM704.1 700.5h1.5v1.5h-1.5zM705.6 700.5h1.5v1.5h-1.5zM707.1 700.5h1.5v1.5h-1.5zM708.6 700.5h1.5v1.5h-1.5zM710.1 700.5h1.5v1.5h-1.5zM711.6 700.5h1.5v1.5h-1.5zM713.1 700.5h1.5v1.5h-1.5zM714.6 700.5h1.5v1.5h-1.5zM716.1 700.5h1.5v1.5h-1.5zM697.4 701.8h1.5v1.5h-1.5zM698.9 701.8h1.5v1.5h-1.5zM700.4 701.8h1.5v1.5h-1.5zM701.9 701.8h1.5v1.5h-1.5zM703.4 701.8h1.5v1.5h-1.5zM704.9 701.8h1.5v1.5h-1.5zM706.4 701.8h1.5v1.5h-1.5zM707.9 701.8h1.5v1.5h-1.5zM710.9 701.8h1.5v1.5h-1.5zM712.4 701.8h1.5v1.5h-1.5zM715.4 701.8h1.5v1.5h-1.5zM716.9 701.8h1.5v1.5h-1.5zM695.1 703.1h1.5v1.5h-1.5zM699.6 703.1h1.5v1.5h-1.5zM701.1 703.1h1.5v1.5h-1.5zM702.6 703.1h1.5v1.5h-1.5zM704.1 703.1h1.5v1.5h-1.5zM705.6 703.1h1.5v1.5h-1.5zM707.1 703.1h1.5v1.5h-1.5zM708.6 703.1h1.5v1.5h-1.5zM710.1 703.1h1.5v1.5h-1.5zM713.1 703.1h1.5v1.5h-1.5zM714.6 703.1h1.5v1.5h-1.5zM703.4 704.4h1.5v1.5h-1.5zM704.9 704.4h1.5v1.5h-1.5zM706.4 704.4h1.5v1.5h-1.5zM707.9 704.4h1.5v1.5h-1.5zM709.4 704.4h1.5v1.5h-1.5zM710.9 704.4h1.5v1.5h-1.5zM696.6 705.7h1.5v1.5h-1.5zM699.6 705.7h1.5v1.5h-1.5zM701.1 705.7h1.5v1.5h-1.5zM702.6 705.7h1.5v1.5h-1.5zM704.1 705.7h1.5v1.5h-1.5zM705.6 705.7h1.5v1.5h-1.5zM707.1 705.7h1.5v1.5h-1.5zM708.6 705.7h1.5v1.5h-1.5zM710.1 705.7h1.5v1.5h-1.5zM714.6 705.7h1.5v1.5h-1.5zM695.9 707h1.5v1.5h-1.5zM697.4 707h1.5v1.5h-1.5zM700.4 707h1.5v1.5h-1.5zM701.9 707h1.5v1.5h-1.5zM703.4 707h1.5v1.5h-1.5zM704.9 707h1.5v1.5h-1.5zM706.4 707h1.5v1.5h-1.5zM707.9 707h1.5v1.5h-1.5zM710.9 707h1.5v1.5h-1.5zM715.4 707h1.5v1.5h-1.5zM698.1 708.3h1.5v1.5h-1.5zM699.6 708.3h1.5v1.5h-1.5zM701.1 708.3h1.5v1.5h-1.5zM702.6 708.3h1.5v1.5h-1.5zM705.6 708.3h1.5v1.5h-1.5zM707.1 708.3h1.5v1.5h-1.5zM708.6 708.3h1.5v1.5h-1.5zM710.1 708.3h1.5v1.5h-1.5zM713.1 708.3h1.5v1.5h-1.5zM694.4 709.6h1.5v1.5h-1.5zM695.9 709.6h1.5v1.5h-1.5zM698.9 709.6h1.5v1.5h-1.5zM700.4 709.6h1.5v1.5h-1.5zM701.9 709.6h1.5v1.5h-1.5zM703.4 709.6h1.5v1.5h-1.5zM704.9 709.6h1.5v1.5h-1.5zM706.4 709.6h1.5v1.5h-1.5zM707.9 709.6h1.5v1.5h-1.5zM709.4 709.6h1.5v1.5h-1.5zM710.9 709.6h1.5v1.5h-1.5zM713.9 709.6h1.5v1.5h-1.5zM692.1 710.9h1.5v1.5h-1.5zM695.1 710.9h1.5v1.5h-1.5zM696.6 710.9h1.5v1.5h-1.5zM699.6 710.9h1.5v1.5h-1.5zM701.1 710.9h1.5v1.5h-1.5zM705.6 710.9h1.5v1.5h-1.5zM707.1 710.9h1.5v1.5h-1.5zM711.6 710.9h1.5v1.5h-1.5zM713.1 710.9h1.5v1.5h-1.5zM698.9 712.2h1.5v1.5h-1.5zM701.9 712.2h1.5v1.5h-1.5zM703.4 712.2h1.5v1.5h-1.5zM704.9 712.2h1.5v1.5h-1.5zM707.9 712.2h1.5v1.5h-1.5zM710.9 712.2h1.5v1.5h-1.5zM712.4 712.2h1.5v1.5h-1.5zM698.1 713.5h1.5v1.5h-1.5zM699.6 713.5h1.5v1.5h-1.5zM701.1 713.5h1.5v1.5h-1.5zM702.6 713.5h1.5v1.5h-1.5zM704.1 713.5h1.5v1.5h-1.5zM705.6 713.5h1.5v1.5h-1.5zM707.1 713.5h1.5v1.5h-1.5zM708.6 713.5h1.5v1.5h-1.5zM697.4 714.8h1.5v1.5h-1.5zM698.9 714.8h1.5v1.5h-1.5zM700.4 714.8h1.5v1.5h-1.5zM701.9 714.8h1.5v1.5h-1.5zM706.4 714.8h1.5v1.5h-1.5zM707.9 714.8h1.5v1.5h-1.5zM709.4 714.8h1.5v1.5h-1.5zM696.6 716.1h1.5v1.5h-1.5zM698.1 716.1h1.5v1.5h-1.5zM699.6 716.1h1.5v1.5h-1.5zM702.6 716.1h1.5v1.5h-1.5zM704.1 716.1h1.5v1.5h-1.5zM705.6 716.1h1.5v1.5h-1.5zM695.9 717.4h1.5v1.5h-1.5zM697.4 717.4h1.5v1.5h-1.5zM700.4 717.4h1.5v1.5h-1.5zM701.9 717.4h1.5v1.5h-1.5zM703.4 717.4h1.5v1.5h-1.5zM704.9 717.4h1.5v1.5h-1.5zM707.9 717.4h1.5v1.5h-1.5zM695.1 718.7h1.5v1.5h-1.5zM696.6 718.7h1.5v1.5h-1.5zM699.6 718.7h1.5v1.5h-1.5zM701.1 718.7h1.5v1.5h-1.5zM702.6 718.7h1.5v1.5h-1.5zM704.1 718.7h1.5v1.5h-1.5zM705.6 718.7h1.5v1.5h-1.5zM707.1 718.7h1.5v1.5h-1.5zM708.6 718.7h1.5v1.5h-1.5zM711.6 718.7h1.5v1.5h-1.5zM692.9 720h1.5v1.5h-1.5zM695.9 720h1.5v1.5h-1.5zM698.9 720h1.5v1.5h-1.5zM700.4 720h1.5v1.5h-1.5zM701.9 720h1.5v1.5h-1.5zM704.9 720h1.5v1.5h-1.5zM706.4 720h1.5v1.5h-1.5zM707.9 720h1.5v1.5h-1.5zM710.9 720h1.5v1.5h-1.5zM689.1 721.4h1.5v1.5h-1.5zM692.1 721.4h1.5v1.5h-1.5zM693.6 721.4h1.5v1.5h-1.5zM695.1 721.4h1.5v1.5h-1.5zM696.6 721.4h1.5v1.5h-1.5zM698.1 721.4h1.5v1.5h-1.5zM701.1 721.4h1.5v1.5h-1.5zM702.6 721.4h1.5v1.5h-1.5zM704.1 721.4h1.5v1.5h-1.5zM705.6 721.4h1.5v1.5h-1.5zM708.6 721.4h1.5v1.5h-1.5zM692.9 722.7h1.5v1.5h-1.5zM694.4 722.7h1.5v1.5h-1.5zM695.9 722.7h1.5v1.5h-1.5zM697.4 722.7h1.5v1.5h-1.5zM698.9 722.7h1.5v1.5h-1.5zM701.9 722.7h1.5v1.5h-1.5zM703.4 722.7h1.5v1.5h-1.5zM707.9 722.7h1.5v1.5h-1.5zM709.4 722.7h1.5v1.5h-1.5zM710.9 722.7h1.5v1.5h-1.5zM693.6 724h1.5v1.5h-1.5zM695.1 724h1.5v1.5h-1.5zM696.6 724h1.5v1.5h-1.5zM698.1 724h1.5v1.5h-1.5zM699.6 724h1.5v1.5h-1.5zM701.1 724h1.5v1.5h-1.5zM702.6 724h1.5v1.5h-1.5zM711.6 724h1.5v1.5h-1.5zM692.9 725.3h1.5v1.5h-1.5zM697.4 725.3h1.5v1.5h-1.5zM698.9 725.3h1.5v1.5h-1.5zM700.4 725.3h1.5v1.5h-1.5zM701.9 725.3h1.5v1.5h-1.5zM703.4 725.3h1.5v1.5h-1.5zM704.9 725.3h1.5v1.5h-1.5zM692.1 726.6h1.5v1.5h-1.5zM693.6 726.6h1.5v1.5h-1.5zM696.6 726.6h1.5v1.5h-1.5zM698.1 726.6h1.5v1.5h-1.5zM699.6 726.6h1.5v1.5h-1.5zM701.1 726.6h1.5v1.5h-1.5zM702.6 726.6h1.5v1.5h-1.5zM704.1 726.6h1.5v1.5h-1.5zM705.6 726.6h1.5v1.5h-1.5zM710.1 726.6h1.5v1.5h-1.5zM695.9 727.9h1.5v1.5h-1.5zM697.4 727.9h1.5v1.5h-1.5zM698.9 727.9h1.5v1.5h-1.5zM700.4 727.9h1.5v1.5h-1.5zM701.9 727.9h1.5v1.5h-1.5zM703.4 727.9h1.5v1.5h-1.5zM706.4 727.9h1.5v1.5h-1.5zM707.9 727.9h1.5v1.5h-1.5zM690.6 729.2h1.5v1.5h-1.5zM695.1 729.2h1.5v1.5h-1.5zM696.6 729.2h1.5v1.5h-1.5zM698.1 729.2h1.5v1.5h-1.5zM699.6 729.2h1.5v1.5h-1.5zM701.1 729.2h1.5v1.5h-1.5zM702.6 729.2h1.5v1.5h-1.5zM704.1 729.2h1.5v1.5h-1.5zM705.6 729.2h1.5v1.5h-1.5zM707.1 729.2h1.5v1.5h-1.5zM708.6 729.2h1.5v1.5h-1.5zM691.4 730.5h1.5v1.5h-1.5zM692.9 730.5h1.5v1.5h-1.5zM694.4 730.5h1.5v1.5h-1.5zM697.4 730.5h1.5v1.5h-1.5zM698.9 730.5h1.5v1.5h-1.5zM700.4 730.5h1.5v1.5h-1.5zM703.4 730.5h1.5v1.5h-1.5zM704.9 730.5h1.5v1.5h-1.5zM706.4 730.5h1.5v1.5h-1.5zM709.4 730.5h1.5v1.5h-1.5zM712.4 730.5h1.5v1.5h-1.5zM689.1 731.8h1.5v1.5h-1.5zM693.6 731.8h1.5v1.5h-1.5zM695.1 731.8h1.5v1.5h-1.5zM696.6 731.8h1.5v1.5h-1.5zM698.1 731.8h1.5v1.5h-1.5zM699.6 731.8h1.5v1.5h-1.5zM702.6 731.8h1.5v1.5h-1.5zM704.1 731.8h1.5v1.5h-1.5zM705.6 731.8h1.5v1.5h-1.5zM707.1 731.8h1.5v1.5h-1.5zM711.6 731.8h1.5v1.5h-1.5zM694.4 733.1h1.5v1.5h-1.5zM695.9 733.1h1.5v1.5h-1.5zM697.4 733.1h1.5v1.5h-1.5zM698.9 733.1h1.5v1.5h-1.5zM700.4 733.1h1.5v1.5h-1.5zM701.9 733.1h1.5v1.5h-1.5zM704.9 733.1h1.5v1.5h-1.5zM706.4 733.1h1.5v1.5h-1.5zM707.9 733.1h1.5v1.5h-1.5zM709.4 733.1h1.5v1.5h-1.5zM695.1 734.4h1.5v1.5h-1.5zM698.1 734.4h1.5v1.5h-1.5zM701.1 734.4h1.5v1.5h-1.5zM702.6 734.4h1.5v1.5h-1.5zM705.6 734.4h1.5v1.5h-1.5zM707.1 734.4h1.5v1.5h-1.5zM710.1 734.4h1.5v1.5h-1.5zM711.6 734.4h1.5v1.5h-1.5zM695.9 735.7h1.5v1.5h-1.5zM697.4 735.7h1.5v1.5h-1.5zM698.9 735.7h1.5v1.5h-1.5zM700.4 735.7h1.5v1.5h-1.5zM701.9 735.7h1.5v1.5h-1.5zM703.4 735.7h1.5v1.5h-1.5zM704.9 735.7h1.5v1.5h-1.5zM706.4 735.7h1.5v1.5h-1.5zM707.9 735.7h1.5v1.5h-1.5zM710.9 735.7h1.5v1.5h-1.5zM712.4 735.7h1.5v1.5h-1.5zM713.9 735.7h1.5v1.5h-1.5zM693.6 737h1.5v1.5h-1.5zM696.6 737h1.5v1.5h-1.5zM699.6 737h1.5v1.5h-1.5zM701.1 737h1.5v1.5h-1.5zM702.6 737h1.5v1.5h-1.5zM704.1 737h1.5v1.5h-1.5zM705.6 737h1.5v1.5h-1.5zM707.1 737h1.5v1.5h-1.5zM708.6 737h1.5v1.5h-1.5zM710.1 737h1.5v1.5h-1.5zM711.6 737h1.5v1.5h-1.5zM697.4 738.3h1.5v1.5h-1.5zM698.9 738.3h1.5v1.5h-1.5zM700.4 738.3h1.5v1.5h-1.5zM701.9 738.3h1.5v1.5h-1.5zM703.4 738.3h1.5v1.5h-1.5zM704.9 738.3h1.5v1.5h-1.5zM706.4 738.3h1.5v1.5h-1.5zM707.9 738.3h1.5v1.5h-1.5zM709.4 738.3h1.5v1.5h-1.5zM710.9 738.3h1.5v1.5h-1.5zM698.1 739.6h1.5v1.5h-1.5zM701.1 739.6h1.5v1.5h-1.5zM702.6 739.6h1.5v1.5h-1.5zM704.1 739.6h1.5v1.5h-1.5zM707.1 739.6h1.5v1.5h-1.5zM698.9 740.9h1.5v1.5h-1.5zM701.9 740.9h1.5v1.5h-1.5zM703.4 740.9h1.5v1.5h-1.5zM704.9 740.9h1.5v1.5h-1.5zM706.4 740.9h1.5v1.5h-1.5zM707.9 740.9h1.5v1.5h-1.5zM709.4 740.9h1.5v1.5h-1.5zM710.9 740.9h1.5v1.5h-1.5zM712.4 740.9h1.5v1.5h-1.5zM713.9 740.9h1.5v1.5h-1.5z" fill="#9a8020"/>
<circle cx="641.8" cy="634.4" r="4.2" fill="#8a5020"/>
<circle cx="641.8" cy="649.3" r="4.2" fill="#9a8020"/>
<text x="653" y="638.1" font-size="11.8" fill="#1f1f2a">Cancer cell 1</text>
<text x="653" y="653.1" font-size="11.8" fill="#1f1f2a">Cancer cell 2</text>
<rect x="744.4" y="620" width="110.4" height="130.7" fill="#52ab8a"/>
<rect x="750.4" y="626" width="98.4" height="118.7" fill="#fff"/>
<rect x="753.5" y="654" width="93.9" height="90.7" fill="#e4d3dd"/>
<polygon points="753.5,654 847.4,654 847.4,674 835.4,668 817.4,666 797.4,665 781.5,663 771.5,659 753.5,660" fill="#f1eaee" filter="url(#bl2)"/>
<polygon points="798.5,744.7 805.5,735.7 819.5,737.7 829.5,744.7" fill="#efe7ec" filter="url(#bl2)"/>
<polygon points="841.4,674 847.4,674 847.4,744.7 839.4,714.7" fill="#ebe2e8" filter="url(#bl2)"/>
<path d="M784.5 684.3h1.5v1.5h-1.5zM771 686.9h1.5v1.5h-1.5zM781.5 686.9h1.5v1.5h-1.5zM789 686.9h1.5v1.5h-1.5zM790.5 686.9h1.5v1.5h-1.5zM764.3 688.2h1.5v1.5h-1.5zM786.8 688.2h1.5v1.5h-1.5zM789.8 688.2h1.5v1.5h-1.5zM781.5 689.5h1.5v1.5h-1.5zM792 689.5h1.5v1.5h-1.5zM765.8 690.8h1.5v1.5h-1.5zM766.5 692.1h1.5v1.5h-1.5zM769.5 692.1h1.5v1.5h-1.5zM777 692.1h1.5v1.5h-1.5zM789 692.1h1.5v1.5h-1.5zM792 692.1h1.5v1.5h-1.5zM798 692.1h1.5v1.5h-1.5zM767.3 693.4h1.5v1.5h-1.5zM786.8 693.4h1.5v1.5h-1.5zM789.8 693.4h1.5v1.5h-1.5zM760.5 694.8h1.5v1.5h-1.5zM786 694.8h1.5v1.5h-1.5zM808.5 694.8h1.5v1.5h-1.5zM758.3 696.1h1.5v1.5h-1.5zM773.3 696.1h1.5v1.5h-1.5zM777.8 696.1h1.5v1.5h-1.5zM785.3 696.1h1.5v1.5h-1.5zM786.8 696.1h1.5v1.5h-1.5zM788.3 696.1h1.5v1.5h-1.5zM806.3 696.1h1.5v1.5h-1.5zM810.8 696.1h1.5v1.5h-1.5zM763.5 697.4h1.5v1.5h-1.5zM772.5 697.4h1.5v1.5h-1.5zM778.5 697.4h1.5v1.5h-1.5zM784.5 697.4h1.5v1.5h-1.5zM786 697.4h1.5v1.5h-1.5zM792 697.4h1.5v1.5h-1.5zM793.5 697.4h1.5v1.5h-1.5zM761.3 698.7h1.5v1.5h-1.5zM767.3 698.7h1.5v1.5h-1.5zM777.8 698.7h1.5v1.5h-1.5zM779.3 698.7h1.5v1.5h-1.5zM785.3 698.7h1.5v1.5h-1.5zM786.8 698.7h1.5v1.5h-1.5zM789.8 698.7h1.5v1.5h-1.5zM792.8 698.7h1.5v1.5h-1.5zM795.8 698.7h1.5v1.5h-1.5zM810.8 698.7h1.5v1.5h-1.5zM816.8 698.7h1.5v1.5h-1.5zM754.5 700h1.5v1.5h-1.5zM760.5 700h1.5v1.5h-1.5zM766.5 700h1.5v1.5h-1.5zM771 700h1.5v1.5h-1.5zM774 700h1.5v1.5h-1.5zM777 700h1.5v1.5h-1.5zM780 700h1.5v1.5h-1.5zM783 700h1.5v1.5h-1.5zM793.5 700h1.5v1.5h-1.5zM798 700h1.5v1.5h-1.5zM799.5 700h1.5v1.5h-1.5zM814.5 700h1.5v1.5h-1.5zM820.5 700h1.5v1.5h-1.5zM767.3 701.3h1.5v1.5h-1.5zM773.3 701.3h1.5v1.5h-1.5zM780.8 701.3h1.5v1.5h-1.5zM788.3 701.3h1.5v1.5h-1.5zM791.3 701.3h1.5v1.5h-1.5zM794.3 701.3h1.5v1.5h-1.5zM795.8 701.3h1.5v1.5h-1.5zM807.8 701.3h1.5v1.5h-1.5zM813.8 701.3h1.5v1.5h-1.5zM815.3 701.3h1.5v1.5h-1.5zM757.5 702.6h1.5v1.5h-1.5zM765 702.6h1.5v1.5h-1.5zM771 702.6h1.5v1.5h-1.5zM772.5 702.6h1.5v1.5h-1.5zM774 702.6h1.5v1.5h-1.5zM777 702.6h1.5v1.5h-1.5zM780 702.6h1.5v1.5h-1.5zM781.5 702.6h1.5v1.5h-1.5zM783 702.6h1.5v1.5h-1.5zM786 702.6h1.5v1.5h-1.5zM787.5 702.6h1.5v1.5h-1.5zM792 702.6h1.5v1.5h-1.5zM796.5 702.6h1.5v1.5h-1.5zM804 702.6h1.5v1.5h-1.5zM805.5 702.6h1.5v1.5h-1.5zM813 702.6h1.5v1.5h-1.5zM817.5 702.6h1.5v1.5h-1.5zM765.8 703.9h1.5v1.5h-1.5zM767.3 703.9h1.5v1.5h-1.5zM777.8 703.9h1.5v1.5h-1.5zM779.3 703.9h1.5v1.5h-1.5zM783.8 703.9h1.5v1.5h-1.5zM785.3 703.9h1.5v1.5h-1.5zM788.3 703.9h1.5v1.5h-1.5zM792.8 703.9h1.5v1.5h-1.5zM794.3 703.9h1.5v1.5h-1.5zM795.8 703.9h1.5v1.5h-1.5zM797.3 703.9h1.5v1.5h-1.5zM798.8 703.9h1.5v1.5h-1.5zM765 705.2h1.5v1.5h-1.5zM766.5 705.2h1.5v1.5h-1.5zM775.5 705.2h1.5v1.5h-1.5zM777 705.2h1.5v1.5h-1.5zM789 705.2h1.5v1.5h-1.5zM790.5 705.2h1.5v1.5h-1.5zM813 705.2h1.5v1.5h-1.5zM823.5 705.2h1.5v1.5h-1.5zM753.8 706.5h1.5v1.5h-1.5zM756.8 706.5h1.5v1.5h-1.5zM764.3 706.5h1.5v1.5h-1.5zM768.8 706.5h1.5v1.5h-1.5zM776.3 706.5h1.5v1.5h-1.5zM777.8 706.5h1.5v1.5h-1.5zM791.3 706.5h1.5v1.5h-1.5zM798.8 706.5h1.5v1.5h-1.5zM800.3 706.5h1.5v1.5h-1.5zM801.8 706.5h1.5v1.5h-1.5zM806.3 706.5h1.5v1.5h-1.5zM757.5 707.8h1.5v1.5h-1.5zM762 707.8h1.5v1.5h-1.5zM766.5 707.8h1.5v1.5h-1.5zM768 707.8h1.5v1.5h-1.5zM769.5 707.8h1.5v1.5h-1.5zM774 707.8h1.5v1.5h-1.5zM777 707.8h1.5v1.5h-1.5zM778.5 707.8h1.5v1.5h-1.5zM783 707.8h1.5v1.5h-1.5zM787.5 707.8h1.5v1.5h-1.5zM789 707.8h1.5v1.5h-1.5zM790.5 707.8h1.5v1.5h-1.5zM795 707.8h1.5v1.5h-1.5zM801 707.8h1.5v1.5h-1.5zM805.5 707.8h1.5v1.5h-1.5zM811.5 707.8h1.5v1.5h-1.5zM820.5 707.8h1.5v1.5h-1.5zM756.8 709.1h1.5v1.5h-1.5zM773.3 709.1h1.5v1.5h-1.5zM777.8 709.1h1.5v1.5h-1.5zM779.3 709.1h1.5v1.5h-1.5zM780.8 709.1h1.5v1.5h-1.5zM782.3 709.1h1.5v1.5h-1.5zM783.8 709.1h1.5v1.5h-1.5zM786.8 709.1h1.5v1.5h-1.5zM791.3 709.1h1.5v1.5h-1.5zM803.3 709.1h1.5v1.5h-1.5zM809.3 709.1h1.5v1.5h-1.5zM759 710.4h1.5v1.5h-1.5zM765 710.4h1.5v1.5h-1.5zM769.5 710.4h1.5v1.5h-1.5zM774 710.4h1.5v1.5h-1.5zM775.5 710.4h1.5v1.5h-1.5zM778.5 710.4h1.5v1.5h-1.5zM793.5 710.4h1.5v1.5h-1.5zM799.5 710.4h1.5v1.5h-1.5zM804 710.4h1.5v1.5h-1.5zM807 710.4h1.5v1.5h-1.5zM755.3 711.7h1.5v1.5h-1.5zM756.8 711.7h1.5v1.5h-1.5zM758.3 711.7h1.5v1.5h-1.5zM765.8 711.7h1.5v1.5h-1.5zM771.8 711.7h1.5v1.5h-1.5zM773.3 711.7h1.5v1.5h-1.5zM783.8 711.7h1.5v1.5h-1.5zM785.3 711.7h1.5v1.5h-1.5zM786.8 711.7h1.5v1.5h-1.5zM797.3 711.7h1.5v1.5h-1.5zM801.8 711.7h1.5v1.5h-1.5zM804.8 711.7h1.5v1.5h-1.5zM806.3 711.7h1.5v1.5h-1.5zM759 713h1.5v1.5h-1.5zM768 713h1.5v1.5h-1.5zM774 713h1.5v1.5h-1.5zM780 713h1.5v1.5h-1.5zM781.5 713h1.5v1.5h-1.5zM783 713h1.5v1.5h-1.5zM795 713h1.5v1.5h-1.5zM798 713h1.5v1.5h-1.5zM801 713h1.5v1.5h-1.5zM805.5 713h1.5v1.5h-1.5zM807 713h1.5v1.5h-1.5zM813 713h1.5v1.5h-1.5zM814.5 713h1.5v1.5h-1.5zM755.3 714.3h1.5v1.5h-1.5zM762.8 714.3h1.5v1.5h-1.5zM771.8 714.3h1.5v1.5h-1.5zM776.3 714.3h1.5v1.5h-1.5zM780.8 714.3h1.5v1.5h-1.5zM783.8 714.3h1.5v1.5h-1.5zM801.8 714.3h1.5v1.5h-1.5zM813.8 714.3h1.5v1.5h-1.5zM762 715.6h1.5v1.5h-1.5zM769.5 715.6h1.5v1.5h-1.5zM774 715.6h1.5v1.5h-1.5zM777 715.6h1.5v1.5h-1.5zM789 715.6h1.5v1.5h-1.5zM792 715.6h1.5v1.5h-1.5zM801 715.6h1.5v1.5h-1.5zM802.5 715.6h1.5v1.5h-1.5zM804 715.6h1.5v1.5h-1.5zM808.5 715.6h1.5v1.5h-1.5zM810 715.6h1.5v1.5h-1.5zM759.8 716.9h1.5v1.5h-1.5zM767.3 716.9h1.5v1.5h-1.5zM768.8 716.9h1.5v1.5h-1.5zM771.8 716.9h1.5v1.5h-1.5zM773.3 716.9h1.5v1.5h-1.5zM774.8 716.9h1.5v1.5h-1.5zM785.3 716.9h1.5v1.5h-1.5zM788.3 716.9h1.5v1.5h-1.5zM792.8 716.9h1.5v1.5h-1.5zM801.8 716.9h1.5v1.5h-1.5zM803.3 716.9h1.5v1.5h-1.5zM806.3 716.9h1.5v1.5h-1.5zM809.3 716.9h1.5v1.5h-1.5zM812.3 716.9h1.5v1.5h-1.5zM818.3 716.9h1.5v1.5h-1.5zM756 718.2h1.5v1.5h-1.5zM759 718.2h1.5v1.5h-1.5zM768 718.2h1.5v1.5h-1.5zM771 718.2h1.5v1.5h-1.5zM784.5 718.2h1.5v1.5h-1.5zM787.5 718.2h1.5v1.5h-1.5zM790.5 718.2h1.5v1.5h-1.5zM793.5 718.2h1.5v1.5h-1.5zM795 718.2h1.5v1.5h-1.5zM811.5 718.2h1.5v1.5h-1.5zM816 718.2h1.5v1.5h-1.5zM758.3 719.5h1.5v1.5h-1.5zM770.3 719.5h1.5v1.5h-1.5zM776.3 719.5h1.5v1.5h-1.5zM777.8 719.5h1.5v1.5h-1.5zM783.8 719.5h1.5v1.5h-1.5zM785.3 719.5h1.5v1.5h-1.5zM789.8 719.5h1.5v1.5h-1.5zM792.8 719.5h1.5v1.5h-1.5zM797.3 719.5h1.5v1.5h-1.5zM798.8 719.5h1.5v1.5h-1.5zM800.3 719.5h1.5v1.5h-1.5zM807.8 719.5h1.5v1.5h-1.5zM756 720.9h1.5v1.5h-1.5zM777 720.9h1.5v1.5h-1.5zM787.5 720.9h1.5v1.5h-1.5zM789 720.9h1.5v1.5h-1.5zM795 720.9h1.5v1.5h-1.5zM804 720.9h1.5v1.5h-1.5zM808.5 720.9h1.5v1.5h-1.5zM811.5 720.9h1.5v1.5h-1.5zM814.5 720.9h1.5v1.5h-1.5zM758.3 722.2h1.5v1.5h-1.5zM765.8 722.2h1.5v1.5h-1.5zM771.8 722.2h1.5v1.5h-1.5zM776.3 722.2h1.5v1.5h-1.5zM779.3 722.2h1.5v1.5h-1.5zM788.3 722.2h1.5v1.5h-1.5zM792.8 722.2h1.5v1.5h-1.5zM800.3 722.2h1.5v1.5h-1.5zM803.3 722.2h1.5v1.5h-1.5zM759 723.5h1.5v1.5h-1.5zM760.5 723.5h1.5v1.5h-1.5zM780 723.5h1.5v1.5h-1.5zM781.5 723.5h1.5v1.5h-1.5zM793.5 723.5h1.5v1.5h-1.5zM799.5 723.5h1.5v1.5h-1.5zM755.3 724.8h1.5v1.5h-1.5zM759.8 724.8h1.5v1.5h-1.5zM767.3 724.8h1.5v1.5h-1.5zM768.8 724.8h1.5v1.5h-1.5zM770.3 724.8h1.5v1.5h-1.5zM777.8 724.8h1.5v1.5h-1.5zM779.3 724.8h1.5v1.5h-1.5zM785.3 724.8h1.5v1.5h-1.5zM801.8 724.8h1.5v1.5h-1.5zM806.3 724.8h1.5v1.5h-1.5zM763.5 726.1h1.5v1.5h-1.5zM765 726.1h1.5v1.5h-1.5zM766.5 726.1h1.5v1.5h-1.5zM768 726.1h1.5v1.5h-1.5zM775.5 726.1h1.5v1.5h-1.5zM783 726.1h1.5v1.5h-1.5zM786 726.1h1.5v1.5h-1.5zM787.5 726.1h1.5v1.5h-1.5zM792 726.1h1.5v1.5h-1.5zM795 726.1h1.5v1.5h-1.5zM762.8 727.4h1.5v1.5h-1.5zM764.3 727.4h1.5v1.5h-1.5zM773.3 727.4h1.5v1.5h-1.5zM785.3 727.4h1.5v1.5h-1.5zM786.8 727.4h1.5v1.5h-1.5zM791.3 727.4h1.5v1.5h-1.5zM798.8 727.4h1.5v1.5h-1.5zM806.3 727.4h1.5v1.5h-1.5zM760.5 728.7h1.5v1.5h-1.5zM765 728.7h1.5v1.5h-1.5zM766.5 728.7h1.5v1.5h-1.5zM774 728.7h1.5v1.5h-1.5zM792 728.7h1.5v1.5h-1.5zM795 728.7h1.5v1.5h-1.5zM796.5 728.7h1.5v1.5h-1.5zM801 728.7h1.5v1.5h-1.5zM765.8 730h1.5v1.5h-1.5zM767.3 730h1.5v1.5h-1.5zM768.8 730h1.5v1.5h-1.5zM789.8 730h1.5v1.5h-1.5zM791.3 730h1.5v1.5h-1.5zM792.8 730h1.5v1.5h-1.5zM795.8 730h1.5v1.5h-1.5zM800.3 730h1.5v1.5h-1.5zM801.8 730h1.5v1.5h-1.5zM775.5 731.3h1.5v1.5h-1.5zM787.5 731.3h1.5v1.5h-1.5zM796.5 731.3h1.5v1.5h-1.5zM771.8 732.6h1.5v1.5h-1.5zM776.3 732.6h1.5v1.5h-1.5zM780.8 732.6h1.5v1.5h-1.5zM797.3 732.6h1.5v1.5h-1.5zM775.5 733.9h1.5v1.5h-1.5zM778.5 733.9h1.5v1.5h-1.5zM772.5 736.5h1.5v1.5h-1.5zM787.5 736.5h1.5v1.5h-1.5zM788.3 737.8h1.5v1.5h-1.5zM791.3 737.8h1.5v1.5h-1.5zM785.3 740.4h1.5v1.5h-1.5z" fill="#cdc486"/>
<path d="M842.3 672.6h1.5v1.5h-1.5zM834 673.9h1.5v1.5h-1.5zM838.5 673.9h1.5v1.5h-1.5zM841.5 673.9h1.5v1.5h-1.5zM831.8 675.2h1.5v1.5h-1.5zM839.3 675.2h1.5v1.5h-1.5zM834 676.5h1.5v1.5h-1.5zM835.5 676.5h1.5v1.5h-1.5zM837 676.5h1.5v1.5h-1.5zM838.5 676.5h1.5v1.5h-1.5zM840 676.5h1.5v1.5h-1.5zM843 676.5h1.5v1.5h-1.5zM834.8 677.8h1.5v1.5h-1.5zM836.3 677.8h1.5v1.5h-1.5zM837.8 677.8h1.5v1.5h-1.5zM839.3 677.8h1.5v1.5h-1.5zM842.3 677.8h1.5v1.5h-1.5zM845.3 677.8h1.5v1.5h-1.5zM832.5 679.1h1.5v1.5h-1.5zM834 679.1h1.5v1.5h-1.5zM835.5 679.1h1.5v1.5h-1.5zM837 679.1h1.5v1.5h-1.5zM838.5 679.1h1.5v1.5h-1.5zM841.5 679.1h1.5v1.5h-1.5zM843 679.1h1.5v1.5h-1.5zM833.3 680.4h1.5v1.5h-1.5zM834.8 680.4h1.5v1.5h-1.5zM836.3 680.4h1.5v1.5h-1.5zM837.8 680.4h1.5v1.5h-1.5zM839.3 680.4h1.5v1.5h-1.5zM840.8 680.4h1.5v1.5h-1.5zM842.3 680.4h1.5v1.5h-1.5zM845.3 680.4h1.5v1.5h-1.5zM831 681.7h1.5v1.5h-1.5zM832.5 681.7h1.5v1.5h-1.5zM834 681.7h1.5v1.5h-1.5zM835.5 681.7h1.5v1.5h-1.5zM837 681.7h1.5v1.5h-1.5zM838.5 681.7h1.5v1.5h-1.5zM840 681.7h1.5v1.5h-1.5zM841.5 681.7h1.5v1.5h-1.5zM844.5 681.7h1.5v1.5h-1.5zM831.8 683h1.5v1.5h-1.5zM833.3 683h1.5v1.5h-1.5zM834.8 683h1.5v1.5h-1.5zM836.3 683h1.5v1.5h-1.5zM837.8 683h1.5v1.5h-1.5zM839.3 683h1.5v1.5h-1.5zM840.8 683h1.5v1.5h-1.5zM842.3 683h1.5v1.5h-1.5zM831 684.3h1.5v1.5h-1.5zM832.5 684.3h1.5v1.5h-1.5zM834 684.3h1.5v1.5h-1.5zM835.5 684.3h1.5v1.5h-1.5zM837 684.3h1.5v1.5h-1.5zM838.5 684.3h1.5v1.5h-1.5zM840 684.3h1.5v1.5h-1.5zM830.3 685.6h1.5v1.5h-1.5zM831.8 685.6h1.5v1.5h-1.5zM833.3 685.6h1.5v1.5h-1.5zM834.8 685.6h1.5v1.5h-1.5zM836.3 685.6h1.5v1.5h-1.5zM837.8 685.6h1.5v1.5h-1.5zM839.3 685.6h1.5v1.5h-1.5zM840.8 685.6h1.5v1.5h-1.5zM842.3 685.6h1.5v1.5h-1.5zM829.5 686.9h1.5v1.5h-1.5zM832.5 686.9h1.5v1.5h-1.5zM834 686.9h1.5v1.5h-1.5zM835.5 686.9h1.5v1.5h-1.5zM837 686.9h1.5v1.5h-1.5zM838.5 686.9h1.5v1.5h-1.5zM840 686.9h1.5v1.5h-1.5zM841.5 686.9h1.5v1.5h-1.5zM844.5 686.9h1.5v1.5h-1.5zM827.3 688.2h1.5v1.5h-1.5zM828.8 688.2h1.5v1.5h-1.5zM830.3 688.2h1.5v1.5h-1.5zM833.3 688.2h1.5v1.5h-1.5zM834.8 688.2h1.5v1.5h-1.5zM836.3 688.2h1.5v1.5h-1.5zM837.8 688.2h1.5v1.5h-1.5zM839.3 688.2h1.5v1.5h-1.5zM840.8 688.2h1.5v1.5h-1.5zM843.8 688.2h1.5v1.5h-1.5zM829.5 689.5h1.5v1.5h-1.5zM831 689.5h1.5v1.5h-1.5zM832.5 689.5h1.5v1.5h-1.5zM835.5 689.5h1.5v1.5h-1.5zM837 689.5h1.5v1.5h-1.5zM838.5 689.5h1.5v1.5h-1.5zM840 689.5h1.5v1.5h-1.5zM830.3 690.8h1.5v1.5h-1.5zM831.8 690.8h1.5v1.5h-1.5zM833.3 690.8h1.5v1.5h-1.5zM834.8 690.8h1.5v1.5h-1.5zM836.3 690.8h1.5v1.5h-1.5zM837.8 690.8h1.5v1.5h-1.5zM839.3 690.8h1.5v1.5h-1.5zM826.5 692.1h1.5v1.5h-1.5zM828 692.1h1.5v1.5h-1.5zM829.5 692.1h1.5v1.5h-1.5zM831 692.1h1.5v1.5h-1.5zM832.5 692.1h1.5v1.5h-1.5zM834 692.1h1.5v1.5h-1.5zM835.5 692.1h1.5v1.5h-1.5zM837 692.1h1.5v1.5h-1.5zM838.5 692.1h1.5v1.5h-1.5zM840 692.1h1.5v1.5h-1.5zM828.8 693.4h1.5v1.5h-1.5zM830.3 693.4h1.5v1.5h-1.5zM831.8 693.4h1.5v1.5h-1.5zM833.3 693.4h1.5v1.5h-1.5zM834.8 693.4h1.5v1.5h-1.5zM836.3 693.4h1.5v1.5h-1.5zM837.8 693.4h1.5v1.5h-1.5zM839.3 693.4h1.5v1.5h-1.5zM828 694.8h1.5v1.5h-1.5zM831 694.8h1.5v1.5h-1.5zM832.5 694.8h1.5v1.5h-1.5zM834 694.8h1.5v1.5h-1.5zM835.5 694.8h1.5v1.5h-1.5zM837 694.8h1.5v1.5h-1.5zM838.5 694.8h1.5v1.5h-1.5zM828.8 696.1h1.5v1.5h-1.5zM830.3 696.1h1.5v1.5h-1.5zM831.8 696.1h1.5v1.5h-1.5zM833.3 696.1h1.5v1.5h-1.5zM834.8 696.1h1.5v1.5h-1.5zM836.3 696.1h1.5v1.5h-1.5zM837.8 696.1h1.5v1.5h-1.5zM825 697.4h1.5v1.5h-1.5zM828 697.4h1.5v1.5h-1.5zM829.5 697.4h1.5v1.5h-1.5zM831 697.4h1.5v1.5h-1.5zM832.5 697.4h1.5v1.5h-1.5zM834 697.4h1.5v1.5h-1.5zM835.5 697.4h1.5v1.5h-1.5zM825.8 698.7h1.5v1.5h-1.5zM827.3 698.7h1.5v1.5h-1.5zM828.8 698.7h1.5v1.5h-1.5zM830.3 698.7h1.5v1.5h-1.5zM831.8 698.7h1.5v1.5h-1.5zM833.3 698.7h1.5v1.5h-1.5zM834.8 698.7h1.5v1.5h-1.5zM836.3 698.7h1.5v1.5h-1.5zM839.3 698.7h1.5v1.5h-1.5zM825 700h1.5v1.5h-1.5zM826.5 700h1.5v1.5h-1.5zM828 700h1.5v1.5h-1.5zM829.5 700h1.5v1.5h-1.5zM831 700h1.5v1.5h-1.5zM832.5 700h1.5v1.5h-1.5zM834 700h1.5v1.5h-1.5zM835.5 700h1.5v1.5h-1.5zM837 700h1.5v1.5h-1.5zM838.5 700h1.5v1.5h-1.5zM825.8 701.3h1.5v1.5h-1.5zM827.3 701.3h1.5v1.5h-1.5zM828.8 701.3h1.5v1.5h-1.5zM830.3 701.3h1.5v1.5h-1.5zM831.8 701.3h1.5v1.5h-1.5zM833.3 701.3h1.5v1.5h-1.5zM834.8 701.3h1.5v1.5h-1.5zM837.8 701.3h1.5v1.5h-1.5zM839.3 701.3h1.5v1.5h-1.5zM828 702.6h1.5v1.5h-1.5zM829.5 702.6h1.5v1.5h-1.5zM831 702.6h1.5v1.5h-1.5zM832.5 702.6h1.5v1.5h-1.5zM834 702.6h1.5v1.5h-1.5zM835.5 702.6h1.5v1.5h-1.5zM837 702.6h1.5v1.5h-1.5zM838.5 702.6h1.5v1.5h-1.5zM825.8 703.9h1.5v1.5h-1.5zM827.3 703.9h1.5v1.5h-1.5zM830.3 703.9h1.5v1.5h-1.5zM831.8 703.9h1.5v1.5h-1.5zM833.3 703.9h1.5v1.5h-1.5zM834.8 703.9h1.5v1.5h-1.5zM836.3 703.9h1.5v1.5h-1.5zM837.8 703.9h1.5v1.5h-1.5zM826.5 705.2h1.5v1.5h-1.5zM829.5 705.2h1.5v1.5h-1.5zM831 705.2h1.5v1.5h-1.5zM832.5 705.2h1.5v1.5h-1.5zM834 705.2h1.5v1.5h-1.5zM835.5 705.2h1.5v1.5h-1.5zM837 705.2h1.5v1.5h-1.5zM840 705.2h1.5v1.5h-1.5zM827.3 706.5h1.5v1.5h-1.5zM828.8 706.5h1.5v1.5h-1.5zM830.3 706.5h1.5v1.5h-1.5zM831.8 706.5h1.5v1.5h-1.5zM833.3 706.5h1.5v1.5h-1.5zM834.8 706.5h1.5v1.5h-1.5zM836.3 706.5h1.5v1.5h-1.5zM837.8 706.5h1.5v1.5h-1.5zM828 707.8h1.5v1.5h-1.5zM831 707.8h1.5v1.5h-1.5zM834 707.8h1.5v1.5h-1.5zM835.5 707.8h1.5v1.5h-1.5zM837 707.8h1.5v1.5h-1.5zM838.5 707.8h1.5v1.5h-1.5zM840 707.8h1.5v1.5h-1.5zM841.5 707.8h1.5v1.5h-1.5zM825.8 709.1h1.5v1.5h-1.5zM828.8 709.1h1.5v1.5h-1.5zM830.3 709.1h1.5v1.5h-1.5zM831.8 709.1h1.5v1.5h-1.5zM833.3 709.1h1.5v1.5h-1.5zM834.8 709.1h1.5v1.5h-1.5zM836.3 709.1h1.5v1.5h-1.5zM837.8 709.1h1.5v1.5h-1.5zM839.3 709.1h1.5v1.5h-1.5zM825 710.4h1.5v1.5h-1.5zM829.5 710.4h1.5v1.5h-1.5zM831 710.4h1.5v1.5h-1.5zM832.5 710.4h1.5v1.5h-1.5zM834 710.4h1.5v1.5h-1.5zM835.5 710.4h1.5v1.5h-1.5zM837 710.4h1.5v1.5h-1.5zM838.5 710.4h1.5v1.5h-1.5zM840 710.4h1.5v1.5h-1.5zM828.8 711.7h1.5v1.5h-1.5zM830.3 711.7h1.5v1.5h-1.5zM831.8 711.7h1.5v1.5h-1.5zM833.3 711.7h1.5v1.5h-1.5zM834.8 711.7h1.5v1.5h-1.5zM836.3 711.7h1.5v1.5h-1.5zM837.8 711.7h1.5v1.5h-1.5zM839.3 711.7h1.5v1.5h-1.5zM840.8 711.7h1.5v1.5h-1.5zM829.5 713h1.5v1.5h-1.5zM831 713h1.5v1.5h-1.5zM832.5 713h1.5v1.5h-1.5zM834 713h1.5v1.5h-1.5zM835.5 713h1.5v1.5h-1.5zM837 713h1.5v1.5h-1.5zM838.5 713h1.5v1.5h-1.5zM840 713h1.5v1.5h-1.5zM841.5 713h1.5v1.5h-1.5zM830.3 714.3h1.5v1.5h-1.5zM831.8 714.3h1.5v1.5h-1.5zM834.8 714.3h1.5v1.5h-1.5zM836.3 714.3h1.5v1.5h-1.5zM837.8 714.3h1.5v1.5h-1.5zM839.3 714.3h1.5v1.5h-1.5zM840.8 714.3h1.5v1.5h-1.5zM829.5 715.6h1.5v1.5h-1.5zM831 715.6h1.5v1.5h-1.5zM832.5 715.6h1.5v1.5h-1.5zM834 715.6h1.5v1.5h-1.5zM835.5 715.6h1.5v1.5h-1.5zM837 715.6h1.5v1.5h-1.5zM838.5 715.6h1.5v1.5h-1.5zM830.3 716.9h1.5v1.5h-1.5zM831.8 716.9h1.5v1.5h-1.5zM833.3 716.9h1.5v1.5h-1.5zM834.8 716.9h1.5v1.5h-1.5zM836.3 716.9h1.5v1.5h-1.5zM837.8 716.9h1.5v1.5h-1.5zM842.3 716.9h1.5v1.5h-1.5zM831 718.2h1.5v1.5h-1.5zM832.5 718.2h1.5v1.5h-1.5zM834 718.2h1.5v1.5h-1.5zM835.5 718.2h1.5v1.5h-1.5zM837 718.2h1.5v1.5h-1.5zM838.5 718.2h1.5v1.5h-1.5zM841.5 718.2h1.5v1.5h-1.5zM833.3 719.5h1.5v1.5h-1.5zM834.8 719.5h1.5v1.5h-1.5zM836.3 719.5h1.5v1.5h-1.5zM837.8 719.5h1.5v1.5h-1.5zM839.3 719.5h1.5v1.5h-1.5zM840.8 719.5h1.5v1.5h-1.5zM831 720.9h1.5v1.5h-1.5zM832.5 720.9h1.5v1.5h-1.5zM834 720.9h1.5v1.5h-1.5zM835.5 720.9h1.5v1.5h-1.5zM837 720.9h1.5v1.5h-1.5zM840 720.9h1.5v1.5h-1.5zM841.5 720.9h1.5v1.5h-1.5zM828.8 722.2h1.5v1.5h-1.5zM830.3 722.2h1.5v1.5h-1.5zM831.8 722.2h1.5v1.5h-1.5zM833.3 722.2h1.5v1.5h-1.5zM834.8 722.2h1.5v1.5h-1.5zM836.3 722.2h1.5v1.5h-1.5zM839.3 722.2h1.5v1.5h-1.5zM829.5 723.5h1.5v1.5h-1.5zM831 723.5h1.5v1.5h-1.5zM832.5 723.5h1.5v1.5h-1.5zM834 723.5h1.5v1.5h-1.5zM835.5 723.5h1.5v1.5h-1.5zM837 723.5h1.5v1.5h-1.5zM838.5 723.5h1.5v1.5h-1.5zM840 723.5h1.5v1.5h-1.5zM841.5 723.5h1.5v1.5h-1.5zM825.8 724.8h1.5v1.5h-1.5zM830.3 724.8h1.5v1.5h-1.5zM831.8 724.8h1.5v1.5h-1.5zM833.3 724.8h1.5v1.5h-1.5zM834.8 724.8h1.5v1.5h-1.5zM837.8 724.8h1.5v1.5h-1.5zM839.3 724.8h1.5v1.5h-1.5zM842.3 724.8h1.5v1.5h-1.5zM828 726.1h1.5v1.5h-1.5zM831 726.1h1.5v1.5h-1.5zM832.5 726.1h1.5v1.5h-1.5zM834 726.1h1.5v1.5h-1.5zM835.5 726.1h1.5v1.5h-1.5zM837 726.1h1.5v1.5h-1.5zM838.5 726.1h1.5v1.5h-1.5zM841.5 726.1h1.5v1.5h-1.5zM843 726.1h1.5v1.5h-1.5zM828.8 727.4h1.5v1.5h-1.5zM830.3 727.4h1.5v1.5h-1.5zM831.8 727.4h1.5v1.5h-1.5zM833.3 727.4h1.5v1.5h-1.5zM834.8 727.4h1.5v1.5h-1.5zM836.3 727.4h1.5v1.5h-1.5zM839.3 727.4h1.5v1.5h-1.5zM840.8 727.4h1.5v1.5h-1.5zM826.5 728.7h1.5v1.5h-1.5zM828 728.7h1.5v1.5h-1.5zM829.5 728.7h1.5v1.5h-1.5zM831 728.7h1.5v1.5h-1.5zM832.5 728.7h1.5v1.5h-1.5zM834 728.7h1.5v1.5h-1.5zM835.5 728.7h1.5v1.5h-1.5zM837 728.7h1.5v1.5h-1.5zM838.5 728.7h1.5v1.5h-1.5zM824.3 730h1.5v1.5h-1.5zM827.3 730h1.5v1.5h-1.5zM830.3 730h1.5v1.5h-1.5zM831.8 730h1.5v1.5h-1.5zM833.3 730h1.5v1.5h-1.5zM834.8 730h1.5v1.5h-1.5zM836.3 730h1.5v1.5h-1.5zM837.8 730h1.5v1.5h-1.5zM839.3 730h1.5v1.5h-1.5zM825 731.3h1.5v1.5h-1.5zM828 731.3h1.5v1.5h-1.5zM829.5 731.3h1.5v1.5h-1.5zM831 731.3h1.5v1.5h-1.5zM832.5 731.3h1.5v1.5h-1.5zM834 731.3h1.5v1.5h-1.5zM835.5 731.3h1.5v1.5h-1.5zM837 731.3h1.5v1.5h-1.5zM840 731.3h1.5v1.5h-1.5zM827.3 732.6h1.5v1.5h-1.5zM828.8 732.6h1.5v1.5h-1.5zM830.3 732.6h1.5v1.5h-1.5zM831.8 732.6h1.5v1.5h-1.5zM833.3 732.6h1.5v1.5h-1.5zM834.8 732.6h1.5v1.5h-1.5zM836.3 732.6h1.5v1.5h-1.5zM837.8 732.6h1.5v1.5h-1.5zM839.3 732.6h1.5v1.5h-1.5zM822 733.9h1.5v1.5h-1.5zM825 733.9h1.5v1.5h-1.5zM828 733.9h1.5v1.5h-1.5zM829.5 733.9h1.5v1.5h-1.5zM831 733.9h1.5v1.5h-1.5zM832.5 733.9h1.5v1.5h-1.5zM834 733.9h1.5v1.5h-1.5zM835.5 733.9h1.5v1.5h-1.5zM837 733.9h1.5v1.5h-1.5zM821.3 735.2h1.5v1.5h-1.5zM824.3 735.2h1.5v1.5h-1.5zM825.8 735.2h1.5v1.5h-1.5zM827.3 735.2h1.5v1.5h-1.5zM828.8 735.2h1.5v1.5h-1.5zM830.3 735.2h1.5v1.5h-1.5zM831.8 735.2h1.5v1.5h-1.5zM833.3 735.2h1.5v1.5h-1.5zM834.8 735.2h1.5v1.5h-1.5zM837.8 735.2h1.5v1.5h-1.5zM822 736.5h1.5v1.5h-1.5zM823.5 736.5h1.5v1.5h-1.5zM825 736.5h1.5v1.5h-1.5zM826.5 736.5h1.5v1.5h-1.5zM828 736.5h1.5v1.5h-1.5zM829.5 736.5h1.5v1.5h-1.5zM831 736.5h1.5v1.5h-1.5zM821.3 737.8h1.5v1.5h-1.5zM822.8 737.8h1.5v1.5h-1.5zM824.3 737.8h1.5v1.5h-1.5zM825.8 737.8h1.5v1.5h-1.5zM827.3 737.8h1.5v1.5h-1.5zM828.8 737.8h1.5v1.5h-1.5zM830.3 737.8h1.5v1.5h-1.5zM833.3 737.8h1.5v1.5h-1.5zM834.8 737.8h1.5v1.5h-1.5zM836.3 737.8h1.5v1.5h-1.5zM822 739.1h1.5v1.5h-1.5zM823.5 739.1h1.5v1.5h-1.5zM825 739.1h1.5v1.5h-1.5zM826.5 739.1h1.5v1.5h-1.5zM828 739.1h1.5v1.5h-1.5zM831 739.1h1.5v1.5h-1.5zM834 739.1h1.5v1.5h-1.5zM819.8 740.4h1.5v1.5h-1.5zM822.8 740.4h1.5v1.5h-1.5zM824.3 740.4h1.5v1.5h-1.5zM825.8 740.4h1.5v1.5h-1.5zM827.3 740.4h1.5v1.5h-1.5zM828.8 740.4h1.5v1.5h-1.5zM830.3 740.4h1.5v1.5h-1.5zM831.8 740.4h1.5v1.5h-1.5zM833.3 740.4h1.5v1.5h-1.5zM822 741.7h1.5v1.5h-1.5zM825 741.7h1.5v1.5h-1.5zM826.5 741.7h1.5v1.5h-1.5zM828 741.7h1.5v1.5h-1.5zM831 741.7h1.5v1.5h-1.5zM819.8 743h1.5v1.5h-1.5zM821.3 743h1.5v1.5h-1.5zM822.8 743h1.5v1.5h-1.5zM824.3 743h1.5v1.5h-1.5zM825.8 743h1.5v1.5h-1.5zM827.3 743h1.5v1.5h-1.5zM828.8 743h1.5v1.5h-1.5zM830.3 743h1.5v1.5h-1.5zM831.8 743h1.5v1.5h-1.5z" fill="#a0a030"/>
<circle cx="761.9" cy="632.4" r="4.2" fill="#a0a030"/>
<circle cx="761.9" cy="646.9" r="4.2" fill="#c8c090"/>
<text x="773.1" y="636.1" font-size="11.8" fill="#1f1f2a">Cancer cell 3</text>
<text x="774.3" y="651.1" font-size="11.8" fill="#1f1f2a">Cancer cell 6</text>
<rect x="867.8" y="620.1" width="109.5" height="129.9" fill="#7a4a88"/>
<rect x="873.8" y="626.1" width="97.5" height="117.9" fill="#fff"/>
<rect x="873.9" y="647" width="97.4" height="97" fill="#e4d3dd"/>
<polygon points="873.9,647 971.3,647 971.3,667 959.3,661 941.3,659 921.3,658 901.9,656 891.9,652 873.9,653" fill="#f1eaee" filter="url(#bl2)"/>
<polygon points="918.9,744 925.9,735 939.9,737 949.9,744" fill="#efe7ec" filter="url(#bl2)"/>
<polygon points="965.3,667 971.3,667 971.3,744 963.3,714" fill="#ebe2e8" filter="url(#bl2)"/>
<path d="M887.7 725.6h1.5v1.5h-1.5zM910.2 725.6h1.5v1.5h-1.5zM888.4 726.9h1.5v1.5h-1.5zM889.9 726.9h1.5v1.5h-1.5zM892.9 726.9h1.5v1.5h-1.5zM894.4 726.9h1.5v1.5h-1.5zM883.2 728.2h1.5v1.5h-1.5zM884.7 728.2h1.5v1.5h-1.5zM886.2 728.2h1.5v1.5h-1.5zM889.2 728.2h1.5v1.5h-1.5zM890.7 728.2h1.5v1.5h-1.5zM892.2 728.2h1.5v1.5h-1.5zM907.2 728.2h1.5v1.5h-1.5zM908.7 728.2h1.5v1.5h-1.5zM885.4 729.5h1.5v1.5h-1.5zM888.4 729.5h1.5v1.5h-1.5zM891.4 729.5h1.5v1.5h-1.5zM894.4 729.5h1.5v1.5h-1.5zM897.4 729.5h1.5v1.5h-1.5zM906.4 729.5h1.5v1.5h-1.5zM907.9 729.5h1.5v1.5h-1.5zM886.2 730.8h1.5v1.5h-1.5zM887.7 730.8h1.5v1.5h-1.5zM890.7 730.8h1.5v1.5h-1.5zM892.2 730.8h1.5v1.5h-1.5zM893.7 730.8h1.5v1.5h-1.5zM896.7 730.8h1.5v1.5h-1.5zM898.2 730.8h1.5v1.5h-1.5zM902.7 730.8h1.5v1.5h-1.5zM905.7 730.8h1.5v1.5h-1.5zM908.7 730.8h1.5v1.5h-1.5zM879.4 732.1h1.5v1.5h-1.5zM882.4 732.1h1.5v1.5h-1.5zM883.9 732.1h1.5v1.5h-1.5zM885.4 732.1h1.5v1.5h-1.5zM886.9 732.1h1.5v1.5h-1.5zM888.4 732.1h1.5v1.5h-1.5zM889.9 732.1h1.5v1.5h-1.5zM891.4 732.1h1.5v1.5h-1.5zM892.9 732.1h1.5v1.5h-1.5zM894.4 732.1h1.5v1.5h-1.5zM895.9 732.1h1.5v1.5h-1.5zM897.4 732.1h1.5v1.5h-1.5zM898.9 732.1h1.5v1.5h-1.5zM900.4 732.1h1.5v1.5h-1.5zM904.9 732.1h1.5v1.5h-1.5zM883.2 733.4h1.5v1.5h-1.5zM884.7 733.4h1.5v1.5h-1.5zM886.2 733.4h1.5v1.5h-1.5zM887.7 733.4h1.5v1.5h-1.5zM889.2 733.4h1.5v1.5h-1.5zM890.7 733.4h1.5v1.5h-1.5zM892.2 733.4h1.5v1.5h-1.5zM893.7 733.4h1.5v1.5h-1.5zM895.2 733.4h1.5v1.5h-1.5zM896.7 733.4h1.5v1.5h-1.5zM898.2 733.4h1.5v1.5h-1.5zM876.4 734.7h1.5v1.5h-1.5zM879.4 734.7h1.5v1.5h-1.5zM880.9 734.7h1.5v1.5h-1.5zM882.4 734.7h1.5v1.5h-1.5zM883.9 734.7h1.5v1.5h-1.5zM885.4 734.7h1.5v1.5h-1.5zM886.9 734.7h1.5v1.5h-1.5zM888.4 734.7h1.5v1.5h-1.5zM889.9 734.7h1.5v1.5h-1.5zM891.4 734.7h1.5v1.5h-1.5zM892.9 734.7h1.5v1.5h-1.5zM894.4 734.7h1.5v1.5h-1.5zM895.9 734.7h1.5v1.5h-1.5zM897.4 734.7h1.5v1.5h-1.5zM900.4 734.7h1.5v1.5h-1.5zM903.4 734.7h1.5v1.5h-1.5zM877.2 736h1.5v1.5h-1.5zM878.7 736h1.5v1.5h-1.5zM880.2 736h1.5v1.5h-1.5zM881.7 736h1.5v1.5h-1.5zM883.2 736h1.5v1.5h-1.5zM884.7 736h1.5v1.5h-1.5zM886.2 736h1.5v1.5h-1.5zM887.7 736h1.5v1.5h-1.5zM889.2 736h1.5v1.5h-1.5zM890.7 736h1.5v1.5h-1.5zM892.2 736h1.5v1.5h-1.5zM893.7 736h1.5v1.5h-1.5zM895.2 736h1.5v1.5h-1.5zM896.7 736h1.5v1.5h-1.5zM898.2 736h1.5v1.5h-1.5zM899.7 736h1.5v1.5h-1.5zM901.2 736h1.5v1.5h-1.5zM902.7 736h1.5v1.5h-1.5zM904.2 736h1.5v1.5h-1.5zM877.9 737.3h1.5v1.5h-1.5zM880.9 737.3h1.5v1.5h-1.5zM882.4 737.3h1.5v1.5h-1.5zM883.9 737.3h1.5v1.5h-1.5zM885.4 737.3h1.5v1.5h-1.5zM886.9 737.3h1.5v1.5h-1.5zM888.4 737.3h1.5v1.5h-1.5zM889.9 737.3h1.5v1.5h-1.5zM891.4 737.3h1.5v1.5h-1.5zM892.9 737.3h1.5v1.5h-1.5zM894.4 737.3h1.5v1.5h-1.5zM895.9 737.3h1.5v1.5h-1.5zM897.4 737.3h1.5v1.5h-1.5zM898.9 737.3h1.5v1.5h-1.5zM900.4 737.3h1.5v1.5h-1.5zM901.9 737.3h1.5v1.5h-1.5zM903.4 737.3h1.5v1.5h-1.5zM904.9 737.3h1.5v1.5h-1.5zM875.7 738.6h1.5v1.5h-1.5zM880.2 738.6h1.5v1.5h-1.5zM881.7 738.6h1.5v1.5h-1.5zM883.2 738.6h1.5v1.5h-1.5zM884.7 738.6h1.5v1.5h-1.5zM886.2 738.6h1.5v1.5h-1.5zM887.7 738.6h1.5v1.5h-1.5zM889.2 738.6h1.5v1.5h-1.5zM890.7 738.6h1.5v1.5h-1.5zM892.2 738.6h1.5v1.5h-1.5zM893.7 738.6h1.5v1.5h-1.5zM895.2 738.6h1.5v1.5h-1.5zM896.7 738.6h1.5v1.5h-1.5zM898.2 738.6h1.5v1.5h-1.5zM899.7 738.6h1.5v1.5h-1.5zM901.2 738.6h1.5v1.5h-1.5zM902.7 738.6h1.5v1.5h-1.5zM904.2 738.6h1.5v1.5h-1.5zM876.4 740h1.5v1.5h-1.5zM879.4 740h1.5v1.5h-1.5zM880.9 740h1.5v1.5h-1.5zM882.4 740h1.5v1.5h-1.5zM883.9 740h1.5v1.5h-1.5zM885.4 740h1.5v1.5h-1.5zM886.9 740h1.5v1.5h-1.5zM888.4 740h1.5v1.5h-1.5zM889.9 740h1.5v1.5h-1.5zM891.4 740h1.5v1.5h-1.5zM892.9 740h1.5v1.5h-1.5zM894.4 740h1.5v1.5h-1.5zM895.9 740h1.5v1.5h-1.5zM897.4 740h1.5v1.5h-1.5zM898.9 740h1.5v1.5h-1.5zM900.4 740h1.5v1.5h-1.5zM901.9 740h1.5v1.5h-1.5zM903.4 740h1.5v1.5h-1.5zM904.9 740h1.5v1.5h-1.5zM880.2 741.3h1.5v1.5h-1.5zM881.7 741.3h1.5v1.5h-1.5zM883.2 741.3h1.5v1.5h-1.5zM884.7 741.3h1.5v1.5h-1.5zM886.2 741.3h1.5v1.5h-1.5zM887.7 741.3h1.5v1.5h-1.5zM889.2 741.3h1.5v1.5h-1.5zM890.7 741.3h1.5v1.5h-1.5zM892.2 741.3h1.5v1.5h-1.5zM893.7 741.3h1.5v1.5h-1.5zM895.2 741.3h1.5v1.5h-1.5zM896.7 741.3h1.5v1.5h-1.5zM898.2 741.3h1.5v1.5h-1.5zM899.7 741.3h1.5v1.5h-1.5zM901.2 741.3h1.5v1.5h-1.5zM902.7 741.3h1.5v1.5h-1.5zM904.2 741.3h1.5v1.5h-1.5zM905.7 741.3h1.5v1.5h-1.5z" fill="#3f9a3f"/>
<circle cx="880.5" cy="639.1" r="4.2" fill="#409a40"/>
<text x="892.7" y="642.8" font-size="11.8" fill="#1f1f2a">Cancer cell 4</text>
<rect x="989" y="620.1" width="109.2" height="129.2" fill="#7a4a88"/>
<rect x="992.8" y="623.9" width="101.6" height="121.6" fill="#c0704a"/>
<rect x="994.4" y="625.5" width="98.4" height="118.4" fill="#f0a868"/>
<rect x="998" y="629.1" width="91.2" height="111.2" fill="#fff"/>
<rect x="997.8" y="649.2" width="91.6" height="91.3" fill="#e4d3dd"/>
<polygon points="997.8,649.2 1089.4,649.2 1089.4,669.2 1077.4,663.2 1059.4,661.2 1039.4,660.2 1025.8,658.2 1015.8,654.2 997.8,655.2" fill="#f1eaee" filter="url(#bl2)"/>
<polygon points="1042.8,740.5 1049.8,731.5 1063.8,733.5 1073.8,740.5" fill="#efe7ec" filter="url(#bl2)"/>
<polygon points="1083.4,669.2 1089.4,669.2 1089.4,740.5 1081.4,710.5" fill="#ebe2e8" filter="url(#bl2)"/>
<path d="M1010.1 717.4h1.5v1.5h-1.5zM1014.6 717.4h1.5v1.5h-1.5zM1012.3 718.7h1.5v1.5h-1.5zM1019.8 718.7h1.5v1.5h-1.5zM1022.8 718.7h1.5v1.5h-1.5zM1002.6 720h1.5v1.5h-1.5zM1004.1 720h1.5v1.5h-1.5zM1005.6 720h1.5v1.5h-1.5zM1008.6 720h1.5v1.5h-1.5zM1010.1 720h1.5v1.5h-1.5zM1013.1 720h1.5v1.5h-1.5zM1014.6 720h1.5v1.5h-1.5zM1016.1 720h1.5v1.5h-1.5zM1017.6 720h1.5v1.5h-1.5zM1019.1 720h1.5v1.5h-1.5zM1022.1 720h1.5v1.5h-1.5zM1023.6 720h1.5v1.5h-1.5zM1025.1 720h1.5v1.5h-1.5zM1026.6 720h1.5v1.5h-1.5zM1029.6 720h1.5v1.5h-1.5zM1031.1 720h1.5v1.5h-1.5zM1000.3 721.3h1.5v1.5h-1.5zM1004.8 721.3h1.5v1.5h-1.5zM1006.3 721.3h1.5v1.5h-1.5zM1009.3 721.3h1.5v1.5h-1.5zM1010.8 721.3h1.5v1.5h-1.5zM1012.3 721.3h1.5v1.5h-1.5zM1013.8 721.3h1.5v1.5h-1.5zM1015.3 721.3h1.5v1.5h-1.5zM1016.8 721.3h1.5v1.5h-1.5zM1018.3 721.3h1.5v1.5h-1.5zM1019.8 721.3h1.5v1.5h-1.5zM1021.3 721.3h1.5v1.5h-1.5zM1022.8 721.3h1.5v1.5h-1.5zM1024.3 721.3h1.5v1.5h-1.5zM1025.8 721.3h1.5v1.5h-1.5zM1027.3 721.3h1.5v1.5h-1.5zM1028.8 721.3h1.5v1.5h-1.5zM1030.3 721.3h1.5v1.5h-1.5zM1031.8 721.3h1.5v1.5h-1.5zM1033.3 721.3h1.5v1.5h-1.5zM1001.1 722.6h1.5v1.5h-1.5zM1004.1 722.6h1.5v1.5h-1.5zM1005.6 722.6h1.5v1.5h-1.5zM1007.1 722.6h1.5v1.5h-1.5zM1008.6 722.6h1.5v1.5h-1.5zM1010.1 722.6h1.5v1.5h-1.5zM1011.6 722.6h1.5v1.5h-1.5zM1013.1 722.6h1.5v1.5h-1.5zM1014.6 722.6h1.5v1.5h-1.5zM1017.6 722.6h1.5v1.5h-1.5zM1020.6 722.6h1.5v1.5h-1.5zM1022.1 722.6h1.5v1.5h-1.5zM1023.6 722.6h1.5v1.5h-1.5zM1025.1 722.6h1.5v1.5h-1.5zM1026.6 722.6h1.5v1.5h-1.5zM1028.1 722.6h1.5v1.5h-1.5zM1029.6 722.6h1.5v1.5h-1.5zM1031.1 722.6h1.5v1.5h-1.5zM1032.6 722.6h1.5v1.5h-1.5zM1035.6 722.6h1.5v1.5h-1.5zM998.8 723.9h1.5v1.5h-1.5zM1000.3 723.9h1.5v1.5h-1.5zM1001.8 723.9h1.5v1.5h-1.5zM1003.3 723.9h1.5v1.5h-1.5zM1004.8 723.9h1.5v1.5h-1.5zM1006.3 723.9h1.5v1.5h-1.5zM1007.8 723.9h1.5v1.5h-1.5zM1009.3 723.9h1.5v1.5h-1.5zM1010.8 723.9h1.5v1.5h-1.5zM1012.3 723.9h1.5v1.5h-1.5zM1013.8 723.9h1.5v1.5h-1.5zM1015.3 723.9h1.5v1.5h-1.5zM1016.8 723.9h1.5v1.5h-1.5zM1018.3 723.9h1.5v1.5h-1.5zM1019.8 723.9h1.5v1.5h-1.5zM1021.3 723.9h1.5v1.5h-1.5zM1022.8 723.9h1.5v1.5h-1.5zM1024.3 723.9h1.5v1.5h-1.5zM1025.8 723.9h1.5v1.5h-1.5zM1028.8 723.9h1.5v1.5h-1.5zM1030.3 723.9h1.5v1.5h-1.5zM1031.8 723.9h1.5v1.5h-1.5zM1034.8 723.9h1.5v1.5h-1.5zM999.6 725.2h1.5v1.5h-1.5zM1002.6 725.2h1.5v1.5h-1.5zM1004.1 725.2h1.5v1.5h-1.5zM1007.1 725.2h1.5v1.5h-1.5zM1008.6 725.2h1.5v1.5h-1.5zM1010.1 725.2h1.5v1.5h-1.5zM1011.6 725.2h1.5v1.5h-1.5zM1013.1 725.2h1.5v1.5h-1.5zM1014.6 725.2h1.5v1.5h-1.5zM1016.1 725.2h1.5v1.5h-1.5zM1017.6 725.2h1.5v1.5h-1.5zM1019.1 725.2h1.5v1.5h-1.5zM1020.6 725.2h1.5v1.5h-1.5zM1022.1 725.2h1.5v1.5h-1.5zM1023.6 725.2h1.5v1.5h-1.5zM1025.1 725.2h1.5v1.5h-1.5zM1026.6 725.2h1.5v1.5h-1.5zM1028.1 725.2h1.5v1.5h-1.5zM1029.6 725.2h1.5v1.5h-1.5zM1031.1 725.2h1.5v1.5h-1.5zM1032.6 725.2h1.5v1.5h-1.5zM1034.1 725.2h1.5v1.5h-1.5zM1035.6 725.2h1.5v1.5h-1.5zM1037.1 725.2h1.5v1.5h-1.5zM1041.6 725.2h1.5v1.5h-1.5zM998.8 726.5h1.5v1.5h-1.5zM1000.3 726.5h1.5v1.5h-1.5zM1001.8 726.5h1.5v1.5h-1.5zM1003.3 726.5h1.5v1.5h-1.5zM1004.8 726.5h1.5v1.5h-1.5zM1006.3 726.5h1.5v1.5h-1.5zM1007.8 726.5h1.5v1.5h-1.5zM1009.3 726.5h1.5v1.5h-1.5zM1010.8 726.5h1.5v1.5h-1.5zM1012.3 726.5h1.5v1.5h-1.5zM1013.8 726.5h1.5v1.5h-1.5zM1016.8 726.5h1.5v1.5h-1.5zM1018.3 726.5h1.5v1.5h-1.5zM1019.8 726.5h1.5v1.5h-1.5zM1021.3 726.5h1.5v1.5h-1.5zM1024.3 726.5h1.5v1.5h-1.5zM1025.8 726.5h1.5v1.5h-1.5zM1027.3 726.5h1.5v1.5h-1.5zM1028.8 726.5h1.5v1.5h-1.5zM1030.3 726.5h1.5v1.5h-1.5zM1031.8 726.5h1.5v1.5h-1.5zM1033.3 726.5h1.5v1.5h-1.5zM1036.3 726.5h1.5v1.5h-1.5zM1037.8 726.5h1.5v1.5h-1.5zM1039.3 726.5h1.5v1.5h-1.5zM1040.8 726.5h1.5v1.5h-1.5zM1042.3 726.5h1.5v1.5h-1.5zM998.1 727.8h1.5v1.5h-1.5zM999.6 727.8h1.5v1.5h-1.5zM1001.1 727.8h1.5v1.5h-1.5zM1002.6 727.8h1.5v1.5h-1.5zM1004.1 727.8h1.5v1.5h-1.5zM1005.6 727.8h1.5v1.5h-1.5zM1008.6 727.8h1.5v1.5h-1.5zM1010.1 727.8h1.5v1.5h-1.5zM1016.1 727.8h1.5v1.5h-1.5zM1017.6 727.8h1.5v1.5h-1.5zM1025.1 727.8h1.5v1.5h-1.5zM1029.6 727.8h1.5v1.5h-1.5zM1031.1 727.8h1.5v1.5h-1.5zM1034.1 727.8h1.5v1.5h-1.5zM1035.6 727.8h1.5v1.5h-1.5zM1037.1 727.8h1.5v1.5h-1.5zM1038.6 727.8h1.5v1.5h-1.5zM1040.1 727.8h1.5v1.5h-1.5zM1041.6 727.8h1.5v1.5h-1.5zM1043.1 727.8h1.5v1.5h-1.5zM998.8 729.1h1.5v1.5h-1.5zM1000.3 729.1h1.5v1.5h-1.5zM1001.8 729.1h1.5v1.5h-1.5zM1003.3 729.1h1.5v1.5h-1.5zM1004.8 729.1h1.5v1.5h-1.5zM1007.8 729.1h1.5v1.5h-1.5zM1009.3 729.1h1.5v1.5h-1.5zM1010.8 729.1h1.5v1.5h-1.5zM1027.3 729.1h1.5v1.5h-1.5zM1031.8 729.1h1.5v1.5h-1.5zM1033.3 729.1h1.5v1.5h-1.5zM1036.3 729.1h1.5v1.5h-1.5zM1037.8 729.1h1.5v1.5h-1.5zM1040.8 729.1h1.5v1.5h-1.5zM1042.3 729.1h1.5v1.5h-1.5zM998.1 730.4h1.5v1.5h-1.5zM999.6 730.4h1.5v1.5h-1.5zM1001.1 730.4h1.5v1.5h-1.5zM1002.6 730.4h1.5v1.5h-1.5zM1007.1 730.4h1.5v1.5h-1.5zM1028.1 730.4h1.5v1.5h-1.5zM1029.6 730.4h1.5v1.5h-1.5zM1031.1 730.4h1.5v1.5h-1.5zM1035.6 730.4h1.5v1.5h-1.5zM1037.1 730.4h1.5v1.5h-1.5zM1038.6 730.4h1.5v1.5h-1.5zM1040.1 730.4h1.5v1.5h-1.5zM1041.6 730.4h1.5v1.5h-1.5zM1043.1 730.4h1.5v1.5h-1.5zM1046.1 730.4h1.5v1.5h-1.5zM998.8 731.7h1.5v1.5h-1.5zM1000.3 731.7h1.5v1.5h-1.5zM1030.3 731.7h1.5v1.5h-1.5zM1034.8 731.7h1.5v1.5h-1.5zM1037.8 731.7h1.5v1.5h-1.5zM1040.8 731.7h1.5v1.5h-1.5zM1042.3 731.7h1.5v1.5h-1.5zM1001.1 733h1.5v1.5h-1.5zM1002.6 733h1.5v1.5h-1.5zM1004.1 733h1.5v1.5h-1.5zM1005.6 733h1.5v1.5h-1.5zM1032.6 733h1.5v1.5h-1.5zM1037.1 733h1.5v1.5h-1.5zM1038.6 733h1.5v1.5h-1.5zM1040.1 733h1.5v1.5h-1.5zM1041.6 733h1.5v1.5h-1.5zM998.8 734.3h1.5v1.5h-1.5zM1000.3 734.3h1.5v1.5h-1.5zM1001.8 734.3h1.5v1.5h-1.5zM1033.3 734.3h1.5v1.5h-1.5zM1036.3 734.3h1.5v1.5h-1.5zM1039.3 734.3h1.5v1.5h-1.5zM1040.8 734.3h1.5v1.5h-1.5zM1042.3 734.3h1.5v1.5h-1.5zM1043.8 734.3h1.5v1.5h-1.5zM998.1 735.6h1.5v1.5h-1.5zM999.6 735.6h1.5v1.5h-1.5zM1001.1 735.6h1.5v1.5h-1.5zM1002.6 735.6h1.5v1.5h-1.5zM1034.1 735.6h1.5v1.5h-1.5zM1037.1 735.6h1.5v1.5h-1.5zM1038.6 735.6h1.5v1.5h-1.5zM1040.1 735.6h1.5v1.5h-1.5zM1041.6 735.6h1.5v1.5h-1.5zM1043.1 735.6h1.5v1.5h-1.5zM998.8 736.9h1.5v1.5h-1.5zM1000.3 736.9h1.5v1.5h-1.5zM1001.8 736.9h1.5v1.5h-1.5zM1030.3 736.9h1.5v1.5h-1.5zM1031.8 736.9h1.5v1.5h-1.5zM1033.3 736.9h1.5v1.5h-1.5zM1034.8 736.9h1.5v1.5h-1.5zM1036.3 736.9h1.5v1.5h-1.5zM1039.3 736.9h1.5v1.5h-1.5zM1040.8 736.9h1.5v1.5h-1.5zM999.6 738.2h1.5v1.5h-1.5zM1001.1 738.2h1.5v1.5h-1.5zM1002.6 738.2h1.5v1.5h-1.5zM1032.6 738.2h1.5v1.5h-1.5zM1035.6 738.2h1.5v1.5h-1.5zM1037.1 738.2h1.5v1.5h-1.5zM1038.6 738.2h1.5v1.5h-1.5zM1048 716h1.5v1.5h-1.5zM1049 719h1.5v1.5h-1.5z" fill="#3a6a2a"/>
<circle cx="1006" cy="639.6" r="4.2" fill="#3a6a2a"/>
<text x="1016.3" y="643.5" font-size="11.8" fill="#1f1f2a">Cancer cell 5</text>
<rect x="621.1" y="762" width="16.5" height="16.5" fill="#7ccbea"/>
<rect x="625.1" y="766" width="8.5" height="8.5" fill="#fff"/>
<text x="644" y="773.9" font-size="11.8" fill="#1f1f2a">Aggressors</text>
<rect x="715.8" y="762.5" width="15.5" height="15.5" fill="#52ab8a"/>
<rect x="719.8" y="766.5" width="7.5" height="7.5" fill="#fff"/>
<text x="737.7" y="773.9" font-size="11.8" fill="#1f1f2a">Engineers</text>
<rect x="802.5" y="762.5" width="15.5" height="15.5" fill="#7a4a88"/>
<rect x="806.5" y="766.5" width="7.5" height="7.5" fill="#fff"/>
<text x="824.1" y="773.6" font-size="11.8" fill="#1f1f2a">Organizers</text>
<rect x="895.6" y="763.5" width="15.3" height="15.3" fill="#f0a868"/>
<rect x="899.6" y="767.5" width="7.3" height="7.3" fill="#fff"/>
<text x="917" y="773.2" font-size="11.8" fill="#1f1f2a">Energy suppliers</text>
</svg></body></html>
